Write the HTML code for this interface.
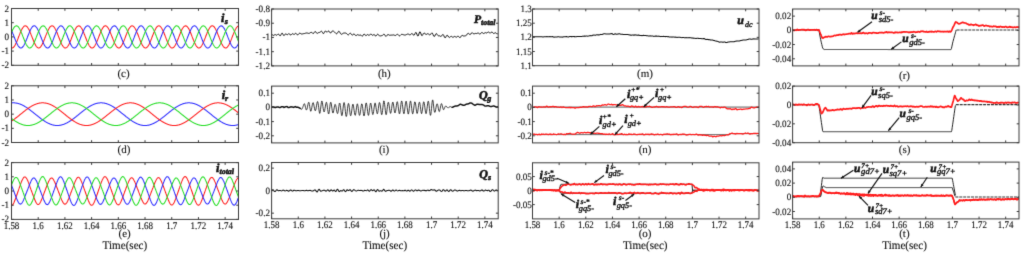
<!DOCTYPE html>
<html><head><meta charset="utf-8">
<style>
html,body{margin:0;padding:0;background:#fff;}
body{width:1024px;height:255px;overflow:hidden;}
svg{display:block;font-family:"Liberation Serif",serif;text-rendering:geometricPrecision;}
</style></head>
<body>
<svg width="1024" height="255" viewBox="0 0 1024 255">
<defs><filter id="bl" x="0" y="0" width="1024" height="255" filterUnits="userSpaceOnUse" color-interpolation-filters="sRGB"><feConvolveMatrix order="3" kernelMatrix="0.01134 0.08382 0.01134 0.08382 0.61935 0.08382 0.01134 0.08382 0.01134" edgeMode="duplicate"/></filter><clipPath id="clip00"><rect x="11.50" y="8.50" width="227.00" height="56.80"/></clipPath><clipPath id="clip01"><rect x="11.50" y="85.80" width="227.00" height="56.70"/></clipPath><clipPath id="clip02"><rect x="11.50" y="162.60" width="227.00" height="56.80"/></clipPath><clipPath id="clip10"><rect x="271.60" y="9.00" width="226.60" height="56.90"/></clipPath><clipPath id="clip11"><rect x="271.60" y="86.10" width="226.60" height="56.80"/></clipPath><clipPath id="clip12"><rect x="271.60" y="162.50" width="226.60" height="56.30"/></clipPath><clipPath id="clip20"><rect x="532.50" y="9.00" width="226.50" height="56.70"/></clipPath><clipPath id="clip21"><rect x="532.50" y="86.10" width="226.50" height="56.80"/></clipPath><clipPath id="clip22"><rect x="532.50" y="162.80" width="226.50" height="56.10"/></clipPath><clipPath id="clip30"><rect x="792.60" y="9.00" width="226.40" height="56.90"/></clipPath><clipPath id="clip31"><rect x="792.60" y="86.10" width="226.40" height="56.60"/></clipPath><clipPath id="clip32"><rect x="792.60" y="162.10" width="226.40" height="56.80"/></clipPath></defs>
<g filter="url(#bl)">
<rect width="1024" height="255" fill="#fff"/>
<g clip-path="url(#clip00)">
<polyline points="11.5,47.9 11.8,48.0 12.0,48.0 12.3,47.9 12.5,47.9 12.8,47.8 13.0,47.6 13.3,47.5 13.5,47.2 13.8,47.0 14.0,46.7 14.3,46.4 14.5,46.0 14.8,45.6 15.0,45.2 15.3,44.7 15.5,44.3 15.8,43.8 16.0,43.2 16.3,42.7 16.6,42.1 16.8,41.5 17.1,40.9 17.3,40.3 17.6,39.7 17.8,39.0 18.1,38.4 18.3,37.7 18.6,37.1 18.8,36.4 19.1,35.7 19.3,35.1 19.6,34.4 19.8,33.8 20.1,33.2 20.3,32.6 20.6,32.0 20.8,31.4 21.1,30.8 21.3,30.3 21.6,29.8 21.9,29.3 22.1,28.8 22.4,28.4 22.6,28.0 22.9,27.6 23.1,27.3 23.4,27.0 23.6,26.7 23.9,26.4 24.1,26.2 24.4,26.1 24.6,26.0 24.9,25.9 25.1,25.8 25.4,25.8 25.6,25.9 25.9,25.9 26.1,26.0 26.4,26.2 26.7,26.4 26.9,26.6 27.2,26.9 27.4,27.1 27.7,27.5 27.9,27.8 28.2,28.2 28.4,28.7 28.7,29.1 28.9,29.6 29.2,30.1 29.4,30.6 29.7,31.2 29.9,31.8 30.2,32.4 30.4,33.0 30.7,33.6 30.9,34.2 31.2,34.9 31.4,35.5 31.7,36.2 32.0,36.8 32.2,37.5 32.5,38.1 32.7,38.8 33.0,39.4 33.2,40.1 33.5,40.7 33.7,41.3 34.0,41.9 34.2,42.5 34.5,43.0 34.7,43.6 35.0,44.1 35.2,44.6 35.5,45.0 35.7,45.5 36.0,45.9 36.2,46.2 36.5,46.6 36.8,46.9 37.0,47.1 37.3,47.4 37.5,47.6 37.8,47.7 38.0,47.8 38.3,47.9 38.5,48.0 38.8,48.0 39.0,47.9 39.3,47.9 39.5,47.7 39.8,47.6 40.0,47.4 40.3,47.2 40.5,46.9 40.8,46.6 41.0,46.3 41.3,45.9 41.5,45.5 41.8,45.1 42.1,44.6 42.3,44.1 42.6,43.6 42.8,43.1 43.1,42.5 43.3,42.0 43.6,41.4 43.8,40.8 44.1,40.1 44.3,39.5 44.6,38.9 44.8,38.2 45.1,37.6 45.3,36.9 45.6,36.2 45.8,35.6 46.1,34.9 46.3,34.3 46.6,33.7 46.9,33.0 47.1,32.4 47.4,31.8 47.6,31.3 47.9,30.7 48.1,30.2 48.4,29.7 48.6,29.2 48.9,28.7 49.1,28.3 49.4,27.9 49.6,27.5 49.9,27.2 50.1,26.9 50.4,26.6 50.6,26.4 50.9,26.2 51.1,26.1 51.4,25.9 51.6,25.9 51.9,25.8 52.2,25.8 52.4,25.9 52.7,26.0 52.9,26.1 53.2,26.2 53.4,26.4 53.7,26.7 53.9,26.9 54.2,27.2 54.4,27.6 54.7,27.9 54.9,28.3 55.2,28.8 55.4,29.2 55.7,29.7 55.9,30.2 56.2,30.8 56.4,31.3 56.7,31.9 57.0,32.5 57.2,33.1 57.5,33.7 57.7,34.4 58.0,35.0 58.2,35.7 58.5,36.3 58.7,37.0 59.0,37.6 59.2,38.3 59.5,38.9 59.7,39.6 60.0,40.2 60.2,40.8 60.5,41.4 60.7,42.0 61.0,42.6 61.2,43.2 61.5,43.7 61.7,44.2 62.0,44.7 62.3,45.1 62.5,45.6 62.8,46.0 63.0,46.3 63.3,46.6 63.5,46.9 63.8,47.2 64.0,47.4 64.3,47.6 64.5,47.8 64.8,47.9 65.0,47.9 65.3,48.0 65.5,48.0 65.8,47.9 66.0,47.8 66.3,47.7 66.5,47.6 66.8,47.4 67.1,47.1 67.3,46.8 67.6,46.5 67.8,46.2 68.1,45.8 68.3,45.4 68.6,45.0 68.8,44.5 69.1,44.0 69.3,43.5 69.6,43.0 69.8,42.4 70.1,41.8 70.3,41.2 70.6,40.6 70.8,40.0 71.1,39.4 71.3,38.7 71.6,38.1 71.8,37.4 72.1,36.7 72.4,36.1 72.6,35.4 72.9,34.8 73.1,34.1 73.4,33.5 73.6,32.9 73.9,32.3 74.1,31.7 74.4,31.1 74.6,30.6 74.9,30.0 75.1,29.5 75.4,29.1 75.6,28.6 75.9,28.2 76.1,27.8 76.4,27.4 76.6,27.1 76.9,26.8 77.2,26.6 77.4,26.4 77.7,26.2 77.9,26.0 78.2,25.9 78.4,25.9 78.7,25.8 78.9,25.8 79.2,25.9 79.4,26.0 79.7,26.1 79.9,26.3 80.2,26.5 80.4,26.7 80.7,27.0 80.9,27.3 81.2,27.6 81.4,28.0 81.7,28.4 81.9,28.9 82.2,29.3 82.5,29.8 82.7,30.4 83.0,30.9 83.2,31.5 83.5,32.0 83.7,32.6 84.0,33.3 84.2,33.9 84.5,34.5 84.7,35.2 85.0,35.8 85.2,36.5 85.5,37.1 85.7,37.8 86.0,38.4 86.2,39.1 86.5,39.7 86.7,40.4 87.0,41.0 87.3,41.6 87.5,42.2 87.8,42.7 88.0,43.3 88.3,43.8 88.5,44.3 88.8,44.8 89.0,45.2 89.3,45.7 89.5,46.0 89.8,46.4 90.0,46.7 90.3,47.0 90.5,47.3 90.8,47.5 91.0,47.7 91.3,47.8 91.5,47.9 91.8,48.0 92.0,48.0 92.3,48.0 92.6,47.9 92.8,47.8 93.1,47.7 93.3,47.5 93.6,47.3 93.8,47.1 94.1,46.8 94.3,46.5 94.6,46.1 94.8,45.7 95.1,45.3 95.3,44.9 95.6,44.4 95.8,43.9 96.1,43.4 96.3,42.8 96.6,42.3 96.8,41.7 97.1,41.1 97.4,40.5 97.6,39.8 97.9,39.2 98.1,38.6 98.4,37.9 98.6,37.3 98.9,36.6 99.1,35.9 99.4,35.3 99.6,34.6 99.9,34.0 100.1,33.4 100.4,32.7 100.6,32.1 100.9,31.6 101.1,31.0 101.4,30.4 101.6,29.9 101.9,29.4 102.1,29.0 102.4,28.5 102.7,28.1 102.9,27.7 103.2,27.4 103.4,27.0 103.7,26.8 103.9,26.5 104.2,26.3 104.4,26.1 104.7,26.0 104.9,25.9 105.2,25.8 105.4,25.8 105.7,25.8 105.9,25.9 106.2,26.0 106.4,26.1 106.7,26.3 106.9,26.5 107.2,26.8 107.5,27.1 107.7,27.4 108.0,27.7 108.2,28.1 108.5,28.5 108.7,29.0 109.0,29.5 109.2,30.0 109.5,30.5 109.7,31.0 110.0,31.6 110.2,32.2 110.5,32.8 110.7,33.4 111.0,34.0 111.2,34.7 111.5,35.3 111.7,36.0 112.0,36.6 112.2,37.3 112.5,37.9 112.8,38.6 113.0,39.2 113.3,39.9 113.5,40.5 113.8,41.1 114.0,41.7 114.3,42.3 114.5,42.9 114.8,43.4 115.0,43.9 115.3,44.4 115.5,44.9 115.8,45.3 116.0,45.8 116.3,46.1 116.5,46.5 116.8,46.8 117.0,47.1 117.3,47.3 117.6,47.5 117.8,47.7 118.1,47.8 118.3,47.9 118.6,48.0 118.8,48.0 119.1,48.0 119.3,47.9 119.6,47.8 119.8,47.6 120.1,47.5 120.3,47.2 120.6,47.0 120.8,46.7 121.1,46.4 121.3,46.0 121.6,45.6 121.8,45.2 122.1,44.8 122.3,44.3 122.6,43.8 122.9,43.3 123.1,42.7 123.4,42.1 123.6,41.6 123.9,40.9 124.1,40.3 124.4,39.7 124.6,39.1 124.9,38.4 125.1,37.8 125.4,37.1 125.6,36.4 125.9,35.8 126.1,35.1 126.4,34.5 126.6,33.8 126.9,33.2 127.1,32.6 127.4,32.0 127.7,31.4 127.9,30.9 128.2,30.3 128.4,29.8 128.7,29.3 128.9,28.8 129.2,28.4 129.4,28.0 129.7,27.6 129.9,27.3 130.2,27.0 130.4,26.7 130.7,26.5 130.9,26.3 131.2,26.1 131.4,26.0 131.7,25.9 131.9,25.8 132.2,25.8 132.4,25.9 132.7,25.9 133.0,26.0 133.2,26.2 133.5,26.4 133.7,26.6 134.0,26.8 134.2,27.1 134.5,27.5 134.7,27.8 135.0,28.2 135.2,28.6 135.5,29.1 135.7,29.6 136.0,30.1 136.2,30.6 136.5,31.2 136.7,31.7 137.0,32.3 137.2,32.9 137.5,33.5 137.8,34.2 138.0,34.8 138.3,35.5 138.5,36.1 138.8,36.8 139.0,37.4 139.3,38.1 139.5,38.7 139.8,39.4 140.0,40.0 140.3,40.7 140.5,41.3 140.8,41.9 141.0,42.4 141.3,43.0 141.5,43.5 141.8,44.1 142.0,44.5 142.3,45.0 142.5,45.4 142.8,45.8 143.1,46.2 143.3,46.6 143.6,46.9 143.8,47.1 144.1,47.4 144.3,47.6 144.6,47.7 144.8,47.8 145.1,47.9 145.3,48.0 145.6,48.0 145.8,47.9 146.1,47.9 146.3,47.8 146.6,47.6 146.8,47.4 147.1,47.2 147.3,46.9 147.6,46.6 147.9,46.3 148.1,45.9 148.4,45.5 148.6,45.1 148.9,44.7 149.1,44.2 149.4,43.7 149.6,43.1 149.9,42.6 150.1,42.0 150.4,41.4 150.6,40.8 150.9,40.2 151.1,39.5 151.4,38.9 151.6,38.3 151.9,37.6 152.1,36.9 152.4,36.3 152.6,35.6 152.9,35.0 153.2,34.3 153.4,33.7 153.7,33.1 153.9,32.5 154.2,31.9 154.4,31.3 154.7,30.7 154.9,30.2 155.2,29.7 155.4,29.2 155.7,28.7 155.9,28.3 156.2,27.9 156.4,27.5 156.7,27.2 156.9,26.9 157.2,26.6 157.4,26.4 157.7,26.2 158.0,26.1 158.2,25.9 158.5,25.9 158.7,25.8 159.0,25.8 159.2,25.9 159.5,25.9 159.7,26.1 160.0,26.2 160.2,26.4 160.5,26.6 160.7,26.9 161.0,27.2 161.2,27.5 161.5,27.9 161.7,28.3 162.0,28.7 162.2,29.2 162.5,29.7 162.7,30.2 163.0,30.7 163.3,31.3 163.5,31.9 163.8,32.5 164.0,33.1 164.3,33.7 164.5,34.3 164.8,35.0 165.0,35.6 165.3,36.3 165.5,36.9 165.8,37.6 166.0,38.2 166.3,38.9 166.5,39.5 166.8,40.2 167.0,40.8 167.3,41.4 167.5,42.0 167.8,42.6 168.1,43.1 168.3,43.7 168.6,44.2 168.8,44.7 169.1,45.1 169.3,45.5 169.6,45.9 169.8,46.3 170.1,46.6 170.3,46.9 170.6,47.2 170.8,47.4 171.1,47.6 171.3,47.8 171.6,47.9 171.8,47.9 172.1,48.0 172.3,48.0 172.6,47.9 172.8,47.8 173.1,47.7 173.4,47.6 173.6,47.4 173.9,47.1 174.1,46.9 174.4,46.6 174.6,46.2 174.9,45.8 175.1,45.4 175.4,45.0 175.6,44.5 175.9,44.1 176.1,43.5 176.4,43.0 176.6,42.4 176.9,41.9 177.1,41.3 177.4,40.7 177.6,40.0 177.9,39.4 178.2,38.8 178.4,38.1 178.7,37.4 178.9,36.8 179.2,36.1 179.4,35.5 179.7,34.8 179.9,34.2 180.2,33.5 180.4,32.9 180.7,32.3 180.9,31.7 181.2,31.2 181.4,30.6 181.7,30.1 181.9,29.6 182.2,29.1 182.4,28.6 182.7,28.2 182.9,27.8 183.2,27.5 183.5,27.1 183.7,26.8 184.0,26.6 184.2,26.4 184.5,26.2 184.7,26.0 185.0,25.9 185.2,25.9 185.5,25.8 185.7,25.8 186.0,25.9 186.2,26.0 186.5,26.1 186.7,26.3 187.0,26.5 187.2,26.7 187.5,27.0 187.7,27.3 188.0,27.6 188.3,28.0 188.5,28.4 188.8,28.8 189.0,29.3 189.3,29.8 189.5,30.3 189.8,30.9 190.0,31.4 190.3,32.0 190.5,32.6 190.8,33.2 191.0,33.8 191.3,34.5 191.5,35.1 191.8,35.8 192.0,36.4 192.3,37.1 192.5,37.7 192.8,38.4 193.0,39.1 193.3,39.7 193.6,40.3 193.8,40.9 194.1,41.5 194.3,42.1 194.6,42.7 194.8,43.3 195.1,43.8 195.3,44.3 195.6,44.8 195.8,45.2 196.1,45.6 196.3,46.0 196.6,46.4 196.8,46.7 197.1,47.0 197.3,47.2 197.6,47.5 197.8,47.6 198.1,47.8 198.4,47.9 198.6,48.0 198.9,48.0 199.1,48.0 199.4,47.9 199.6,47.8 199.9,47.7 200.1,47.5 200.4,47.3 200.6,47.1 200.9,46.8 201.1,46.5 201.4,46.1 201.6,45.8 201.9,45.3 202.1,44.9 202.4,44.4 202.6,43.9 202.9,43.4 203.1,42.9 203.4,42.3 203.7,41.7 203.9,41.1 204.2,40.5 204.4,39.9 204.7,39.2 204.9,38.6 205.2,37.9 205.4,37.3 205.7,36.6 205.9,36.0 206.2,35.3 206.4,34.7 206.7,34.0 206.9,33.4 207.2,32.8 207.4,32.2 207.7,31.6 207.9,31.0 208.2,30.5 208.5,30.0 208.7,29.5 209.0,29.0 209.2,28.5 209.5,28.1 209.7,27.7 210.0,27.4 210.2,27.1 210.5,26.8 210.7,26.5 211.0,26.3 211.2,26.1 211.5,26.0 211.7,25.9 212.0,25.8 212.2,25.8 212.5,25.8 212.7,25.9 213.0,26.0 213.2,26.1 213.5,26.3 213.8,26.5 214.0,26.8 214.3,27.0 214.5,27.4 214.8,27.7 215.0,28.1 215.3,28.5 215.5,29.0 215.8,29.4 216.0,29.9 216.3,30.4 216.5,31.0 216.8,31.6 217.0,32.1 217.3,32.7 217.5,33.4 217.8,34.0 218.0,34.6 218.3,35.3 218.6,35.9 218.8,36.6 219.1,37.2 219.3,37.9 219.6,38.6 219.8,39.2 220.1,39.8 220.3,40.5 220.6,41.1 220.8,41.7 221.1,42.3 221.3,42.8 221.6,43.4 221.8,43.9 222.1,44.4 222.3,44.9 222.6,45.3 222.8,45.7 223.1,46.1 223.3,46.5 223.6,46.8 223.9,47.1 224.1,47.3 224.4,47.5 224.6,47.7 224.9,47.8 225.1,47.9 225.4,48.0 225.6,48.0 225.9,48.0 226.1,47.9 226.4,47.8 226.6,47.7 226.9,47.5 227.1,47.3 227.4,47.0 227.6,46.7 227.9,46.4 228.1,46.0 228.4,45.7 228.7,45.2 228.9,44.8 229.2,44.3 229.4,43.8 229.7,43.3 229.9,42.7 230.2,42.2 230.4,41.6 230.7,41.0 230.9,40.4 231.2,39.7 231.4,39.1 231.7,38.4 231.9,37.8 232.2,37.1 232.4,36.5 232.7,35.8 232.9,35.2 233.2,34.5 233.4,33.9 233.7,33.3 234.0,32.6 234.2,32.0 234.5,31.5 234.7,30.9 235.0,30.4 235.2,29.8 235.5,29.3 235.7,28.9 236.0,28.4 236.2,28.0 236.5,27.6 236.7,27.3 237.0,27.0 237.2,26.7 237.5,26.5 237.7,26.3 238.0,26.1 238.2,26.0 238.5,25.9" fill="none" stroke="#ff1a1a" stroke-width="1.05" stroke-linejoin="round" />
<polyline points="11.5,30.4 11.8,30.9 12.0,31.5 12.3,32.1 12.5,32.7 12.8,33.3 13.0,33.9 13.3,34.5 13.5,35.2 13.8,35.8 14.0,36.5 14.3,37.2 14.5,37.8 14.8,38.5 15.0,39.1 15.3,39.8 15.5,40.4 15.8,41.0 16.0,41.6 16.3,42.2 16.6,42.8 16.8,43.3 17.1,43.8 17.3,44.3 17.6,44.8 17.8,45.3 18.1,45.7 18.3,46.1 18.6,46.4 18.8,46.7 19.1,47.0 19.3,47.3 19.6,47.5 19.8,47.7 20.1,47.8 20.3,47.9 20.6,48.0 20.8,48.0 21.1,48.0 21.3,47.9 21.6,47.8 21.9,47.7 22.1,47.5 22.4,47.3 22.6,47.0 22.9,46.8 23.1,46.4 23.4,46.1 23.6,45.7 23.9,45.3 24.1,44.9 24.4,44.4 24.6,43.9 24.9,43.4 25.1,42.8 25.4,42.3 25.6,41.7 25.9,41.1 26.1,40.5 26.4,39.8 26.7,39.2 26.9,38.5 27.2,37.9 27.4,37.2 27.7,36.6 27.9,35.9 28.2,35.3 28.4,34.6 28.7,34.0 28.9,33.3 29.2,32.7 29.4,32.1 29.7,31.5 29.9,31.0 30.2,30.4 30.4,29.9 30.7,29.4 30.9,28.9 31.2,28.5 31.4,28.1 31.7,27.7 32.0,27.3 32.2,27.0 32.5,26.8 32.7,26.5 33.0,26.3 33.2,26.1 33.5,26.0 33.7,25.9 34.0,25.8 34.2,25.8 34.5,25.8 34.7,25.9 35.0,26.0 35.2,26.1 35.5,26.3 35.7,26.5 36.0,26.8 36.2,27.1 36.5,27.4 36.8,27.7 37.0,28.1 37.3,28.5 37.5,29.0 37.8,29.5 38.0,30.0 38.3,30.5 38.5,31.0 38.8,31.6 39.0,32.2 39.3,32.8 39.5,33.4 39.8,34.1 40.0,34.7 40.3,35.3 40.5,36.0 40.8,36.7 41.0,37.3 41.3,38.0 41.5,38.6 41.8,39.3 42.1,39.9 42.3,40.5 42.6,41.1 42.8,41.7 43.1,42.3 43.3,42.9 43.6,43.4 43.8,44.0 44.1,44.4 44.3,44.9 44.6,45.4 44.8,45.8 45.1,46.1 45.3,46.5 45.6,46.8 45.8,47.1 46.1,47.3 46.3,47.5 46.6,47.7 46.9,47.8 47.1,47.9 47.4,48.0 47.6,48.0 47.9,47.9 48.1,47.9 48.4,47.8 48.6,47.6 48.9,47.5 49.1,47.2 49.4,47.0 49.6,46.7 49.9,46.4 50.1,46.0 50.4,45.6 50.6,45.2 50.9,44.7 51.1,44.3 51.4,43.8 51.6,43.2 51.9,42.7 52.2,42.1 52.4,41.5 52.7,40.9 52.9,40.3 53.2,39.7 53.4,39.0 53.7,38.4 53.9,37.7 54.2,37.1 54.4,36.4 54.7,35.8 54.9,35.1 55.2,34.5 55.4,33.8 55.7,33.2 55.9,32.6 56.2,32.0 56.4,31.4 56.7,30.8 57.0,30.3 57.2,29.8 57.5,29.3 57.7,28.8 58.0,28.4 58.2,28.0 58.5,27.6 58.7,27.3 59.0,27.0 59.2,26.7 59.5,26.5 59.7,26.3 60.0,26.1 60.2,26.0 60.5,25.9 60.7,25.8 61.0,25.8 61.2,25.9 61.5,25.9 61.7,26.0 62.0,26.2 62.3,26.4 62.5,26.6 62.8,26.8 63.0,27.1 63.3,27.5 63.5,27.8 63.8,28.2 64.0,28.7 64.3,29.1 64.5,29.6 64.8,30.1 65.0,30.6 65.3,31.2 65.5,31.7 65.8,32.3 66.0,32.9 66.3,33.6 66.5,34.2 66.8,34.8 67.1,35.5 67.3,36.1 67.6,36.8 67.8,37.5 68.1,38.1 68.3,38.8 68.6,39.4 68.8,40.1 69.1,40.7 69.3,41.3 69.6,41.9 69.8,42.5 70.1,43.0 70.3,43.6 70.6,44.1 70.8,44.6 71.1,45.0 71.3,45.5 71.6,45.9 71.8,46.2 72.1,46.6 72.4,46.9 72.6,47.1 72.9,47.4 73.1,47.6 73.4,47.7 73.6,47.8 73.9,47.9 74.1,48.0 74.4,48.0 74.6,47.9 74.9,47.9 75.1,47.7 75.4,47.6 75.6,47.4 75.9,47.2 76.1,46.9 76.4,46.6 76.6,46.3 76.9,45.9 77.2,45.5 77.4,45.1 77.7,44.6 77.9,44.2 78.2,43.6 78.4,43.1 78.7,42.6 78.9,42.0 79.2,41.4 79.4,40.8 79.7,40.2 79.9,39.5 80.2,38.9 80.4,38.2 80.7,37.6 80.9,36.9 81.2,36.3 81.4,35.6 81.7,35.0 81.9,34.3 82.2,33.7 82.5,33.0 82.7,32.4 83.0,31.8 83.2,31.3 83.5,30.7 83.7,30.2 84.0,29.7 84.2,29.2 84.5,28.7 84.7,28.3 85.0,27.9 85.2,27.5 85.5,27.2 85.7,26.9 86.0,26.6 86.2,26.4 86.5,26.2 86.7,26.1 87.0,25.9 87.3,25.9 87.5,25.8 87.8,25.8 88.0,25.9 88.3,25.9 88.5,26.1 88.8,26.2 89.0,26.4 89.3,26.6 89.5,26.9 89.8,27.2 90.0,27.6 90.3,27.9 90.5,28.3 90.8,28.8 91.0,29.2 91.3,29.7 91.5,30.2 91.8,30.8 92.0,31.3 92.3,31.9 92.6,32.5 92.8,33.1 93.1,33.7 93.3,34.4 93.6,35.0 93.8,35.6 94.1,36.3 94.3,37.0 94.6,37.6 94.8,38.3 95.1,38.9 95.3,39.6 95.6,40.2 95.8,40.8 96.1,41.4 96.3,42.0 96.6,42.6 96.8,43.2 97.1,43.7 97.4,44.2 97.6,44.7 97.9,45.1 98.1,45.6 98.4,45.9 98.6,46.3 98.9,46.6 99.1,46.9 99.4,47.2 99.6,47.4 99.9,47.6 100.1,47.8 100.4,47.9 100.6,47.9 100.9,48.0 101.1,48.0 101.4,47.9 101.6,47.8 101.9,47.7 102.1,47.6 102.4,47.4 102.7,47.1 102.9,46.9 103.2,46.5 103.4,46.2 103.7,45.8 103.9,45.4 104.2,45.0 104.4,44.5 104.7,44.0 104.9,43.5 105.2,43.0 105.4,42.4 105.7,41.8 105.9,41.2 106.2,40.6 106.4,40.0 106.7,39.4 106.9,38.7 107.2,38.1 107.5,37.4 107.7,36.8 108.0,36.1 108.2,35.4 108.5,34.8 108.7,34.2 109.0,33.5 109.2,32.9 109.5,32.3 109.7,31.7 110.0,31.1 110.2,30.6 110.5,30.1 110.7,29.6 111.0,29.1 111.2,28.6 111.5,28.2 111.7,27.8 112.0,27.4 112.2,27.1 112.5,26.8 112.8,26.6 113.0,26.4 113.3,26.2 113.5,26.0 113.8,25.9 114.0,25.9 114.3,25.8 114.5,25.8 114.8,25.9 115.0,26.0 115.3,26.1 115.5,26.3 115.8,26.5 116.0,26.7 116.3,27.0 116.5,27.3 116.8,27.6 117.0,28.0 117.3,28.4 117.6,28.9 117.8,29.3 118.1,29.8 118.3,30.3 118.6,30.9 118.8,31.4 119.1,32.0 119.3,32.6 119.6,33.2 119.8,33.9 120.1,34.5 120.3,35.2 120.6,35.8 120.8,36.5 121.1,37.1 121.3,37.8 121.6,38.4 121.8,39.1 122.1,39.7 122.3,40.3 122.6,41.0 122.9,41.6 123.1,42.2 123.4,42.7 123.6,43.3 123.9,43.8 124.1,44.3 124.4,44.8 124.6,45.2 124.9,45.6 125.1,46.0 125.4,46.4 125.6,46.7 125.9,47.0 126.1,47.3 126.4,47.5 126.6,47.6 126.9,47.8 127.1,47.9 127.4,48.0 127.7,48.0 127.9,48.0 128.2,47.9 128.4,47.8 128.7,47.7 128.9,47.5 129.2,47.3 129.4,47.1 129.7,46.8 129.9,46.5 130.2,46.1 130.4,45.7 130.7,45.3 130.9,44.9 131.2,44.4 131.4,43.9 131.7,43.4 131.9,42.9 132.2,42.3 132.4,41.7 132.7,41.1 133.0,40.5 133.2,39.9 133.5,39.2 133.7,38.6 134.0,37.9 134.2,37.3 134.5,36.6 134.7,35.9 135.0,35.3 135.2,34.6 135.5,34.0 135.7,33.4 136.0,32.8 136.2,32.2 136.5,31.6 136.7,31.0 137.0,30.5 137.2,29.9 137.5,29.4 137.8,29.0 138.0,28.5 138.3,28.1 138.5,27.7 138.8,27.4 139.0,27.0 139.3,26.8 139.5,26.5 139.8,26.3 140.0,26.1 140.3,26.0 140.5,25.9 140.8,25.8 141.0,25.8 141.3,25.8 141.5,25.9 141.8,26.0 142.0,26.1 142.3,26.3 142.5,26.5 142.8,26.8 143.1,27.1 143.3,27.4 143.6,27.7 143.8,28.1 144.1,28.5 144.3,29.0 144.6,29.4 144.8,29.9 145.1,30.5 145.3,31.0 145.6,31.6 145.8,32.2 146.1,32.8 146.3,33.4 146.6,34.0 146.8,34.7 147.1,35.3 147.3,36.0 147.6,36.6 147.9,37.3 148.1,37.9 148.4,38.6 148.6,39.2 148.9,39.9 149.1,40.5 149.4,41.1 149.6,41.7 149.9,42.3 150.1,42.9 150.4,43.4 150.6,43.9 150.9,44.4 151.1,44.9 151.4,45.3 151.6,45.7 151.9,46.1 152.1,46.5 152.4,46.8 152.6,47.1 152.9,47.3 153.2,47.5 153.4,47.7 153.7,47.8 153.9,47.9 154.2,48.0 154.4,48.0 154.7,48.0 154.9,47.9 155.2,47.8 155.4,47.6 155.7,47.5 155.9,47.3 156.2,47.0 156.4,46.7 156.7,46.4 156.9,46.0 157.2,45.6 157.4,45.2 157.7,44.8 158.0,44.3 158.2,43.8 158.5,43.3 158.7,42.7 159.0,42.2 159.2,41.6 159.5,41.0 159.7,40.3 160.0,39.7 160.2,39.1 160.5,38.4 160.7,37.8 161.0,37.1 161.2,36.5 161.5,35.8 161.7,35.1 162.0,34.5 162.2,33.9 162.5,33.2 162.7,32.6 163.0,32.0 163.3,31.4 163.5,30.9 163.8,30.3 164.0,29.8 164.3,29.3 164.5,28.9 164.8,28.4 165.0,28.0 165.3,27.6 165.5,27.3 165.8,27.0 166.0,26.7 166.3,26.5 166.5,26.3 166.8,26.1 167.0,26.0 167.3,25.9 167.5,25.8 167.8,25.8 168.1,25.9 168.3,25.9 168.6,26.0 168.8,26.2 169.1,26.4 169.3,26.6 169.6,26.8 169.8,27.1 170.1,27.5 170.3,27.8 170.6,28.2 170.8,28.6 171.1,29.1 171.3,29.6 171.6,30.1 171.8,30.6 172.1,31.1 172.3,31.7 172.6,32.3 172.8,32.9 173.1,33.5 173.4,34.2 173.6,34.8 173.9,35.5 174.1,36.1 174.4,36.8 174.6,37.4 174.9,38.1 175.1,38.7 175.4,39.4 175.6,40.0 175.9,40.6 176.1,41.3 176.4,41.9 176.6,42.4 176.9,43.0 177.1,43.5 177.4,44.0 177.6,44.5 177.9,45.0 178.2,45.4 178.4,45.8 178.7,46.2 178.9,46.5 179.2,46.9 179.4,47.1 179.7,47.4 179.9,47.6 180.2,47.7 180.4,47.8 180.7,47.9 180.9,48.0 181.2,48.0 181.4,47.9 181.7,47.9 181.9,47.8 182.2,47.6 182.4,47.4 182.7,47.2 182.9,46.9 183.2,46.6 183.5,46.3 183.7,45.9 184.0,45.5 184.2,45.1 184.5,44.7 184.7,44.2 185.0,43.7 185.2,43.1 185.5,42.6 185.7,42.0 186.0,41.4 186.2,40.8 186.5,40.2 186.7,39.6 187.0,38.9 187.2,38.3 187.5,37.6 187.7,37.0 188.0,36.3 188.3,35.6 188.5,35.0 188.8,34.3 189.0,33.7 189.3,33.1 189.5,32.5 189.8,31.9 190.0,31.3 190.3,30.7 190.5,30.2 190.8,29.7 191.0,29.2 191.3,28.8 191.5,28.3 191.8,27.9 192.0,27.5 192.3,27.2 192.5,26.9 192.8,26.6 193.0,26.4 193.3,26.2 193.6,26.1 193.8,25.9 194.1,25.9 194.3,25.8 194.6,25.8 194.8,25.9 195.1,25.9 195.3,26.1 195.6,26.2 195.8,26.4 196.1,26.6 196.3,26.9 196.6,27.2 196.8,27.5 197.1,27.9 197.3,28.3 197.6,28.7 197.8,29.2 198.1,29.7 198.4,30.2 198.6,30.7 198.9,31.3 199.1,31.9 199.4,32.4 199.6,33.1 199.9,33.7 200.1,34.3 200.4,35.0 200.6,35.6 200.9,36.3 201.1,36.9 201.4,37.6 201.6,38.2 201.9,38.9 202.1,39.5 202.4,40.2 202.6,40.8 202.9,41.4 203.1,42.0 203.4,42.6 203.7,43.1 203.9,43.7 204.2,44.2 204.4,44.6 204.7,45.1 204.9,45.5 205.2,45.9 205.4,46.3 205.7,46.6 205.9,46.9 206.2,47.2 206.4,47.4 206.7,47.6 206.9,47.8 207.2,47.9 207.4,47.9 207.7,48.0 207.9,48.0 208.2,47.9 208.5,47.8 208.7,47.7 209.0,47.6 209.2,47.4 209.5,47.1 209.7,46.9 210.0,46.6 210.2,46.2 210.5,45.9 210.7,45.5 211.0,45.0 211.2,44.6 211.5,44.1 211.7,43.6 212.0,43.0 212.2,42.5 212.5,41.9 212.7,41.3 213.0,40.7 213.2,40.0 213.5,39.4 213.8,38.8 214.0,38.1 214.3,37.5 214.5,36.8 214.8,36.1 215.0,35.5 215.3,34.8 215.5,34.2 215.8,33.6 216.0,32.9 216.3,32.3 216.5,31.7 216.8,31.2 217.0,30.6 217.3,30.1 217.5,29.6 217.8,29.1 218.0,28.6 218.3,28.2 218.6,27.8 218.8,27.5 219.1,27.1 219.3,26.8 219.6,26.6 219.8,26.4 220.1,26.2 220.3,26.0 220.6,25.9 220.8,25.9 221.1,25.8 221.3,25.8 221.6,25.9 221.8,26.0 222.1,26.1 222.3,26.3 222.6,26.5 222.8,26.7 223.1,27.0 223.3,27.3 223.6,27.6 223.9,28.0 224.1,28.4 224.4,28.8 224.6,29.3 224.9,29.8 225.1,30.3 225.4,30.8 225.6,31.4 225.9,32.0 226.1,32.6 226.4,33.2 226.6,33.8 226.9,34.5 227.1,35.1 227.4,35.8 227.6,36.4 227.9,37.1 228.1,37.7 228.4,38.4 228.7,39.0 228.9,39.7 229.2,40.3 229.4,40.9 229.7,41.5 229.9,42.1 230.2,42.7 230.4,43.2 230.7,43.8 230.9,44.3 231.2,44.8 231.4,45.2 231.7,45.6 231.9,46.0 232.2,46.4 232.4,46.7 232.7,47.0 232.9,47.2 233.2,47.5 233.4,47.6 233.7,47.8 234.0,47.9 234.2,47.9 234.5,48.0 234.7,48.0 235.0,47.9 235.2,47.8 235.5,47.7 235.7,47.5 236.0,47.3 236.2,47.1 236.5,46.8 236.7,46.5 237.0,46.1 237.2,45.8 237.5,45.4 237.7,44.9 238.0,44.4 238.2,43.9 238.5,43.4" fill="none" stroke="#2a2aff" stroke-width="1.05" stroke-linejoin="round" />
<polyline points="11.5,32.4 11.8,31.8 12.0,31.2 12.3,30.7 12.5,30.2 12.8,29.6 13.0,29.2 13.3,28.7 13.5,28.3 13.8,27.9 14.0,27.5 14.3,27.2 14.5,26.9 14.8,26.6 15.0,26.4 15.3,26.2 15.5,26.1 15.8,25.9 16.0,25.9 16.3,25.8 16.6,25.8 16.8,25.9 17.1,26.0 17.3,26.1 17.6,26.2 17.8,26.4 18.1,26.7 18.3,26.9 18.6,27.2 18.8,27.6 19.1,27.9 19.3,28.3 19.6,28.8 19.8,29.2 20.1,29.7 20.3,30.2 20.6,30.8 20.8,31.3 21.1,31.9 21.3,32.5 21.6,33.1 21.9,33.7 22.1,34.4 22.4,35.0 22.6,35.7 22.9,36.3 23.1,37.0 23.4,37.6 23.6,38.3 23.9,38.9 24.1,39.6 24.4,40.2 24.6,40.8 24.9,41.5 25.1,42.0 25.4,42.6 25.6,43.2 25.9,43.7 26.1,44.2 26.4,44.7 26.7,45.1 26.9,45.6 27.2,46.0 27.4,46.3 27.7,46.7 27.9,46.9 28.2,47.2 28.4,47.4 28.7,47.6 28.9,47.8 29.2,47.9 29.4,47.9 29.7,48.0 29.9,48.0 30.2,47.9 30.4,47.8 30.7,47.7 30.9,47.5 31.2,47.3 31.4,47.1 31.7,46.8 32.0,46.5 32.2,46.2 32.5,45.8 32.7,45.4 33.0,45.0 33.2,44.5 33.5,44.0 33.7,43.5 34.0,43.0 34.2,42.4 34.5,41.8 34.7,41.2 35.0,40.6 35.2,40.0 35.5,39.3 35.7,38.7 36.0,38.0 36.2,37.4 36.5,36.7 36.8,36.1 37.0,35.4 37.3,34.8 37.5,34.1 37.8,33.5 38.0,32.9 38.3,32.3 38.5,31.7 38.8,31.1 39.0,30.6 39.3,30.0 39.5,29.5 39.8,29.1 40.0,28.6 40.3,28.2 40.5,27.8 40.8,27.4 41.0,27.1 41.3,26.8 41.5,26.6 41.8,26.3 42.1,26.2 42.3,26.0 42.6,25.9 42.8,25.9 43.1,25.8 43.3,25.8 43.6,25.9 43.8,26.0 44.1,26.1 44.3,26.3 44.6,26.5 44.8,26.7 45.1,27.0 45.3,27.3 45.6,27.7 45.8,28.0 46.1,28.4 46.3,28.9 46.6,29.3 46.9,29.8 47.1,30.4 47.4,30.9 47.6,31.5 47.9,32.0 48.1,32.6 48.4,33.3 48.6,33.9 48.9,34.5 49.1,35.2 49.4,35.8 49.6,36.5 49.9,37.1 50.1,37.8 50.4,38.5 50.6,39.1 50.9,39.7 51.1,40.4 51.4,41.0 51.6,41.6 51.9,42.2 52.2,42.8 52.4,43.3 52.7,43.8 52.9,44.3 53.2,44.8 53.4,45.2 53.7,45.7 53.9,46.1 54.2,46.4 54.4,46.7 54.7,47.0 54.9,47.3 55.2,47.5 55.4,47.7 55.7,47.8 55.9,47.9 56.2,48.0 56.4,48.0 56.7,48.0 57.0,47.9 57.2,47.8 57.5,47.7 57.7,47.5 58.0,47.3 58.2,47.1 58.5,46.8 58.7,46.5 59.0,46.1 59.2,45.7 59.5,45.3 59.7,44.9 60.0,44.4 60.2,43.9 60.5,43.4 60.7,42.8 61.0,42.3 61.2,41.7 61.5,41.1 61.7,40.5 62.0,39.8 62.3,39.2 62.5,38.5 62.8,37.9 63.0,37.2 63.3,36.6 63.5,35.9 63.8,35.3 64.0,34.6 64.3,34.0 64.5,33.4 64.8,32.7 65.0,32.1 65.3,31.5 65.5,31.0 65.8,30.4 66.0,29.9 66.3,29.4 66.5,28.9 66.8,28.5 67.1,28.1 67.3,27.7 67.6,27.4 67.8,27.0 68.1,26.8 68.3,26.5 68.6,26.3 68.8,26.1 69.1,26.0 69.3,25.9 69.6,25.8 69.8,25.8 70.1,25.8 70.3,25.9 70.6,26.0 70.8,26.1 71.1,26.3 71.3,26.5 71.6,26.8 71.8,27.1 72.1,27.4 72.4,27.7 72.6,28.1 72.9,28.5 73.1,29.0 73.4,29.5 73.6,30.0 73.9,30.5 74.1,31.0 74.4,31.6 74.6,32.2 74.9,32.8 75.1,33.4 75.4,34.0 75.6,34.7 75.9,35.3 76.1,36.0 76.4,36.6 76.6,37.3 76.9,38.0 77.2,38.6 77.4,39.3 77.7,39.9 77.9,40.5 78.2,41.1 78.4,41.7 78.7,42.3 78.9,42.9 79.2,43.4 79.4,43.9 79.7,44.4 79.9,44.9 80.2,45.3 80.4,45.8 80.7,46.1 80.9,46.5 81.2,46.8 81.4,47.1 81.7,47.3 81.9,47.5 82.2,47.7 82.5,47.8 82.7,47.9 83.0,48.0 83.2,48.0 83.5,47.9 83.7,47.9 84.0,47.8 84.2,47.6 84.5,47.5 84.7,47.2 85.0,47.0 85.2,46.7 85.5,46.4 85.7,46.0 86.0,45.6 86.2,45.2 86.5,44.8 86.7,44.3 87.0,43.8 87.3,43.3 87.5,42.7 87.8,42.1 88.0,41.5 88.3,40.9 88.5,40.3 88.8,39.7 89.0,39.0 89.3,38.4 89.5,37.7 89.8,37.1 90.0,36.4 90.3,35.8 90.5,35.1 90.8,34.5 91.0,33.8 91.3,33.2 91.5,32.6 91.8,32.0 92.0,31.4 92.3,30.9 92.6,30.3 92.8,29.8 93.1,29.3 93.3,28.8 93.6,28.4 93.8,28.0 94.1,27.6 94.3,27.3 94.6,27.0 94.8,26.7 95.1,26.5 95.3,26.3 95.6,26.1 95.8,26.0 96.1,25.9 96.3,25.8 96.6,25.8 96.8,25.9 97.1,25.9 97.4,26.0 97.6,26.2 97.9,26.4 98.1,26.6 98.4,26.8 98.6,27.1 98.9,27.5 99.1,27.8 99.4,28.2 99.6,28.6 99.9,29.1 100.1,29.6 100.4,30.1 100.6,30.6 100.9,31.2 101.1,31.7 101.4,32.3 101.6,32.9 101.9,33.6 102.1,34.2 102.4,34.8 102.7,35.5 102.9,36.1 103.2,36.8 103.4,37.5 103.7,38.1 103.9,38.8 104.2,39.4 104.4,40.0 104.7,40.7 104.9,41.3 105.2,41.9 105.4,42.5 105.7,43.0 105.9,43.5 106.2,44.1 106.4,44.6 106.7,45.0 106.9,45.4 107.2,45.9 107.5,46.2 107.7,46.6 108.0,46.9 108.2,47.1 108.5,47.4 108.7,47.6 109.0,47.7 109.2,47.8 109.5,47.9 109.7,48.0 110.0,48.0 110.2,47.9 110.5,47.9 110.7,47.8 111.0,47.6 111.2,47.4 111.5,47.2 111.7,46.9 112.0,46.6 112.2,46.3 112.5,45.9 112.8,45.5 113.0,45.1 113.3,44.6 113.5,44.2 113.8,43.7 114.0,43.1 114.3,42.6 114.5,42.0 114.8,41.4 115.0,40.8 115.3,40.2 115.5,39.5 115.8,38.9 116.0,38.2 116.3,37.6 116.5,36.9 116.8,36.3 117.0,35.6 117.3,35.0 117.6,34.3 117.8,33.7 118.1,33.1 118.3,32.5 118.6,31.9 118.8,31.3 119.1,30.7 119.3,30.2 119.6,29.7 119.8,29.2 120.1,28.7 120.3,28.3 120.6,27.9 120.8,27.5 121.1,27.2 121.3,26.9 121.6,26.6 121.8,26.4 122.1,26.2 122.3,26.1 122.6,25.9 122.9,25.9 123.1,25.8 123.4,25.8 123.6,25.9 123.9,25.9 124.1,26.1 124.4,26.2 124.6,26.4 124.9,26.6 125.1,26.9 125.4,27.2 125.6,27.5 125.9,27.9 126.1,28.3 126.4,28.7 126.6,29.2 126.9,29.7 127.1,30.2 127.4,30.7 127.7,31.3 127.9,31.9 128.2,32.5 128.4,33.1 128.7,33.7 128.9,34.3 129.2,35.0 129.4,35.6 129.7,36.3 129.9,36.9 130.2,37.6 130.4,38.3 130.7,38.9 130.9,39.6 131.2,40.2 131.4,40.8 131.7,41.4 131.9,42.0 132.2,42.6 132.4,43.1 132.7,43.7 133.0,44.2 133.2,44.7 133.5,45.1 133.7,45.5 134.0,45.9 134.2,46.3 134.5,46.6 134.7,46.9 135.0,47.2 135.2,47.4 135.5,47.6 135.7,47.8 136.0,47.9 136.2,47.9 136.5,48.0 136.7,48.0 137.0,47.9 137.2,47.8 137.5,47.7 137.8,47.6 138.0,47.4 138.3,47.1 138.5,46.9 138.8,46.6 139.0,46.2 139.3,45.8 139.5,45.4 139.8,45.0 140.0,44.5 140.3,44.0 140.5,43.5 140.8,43.0 141.0,42.4 141.3,41.9 141.5,41.3 141.8,40.6 142.0,40.0 142.3,39.4 142.5,38.7 142.8,38.1 143.1,37.4 143.3,36.8 143.6,36.1 143.8,35.5 144.1,34.8 144.3,34.2 144.6,33.5 144.8,32.9 145.1,32.3 145.3,31.7 145.6,31.1 145.8,30.6 146.1,30.1 146.3,29.6 146.6,29.1 146.8,28.6 147.1,28.2 147.3,27.8 147.6,27.5 147.9,27.1 148.1,26.8 148.4,26.6 148.6,26.4 148.9,26.2 149.1,26.0 149.4,25.9 149.6,25.9 149.9,25.8 150.1,25.8 150.4,25.9 150.6,26.0 150.9,26.1 151.1,26.3 151.4,26.5 151.6,26.7 151.9,27.0 152.1,27.3 152.4,27.6 152.6,28.0 152.9,28.4 153.2,28.9 153.4,29.3 153.7,29.8 153.9,30.3 154.2,30.9 154.4,31.4 154.7,32.0 154.9,32.6 155.2,33.2 155.4,33.9 155.7,34.5 155.9,35.1 156.2,35.8 156.4,36.4 156.7,37.1 156.9,37.8 157.2,38.4 157.4,39.1 157.7,39.7 158.0,40.3 158.2,41.0 158.5,41.6 158.7,42.1 159.0,42.7 159.2,43.3 159.5,43.8 159.7,44.3 160.0,44.8 160.2,45.2 160.5,45.6 160.7,46.0 161.0,46.4 161.2,46.7 161.5,47.0 161.7,47.2 162.0,47.5 162.2,47.6 162.5,47.8 162.7,47.9 163.0,48.0 163.3,48.0 163.5,48.0 163.8,47.9 164.0,47.8 164.3,47.7 164.5,47.5 164.8,47.3 165.0,47.1 165.3,46.8 165.5,46.5 165.8,46.1 166.0,45.7 166.3,45.3 166.5,44.9 166.8,44.4 167.0,43.9 167.3,43.4 167.5,42.9 167.8,42.3 168.1,41.7 168.3,41.1 168.6,40.5 168.8,39.9 169.1,39.2 169.3,38.6 169.6,37.9 169.8,37.3 170.1,36.6 170.3,36.0 170.6,35.3 170.8,34.7 171.1,34.0 171.3,33.4 171.6,32.8 171.8,32.2 172.1,31.6 172.3,31.0 172.6,30.5 172.8,29.9 173.1,29.4 173.4,29.0 173.6,28.5 173.9,28.1 174.1,27.7 174.4,27.4 174.6,27.1 174.9,26.8 175.1,26.5 175.4,26.3 175.6,26.1 175.9,26.0 176.1,25.9 176.4,25.8 176.6,25.8 176.9,25.8 177.1,25.9 177.4,26.0 177.6,26.1 177.9,26.3 178.2,26.5 178.4,26.8 178.7,27.0 178.9,27.4 179.2,27.7 179.4,28.1 179.7,28.5 179.9,29.0 180.2,29.4 180.4,29.9 180.7,30.5 180.9,31.0 181.2,31.6 181.4,32.2 181.7,32.8 181.9,33.4 182.2,34.0 182.4,34.6 182.7,35.3 182.9,35.9 183.2,36.6 183.5,37.3 183.7,37.9 184.0,38.6 184.2,39.2 184.5,39.9 184.7,40.5 185.0,41.1 185.2,41.7 185.5,42.3 185.7,42.8 186.0,43.4 186.2,43.9 186.5,44.4 186.7,44.9 187.0,45.3 187.2,45.7 187.5,46.1 187.7,46.5 188.0,46.8 188.3,47.1 188.5,47.3 188.8,47.5 189.0,47.7 189.3,47.8 189.5,47.9 189.8,48.0 190.0,48.0 190.3,48.0 190.5,47.9 190.8,47.8 191.0,47.6 191.3,47.5 191.5,47.3 191.8,47.0 192.0,46.7 192.3,46.4 192.5,46.0 192.8,45.7 193.0,45.2 193.3,44.8 193.6,44.3 193.8,43.8 194.1,43.3 194.3,42.7 194.6,42.2 194.8,41.6 195.1,41.0 195.3,40.4 195.6,39.7 195.8,39.1 196.1,38.4 196.3,37.8 196.6,37.1 196.8,36.5 197.1,35.8 197.3,35.2 197.6,34.5 197.8,33.9 198.1,33.2 198.4,32.6 198.6,32.0 198.9,31.4 199.1,30.9 199.4,30.3 199.6,29.8 199.9,29.3 200.1,28.9 200.4,28.4 200.6,28.0 200.9,27.6 201.1,27.3 201.4,27.0 201.6,26.7 201.9,26.5 202.1,26.3 202.4,26.1 202.6,26.0 202.9,25.9 203.1,25.8 203.4,25.8 203.7,25.9 203.9,25.9 204.2,26.0 204.4,26.2 204.7,26.4 204.9,26.6 205.2,26.8 205.4,27.1 205.7,27.4 205.9,27.8 206.2,28.2 206.4,28.6 206.7,29.1 206.9,29.5 207.2,30.1 207.4,30.6 207.7,31.1 207.9,31.7 208.2,32.3 208.5,32.9 208.7,33.5 209.0,34.2 209.2,34.8 209.5,35.4 209.7,36.1 210.0,36.8 210.2,37.4 210.5,38.1 210.7,38.7 211.0,39.4 211.2,40.0 211.5,40.6 211.7,41.2 212.0,41.8 212.2,42.4 212.5,43.0 212.7,43.5 213.0,44.0 213.2,44.5 213.5,45.0 213.8,45.4 214.0,45.8 214.3,46.2 214.5,46.5 214.8,46.8 215.0,47.1 215.3,47.4 215.5,47.6 215.8,47.7 216.0,47.8 216.3,47.9 216.5,48.0 216.8,48.0 217.0,47.9 217.3,47.9 217.5,47.8 217.8,47.6 218.0,47.4 218.3,47.2 218.6,46.9 218.8,46.6 219.1,46.3 219.3,46.0 219.6,45.6 219.8,45.1 220.1,44.7 220.3,44.2 220.6,43.7 220.8,43.2 221.1,42.6 221.3,42.0 221.6,41.4 221.8,40.8 222.1,40.2 222.3,39.6 222.6,38.9 222.8,38.3 223.1,37.6 223.3,37.0 223.6,36.3 223.9,35.7 224.1,35.0 224.4,34.4 224.6,33.7 224.9,33.1 225.1,32.5 225.4,31.9 225.6,31.3 225.9,30.8 226.1,30.2 226.4,29.7 226.6,29.2 226.9,28.8 227.1,28.3 227.4,27.9 227.6,27.6 227.9,27.2 228.1,26.9 228.4,26.7 228.7,26.4 228.9,26.2 229.2,26.1 229.4,26.0 229.7,25.9 229.9,25.8 230.2,25.8 230.4,25.9 230.7,25.9 230.9,26.1 231.2,26.2 231.4,26.4 231.7,26.6 231.9,26.9 232.2,27.2 232.4,27.5 232.7,27.9 232.9,28.3 233.2,28.7 233.4,29.2 233.7,29.7 234.0,30.2 234.2,30.7 234.5,31.3 234.7,31.8 235.0,32.4 235.2,33.0 235.5,33.7 235.7,34.3 236.0,34.9 236.2,35.6 236.5,36.3 236.7,36.9 237.0,37.6 237.2,38.2 237.5,38.9 237.7,39.5 238.0,40.2 238.2,40.8 238.5,41.4" fill="none" stroke="#22dd22" stroke-width="1.05" stroke-linejoin="round" />
</g>
<line x1="11.50" y1="65.30" x2="11.50" y2="63.00" stroke="#3a3a3a" stroke-width="1.00"/>
<line x1="11.50" y1="8.50" x2="11.50" y2="10.80" stroke="#3a3a3a" stroke-width="1.00"/>
<line x1="38.21" y1="65.30" x2="38.21" y2="63.00" stroke="#3a3a3a" stroke-width="1.00"/>
<line x1="38.21" y1="8.50" x2="38.21" y2="10.80" stroke="#3a3a3a" stroke-width="1.00"/>
<line x1="64.91" y1="65.30" x2="64.91" y2="63.00" stroke="#3a3a3a" stroke-width="1.00"/>
<line x1="64.91" y1="8.50" x2="64.91" y2="10.80" stroke="#3a3a3a" stroke-width="1.00"/>
<line x1="91.62" y1="65.30" x2="91.62" y2="63.00" stroke="#3a3a3a" stroke-width="1.00"/>
<line x1="91.62" y1="8.50" x2="91.62" y2="10.80" stroke="#3a3a3a" stroke-width="1.00"/>
<line x1="118.32" y1="65.30" x2="118.32" y2="63.00" stroke="#3a3a3a" stroke-width="1.00"/>
<line x1="118.32" y1="8.50" x2="118.32" y2="10.80" stroke="#3a3a3a" stroke-width="1.00"/>
<line x1="145.03" y1="65.30" x2="145.03" y2="63.00" stroke="#3a3a3a" stroke-width="1.00"/>
<line x1="145.03" y1="8.50" x2="145.03" y2="10.80" stroke="#3a3a3a" stroke-width="1.00"/>
<line x1="171.74" y1="65.30" x2="171.74" y2="63.00" stroke="#3a3a3a" stroke-width="1.00"/>
<line x1="171.74" y1="8.50" x2="171.74" y2="10.80" stroke="#3a3a3a" stroke-width="1.00"/>
<line x1="198.44" y1="65.30" x2="198.44" y2="63.00" stroke="#3a3a3a" stroke-width="1.00"/>
<line x1="198.44" y1="8.50" x2="198.44" y2="10.80" stroke="#3a3a3a" stroke-width="1.00"/>
<line x1="225.15" y1="65.30" x2="225.15" y2="63.00" stroke="#3a3a3a" stroke-width="1.00"/>
<line x1="225.15" y1="8.50" x2="225.15" y2="10.80" stroke="#3a3a3a" stroke-width="1.00"/>
<line x1="11.50" y1="8.50" x2="13.80" y2="8.50" stroke="#3a3a3a" stroke-width="1.00"/>
<line x1="238.50" y1="8.50" x2="236.20" y2="8.50" stroke="#3a3a3a" stroke-width="1.00"/>
<g transform="translate(9.10,11.50) scale(0.930,1)">
<text x="0.00" y="0.00" font-size="9.80" text-anchor="end" fill="#111" stroke="#111" stroke-width="0.12">2</text>
</g>
<line x1="11.50" y1="22.70" x2="13.80" y2="22.70" stroke="#3a3a3a" stroke-width="1.00"/>
<line x1="238.50" y1="22.70" x2="236.20" y2="22.70" stroke="#3a3a3a" stroke-width="1.00"/>
<g transform="translate(9.10,25.70) scale(0.930,1)">
<text x="0.00" y="0.00" font-size="9.80" text-anchor="end" fill="#111" stroke="#111" stroke-width="0.12">1</text>
</g>
<line x1="11.50" y1="36.90" x2="13.80" y2="36.90" stroke="#3a3a3a" stroke-width="1.00"/>
<line x1="238.50" y1="36.90" x2="236.20" y2="36.90" stroke="#3a3a3a" stroke-width="1.00"/>
<g transform="translate(9.10,39.90) scale(0.930,1)">
<text x="0.00" y="0.00" font-size="9.80" text-anchor="end" fill="#111" stroke="#111" stroke-width="0.12">0</text>
</g>
<line x1="11.50" y1="51.10" x2="13.80" y2="51.10" stroke="#3a3a3a" stroke-width="1.00"/>
<line x1="238.50" y1="51.10" x2="236.20" y2="51.10" stroke="#3a3a3a" stroke-width="1.00"/>
<g transform="translate(9.10,54.10) scale(0.930,1)">
<text x="0.00" y="0.00" font-size="9.80" text-anchor="end" fill="#111" stroke="#111" stroke-width="0.12">-1</text>
</g>
<line x1="11.50" y1="65.30" x2="13.80" y2="65.30" stroke="#3a3a3a" stroke-width="1.00"/>
<line x1="238.50" y1="65.30" x2="236.20" y2="65.30" stroke="#3a3a3a" stroke-width="1.00"/>
<g transform="translate(9.10,68.30) scale(0.930,1)">
<text x="0.00" y="0.00" font-size="9.80" text-anchor="end" fill="#111" stroke="#111" stroke-width="0.12">-2</text>
</g>
<rect x="11.50" y="8.50" width="227.00" height="56.80" fill="none" stroke="#3a3a3a" stroke-width="1"/>
<g clip-path="url(#clip01)">
<polyline points="11.5,102.9 11.8,102.9 12.0,102.9 12.3,102.8 12.5,102.8 12.8,102.8 13.0,102.8 13.3,102.8 13.5,102.8 13.8,102.8 14.0,102.8 14.3,102.8 14.5,102.8 14.8,102.9 15.0,102.9 15.3,102.9 15.5,102.9 15.8,103.0 16.0,103.0 16.3,103.1 16.6,103.1 16.8,103.2 17.1,103.2 17.3,103.3 17.6,103.3 17.8,103.4 18.1,103.4 18.3,103.5 18.6,103.6 18.8,103.7 19.1,103.7 19.3,103.8 19.6,103.9 19.8,104.0 20.1,104.1 20.3,104.2 20.6,104.3 20.8,104.4 21.1,104.5 21.3,104.6 21.6,104.7 21.9,104.8 22.1,105.0 22.4,105.1 22.6,105.2 22.9,105.3 23.1,105.5 23.4,105.6 23.6,105.7 23.9,105.9 24.1,106.0 24.4,106.2 24.6,106.3 24.9,106.5 25.1,106.6 25.4,106.8 25.6,106.9 25.9,107.1 26.1,107.2 26.4,107.4 26.7,107.6 26.9,107.7 27.2,107.9 27.4,108.1 27.7,108.2 27.9,108.4 28.2,108.6 28.4,108.8 28.7,109.0 28.9,109.1 29.2,109.3 29.4,109.5 29.7,109.7 29.9,109.9 30.2,110.1 30.4,110.3 30.7,110.5 30.9,110.7 31.2,110.9 31.4,111.1 31.7,111.3 32.0,111.5 32.2,111.7 32.5,111.9 32.7,112.1 33.0,112.3 33.2,112.5 33.5,112.7 33.7,112.9 34.0,113.1 34.2,113.3 34.5,113.5 34.7,113.7 35.0,113.9 35.2,114.1 35.5,114.3 35.7,114.5 36.0,114.7 36.2,114.9 36.5,115.1 36.8,115.3 37.0,115.5 37.3,115.7 37.5,115.9 37.8,116.1 38.0,116.3 38.3,116.5 38.5,116.7 38.8,116.9 39.0,117.1 39.3,117.3 39.5,117.5 39.8,117.7 40.0,117.9 40.3,118.1 40.5,118.3 40.8,118.5 41.0,118.7 41.3,118.9 41.5,119.1 41.8,119.2 42.1,119.4 42.3,119.6 42.6,119.8 42.8,120.0 43.1,120.1 43.3,120.3 43.6,120.5 43.8,120.6 44.1,120.8 44.3,121.0 44.6,121.1 44.8,121.3 45.1,121.5 45.3,121.6 45.6,121.8 45.8,121.9 46.1,122.1 46.3,122.2 46.6,122.4 46.9,122.5 47.1,122.6 47.4,122.8 47.6,122.9 47.9,123.0 48.1,123.2 48.4,123.3 48.6,123.4 48.9,123.5 49.1,123.6 49.4,123.7 49.6,123.8 49.9,124.0 50.1,124.1 50.4,124.2 50.6,124.2 50.9,124.3 51.1,124.4 51.4,124.5 51.6,124.6 51.9,124.7 52.2,124.7 52.4,124.8 52.7,124.9 52.9,125.0 53.2,125.0 53.4,125.1 53.7,125.1 53.9,125.2 54.2,125.2 54.4,125.3 54.7,125.3 54.9,125.3 55.2,125.4 55.4,125.4 55.7,125.4 55.9,125.4 56.2,125.5 56.4,125.5 56.7,125.5 57.0,125.5 57.2,125.5 57.5,125.5 57.7,125.5 58.0,125.5 58.2,125.5 58.5,125.4 58.7,125.4 59.0,125.4 59.2,125.4 59.5,125.3 59.7,125.3 60.0,125.3 60.2,125.2 60.5,125.2 60.7,125.1 61.0,125.1 61.2,125.0 61.5,125.0 61.7,124.9 62.0,124.8 62.3,124.8 62.5,124.7 62.8,124.6 63.0,124.5 63.3,124.4 63.5,124.4 63.8,124.3 64.0,124.2 64.3,124.1 64.5,124.0 64.8,123.9 65.0,123.8 65.3,123.7 65.5,123.5 65.8,123.4 66.0,123.3 66.3,123.2 66.5,123.1 66.8,122.9 67.1,122.8 67.3,122.7 67.6,122.5 67.8,122.4 68.1,122.2 68.3,122.1 68.6,122.0 68.8,121.8 69.1,121.7 69.3,121.5 69.6,121.3 69.8,121.2 70.1,121.0 70.3,120.9 70.6,120.7 70.8,120.5 71.1,120.3 71.3,120.2 71.6,120.0 71.8,119.8 72.1,119.6 72.4,119.5 72.6,119.3 72.9,119.1 73.1,118.9 73.4,118.7 73.6,118.5 73.9,118.4 74.1,118.2 74.4,118.0 74.6,117.8 74.9,117.6 75.1,117.4 75.4,117.2 75.6,117.0 75.9,116.8 76.1,116.6 76.4,116.4 76.6,116.2 76.9,116.0 77.2,115.8 77.4,115.6 77.7,115.4 77.9,115.2 78.2,115.0 78.4,114.8 78.7,114.6 78.9,114.4 79.2,114.1 79.4,113.9 79.7,113.7 79.9,113.5 80.2,113.3 80.4,113.1 80.7,112.9 80.9,112.7 81.2,112.5 81.4,112.3 81.7,112.1 81.9,111.9 82.2,111.7 82.5,111.5 82.7,111.3 83.0,111.1 83.2,110.9 83.5,110.7 83.7,110.5 84.0,110.3 84.2,110.1 84.5,109.9 84.7,109.8 85.0,109.6 85.2,109.4 85.5,109.2 85.7,109.0 86.0,108.8 86.2,108.6 86.5,108.5 86.7,108.3 87.0,108.1 87.3,107.9 87.5,107.8 87.8,107.6 88.0,107.4 88.3,107.3 88.5,107.1 88.8,107.0 89.0,106.8 89.3,106.6 89.5,106.5 89.8,106.3 90.0,106.2 90.3,106.0 90.5,105.9 90.8,105.8 91.0,105.6 91.3,105.5 91.5,105.4 91.8,105.2 92.0,105.1 92.3,105.0 92.6,104.9 92.8,104.8 93.1,104.6 93.3,104.5 93.6,104.4 93.8,104.3 94.1,104.2 94.3,104.1 94.6,104.0 94.8,103.9 95.1,103.8 95.3,103.8 95.6,103.7 95.8,103.6 96.1,103.5 96.3,103.5 96.6,103.4 96.8,103.3 97.1,103.3 97.4,103.2 97.6,103.2 97.9,103.1 98.1,103.1 98.4,103.0 98.6,103.0 98.9,103.0 99.1,102.9 99.4,102.9 99.6,102.9 99.9,102.9 100.1,102.8 100.4,102.8 100.6,102.8 100.9,102.8 101.1,102.8 101.4,102.8 101.6,102.8 101.9,102.8 102.1,102.8 102.4,102.9 102.7,102.9 102.9,102.9 103.2,102.9 103.4,103.0 103.7,103.0 103.9,103.0 104.2,103.1 104.4,103.1 104.7,103.2 104.9,103.2 105.2,103.3 105.4,103.4 105.7,103.4 105.9,103.5 106.2,103.6 106.4,103.6 106.7,103.7 106.9,103.8 107.2,103.9 107.5,104.0 107.7,104.1 108.0,104.2 108.2,104.2 108.5,104.4 108.7,104.5 109.0,104.6 109.2,104.7 109.5,104.8 109.7,104.9 110.0,105.0 110.2,105.1 110.5,105.3 110.7,105.4 111.0,105.5 111.2,105.7 111.5,105.8 111.7,105.9 112.0,106.1 112.2,106.2 112.5,106.4 112.8,106.5 113.0,106.7 113.3,106.8 113.5,107.0 113.8,107.2 114.0,107.3 114.3,107.5 114.5,107.7 114.8,107.8 115.0,108.0 115.3,108.2 115.5,108.3 115.8,108.5 116.0,108.7 116.3,108.9 116.5,109.1 116.8,109.3 117.0,109.4 117.3,109.6 117.6,109.8 117.8,110.0 118.1,110.2 118.3,110.4 118.6,110.6 118.8,110.8 119.1,111.0 119.3,111.2 119.6,111.4 119.8,111.6 120.1,111.8 120.3,112.0 120.6,112.2 120.8,112.4 121.1,112.6 121.3,112.8 121.6,113.0 121.8,113.2 122.1,113.4 122.3,113.6 122.6,113.8 122.9,114.0 123.1,114.2 123.4,114.4 123.6,114.6 123.9,114.8 124.1,115.0 124.4,115.2 124.6,115.4 124.9,115.6 125.1,115.8 125.4,116.0 125.6,116.3 125.9,116.5 126.1,116.7 126.4,116.9 126.6,117.1 126.9,117.2 127.1,117.4 127.4,117.6 127.7,117.8 127.9,118.0 128.2,118.2 128.4,118.4 128.7,118.6 128.9,118.8 129.2,119.0 129.4,119.2 129.7,119.3 129.9,119.5 130.2,119.7 130.4,119.9 130.7,120.1 130.9,120.2 131.2,120.4 131.4,120.6 131.7,120.7 131.9,120.9 132.2,121.1 132.4,121.2 132.7,121.4 133.0,121.5 133.2,121.7 133.5,121.9 133.7,122.0 134.0,122.1 134.2,122.3 134.5,122.4 134.7,122.6 135.0,122.7 135.2,122.8 135.5,123.0 135.7,123.1 136.0,123.2 136.2,123.3 136.5,123.5 136.7,123.6 137.0,123.7 137.2,123.8 137.5,123.9 137.8,124.0 138.0,124.1 138.3,124.2 138.5,124.3 138.8,124.4 139.0,124.5 139.3,124.6 139.5,124.6 139.8,124.7 140.0,124.8 140.3,124.9 140.5,124.9 140.8,125.0 141.0,125.0 141.3,125.1 141.5,125.2 141.8,125.2 142.0,125.2 142.3,125.3 142.5,125.3 142.8,125.4 143.1,125.4 143.3,125.4 143.6,125.4 143.8,125.5 144.1,125.5 144.3,125.5 144.6,125.5 144.8,125.5 145.1,125.5 145.3,125.5 145.6,125.5 145.8,125.5 146.1,125.5 146.3,125.4 146.6,125.4 146.8,125.4 147.1,125.4 147.3,125.3 147.6,125.3 147.9,125.2 148.1,125.2 148.4,125.2 148.6,125.1 148.9,125.1 149.1,125.0 149.4,124.9 149.6,124.9 149.9,124.8 150.1,124.7 150.4,124.6 150.6,124.6 150.9,124.5 151.1,124.4 151.4,124.3 151.6,124.2 151.9,124.1 152.1,124.0 152.4,123.9 152.6,123.8 152.9,123.7 153.2,123.6 153.4,123.5 153.7,123.4 153.9,123.2 154.2,123.1 154.4,123.0 154.7,122.9 154.9,122.7 155.2,122.6 155.4,122.5 155.7,122.3 155.9,122.2 156.2,122.0 156.4,121.9 156.7,121.7 156.9,121.6 157.2,121.4 157.4,121.3 157.7,121.1 158.0,120.9 158.2,120.8 158.5,120.6 158.7,120.4 159.0,120.3 159.2,120.1 159.5,119.9 159.7,119.7 160.0,119.5 160.2,119.4 160.5,119.2 160.7,119.0 161.0,118.8 161.2,118.6 161.5,118.4 161.7,118.2 162.0,118.1 162.2,117.9 162.5,117.7 162.7,117.5 163.0,117.3 163.3,117.1 163.5,116.9 163.8,116.7 164.0,116.5 164.3,116.3 164.5,116.1 164.8,115.9 165.0,115.7 165.3,115.5 165.5,115.3 165.8,115.1 166.0,114.9 166.3,114.6 166.5,114.4 166.8,114.2 167.0,114.0 167.3,113.8 167.5,113.6 167.8,113.4 168.1,113.2 168.3,113.0 168.6,112.8 168.8,112.6 169.1,112.4 169.3,112.2 169.6,112.0 169.8,111.8 170.1,111.6 170.3,111.4 170.6,111.2 170.8,111.0 171.1,110.8 171.3,110.6 171.6,110.4 171.8,110.2 172.1,110.0 172.3,109.8 172.6,109.6 172.8,109.5 173.1,109.3 173.4,109.1 173.6,108.9 173.9,108.7 174.1,108.5 174.4,108.4 174.6,108.2 174.9,108.0 175.1,107.8 175.4,107.7 175.6,107.5 175.9,107.3 176.1,107.2 176.4,107.0 176.6,106.9 176.9,106.7 177.1,106.6 177.4,106.4 177.6,106.3 177.9,106.1 178.2,106.0 178.4,105.8 178.7,105.7 178.9,105.6 179.2,105.4 179.4,105.3 179.7,105.2 179.9,105.0 180.2,104.9 180.4,104.8 180.7,104.7 180.9,104.6 181.2,104.5 181.4,104.4 181.7,104.3 181.9,104.2 182.2,104.1 182.4,104.0 182.7,103.9 182.9,103.8 183.2,103.7 183.5,103.6 183.7,103.6 184.0,103.5 184.2,103.4 184.5,103.4 184.7,103.3 185.0,103.2 185.2,103.2 185.5,103.1 185.7,103.1 186.0,103.0 186.2,103.0 186.5,103.0 186.7,102.9 187.0,102.9 187.2,102.9 187.5,102.9 187.7,102.8 188.0,102.8 188.3,102.8 188.5,102.8 188.8,102.8 189.0,102.8 189.3,102.8 189.5,102.8 189.8,102.8 190.0,102.9 190.3,102.9 190.5,102.9 190.8,102.9 191.0,103.0 191.3,103.0 191.5,103.0 191.8,103.1 192.0,103.1 192.3,103.2 192.5,103.2 192.8,103.3 193.0,103.3 193.3,103.4 193.6,103.5 193.8,103.5 194.1,103.6 194.3,103.7 194.6,103.8 194.8,103.8 195.1,103.9 195.3,104.0 195.6,104.1 195.8,104.2 196.1,104.3 196.3,104.4 196.6,104.5 196.8,104.6 197.1,104.7 197.3,104.9 197.6,105.0 197.8,105.1 198.1,105.2 198.4,105.3 198.6,105.5 198.9,105.6 199.1,105.7 199.4,105.9 199.6,106.0 199.9,106.2 200.1,106.3 200.4,106.5 200.6,106.6 200.9,106.8 201.1,106.9 201.4,107.1 201.6,107.3 201.9,107.4 202.1,107.6 202.4,107.8 202.6,107.9 202.9,108.1 203.1,108.3 203.4,108.4 203.7,108.6 203.9,108.8 204.2,109.0 204.4,109.2 204.7,109.4 204.9,109.5 205.2,109.7 205.4,109.9 205.7,110.1 205.9,110.3 206.2,110.5 206.4,110.7 206.7,110.9 206.9,111.1 207.2,111.3 207.4,111.5 207.7,111.7 207.9,111.9 208.2,112.1 208.5,112.3 208.7,112.5 209.0,112.7 209.2,112.9 209.5,113.1 209.7,113.3 210.0,113.5 210.2,113.7 210.5,113.9 210.7,114.1 211.0,114.3 211.2,114.5 211.5,114.7 211.7,114.9 212.0,115.1 212.2,115.4 212.5,115.6 212.7,115.8 213.0,116.0 213.2,116.2 213.5,116.4 213.8,116.6 214.0,116.8 214.3,117.0 214.5,117.2 214.8,117.4 215.0,117.6 215.3,117.7 215.5,117.9 215.8,118.1 216.0,118.3 216.3,118.5 216.5,118.7 216.8,118.9 217.0,119.1 217.3,119.3 217.5,119.4 217.8,119.6 218.0,119.8 218.3,120.0 218.6,120.2 218.8,120.3 219.1,120.5 219.3,120.7 219.6,120.8 219.8,121.0 220.1,121.2 220.3,121.3 220.6,121.5 220.8,121.6 221.1,121.8 221.3,121.9 221.6,122.1 221.8,122.2 222.1,122.4 222.3,122.5 222.6,122.7 222.8,122.8 223.1,122.9 223.3,123.0 223.6,123.2 223.9,123.3 224.1,123.4 224.4,123.5 224.6,123.6 224.9,123.8 225.1,123.9 225.4,124.0 225.6,124.1 225.9,124.2 226.1,124.3 226.4,124.4 226.6,124.4 226.9,124.5 227.1,124.6 227.4,124.7 227.6,124.8 227.9,124.8 228.1,124.9 228.4,125.0 228.7,125.0 228.9,125.1 229.2,125.1 229.4,125.2 229.7,125.2 229.9,125.3 230.2,125.3 230.4,125.3 230.7,125.4 230.9,125.4 231.2,125.4 231.4,125.4 231.7,125.5 231.9,125.5 232.2,125.5 232.4,125.5 232.7,125.5 232.9,125.5 233.2,125.5 233.4,125.5 233.7,125.5 234.0,125.4 234.2,125.4 234.5,125.4 234.7,125.4 235.0,125.3 235.2,125.3 235.5,125.3 235.7,125.2 236.0,125.2 236.2,125.1 236.5,125.1 236.7,125.0 237.0,125.0 237.2,124.9 237.5,124.8 237.7,124.8 238.0,124.7 238.2,124.6 238.5,124.5" fill="none" stroke="#2a2aff" stroke-width="1.05" stroke-linejoin="round" />
<polyline points="11.5,121.1 11.8,120.9 12.0,120.8 12.3,120.6 12.5,120.4 12.8,120.2 13.0,120.1 13.3,119.9 13.5,119.7 13.8,119.5 14.0,119.4 14.3,119.2 14.5,119.0 14.8,118.8 15.0,118.6 15.3,118.4 15.5,118.2 15.8,118.0 16.0,117.8 16.3,117.7 16.6,117.5 16.8,117.3 17.1,117.1 17.3,116.9 17.6,116.7 17.8,116.5 18.1,116.3 18.3,116.1 18.6,115.9 18.8,115.7 19.1,115.5 19.3,115.2 19.6,115.0 19.8,114.8 20.1,114.6 20.3,114.4 20.6,114.2 20.8,114.0 21.1,113.8 21.3,113.6 21.6,113.4 21.9,113.2 22.1,113.0 22.4,112.8 22.6,112.6 22.9,112.4 23.1,112.2 23.4,112.0 23.6,111.8 23.9,111.6 24.1,111.4 24.4,111.2 24.6,111.0 24.9,110.8 25.1,110.6 25.4,110.4 25.6,110.2 25.9,110.0 26.1,109.8 26.4,109.6 26.7,109.4 26.9,109.3 27.2,109.1 27.4,108.9 27.7,108.7 27.9,108.5 28.2,108.4 28.4,108.2 28.7,108.0 28.9,107.8 29.2,107.7 29.4,107.5 29.7,107.3 29.9,107.2 30.2,107.0 30.4,106.9 30.7,106.7 30.9,106.5 31.2,106.4 31.4,106.2 31.7,106.1 32.0,106.0 32.2,105.8 32.5,105.7 32.7,105.5 33.0,105.4 33.2,105.3 33.5,105.2 33.7,105.0 34.0,104.9 34.2,104.8 34.5,104.7 34.7,104.6 35.0,104.5 35.2,104.4 35.5,104.3 35.7,104.2 36.0,104.1 36.2,104.0 36.5,103.9 36.8,103.8 37.0,103.7 37.3,103.6 37.5,103.6 37.8,103.5 38.0,103.4 38.3,103.4 38.5,103.3 38.8,103.2 39.0,103.2 39.3,103.1 39.5,103.1 39.8,103.0 40.0,103.0 40.3,103.0 40.5,102.9 40.8,102.9 41.0,102.9 41.3,102.9 41.5,102.8 41.8,102.8 42.1,102.8 42.3,102.8 42.6,102.8 42.8,102.8 43.1,102.8 43.3,102.8 43.6,102.8 43.8,102.9 44.1,102.9 44.3,102.9 44.6,102.9 44.8,103.0 45.1,103.0 45.3,103.0 45.6,103.1 45.8,103.1 46.1,103.2 46.3,103.2 46.6,103.3 46.9,103.3 47.1,103.4 47.4,103.5 47.6,103.5 47.9,103.6 48.1,103.7 48.4,103.8 48.6,103.8 48.9,103.9 49.1,104.0 49.4,104.1 49.6,104.2 49.9,104.3 50.1,104.4 50.4,104.5 50.6,104.6 50.9,104.7 51.1,104.9 51.4,105.0 51.6,105.1 51.9,105.2 52.2,105.4 52.4,105.5 52.7,105.6 52.9,105.8 53.2,105.9 53.4,106.0 53.7,106.2 53.9,106.3 54.2,106.5 54.4,106.6 54.7,106.8 54.9,106.9 55.2,107.1 55.4,107.3 55.7,107.4 55.9,107.6 56.2,107.8 56.4,107.9 56.7,108.1 57.0,108.3 57.2,108.5 57.5,108.6 57.7,108.8 58.0,109.0 58.2,109.2 58.5,109.4 58.7,109.6 59.0,109.7 59.2,109.9 59.5,110.1 59.7,110.3 60.0,110.5 60.2,110.7 60.5,110.9 60.7,111.1 61.0,111.3 61.2,111.5 61.5,111.7 61.7,111.9 62.0,112.1 62.3,112.3 62.5,112.5 62.8,112.7 63.0,112.9 63.3,113.1 63.5,113.3 63.8,113.5 64.0,113.7 64.3,113.9 64.5,114.1 64.8,114.3 65.0,114.5 65.3,114.7 65.5,115.0 65.8,115.2 66.0,115.4 66.3,115.6 66.5,115.8 66.8,116.0 67.1,116.2 67.3,116.4 67.6,116.6 67.8,116.8 68.1,117.0 68.3,117.2 68.6,117.4 68.8,117.6 69.1,117.8 69.3,118.0 69.6,118.1 69.8,118.3 70.1,118.5 70.3,118.7 70.6,118.9 70.8,119.1 71.1,119.3 71.3,119.5 71.6,119.6 71.8,119.8 72.1,120.0 72.4,120.2 72.6,120.3 72.9,120.5 73.1,120.7 73.4,120.8 73.6,121.0 73.9,121.2 74.1,121.3 74.4,121.5 74.6,121.6 74.9,121.8 75.1,121.9 75.4,122.1 75.6,122.2 75.9,122.4 76.1,122.5 76.4,122.7 76.6,122.8 76.9,122.9 77.2,123.1 77.4,123.2 77.7,123.3 77.9,123.4 78.2,123.5 78.4,123.7 78.7,123.8 78.9,123.9 79.2,124.0 79.4,124.1 79.7,124.2 79.9,124.3 80.2,124.4 80.4,124.4 80.7,124.5 80.9,124.6 81.2,124.7 81.4,124.8 81.7,124.8 81.9,124.9 82.2,125.0 82.5,125.0 82.7,125.1 83.0,125.1 83.2,125.2 83.5,125.2 83.7,125.3 84.0,125.3 84.2,125.3 84.5,125.4 84.7,125.4 85.0,125.4 85.2,125.4 85.5,125.5 85.7,125.5 86.0,125.5 86.2,125.5 86.5,125.5 86.7,125.5 87.0,125.5 87.3,125.5 87.5,125.5 87.8,125.4 88.0,125.4 88.3,125.4 88.5,125.4 88.8,125.3 89.0,125.3 89.3,125.3 89.5,125.2 89.8,125.2 90.0,125.1 90.3,125.1 90.5,125.0 90.8,125.0 91.0,124.9 91.3,124.8 91.5,124.8 91.8,124.7 92.0,124.6 92.3,124.5 92.6,124.4 92.8,124.3 93.1,124.3 93.3,124.2 93.6,124.1 93.8,124.0 94.1,123.9 94.3,123.7 94.6,123.6 94.8,123.5 95.1,123.4 95.3,123.3 95.6,123.2 95.8,123.0 96.1,122.9 96.3,122.8 96.6,122.6 96.8,122.5 97.1,122.4 97.4,122.2 97.6,122.1 97.9,121.9 98.1,121.8 98.4,121.6 98.6,121.5 98.9,121.3 99.1,121.2 99.4,121.0 99.6,120.8 99.9,120.7 100.1,120.5 100.4,120.3 100.6,120.1 100.9,120.0 101.1,119.8 101.4,119.6 101.6,119.4 101.9,119.2 102.1,119.1 102.4,118.9 102.7,118.7 102.9,118.5 103.2,118.3 103.4,118.1 103.7,117.9 103.9,117.7 104.2,117.5 104.4,117.3 104.7,117.1 104.9,116.9 105.2,116.8 105.4,116.6 105.7,116.3 105.9,116.1 106.2,115.9 106.4,115.7 106.7,115.5 106.9,115.3 107.2,115.1 107.5,114.9 107.7,114.7 108.0,114.5 108.2,114.3 108.5,114.1 108.7,113.9 109.0,113.7 109.2,113.5 109.5,113.3 109.7,113.1 110.0,112.9 110.2,112.7 110.5,112.5 110.7,112.3 111.0,112.1 111.2,111.9 111.5,111.7 111.7,111.5 112.0,111.3 112.2,111.1 112.5,110.9 112.8,110.7 113.0,110.5 113.3,110.3 113.5,110.1 113.8,109.9 114.0,109.7 114.3,109.5 114.5,109.3 114.8,109.2 115.0,109.0 115.3,108.8 115.5,108.6 115.8,108.4 116.0,108.3 116.3,108.1 116.5,107.9 116.8,107.7 117.0,107.6 117.3,107.4 117.6,107.2 117.8,107.1 118.1,106.9 118.3,106.8 118.6,106.6 118.8,106.5 119.1,106.3 119.3,106.2 119.6,106.0 119.8,105.9 120.1,105.7 120.3,105.6 120.6,105.5 120.8,105.3 121.1,105.2 121.3,105.1 121.6,105.0 121.8,104.8 122.1,104.7 122.3,104.6 122.6,104.5 122.9,104.4 123.1,104.3 123.4,104.2 123.6,104.1 123.9,104.0 124.1,103.9 124.4,103.8 124.6,103.7 124.9,103.7 125.1,103.6 125.4,103.5 125.6,103.4 125.9,103.4 126.1,103.3 126.4,103.3 126.6,103.2 126.9,103.2 127.1,103.1 127.4,103.1 127.7,103.0 127.9,103.0 128.2,102.9 128.4,102.9 128.7,102.9 128.9,102.9 129.2,102.9 129.4,102.8 129.7,102.8 129.9,102.8 130.2,102.8 130.4,102.8 130.7,102.8 130.9,102.8 131.2,102.8 131.4,102.8 131.7,102.9 131.9,102.9 132.2,102.9 132.4,102.9 132.7,103.0 133.0,103.0 133.2,103.0 133.5,103.1 133.7,103.1 134.0,103.2 134.2,103.2 134.5,103.3 134.7,103.4 135.0,103.4 135.2,103.5 135.5,103.6 135.7,103.6 136.0,103.7 136.2,103.8 136.5,103.9 136.7,104.0 137.0,104.1 137.2,104.2 137.5,104.3 137.8,104.4 138.0,104.5 138.3,104.6 138.5,104.7 138.8,104.8 139.0,104.9 139.3,105.0 139.5,105.2 139.8,105.3 140.0,105.4 140.3,105.6 140.5,105.7 140.8,105.8 141.0,106.0 141.3,106.1 141.5,106.3 141.8,106.4 142.0,106.6 142.3,106.7 142.5,106.9 142.8,107.0 143.1,107.2 143.3,107.4 143.6,107.5 143.8,107.7 144.1,107.9 144.3,108.0 144.6,108.2 144.8,108.4 145.1,108.6 145.3,108.7 145.6,108.9 145.8,109.1 146.1,109.3 146.3,109.5 146.6,109.7 146.8,109.8 147.1,110.0 147.3,110.2 147.6,110.4 147.9,110.6 148.1,110.8 148.4,111.0 148.6,111.2 148.9,111.4 149.1,111.6 149.4,111.8 149.6,112.0 149.9,112.2 150.1,112.4 150.4,112.6 150.6,112.8 150.9,113.0 151.1,113.2 151.4,113.4 151.6,113.6 151.9,113.8 152.1,114.0 152.4,114.3 152.6,114.5 152.9,114.7 153.2,114.9 153.4,115.1 153.7,115.3 153.9,115.5 154.2,115.7 154.4,115.9 154.7,116.1 154.9,116.3 155.2,116.5 155.4,116.7 155.7,116.9 155.9,117.1 156.2,117.3 156.4,117.5 156.7,117.7 156.9,117.9 157.2,118.1 157.4,118.3 157.7,118.4 158.0,118.6 158.2,118.8 158.5,119.0 158.7,119.2 159.0,119.4 159.2,119.6 159.5,119.7 159.7,119.9 160.0,120.1 160.2,120.3 160.5,120.4 160.7,120.6 161.0,120.8 161.2,120.9 161.5,121.1 161.7,121.3 162.0,121.4 162.2,121.6 162.5,121.7 162.7,121.9 163.0,122.0 163.3,122.2 163.5,122.3 163.8,122.5 164.0,122.6 164.3,122.7 164.5,122.9 164.8,123.0 165.0,123.1 165.3,123.2 165.5,123.4 165.8,123.5 166.0,123.6 166.3,123.7 166.5,123.8 166.8,123.9 167.0,124.0 167.3,124.1 167.5,124.2 167.8,124.3 168.1,124.4 168.3,124.5 168.6,124.6 168.8,124.7 169.1,124.7 169.3,124.8 169.6,124.9 169.8,124.9 170.1,125.0 170.3,125.1 170.6,125.1 170.8,125.2 171.1,125.2 171.3,125.3 171.6,125.3 171.8,125.3 172.1,125.4 172.3,125.4 172.6,125.4 172.8,125.4 173.1,125.5 173.4,125.5 173.6,125.5 173.9,125.5 174.1,125.5 174.4,125.5 174.6,125.5 174.9,125.5 175.1,125.5 175.4,125.5 175.6,125.4 175.9,125.4 176.1,125.4 176.4,125.4 176.6,125.3 176.9,125.3 177.1,125.2 177.4,125.2 177.6,125.1 177.9,125.1 178.2,125.0 178.4,125.0 178.7,124.9 178.9,124.9 179.2,124.8 179.4,124.7 179.7,124.6 179.9,124.6 180.2,124.5 180.4,124.4 180.7,124.3 180.9,124.2 181.2,124.1 181.4,124.0 181.7,123.9 181.9,123.8 182.2,123.7 182.4,123.6 182.7,123.5 182.9,123.3 183.2,123.2 183.5,123.1 183.7,123.0 184.0,122.8 184.2,122.7 184.5,122.6 184.7,122.4 185.0,122.3 185.2,122.1 185.5,122.0 185.7,121.8 186.0,121.7 186.2,121.5 186.5,121.4 186.7,121.2 187.0,121.1 187.2,120.9 187.5,120.7 187.7,120.6 188.0,120.4 188.3,120.2 188.5,120.0 188.8,119.9 189.0,119.7 189.3,119.5 189.5,119.3 189.8,119.1 190.0,119.0 190.3,118.8 190.5,118.6 190.8,118.4 191.0,118.2 191.3,118.0 191.5,117.8 191.8,117.6 192.0,117.4 192.3,117.2 192.5,117.0 192.8,116.8 193.0,116.6 193.3,116.4 193.6,116.2 193.8,116.0 194.1,115.8 194.3,115.6 194.6,115.4 194.8,115.2 195.1,115.0 195.3,114.8 195.6,114.6 195.8,114.4 196.1,114.2 196.3,114.0 196.6,113.8 196.8,113.6 197.1,113.4 197.3,113.2 197.6,113.0 197.8,112.8 198.1,112.6 198.4,112.4 198.6,112.2 198.9,112.0 199.1,111.8 199.4,111.6 199.6,111.4 199.9,111.2 200.1,111.0 200.4,110.8 200.6,110.6 200.9,110.4 201.1,110.2 201.4,110.0 201.6,109.8 201.9,109.6 202.1,109.4 202.4,109.2 202.6,109.1 202.9,108.9 203.1,108.7 203.4,108.5 203.7,108.3 203.9,108.2 204.2,108.0 204.4,107.8 204.7,107.6 204.9,107.5 205.2,107.3 205.4,107.2 205.7,107.0 205.9,106.8 206.2,106.7 206.4,106.5 206.7,106.4 206.9,106.2 207.2,106.1 207.4,105.9 207.7,105.8 207.9,105.7 208.2,105.5 208.5,105.4 208.7,105.3 209.0,105.1 209.2,105.0 209.5,104.9 209.7,104.8 210.0,104.7 210.2,104.6 210.5,104.4 210.7,104.3 211.0,104.2 211.2,104.1 211.5,104.0 211.7,104.0 212.0,103.9 212.2,103.8 212.5,103.7 212.7,103.6 213.0,103.6 213.2,103.5 213.5,103.4 213.8,103.3 214.0,103.3 214.3,103.2 214.5,103.2 214.8,103.1 215.0,103.1 215.3,103.0 215.5,103.0 215.8,103.0 216.0,102.9 216.3,102.9 216.5,102.9 216.8,102.9 217.0,102.8 217.3,102.8 217.5,102.8 217.8,102.8 218.0,102.8 218.3,102.8 218.6,102.8 218.8,102.8 219.1,102.8 219.3,102.9 219.6,102.9 219.8,102.9 220.1,102.9 220.3,103.0 220.6,103.0 220.8,103.0 221.1,103.1 221.3,103.1 221.6,103.2 221.8,103.2 222.1,103.3 222.3,103.3 222.6,103.4 222.8,103.5 223.1,103.5 223.3,103.6 223.6,103.7 223.9,103.8 224.1,103.9 224.4,103.9 224.6,104.0 224.9,104.1 225.1,104.2 225.4,104.3 225.6,104.4 225.9,104.5 226.1,104.6 226.4,104.8 226.6,104.9 226.9,105.0 227.1,105.1 227.4,105.2 227.6,105.4 227.9,105.5 228.1,105.6 228.4,105.8 228.7,105.9 228.9,106.1 229.2,106.2 229.4,106.3 229.7,106.5 229.9,106.7 230.2,106.8 230.4,107.0 230.7,107.1 230.9,107.3 231.2,107.5 231.4,107.6 231.7,107.8 231.9,108.0 232.2,108.1 232.4,108.3 232.7,108.5 232.9,108.7 233.2,108.8 233.4,109.0 233.7,109.2 234.0,109.4 234.2,109.6 234.5,109.8 234.7,110.0 235.0,110.1 235.2,110.3 235.5,110.5 235.7,110.7 236.0,110.9 236.2,111.1 236.5,111.3 236.7,111.5 237.0,111.7 237.2,111.9 237.5,112.1 237.7,112.3 238.0,112.5 238.2,112.7 238.5,112.9" fill="none" stroke="#ff1a1a" stroke-width="1.05" stroke-linejoin="round" />
<polyline points="11.5,118.5 11.8,118.6 12.0,118.8 12.3,119.0 12.5,119.2 12.8,119.4 13.0,119.6 13.3,119.7 13.5,119.9 13.8,120.1 14.0,120.3 14.3,120.4 14.5,120.6 14.8,120.8 15.0,120.9 15.3,121.1 15.5,121.3 15.8,121.4 16.0,121.6 16.3,121.7 16.6,121.9 16.8,122.0 17.1,122.2 17.3,122.3 17.6,122.5 17.8,122.6 18.1,122.7 18.3,122.9 18.6,123.0 18.8,123.1 19.1,123.3 19.3,123.4 19.6,123.5 19.8,123.6 20.1,123.7 20.3,123.8 20.6,123.9 20.8,124.0 21.1,124.1 21.3,124.2 21.6,124.3 21.9,124.4 22.1,124.5 22.4,124.6 22.6,124.7 22.9,124.7 23.1,124.8 23.4,124.9 23.6,124.9 23.9,125.0 24.1,125.1 24.4,125.1 24.6,125.2 24.9,125.2 25.1,125.3 25.4,125.3 25.6,125.3 25.9,125.4 26.1,125.4 26.4,125.4 26.7,125.4 26.9,125.5 27.2,125.5 27.4,125.5 27.7,125.5 27.9,125.5 28.2,125.5 28.4,125.5 28.7,125.5 28.9,125.5 29.2,125.4 29.4,125.4 29.7,125.4 29.9,125.4 30.2,125.4 30.4,125.3 30.7,125.3 30.9,125.2 31.2,125.2 31.4,125.1 31.7,125.1 32.0,125.0 32.2,125.0 32.5,124.9 32.7,124.8 33.0,124.8 33.2,124.7 33.5,124.6 33.7,124.5 34.0,124.5 34.2,124.4 34.5,124.3 34.7,124.2 35.0,124.1 35.2,124.0 35.5,123.9 35.7,123.8 36.0,123.7 36.2,123.6 36.5,123.4 36.8,123.3 37.0,123.2 37.3,123.1 37.5,123.0 37.8,122.8 38.0,122.7 38.3,122.6 38.5,122.4 38.8,122.3 39.0,122.1 39.3,122.0 39.5,121.8 39.8,121.7 40.0,121.5 40.3,121.4 40.5,121.2 40.8,121.0 41.0,120.9 41.3,120.7 41.5,120.6 41.8,120.4 42.1,120.2 42.3,120.0 42.6,119.9 42.8,119.7 43.1,119.5 43.3,119.3 43.6,119.1 43.8,119.0 44.1,118.8 44.3,118.6 44.6,118.4 44.8,118.2 45.1,118.0 45.3,117.8 45.6,117.6 45.8,117.4 46.1,117.2 46.3,117.0 46.6,116.8 46.9,116.6 47.1,116.4 47.4,116.2 47.6,116.0 47.9,115.8 48.1,115.6 48.4,115.4 48.6,115.2 48.9,115.0 49.1,114.8 49.4,114.6 49.6,114.4 49.9,114.2 50.1,114.0 50.4,113.8 50.6,113.6 50.9,113.4 51.1,113.2 51.4,113.0 51.6,112.8 51.9,112.5 52.2,112.3 52.4,112.1 52.7,111.9 52.9,111.7 53.2,111.5 53.4,111.3 53.7,111.1 53.9,110.9 54.2,110.8 54.4,110.6 54.7,110.4 54.9,110.2 55.2,110.0 55.4,109.8 55.7,109.6 55.9,109.4 56.2,109.2 56.4,109.0 56.7,108.9 57.0,108.7 57.2,108.5 57.5,108.3 57.7,108.1 58.0,108.0 58.2,107.8 58.5,107.6 58.7,107.5 59.0,107.3 59.2,107.1 59.5,107.0 59.7,106.8 60.0,106.7 60.2,106.5 60.5,106.4 60.7,106.2 61.0,106.1 61.2,105.9 61.5,105.8 61.7,105.7 62.0,105.5 62.3,105.4 62.5,105.3 62.8,105.1 63.0,105.0 63.3,104.9 63.5,104.8 63.8,104.7 64.0,104.5 64.3,104.4 64.5,104.3 64.8,104.2 65.0,104.1 65.3,104.0 65.5,104.0 65.8,103.9 66.0,103.8 66.3,103.7 66.5,103.6 66.8,103.5 67.1,103.5 67.3,103.4 67.6,103.3 67.8,103.3 68.1,103.2 68.3,103.2 68.6,103.1 68.8,103.1 69.1,103.0 69.3,103.0 69.6,103.0 69.8,102.9 70.1,102.9 70.3,102.9 70.6,102.9 70.8,102.8 71.1,102.8 71.3,102.8 71.6,102.8 71.8,102.8 72.1,102.8 72.4,102.8 72.6,102.8 72.9,102.8 73.1,102.9 73.4,102.9 73.6,102.9 73.9,102.9 74.1,103.0 74.4,103.0 74.6,103.0 74.9,103.1 75.1,103.1 75.4,103.2 75.6,103.2 75.9,103.3 76.1,103.3 76.4,103.4 76.6,103.5 76.9,103.5 77.2,103.6 77.4,103.7 77.7,103.8 77.9,103.9 78.2,103.9 78.4,104.0 78.7,104.1 78.9,104.2 79.2,104.3 79.4,104.4 79.7,104.5 79.9,104.7 80.2,104.8 80.4,104.9 80.7,105.0 80.9,105.1 81.2,105.3 81.4,105.4 81.7,105.5 81.9,105.6 82.2,105.8 82.5,105.9 82.7,106.1 83.0,106.2 83.2,106.4 83.5,106.5 83.7,106.7 84.0,106.8 84.2,107.0 84.5,107.1 84.7,107.3 85.0,107.5 85.2,107.6 85.5,107.8 85.7,108.0 86.0,108.1 86.2,108.3 86.5,108.5 86.7,108.7 87.0,108.9 87.3,109.0 87.5,109.2 87.8,109.4 88.0,109.6 88.3,109.8 88.5,110.0 88.8,110.2 89.0,110.4 89.3,110.5 89.5,110.7 89.8,110.9 90.0,111.1 90.3,111.3 90.5,111.5 90.8,111.7 91.0,111.9 91.3,112.1 91.5,112.3 91.8,112.5 92.0,112.7 92.3,112.9 92.6,113.1 92.8,113.4 93.1,113.6 93.3,113.8 93.6,114.0 93.8,114.2 94.1,114.4 94.3,114.6 94.6,114.8 94.8,115.0 95.1,115.2 95.3,115.4 95.6,115.6 95.8,115.8 96.1,116.0 96.3,116.2 96.6,116.4 96.8,116.6 97.1,116.8 97.4,117.0 97.6,117.2 97.9,117.4 98.1,117.6 98.4,117.8 98.6,118.0 98.9,118.2 99.1,118.4 99.4,118.6 99.6,118.8 99.9,118.9 100.1,119.1 100.4,119.3 100.6,119.5 100.9,119.7 101.1,119.8 101.4,120.0 101.6,120.2 101.9,120.4 102.1,120.5 102.4,120.7 102.7,120.9 102.9,121.0 103.2,121.2 103.4,121.4 103.7,121.5 103.9,121.7 104.2,121.8 104.4,122.0 104.7,122.1 104.9,122.3 105.2,122.4 105.4,122.5 105.7,122.7 105.9,122.8 106.2,122.9 106.4,123.1 106.7,123.2 106.9,123.3 107.2,123.4 107.5,123.6 107.7,123.7 108.0,123.8 108.2,123.9 108.5,124.0 108.7,124.1 109.0,124.2 109.2,124.3 109.5,124.4 109.7,124.5 110.0,124.5 110.2,124.6 110.5,124.7 110.7,124.8 111.0,124.8 111.2,124.9 111.5,125.0 111.7,125.0 112.0,125.1 112.2,125.1 112.5,125.2 112.8,125.2 113.0,125.3 113.3,125.3 113.5,125.3 113.8,125.4 114.0,125.4 114.3,125.4 114.5,125.4 114.8,125.5 115.0,125.5 115.3,125.5 115.5,125.5 115.8,125.5 116.0,125.5 116.3,125.5 116.5,125.5 116.8,125.5 117.0,125.4 117.3,125.4 117.6,125.4 117.8,125.4 118.1,125.3 118.3,125.3 118.6,125.3 118.8,125.2 119.1,125.2 119.3,125.1 119.6,125.1 119.8,125.0 120.1,124.9 120.3,124.9 120.6,124.8 120.8,124.7 121.1,124.7 121.3,124.6 121.6,124.5 121.8,124.4 122.1,124.3 122.3,124.2 122.6,124.1 122.9,124.0 123.1,123.9 123.4,123.8 123.6,123.7 123.9,123.6 124.1,123.5 124.4,123.4 124.6,123.3 124.9,123.1 125.1,123.0 125.4,122.9 125.6,122.8 125.9,122.6 126.1,122.5 126.4,122.3 126.6,122.2 126.9,122.0 127.1,121.9 127.4,121.7 127.7,121.6 127.9,121.4 128.2,121.3 128.4,121.1 128.7,121.0 128.9,120.8 129.2,120.6 129.4,120.5 129.7,120.3 129.9,120.1 130.2,119.9 130.4,119.8 130.7,119.6 130.9,119.4 131.2,119.2 131.4,119.0 131.7,118.8 131.9,118.7 132.2,118.5 132.4,118.3 132.7,118.1 133.0,117.9 133.2,117.7 133.5,117.5 133.7,117.3 134.0,117.1 134.2,116.9 134.5,116.7 134.7,116.5 135.0,116.3 135.2,116.1 135.5,115.9 135.7,115.7 136.0,115.5 136.2,115.3 136.5,115.1 136.7,114.9 137.0,114.7 137.2,114.5 137.5,114.3 137.8,114.1 138.0,113.9 138.3,113.7 138.5,113.5 138.8,113.2 139.0,113.0 139.3,112.8 139.5,112.6 139.8,112.4 140.0,112.2 140.3,112.0 140.5,111.8 140.8,111.6 141.0,111.4 141.3,111.2 141.5,111.0 141.8,110.8 142.0,110.6 142.3,110.4 142.5,110.3 142.8,110.1 143.1,109.9 143.3,109.7 143.6,109.5 143.8,109.3 144.1,109.1 144.3,108.9 144.6,108.8 144.8,108.6 145.1,108.4 145.3,108.2 145.6,108.1 145.8,107.9 146.1,107.7 146.3,107.5 146.6,107.4 146.8,107.2 147.1,107.1 147.3,106.9 147.6,106.7 147.9,106.6 148.1,106.4 148.4,106.3 148.6,106.1 148.9,106.0 149.1,105.9 149.4,105.7 149.6,105.6 149.9,105.4 150.1,105.3 150.4,105.2 150.6,105.1 150.9,104.9 151.1,104.8 151.4,104.7 151.6,104.6 151.9,104.5 152.1,104.4 152.4,104.3 152.6,104.2 152.9,104.1 153.2,104.0 153.4,103.9 153.7,103.8 153.9,103.7 154.2,103.7 154.4,103.6 154.7,103.5 154.9,103.4 155.2,103.4 155.4,103.3 155.7,103.3 155.9,103.2 156.2,103.1 156.4,103.1 156.7,103.1 156.9,103.0 157.2,103.0 157.4,102.9 157.7,102.9 158.0,102.9 158.2,102.9 158.5,102.8 158.7,102.8 159.0,102.8 159.2,102.8 159.5,102.8 159.7,102.8 160.0,102.8 160.2,102.8 160.5,102.8 160.7,102.8 161.0,102.9 161.2,102.9 161.5,102.9 161.7,102.9 162.0,103.0 162.2,103.0 162.5,103.1 162.7,103.1 163.0,103.1 163.3,103.2 163.5,103.3 163.8,103.3 164.0,103.4 164.3,103.4 164.5,103.5 164.8,103.6 165.0,103.7 165.3,103.7 165.5,103.8 165.8,103.9 166.0,104.0 166.3,104.1 166.5,104.2 166.8,104.3 167.0,104.4 167.3,104.5 167.5,104.6 167.8,104.7 168.1,104.8 168.3,105.0 168.6,105.1 168.8,105.2 169.1,105.3 169.3,105.5 169.6,105.6 169.8,105.7 170.1,105.9 170.3,106.0 170.6,106.1 170.8,106.3 171.1,106.4 171.3,106.6 171.6,106.7 171.8,106.9 172.1,107.1 172.3,107.2 172.6,107.4 172.8,107.6 173.1,107.7 173.4,107.9 173.6,108.1 173.9,108.2 174.1,108.4 174.4,108.6 174.6,108.8 174.9,109.0 175.1,109.1 175.4,109.3 175.6,109.5 175.9,109.7 176.1,109.9 176.4,110.1 176.6,110.3 176.9,110.5 177.1,110.7 177.4,110.9 177.6,111.0 177.9,111.2 178.2,111.4 178.4,111.6 178.7,111.8 178.9,112.0 179.2,112.2 179.4,112.4 179.7,112.7 179.9,112.9 180.2,113.1 180.4,113.3 180.7,113.5 180.9,113.7 181.2,113.9 181.4,114.1 181.7,114.3 181.9,114.5 182.2,114.7 182.4,114.9 182.7,115.1 182.9,115.3 183.2,115.5 183.5,115.7 183.7,115.9 184.0,116.1 184.2,116.3 184.5,116.5 184.7,116.7 185.0,116.9 185.2,117.1 185.5,117.3 185.7,117.5 186.0,117.7 186.2,117.9 186.5,118.1 186.7,118.3 187.0,118.5 187.2,118.7 187.5,118.9 187.7,119.0 188.0,119.2 188.3,119.4 188.5,119.6 188.8,119.8 189.0,119.9 189.3,120.1 189.5,120.3 189.8,120.5 190.0,120.6 190.3,120.8 190.5,121.0 190.8,121.1 191.0,121.3 191.3,121.5 191.5,121.6 191.8,121.8 192.0,121.9 192.3,122.1 192.5,122.2 192.8,122.3 193.0,122.5 193.3,122.6 193.6,122.8 193.8,122.9 194.1,123.0 194.3,123.1 194.6,123.3 194.8,123.4 195.1,123.5 195.3,123.6 195.6,123.7 195.8,123.8 196.1,123.9 196.3,124.0 196.6,124.1 196.8,124.2 197.1,124.3 197.3,124.4 197.6,124.5 197.8,124.6 198.1,124.7 198.4,124.7 198.6,124.8 198.9,124.9 199.1,124.9 199.4,125.0 199.6,125.1 199.9,125.1 200.1,125.2 200.4,125.2 200.6,125.3 200.9,125.3 201.1,125.3 201.4,125.4 201.6,125.4 201.9,125.4 202.1,125.4 202.4,125.5 202.6,125.5 202.9,125.5 203.1,125.5 203.4,125.5 203.7,125.5 203.9,125.5 204.2,125.5 204.4,125.5 204.7,125.4 204.9,125.4 205.2,125.4 205.4,125.4 205.7,125.3 205.9,125.3 206.2,125.3 206.4,125.2 206.7,125.2 206.9,125.1 207.2,125.1 207.4,125.0 207.7,125.0 207.9,124.9 208.2,124.8 208.5,124.8 208.7,124.7 209.0,124.6 209.2,124.5 209.5,124.5 209.7,124.4 210.0,124.3 210.2,124.2 210.5,124.1 210.7,124.0 211.0,123.9 211.2,123.8 211.5,123.7 211.7,123.6 212.0,123.4 212.2,123.3 212.5,123.2 212.7,123.1 213.0,122.9 213.2,122.8 213.5,122.7 213.8,122.5 214.0,122.4 214.3,122.3 214.5,122.1 214.8,122.0 215.0,121.8 215.3,121.7 215.5,121.5 215.8,121.4 216.0,121.2 216.3,121.0 216.5,120.9 216.8,120.7 217.0,120.5 217.3,120.4 217.5,120.2 217.8,120.0 218.0,119.8 218.3,119.7 218.6,119.5 218.8,119.3 219.1,119.1 219.3,118.9 219.6,118.7 219.8,118.6 220.1,118.4 220.3,118.2 220.6,118.0 220.8,117.8 221.1,117.6 221.3,117.4 221.6,117.2 221.8,117.0 222.1,116.8 222.3,116.6 222.6,116.4 222.8,116.2 223.1,116.0 223.3,115.8 223.6,115.6 223.9,115.4 224.1,115.2 224.4,115.0 224.6,114.8 224.9,114.6 225.1,114.4 225.4,114.2 225.6,114.0 225.9,113.7 226.1,113.5 226.4,113.3 226.6,113.1 226.9,112.9 227.1,112.7 227.4,112.5 227.6,112.3 227.9,112.1 228.1,111.9 228.4,111.7 228.7,111.5 228.9,111.3 229.2,111.1 229.4,110.9 229.7,110.7 229.9,110.5 230.2,110.3 230.4,110.1 230.7,110.0 230.9,109.8 231.2,109.6 231.4,109.4 231.7,109.2 231.9,109.0 232.2,108.8 232.4,108.7 232.7,108.5 232.9,108.3 233.2,108.1 233.4,108.0 233.7,107.8 234.0,107.6 234.2,107.4 234.5,107.3 234.7,107.1 235.0,107.0 235.2,106.8 235.5,106.7 235.7,106.5 236.0,106.3 236.2,106.2 236.5,106.1 236.7,105.9 237.0,105.8 237.2,105.6 237.5,105.5 237.7,105.4 238.0,105.2 238.2,105.1 238.5,105.0" fill="none" stroke="#22dd22" stroke-width="1.05" stroke-linejoin="round" />
</g>
<line x1="11.50" y1="142.50" x2="11.50" y2="140.20" stroke="#3a3a3a" stroke-width="1.00"/>
<line x1="11.50" y1="85.80" x2="11.50" y2="88.10" stroke="#3a3a3a" stroke-width="1.00"/>
<line x1="38.21" y1="142.50" x2="38.21" y2="140.20" stroke="#3a3a3a" stroke-width="1.00"/>
<line x1="38.21" y1="85.80" x2="38.21" y2="88.10" stroke="#3a3a3a" stroke-width="1.00"/>
<line x1="64.91" y1="142.50" x2="64.91" y2="140.20" stroke="#3a3a3a" stroke-width="1.00"/>
<line x1="64.91" y1="85.80" x2="64.91" y2="88.10" stroke="#3a3a3a" stroke-width="1.00"/>
<line x1="91.62" y1="142.50" x2="91.62" y2="140.20" stroke="#3a3a3a" stroke-width="1.00"/>
<line x1="91.62" y1="85.80" x2="91.62" y2="88.10" stroke="#3a3a3a" stroke-width="1.00"/>
<line x1="118.32" y1="142.50" x2="118.32" y2="140.20" stroke="#3a3a3a" stroke-width="1.00"/>
<line x1="118.32" y1="85.80" x2="118.32" y2="88.10" stroke="#3a3a3a" stroke-width="1.00"/>
<line x1="145.03" y1="142.50" x2="145.03" y2="140.20" stroke="#3a3a3a" stroke-width="1.00"/>
<line x1="145.03" y1="85.80" x2="145.03" y2="88.10" stroke="#3a3a3a" stroke-width="1.00"/>
<line x1="171.74" y1="142.50" x2="171.74" y2="140.20" stroke="#3a3a3a" stroke-width="1.00"/>
<line x1="171.74" y1="85.80" x2="171.74" y2="88.10" stroke="#3a3a3a" stroke-width="1.00"/>
<line x1="198.44" y1="142.50" x2="198.44" y2="140.20" stroke="#3a3a3a" stroke-width="1.00"/>
<line x1="198.44" y1="85.80" x2="198.44" y2="88.10" stroke="#3a3a3a" stroke-width="1.00"/>
<line x1="225.15" y1="142.50" x2="225.15" y2="140.20" stroke="#3a3a3a" stroke-width="1.00"/>
<line x1="225.15" y1="85.80" x2="225.15" y2="88.10" stroke="#3a3a3a" stroke-width="1.00"/>
<line x1="11.50" y1="85.80" x2="13.80" y2="85.80" stroke="#3a3a3a" stroke-width="1.00"/>
<line x1="238.50" y1="85.80" x2="236.20" y2="85.80" stroke="#3a3a3a" stroke-width="1.00"/>
<g transform="translate(9.10,88.80) scale(0.930,1)">
<text x="0.00" y="0.00" font-size="9.80" text-anchor="end" fill="#111" stroke="#111" stroke-width="0.12">2</text>
</g>
<line x1="11.50" y1="99.98" x2="13.80" y2="99.98" stroke="#3a3a3a" stroke-width="1.00"/>
<line x1="238.50" y1="99.98" x2="236.20" y2="99.98" stroke="#3a3a3a" stroke-width="1.00"/>
<g transform="translate(9.10,102.98) scale(0.930,1)">
<text x="0.00" y="0.00" font-size="9.80" text-anchor="end" fill="#111" stroke="#111" stroke-width="0.12">1</text>
</g>
<line x1="11.50" y1="114.15" x2="13.80" y2="114.15" stroke="#3a3a3a" stroke-width="1.00"/>
<line x1="238.50" y1="114.15" x2="236.20" y2="114.15" stroke="#3a3a3a" stroke-width="1.00"/>
<g transform="translate(9.10,117.15) scale(0.930,1)">
<text x="0.00" y="0.00" font-size="9.80" text-anchor="end" fill="#111" stroke="#111" stroke-width="0.12">0</text>
</g>
<line x1="11.50" y1="128.33" x2="13.80" y2="128.33" stroke="#3a3a3a" stroke-width="1.00"/>
<line x1="238.50" y1="128.33" x2="236.20" y2="128.33" stroke="#3a3a3a" stroke-width="1.00"/>
<g transform="translate(9.10,131.33) scale(0.930,1)">
<text x="0.00" y="0.00" font-size="9.80" text-anchor="end" fill="#111" stroke="#111" stroke-width="0.12">-1</text>
</g>
<line x1="11.50" y1="142.50" x2="13.80" y2="142.50" stroke="#3a3a3a" stroke-width="1.00"/>
<line x1="238.50" y1="142.50" x2="236.20" y2="142.50" stroke="#3a3a3a" stroke-width="1.00"/>
<g transform="translate(9.10,145.50) scale(0.930,1)">
<text x="0.00" y="0.00" font-size="9.80" text-anchor="end" fill="#111" stroke="#111" stroke-width="0.12">-2</text>
</g>
<rect x="11.50" y="85.80" width="227.00" height="56.70" fill="none" stroke="#3a3a3a" stroke-width="1"/>
<g clip-path="url(#clip02)">
<polyline points="11.5,205.4 11.8,205.4 12.0,205.3 12.3,205.1 12.5,204.9 12.8,204.6 13.0,204.3 13.3,203.9 13.5,203.4 13.8,202.9 14.0,202.4 14.3,201.8 14.5,201.2 14.8,200.6 15.0,200.0 15.3,199.3 15.5,198.6 15.8,197.9 16.0,197.2 16.3,196.5 16.6,195.7 16.8,195.0 17.1,194.3 17.3,193.5 17.6,192.8 17.8,192.1 18.1,191.3 18.3,190.6 18.6,189.9 18.8,189.1 19.1,188.4 19.3,187.7 19.6,186.9 19.8,186.2 20.1,185.5 20.3,184.8 20.6,184.1 20.8,183.4 21.1,182.7 21.3,182.1 21.6,181.4 21.9,180.8 22.1,180.2 22.4,179.7 22.6,179.2 22.9,178.7 23.1,178.3 23.4,177.9 23.6,177.6 23.9,177.3 24.1,177.1 24.4,177.0 24.6,176.9 24.9,176.9 25.1,176.9 25.4,177.1 25.6,177.2 25.9,177.5 26.1,177.8 26.4,178.1 26.7,178.5 26.9,179.0 27.2,179.4 27.4,180.0 27.7,180.5 27.9,181.1 28.2,181.8 28.4,182.4 28.7,183.1 28.9,183.7 29.2,184.4 29.4,185.1 29.7,185.8 29.9,186.5 30.2,187.2 30.4,188.0 30.7,188.7 30.9,189.4 31.2,190.1 31.4,190.8 31.7,191.5 32.0,192.2 32.2,192.9 32.5,193.6 32.7,194.3 33.0,195.0 33.2,195.6 33.5,196.3 33.7,197.0 34.0,197.7 34.2,198.3 34.5,199.0 34.7,199.6 35.0,200.2 35.2,200.8 35.5,201.3 35.7,201.9 36.0,202.3 36.2,202.8 36.5,203.2 36.8,203.5 37.0,203.8 37.3,204.1 37.5,204.3 37.8,204.4 38.0,204.5 38.3,204.5 38.5,204.4 38.8,204.3 39.0,204.1 39.3,203.9 39.5,203.6 39.8,203.2 40.0,202.9 40.3,202.4 40.5,201.9 40.8,201.4 41.0,200.9 41.3,200.3 41.5,199.7 41.8,199.1 42.1,198.5 42.3,197.8 42.6,197.1 42.8,196.5 43.1,195.8 43.3,195.1 43.6,194.5 43.8,193.8 44.1,193.1 44.3,192.5 44.6,191.8 44.8,191.1 45.1,190.5 45.3,189.8 45.6,189.1 45.8,188.5 46.1,187.8 46.3,187.2 46.6,186.5 46.9,185.8 47.1,185.2 47.4,184.6 47.6,183.9 47.9,183.3 48.1,182.7 48.4,182.1 48.6,181.6 48.9,181.0 49.1,180.5 49.4,180.0 49.6,179.6 49.9,179.2 50.1,178.9 50.4,178.6 50.6,178.4 50.9,178.2 51.1,178.1 51.4,178.0 51.6,178.0 51.9,178.0 52.2,178.2 52.4,178.3 52.7,178.6 52.9,178.8 53.2,179.2 53.4,179.5 53.7,180.0 53.9,180.4 54.2,180.9 54.4,181.5 54.7,182.0 54.9,182.6 55.2,183.2 55.4,183.8 55.7,184.4 55.9,185.1 56.2,185.7 56.4,186.4 56.7,187.0 57.0,187.7 57.2,188.3 57.5,189.0 57.7,189.6 58.0,190.3 58.2,190.9 58.5,191.6 58.7,192.3 59.0,192.9 59.2,193.6 59.5,194.2 59.7,194.9 60.0,195.5 60.2,196.2 60.5,196.8 60.7,197.5 61.0,198.1 61.2,198.7 61.5,199.3 61.7,199.9 62.0,200.5 62.3,201.0 62.5,201.6 62.8,202.0 63.0,202.5 63.3,202.9 63.5,203.2 63.8,203.5 64.0,203.8 64.3,203.9 64.5,204.1 64.8,204.1 65.0,204.1 65.3,204.1 65.5,204.0 65.8,203.8 66.0,203.6 66.3,203.3 66.5,203.0 66.8,202.6 67.1,202.2 67.3,201.7 67.6,201.2 67.8,200.7 68.1,200.1 68.3,199.5 68.6,198.9 68.8,198.3 69.1,197.7 69.3,197.0 69.6,196.4 69.8,195.7 70.1,195.0 70.3,194.4 70.6,193.7 70.8,193.0 71.1,192.3 71.3,191.7 71.6,191.0 71.8,190.3 72.1,189.6 72.4,188.9 72.6,188.3 72.9,187.6 73.1,186.9 73.4,186.2 73.6,185.5 73.9,184.8 74.1,184.2 74.4,183.5 74.6,182.9 74.9,182.2 75.1,181.6 75.4,181.0 75.6,180.5 75.9,179.9 76.1,179.4 76.4,179.0 76.6,178.6 76.9,178.2 77.2,177.9 77.4,177.7 77.7,177.5 77.9,177.3 78.2,177.3 78.4,177.3 78.7,177.3 78.9,177.4 79.2,177.6 79.4,177.8 79.7,178.1 79.9,178.5 80.2,178.9 80.4,179.3 80.7,179.8 80.9,180.3 81.2,180.9 81.4,181.5 81.7,182.1 81.9,182.7 82.2,183.4 82.5,184.1 82.7,184.7 83.0,185.4 83.2,186.1 83.5,186.8 83.7,187.5 84.0,188.2 84.2,189.0 84.5,189.7 84.7,190.4 85.0,191.1 85.2,191.8 85.5,192.5 85.7,193.3 86.0,194.0 86.2,194.7 86.5,195.4 86.7,196.1 87.0,196.9 87.3,197.6 87.5,198.3 87.8,199.0 88.0,199.6 88.3,200.3 88.5,200.9 88.8,201.5 89.0,202.1 89.3,202.7 89.5,203.2 89.8,203.6 90.0,204.0 90.3,204.4 90.5,204.7 90.8,204.9 91.0,205.1 91.3,205.2 91.5,205.3 91.8,205.3 92.0,205.2 92.3,205.1 92.6,204.9 92.8,204.6 93.1,204.3 93.3,203.9 93.6,203.5 93.8,203.1 94.1,202.5 94.3,202.0 94.6,201.4 94.8,200.8 95.1,200.1 95.3,199.5 95.6,198.8 95.8,198.1 96.1,197.4 96.3,196.7 96.6,196.0 96.8,195.2 97.1,194.5 97.4,193.8 97.6,193.0 97.9,192.3 98.1,191.5 98.4,190.8 98.6,190.1 98.9,189.3 99.1,188.6 99.4,187.9 99.6,187.1 99.9,186.4 100.1,185.7 100.4,184.9 100.6,184.2 100.9,183.5 101.1,182.8 101.4,182.1 101.6,181.5 101.9,180.9 102.1,180.3 102.4,179.7 102.7,179.2 102.9,178.7 103.2,178.2 103.4,177.8 103.7,177.5 103.9,177.2 104.2,177.0 104.4,176.8 104.7,176.7 104.9,176.6 105.2,176.7 105.4,176.8 105.7,176.9 105.9,177.1 106.2,177.4 106.4,177.7 106.7,178.1 106.9,178.6 107.2,179.0 107.5,179.6 107.7,180.1 108.0,180.7 108.2,181.4 108.5,182.0 108.7,182.7 109.0,183.4 109.2,184.1 109.5,184.8 109.7,185.5 110.0,186.2 110.2,186.9 110.5,187.7 110.7,188.4 111.0,189.1 111.2,189.8 111.5,190.6 111.7,191.3 112.0,192.0 112.2,192.7 112.5,193.4 112.8,194.2 113.0,194.9 113.3,195.6 113.5,196.3 113.8,197.0 114.0,197.7 114.3,198.4 114.5,199.0 114.8,199.7 115.0,200.3 115.3,200.9 115.5,201.5 115.8,202.0 116.0,202.5 116.3,203.0 116.5,203.4 116.8,203.8 117.0,204.1 117.3,204.4 117.6,204.6 117.8,204.7 118.1,204.8 118.3,204.9 118.6,204.8 118.8,204.7 119.1,204.5 119.3,204.3 119.6,204.0 119.8,203.7 120.1,203.3 120.3,202.9 120.6,202.4 120.8,201.9 121.1,201.3 121.3,200.8 121.6,200.1 121.8,199.5 122.1,198.9 122.3,198.2 122.6,197.5 122.9,196.9 123.1,196.2 123.4,195.5 123.6,194.8 123.9,194.1 124.1,193.4 124.4,192.7 124.6,192.0 124.9,191.3 125.1,190.7 125.4,190.0 125.6,189.3 125.9,188.6 126.1,187.9 126.4,187.3 126.6,186.6 126.9,185.9 127.1,185.2 127.4,184.6 127.7,183.9 127.9,183.3 128.2,182.7 128.4,182.1 128.7,181.5 128.9,181.0 129.2,180.4 129.4,180.0 129.7,179.5 129.9,179.1 130.2,178.8 130.4,178.5 130.7,178.2 130.9,178.0 131.2,177.9 131.4,177.8 131.7,177.8 131.9,177.8 132.2,177.9 132.4,178.1 132.7,178.3 133.0,178.6 133.2,178.9 133.5,179.3 133.7,179.7 134.0,180.2 134.2,180.7 134.5,181.2 134.7,181.8 135.0,182.3 135.2,182.9 135.5,183.6 135.7,184.2 136.0,184.8 136.2,185.5 136.5,186.1 136.7,186.8 137.0,187.5 137.2,188.1 137.5,188.8 137.8,189.4 138.0,190.1 138.3,190.7 138.5,191.4 138.8,192.1 139.0,192.7 139.3,193.4 139.5,194.0 139.8,194.7 140.0,195.3 140.3,196.0 140.5,196.6 140.8,197.3 141.0,197.9 141.3,198.5 141.5,199.1 141.8,199.7 142.0,200.3 142.3,200.8 142.5,201.3 142.8,201.8 143.1,202.3 143.3,202.7 143.6,203.0 143.8,203.3 144.1,203.6 144.3,203.8 144.6,203.9 144.8,204.0 145.1,204.0 145.3,204.0 145.6,203.9 145.8,203.7 146.1,203.5 146.3,203.2 146.6,202.9 146.8,202.5 147.1,202.1 147.3,201.7 147.6,201.2 147.9,200.7 148.1,200.1 148.4,199.5 148.6,198.9 148.9,198.3 149.1,197.7 149.4,197.1 149.6,196.4 149.9,195.8 150.1,195.1 150.4,194.5 150.6,193.8 150.9,193.2 151.1,192.5 151.4,191.8 151.6,191.2 151.9,190.5 152.1,189.9 152.4,189.2 152.6,188.5 152.9,187.9 153.2,187.2 153.4,186.5 153.7,185.9 153.9,185.2 154.2,184.5 154.4,183.9 154.7,183.3 154.9,182.6 155.2,182.0 155.4,181.5 155.7,180.9 155.9,180.4 156.2,179.9 156.4,179.4 156.7,179.0 156.9,178.7 157.2,178.3 157.4,178.1 157.7,177.9 158.0,177.7 158.2,177.7 158.5,177.6 158.7,177.7 159.0,177.8 159.2,177.9 159.5,178.1 159.7,178.4 160.0,178.7 160.2,179.1 160.5,179.5 160.7,180.0 161.0,180.5 161.2,181.0 161.5,181.6 161.7,182.2 162.0,182.8 162.2,183.4 162.5,184.1 162.7,184.7 163.0,185.4 163.3,186.1 163.5,186.8 163.8,187.4 164.0,188.1 164.3,188.8 164.5,189.5 164.8,190.2 165.0,190.9 165.3,191.6 165.5,192.3 165.8,193.0 166.0,193.7 166.3,194.4 166.5,195.1 166.8,195.8 167.0,196.5 167.3,197.2 167.5,197.9 167.8,198.6 168.1,199.2 168.3,199.9 168.6,200.5 168.8,201.1 169.1,201.7 169.3,202.2 169.6,202.7 169.8,203.2 170.1,203.6 170.3,204.0 170.6,204.3 170.8,204.6 171.1,204.8 171.3,204.9 171.6,205.0 171.8,205.0 172.1,205.0 172.3,204.9 172.6,204.7 172.8,204.5 173.1,204.2 173.4,203.8 173.6,203.4 173.9,203.0 174.1,202.5 174.4,202.0 174.6,201.4 174.9,200.8 175.1,200.2 175.4,199.5 175.6,198.9 175.9,198.2 176.1,197.5 176.4,196.8 176.6,196.1 176.9,195.4 177.1,194.7 177.4,193.9 177.6,193.2 177.9,192.5 178.2,191.8 178.4,191.0 178.7,190.3 178.9,189.6 179.2,188.8 179.4,188.1 179.7,187.4 179.9,186.6 180.2,185.9 180.4,185.2 180.7,184.5 180.9,183.8 181.2,183.1 181.4,182.4 181.7,181.7 181.9,181.1 182.2,180.5 182.4,179.9 182.7,179.3 182.9,178.8 183.2,178.3 183.5,177.9 183.7,177.6 184.0,177.2 184.2,177.0 184.5,176.8 184.7,176.7 185.0,176.6 185.2,176.6 185.5,176.7 185.7,176.8 186.0,177.0 186.2,177.2 186.5,177.6 186.7,177.9 187.0,178.3 187.2,178.8 187.5,179.3 187.7,179.9 188.0,180.5 188.3,181.1 188.5,181.7 188.8,182.4 189.0,183.1 189.3,183.8 189.5,184.5 189.8,185.2 190.0,185.9 190.3,186.7 190.5,187.4 190.8,188.1 191.0,188.9 191.3,189.6 191.5,190.3 191.8,191.1 192.0,191.8 192.3,192.5 192.5,193.3 192.8,194.0 193.0,194.7 193.3,195.5 193.6,196.2 193.8,196.9 194.1,197.6 194.3,198.3 194.6,199.0 194.8,199.7 195.1,200.3 195.3,201.0 195.6,201.6 195.8,202.1 196.1,202.7 196.3,203.1 196.6,203.6 196.8,204.0 197.1,204.3 197.3,204.6 197.6,204.9 197.8,205.0 198.1,205.1 198.4,205.2 198.6,205.2 198.9,205.1 199.1,204.9 199.4,204.7 199.6,204.5 199.9,204.1 200.1,203.8 200.4,203.3 200.6,202.9 200.9,202.4 201.1,201.8 201.4,201.2 201.6,200.6 201.9,200.0 202.1,199.3 202.4,198.6 202.6,197.9 202.9,197.2 203.1,196.5 203.4,195.8 203.7,195.1 203.9,194.4 204.2,193.7 204.4,193.0 204.7,192.3 204.9,191.6 205.2,190.9 205.4,190.1 205.7,189.4 205.9,188.7 206.2,188.0 206.4,187.3 206.7,186.6 206.9,185.9 207.2,185.3 207.4,184.6 207.7,183.9 207.9,183.3 208.2,182.6 208.5,182.0 208.7,181.4 209.0,180.8 209.2,180.3 209.5,179.8 209.7,179.3 210.0,178.9 210.2,178.5 210.5,178.2 210.7,177.9 211.0,177.7 211.2,177.6 211.5,177.5 211.7,177.4 212.0,177.5 212.2,177.5 212.5,177.7 212.7,177.9 213.0,178.2 213.2,178.5 213.5,178.9 213.8,179.3 214.0,179.7 214.3,180.3 214.5,180.8 214.8,181.4 215.0,181.9 215.3,182.6 215.5,183.2 215.8,183.8 216.0,184.5 216.3,185.2 216.5,185.8 216.8,186.5 217.0,187.2 217.3,187.9 217.5,188.5 217.8,189.2 218.0,189.9 218.3,190.5 218.6,191.2 218.8,191.9 219.1,192.6 219.3,193.2 219.6,193.9 219.8,194.6 220.1,195.2 220.3,195.9 220.6,196.5 220.8,197.2 221.1,197.8 221.3,198.4 221.6,199.1 221.8,199.7 222.1,200.2 222.3,200.8 222.6,201.3 222.8,201.8 223.1,202.2 223.3,202.6 223.6,203.0 223.9,203.3 224.1,203.6 224.4,203.8 224.6,203.9 224.9,204.0 225.1,204.1 225.4,204.0 225.6,203.9 225.9,203.8 226.1,203.6 226.4,203.3 226.6,203.0 226.9,202.7 227.1,202.3 227.4,201.8 227.6,201.3 227.9,200.8 228.1,200.3 228.4,199.7 228.7,199.1 228.9,198.5 229.2,197.9 229.4,197.2 229.7,196.6 229.9,195.9 230.2,195.3 230.4,194.6 230.7,194.0 230.9,193.3 231.2,192.7 231.4,192.0 231.7,191.4 231.9,190.7 232.2,190.1 232.4,189.4 232.7,188.7 232.9,188.1 233.2,187.4 233.4,186.8 233.7,186.1 234.0,185.5 234.2,184.8 234.5,184.2 234.7,183.6 235.0,183.0 235.2,182.4 235.5,181.8 235.7,181.2 236.0,180.7 236.2,180.2 236.5,179.8 236.7,179.4 237.0,179.0 237.2,178.7 237.5,178.4 237.7,178.2 238.0,178.0 238.2,177.9 238.5,177.9" fill="none" stroke="#ff1a1a" stroke-width="1.05" stroke-linejoin="round" />
<polyline points="11.5,185.0 11.8,185.7 12.0,186.4 12.3,187.1 12.5,187.7 12.8,188.4 13.0,189.1 13.3,189.8 13.5,190.5 13.8,191.1 14.0,191.8 14.3,192.5 14.5,193.1 14.8,193.8 15.0,194.5 15.3,195.1 15.5,195.8 15.8,196.5 16.0,197.1 16.3,197.7 16.6,198.4 16.8,199.0 17.1,199.6 17.3,200.2 17.6,200.7 17.8,201.3 18.1,201.7 18.3,202.2 18.6,202.6 18.8,203.0 19.1,203.3 19.3,203.6 19.6,203.8 19.8,203.9 20.1,204.0 20.3,204.1 20.6,204.1 20.8,204.0 21.1,203.8 21.3,203.6 21.6,203.4 21.9,203.1 22.1,202.7 22.4,202.3 22.6,201.9 22.9,201.4 23.1,200.9 23.4,200.4 23.6,199.8 23.9,199.2 24.1,198.6 24.4,198.0 24.6,197.3 24.9,196.7 25.1,196.0 25.4,195.4 25.6,194.7 25.9,194.1 26.1,193.4 26.4,192.8 26.7,192.1 26.9,191.5 27.2,190.8 27.4,190.1 27.7,189.5 27.9,188.8 28.2,188.2 28.4,187.5 28.7,186.9 28.9,186.2 29.2,185.6 29.4,184.9 29.7,184.3 29.9,183.7 30.2,183.1 30.4,182.5 30.7,181.9 30.9,181.3 31.2,180.8 31.4,180.3 31.7,179.8 32.0,179.4 32.2,179.1 32.5,178.7 32.7,178.5 33.0,178.2 33.2,178.1 33.5,178.0 33.7,177.9 34.0,178.0 34.2,178.0 34.5,178.2 34.7,178.4 35.0,178.6 35.2,178.9 35.5,179.3 35.7,179.7 36.0,180.1 36.2,180.6 36.5,181.1 36.8,181.6 37.0,182.2 37.3,182.8 37.5,183.4 37.8,184.0 38.0,184.7 38.3,185.3 38.5,186.0 38.8,186.6 39.0,187.3 39.3,187.9 39.5,188.6 39.8,189.3 40.0,189.9 40.3,190.6 40.5,191.3 40.8,192.0 41.0,192.6 41.3,193.3 41.5,194.0 41.8,194.7 42.1,195.3 42.3,196.0 42.6,196.7 42.8,197.3 43.1,198.0 43.3,198.7 43.6,199.3 43.8,199.9 44.1,200.5 44.3,201.1 44.6,201.6 44.8,202.1 45.1,202.6 45.3,203.0 45.6,203.4 45.8,203.8 46.1,204.0 46.3,204.3 46.6,204.4 46.9,204.5 47.1,204.6 47.4,204.6 47.6,204.5 47.9,204.4 48.1,204.2 48.4,203.9 48.6,203.6 48.9,203.2 49.1,202.8 49.4,202.4 49.6,201.9 49.9,201.3 50.1,200.8 50.4,200.2 50.6,199.6 50.9,198.9 51.1,198.3 51.4,197.6 51.6,196.9 51.9,196.2 52.2,195.5 52.4,194.8 52.7,194.1 52.9,193.4 53.2,192.7 53.4,192.0 53.7,191.3 53.9,190.6 54.2,189.9 54.4,189.2 54.7,188.5 54.9,187.8 55.2,187.1 55.4,186.3 55.7,185.6 55.9,184.9 56.2,184.2 56.4,183.5 56.7,182.9 57.0,182.2 57.2,181.5 57.5,180.9 57.7,180.3 58.0,179.8 58.2,179.2 58.5,178.8 58.7,178.3 59.0,177.9 59.2,177.6 59.5,177.3 59.7,177.1 60.0,176.9 60.2,176.8 60.5,176.8 60.7,176.8 61.0,176.9 61.2,177.1 61.5,177.3 61.7,177.6 62.0,177.9 62.3,178.3 62.5,178.7 62.8,179.2 63.0,179.7 63.3,180.3 63.5,180.9 63.8,181.5 64.0,182.2 64.3,182.8 64.5,183.5 64.8,184.2 65.0,184.9 65.3,185.6 65.5,186.4 65.8,187.1 66.0,187.8 66.3,188.5 66.5,189.3 66.8,190.0 67.1,190.7 67.3,191.5 67.6,192.2 67.8,193.0 68.1,193.7 68.3,194.4 68.6,195.2 68.8,195.9 69.1,196.6 69.3,197.3 69.6,198.1 69.8,198.8 70.1,199.4 70.3,200.1 70.6,200.8 70.8,201.4 71.1,202.0 71.3,202.5 71.6,203.1 71.8,203.5 72.1,204.0 72.4,204.4 72.6,204.7 72.9,205.0 73.1,205.2 73.4,205.3 73.6,205.4 73.9,205.4 74.1,205.4 74.4,205.2 74.6,205.1 74.9,204.8 75.1,204.5 75.4,204.2 75.6,203.8 75.9,203.3 76.1,202.8 76.4,202.3 76.6,201.7 76.9,201.1 77.2,200.4 77.4,199.8 77.7,199.1 77.9,198.4 78.2,197.7 78.4,197.0 78.7,196.3 78.9,195.5 79.2,194.8 79.4,194.1 79.7,193.4 79.9,192.6 80.2,191.9 80.4,191.2 80.7,190.4 80.9,189.7 81.2,189.0 81.4,188.3 81.7,187.5 81.9,186.8 82.2,186.1 82.5,185.4 82.7,184.7 83.0,184.0 83.2,183.3 83.5,182.6 83.7,182.0 84.0,181.4 84.2,180.8 84.5,180.2 84.7,179.6 85.0,179.1 85.2,178.7 85.5,178.3 85.7,177.9 86.0,177.6 86.2,177.4 86.5,177.2 86.7,177.1 87.0,177.0 87.3,177.0 87.5,177.1 87.8,177.2 88.0,177.4 88.3,177.6 88.5,177.9 88.8,178.3 89.0,178.7 89.3,179.2 89.5,179.7 89.8,180.2 90.0,180.8 90.3,181.4 90.5,182.0 90.8,182.6 91.0,183.3 91.3,184.0 91.5,184.6 91.8,185.3 92.0,186.0 92.3,186.7 92.6,187.4 92.8,188.1 93.1,188.8 93.3,189.5 93.6,190.2 93.8,190.9 94.1,191.6 94.3,192.3 94.6,193.0 94.8,193.7 95.1,194.4 95.3,195.1 95.6,195.7 95.8,196.4 96.1,197.1 96.3,197.8 96.6,198.4 96.8,199.0 97.1,199.7 97.4,200.2 97.6,200.8 97.9,201.4 98.1,201.9 98.4,202.3 98.6,202.8 98.9,203.2 99.1,203.5 99.4,203.8 99.6,204.0 99.9,204.2 100.1,204.3 100.4,204.4 100.6,204.3 100.9,204.3 101.1,204.1 101.4,204.0 101.6,203.7 101.9,203.4 102.1,203.1 102.4,202.7 102.7,202.2 102.9,201.7 103.2,201.2 103.4,200.7 103.7,200.1 103.9,199.5 104.2,198.9 104.4,198.3 104.7,197.6 104.9,197.0 105.2,196.3 105.4,195.6 105.7,195.0 105.9,194.3 106.2,193.6 106.4,193.0 106.7,192.3 106.9,191.7 107.2,191.0 107.5,190.3 107.7,189.7 108.0,189.0 108.2,188.4 108.5,187.7 108.7,187.0 109.0,186.4 109.2,185.7 109.5,185.1 109.7,184.5 110.0,183.8 110.2,183.2 110.5,182.6 110.7,182.0 111.0,181.5 111.2,180.9 111.5,180.4 111.7,180.0 112.0,179.6 112.2,179.2 112.5,178.9 112.8,178.6 113.0,178.3 113.3,178.2 113.5,178.1 113.8,178.0 114.0,178.0 114.3,178.1 114.5,178.2 114.8,178.4 115.0,178.6 115.3,178.9 115.5,179.2 115.8,179.6 116.0,180.1 116.3,180.5 116.5,181.0 116.8,181.6 117.0,182.1 117.3,182.7 117.6,183.3 117.8,183.9 118.1,184.6 118.3,185.2 118.6,185.8 118.8,186.5 119.1,187.1 119.3,187.8 119.6,188.5 119.8,189.1 120.1,189.8 120.3,190.4 120.6,191.1 120.8,191.7 121.1,192.4 121.3,193.1 121.6,193.7 121.8,194.4 122.1,195.0 122.3,195.7 122.6,196.4 122.9,197.0 123.1,197.7 123.4,198.3 123.6,198.9 123.9,199.5 124.1,200.1 124.4,200.7 124.6,201.2 124.9,201.7 125.1,202.2 125.4,202.6 125.6,203.0 125.9,203.4 126.1,203.6 126.4,203.9 126.6,204.1 126.9,204.2 127.1,204.2 127.4,204.2 127.7,204.2 127.9,204.0 128.2,203.9 128.4,203.6 128.7,203.3 128.9,203.0 129.2,202.6 129.4,202.2 129.7,201.7 129.9,201.2 130.2,200.6 130.4,200.1 130.7,199.5 130.9,198.9 131.2,198.2 131.4,197.6 131.7,196.9 131.9,196.3 132.2,195.6 132.4,194.9 132.7,194.2 133.0,193.6 133.2,192.9 133.5,192.2 133.7,191.5 134.0,190.8 134.2,190.1 134.5,189.5 134.7,188.8 135.0,188.1 135.2,187.4 135.5,186.7 135.7,186.0 136.0,185.3 136.2,184.6 136.5,184.0 136.7,183.3 137.0,182.6 137.2,182.0 137.5,181.4 137.8,180.8 138.0,180.2 138.3,179.7 138.5,179.2 138.8,178.8 139.0,178.4 139.3,178.0 139.5,177.7 139.8,177.5 140.0,177.3 140.3,177.2 140.5,177.1 140.8,177.1 141.0,177.2 141.3,177.3 141.5,177.5 141.8,177.8 142.0,178.1 142.3,178.5 142.5,178.9 142.8,179.3 143.1,179.8 143.3,180.4 143.6,180.9 143.8,181.5 144.1,182.2 144.3,182.8 144.6,183.5 144.8,184.1 145.1,184.8 145.3,185.5 145.6,186.2 145.8,186.9 146.1,187.7 146.3,188.4 146.6,189.1 146.8,189.8 147.1,190.5 147.3,191.3 147.6,192.0 147.9,192.7 148.1,193.4 148.4,194.2 148.6,194.9 148.9,195.6 149.1,196.3 149.4,197.1 149.6,197.8 149.9,198.5 150.1,199.2 150.4,199.8 150.6,200.5 150.9,201.1 151.1,201.7 151.4,202.3 151.6,202.8 151.9,203.3 152.1,203.8 152.4,204.2 152.6,204.5 152.9,204.8 153.2,205.0 153.4,205.2 153.7,205.3 153.9,205.4 154.2,205.3 154.4,205.3 154.7,205.1 154.9,204.9 155.2,204.6 155.4,204.3 155.7,203.9 155.9,203.5 156.2,203.0 156.4,202.5 156.7,201.9 156.9,201.3 157.2,200.7 157.4,200.0 157.7,199.4 158.0,198.7 158.2,198.0 158.5,197.2 158.7,196.5 159.0,195.8 159.2,195.1 159.5,194.3 159.7,193.6 160.0,192.9 160.2,192.1 160.5,191.4 160.7,190.6 161.0,189.9 161.2,189.2 161.5,188.4 161.7,187.7 162.0,187.0 162.2,186.2 162.5,185.5 162.7,184.8 163.0,184.1 163.3,183.4 163.5,182.7 163.8,182.0 164.0,181.4 164.3,180.8 164.5,180.2 164.8,179.6 165.0,179.1 165.3,178.6 165.5,178.2 165.8,177.8 166.0,177.4 166.3,177.2 166.5,177.0 166.8,176.8 167.0,176.7 167.3,176.7 167.5,176.7 167.8,176.8 168.1,177.0 168.3,177.2 168.6,177.5 168.8,177.9 169.1,178.3 169.3,178.7 169.6,179.2 169.8,179.8 170.1,180.3 170.3,180.9 170.6,181.6 170.8,182.2 171.1,182.9 171.3,183.6 171.6,184.3 171.8,185.0 172.1,185.7 172.3,186.4 172.6,187.1 172.8,187.8 173.1,188.6 173.4,189.3 173.6,190.0 173.9,190.7 174.1,191.4 174.4,192.1 174.6,192.9 174.9,193.6 175.1,194.3 175.4,195.0 175.6,195.7 175.9,196.4 176.1,197.1 176.4,197.8 176.6,198.4 176.9,199.1 177.1,199.7 177.4,200.4 177.6,201.0 177.9,201.5 178.2,202.0 178.4,202.5 178.7,203.0 178.9,203.4 179.2,203.8 179.4,204.1 179.7,204.3 179.9,204.5 180.2,204.6 180.4,204.7 180.7,204.7 180.9,204.7 181.2,204.6 181.4,204.4 181.7,204.1 181.9,203.9 182.2,203.5 182.4,203.1 182.7,202.7 182.9,202.2 183.2,201.7 183.5,201.1 183.7,200.5 184.0,199.9 184.2,199.3 184.5,198.7 184.7,198.0 185.0,197.3 185.2,196.7 185.5,196.0 185.7,195.3 186.0,194.6 186.2,193.9 186.5,193.2 186.7,192.6 187.0,191.9 187.2,191.2 187.5,190.5 187.7,189.8 188.0,189.2 188.3,188.5 188.5,187.8 188.8,187.1 189.0,186.5 189.3,185.8 189.5,185.2 189.8,184.5 190.0,183.9 190.3,183.2 190.5,182.6 190.8,182.0 191.0,181.5 191.3,180.9 191.5,180.4 191.8,179.9 192.0,179.5 192.3,179.1 192.5,178.8 192.8,178.5 193.0,178.2 193.3,178.1 193.6,177.9 193.8,177.9 194.1,177.9 194.3,177.9 194.6,178.0 194.8,178.2 195.1,178.4 195.3,178.7 195.6,179.0 195.8,179.4 196.1,179.9 196.3,180.3 196.6,180.8 196.8,181.4 197.1,181.9 197.3,182.5 197.6,183.1 197.8,183.7 198.1,184.4 198.4,185.0 198.6,185.6 198.9,186.3 199.1,187.0 199.4,187.6 199.6,188.3 199.9,188.9 200.1,189.6 200.4,190.2 200.6,190.9 200.9,191.5 201.1,192.2 201.4,192.9 201.6,193.5 201.9,194.2 202.1,194.8 202.4,195.5 202.6,196.1 202.9,196.8 203.1,197.4 203.4,198.0 203.7,198.7 203.9,199.3 204.2,199.8 204.4,200.4 204.7,200.9 204.9,201.4 205.2,201.9 205.4,202.4 205.7,202.7 205.9,203.1 206.2,203.4 206.4,203.6 206.7,203.8 206.9,203.9 207.2,204.0 207.4,204.0 207.7,204.0 207.9,203.9 208.2,203.7 208.5,203.5 208.7,203.2 209.0,202.9 209.2,202.5 209.5,202.1 209.7,201.6 210.0,201.1 210.2,200.6 210.5,200.0 210.7,199.5 211.0,198.9 211.2,198.2 211.5,197.6 211.7,197.0 212.0,196.3 212.2,195.7 212.5,195.0 212.7,194.4 213.0,193.7 213.2,193.0 213.5,192.4 213.8,191.7 214.0,191.0 214.3,190.4 214.5,189.7 214.8,189.0 215.0,188.4 215.3,187.7 215.5,187.0 215.8,186.3 216.0,185.7 216.3,185.0 216.5,184.4 216.8,183.7 217.0,183.1 217.3,182.4 217.5,181.8 217.8,181.3 218.0,180.7 218.3,180.2 218.6,179.7 218.8,179.2 219.1,178.8 219.3,178.5 219.6,178.2 219.8,177.9 220.1,177.7 220.3,177.6 220.6,177.5 220.8,177.5 221.1,177.6 221.3,177.7 221.6,177.9 221.8,178.1 222.1,178.4 222.3,178.7 222.6,179.1 222.8,179.5 223.1,180.0 223.3,180.5 223.6,181.1 223.9,181.6 224.1,182.2 224.4,182.9 224.6,183.5 224.9,184.1 225.1,184.8 225.4,185.5 225.6,186.2 225.9,186.9 226.1,187.6 226.4,188.2 226.6,188.9 226.9,189.6 227.1,190.3 227.4,191.0 227.6,191.8 227.9,192.5 228.1,193.2 228.4,193.9 228.7,194.6 228.9,195.3 229.2,196.0 229.4,196.7 229.7,197.4 229.9,198.1 230.2,198.8 230.4,199.4 230.7,200.1 230.9,200.7 231.2,201.3 231.4,201.9 231.7,202.4 231.9,202.9 232.2,203.4 232.4,203.8 232.7,204.2 232.9,204.5 233.2,204.7 233.4,204.9 233.7,205.1 234.0,205.1 234.2,205.1 234.5,205.1 234.7,204.9 235.0,204.7 235.2,204.5 235.5,204.2 235.7,203.8 236.0,203.4 236.2,203.0 236.5,202.5 236.7,201.9 237.0,201.4 237.2,200.7 237.5,200.1 237.7,199.5 238.0,198.8 238.2,198.1 238.5,197.4" fill="none" stroke="#2a2aff" stroke-width="1.05" stroke-linejoin="round" />
<polyline points="11.5,185.0 11.8,184.4 12.0,183.7 12.3,183.1 12.5,182.4 12.8,181.8 13.0,181.2 13.3,180.7 13.5,180.1 13.8,179.6 14.0,179.2 14.3,178.8 14.5,178.4 14.8,178.1 15.0,177.8 15.3,177.6 15.5,177.5 15.8,177.4 16.0,177.4 16.3,177.4 16.6,177.5 16.8,177.7 17.1,177.9 17.3,178.2 17.6,178.5 17.8,178.9 18.1,179.3 18.3,179.8 18.6,180.3 18.8,180.9 19.1,181.4 19.3,182.0 19.6,182.7 19.8,183.3 20.1,184.0 20.3,184.6 20.6,185.3 20.8,186.0 21.1,186.7 21.3,187.4 21.6,188.1 21.9,188.8 22.1,189.5 22.4,190.2 22.6,191.0 22.9,191.7 23.1,192.4 23.4,193.1 23.6,193.8 23.9,194.5 24.1,195.2 24.4,196.0 24.6,196.7 24.9,197.4 25.1,198.1 25.4,198.8 25.6,199.4 25.9,200.1 26.1,200.7 26.4,201.3 26.7,201.9 26.9,202.5 27.2,203.0 27.4,203.4 27.7,203.9 27.9,204.2 28.2,204.6 28.4,204.8 28.7,205.0 28.9,205.1 29.2,205.2 29.4,205.2 29.7,205.2 29.9,205.1 30.2,204.9 30.4,204.6 30.7,204.3 30.9,204.0 31.2,203.6 31.4,203.1 31.7,202.6 32.0,202.1 32.2,201.5 32.5,200.9 32.7,200.3 33.0,199.6 33.2,198.9 33.5,198.2 33.7,197.5 34.0,196.8 34.2,196.1 34.5,195.4 34.7,194.6 35.0,193.9 35.2,193.2 35.5,192.4 35.7,191.7 36.0,191.0 36.2,190.2 36.5,189.5 36.8,188.8 37.0,188.0 37.3,187.3 37.5,186.5 37.8,185.8 38.0,185.1 38.3,184.4 38.5,183.7 38.8,183.0 39.0,182.3 39.3,181.6 39.5,181.0 39.8,180.4 40.0,179.8 40.3,179.2 40.5,178.7 40.8,178.3 41.0,177.9 41.3,177.5 41.5,177.2 41.8,177.0 42.1,176.8 42.3,176.7 42.6,176.6 42.8,176.6 43.1,176.7 43.3,176.8 43.6,177.0 43.8,177.3 44.1,177.6 44.3,178.0 44.6,178.4 44.8,178.9 45.1,179.4 45.3,180.0 45.6,180.6 45.8,181.2 46.1,181.8 46.3,182.5 46.6,183.2 46.9,183.9 47.1,184.6 47.4,185.3 47.6,186.0 47.9,186.7 48.1,187.5 48.4,188.2 48.6,188.9 48.9,189.7 49.1,190.4 49.4,191.1 49.6,191.8 49.9,192.6 50.1,193.3 50.4,194.0 50.6,194.7 50.9,195.5 51.1,196.2 51.4,196.9 51.6,197.6 51.9,198.3 52.2,198.9 52.4,199.6 52.7,200.2 52.9,200.9 53.2,201.5 53.4,202.0 53.7,202.5 53.9,203.0 54.2,203.4 54.4,203.8 54.7,204.2 54.9,204.4 55.2,204.7 55.4,204.8 55.7,204.9 55.9,205.0 56.2,204.9 56.4,204.9 56.7,204.7 57.0,204.5 57.2,204.2 57.5,203.9 57.7,203.5 58.0,203.1 58.2,202.6 58.5,202.1 58.7,201.6 59.0,201.0 59.2,200.4 59.5,199.7 59.7,199.1 60.0,198.4 60.2,197.7 60.5,197.1 60.7,196.4 61.0,195.7 61.2,195.0 61.5,194.3 61.7,193.6 62.0,192.9 62.3,192.2 62.5,191.5 62.8,190.8 63.0,190.1 63.3,189.4 63.5,188.7 63.8,188.0 64.0,187.4 64.3,186.7 64.5,186.0 64.8,185.3 65.0,184.7 65.3,184.0 65.5,183.4 65.8,182.7 66.0,182.1 66.3,181.6 66.5,181.0 66.8,180.5 67.1,180.0 67.3,179.5 67.6,179.1 67.8,178.7 68.1,178.4 68.3,178.2 68.6,177.9 68.8,177.8 69.1,177.7 69.3,177.7 69.6,177.7 69.8,177.8 70.1,178.0 70.3,178.2 70.6,178.4 70.8,178.7 71.1,179.1 71.3,179.5 71.6,180.0 71.8,180.5 72.1,181.0 72.4,181.6 72.6,182.1 72.9,182.8 73.1,183.4 73.4,184.0 73.6,184.7 73.9,185.3 74.1,186.0 74.4,186.6 74.6,187.3 74.9,188.0 75.1,188.6 75.4,189.3 75.6,189.9 75.9,190.6 76.1,191.3 76.4,191.9 76.6,192.6 76.9,193.2 77.2,193.9 77.4,194.6 77.7,195.2 77.9,195.9 78.2,196.5 78.4,197.2 78.7,197.8 78.9,198.4 79.2,199.0 79.4,199.6 79.7,200.2 79.9,200.7 80.2,201.2 80.4,201.7 80.7,202.2 80.9,202.6 81.2,202.9 81.4,203.3 81.7,203.5 81.9,203.7 82.2,203.9 82.5,204.0 82.7,204.0 83.0,204.0 83.2,203.9 83.5,203.7 83.7,203.5 84.0,203.3 84.2,203.0 84.5,202.6 84.7,202.2 85.0,201.8 85.2,201.3 85.5,200.8 85.7,200.2 86.0,199.6 86.2,199.1 86.5,198.4 86.7,197.8 87.0,197.2 87.3,196.5 87.5,195.9 87.8,195.3 88.0,194.6 88.3,193.9 88.5,193.3 88.8,192.6 89.0,192.0 89.3,191.3 89.5,190.7 89.8,190.0 90.0,189.3 90.3,188.7 90.5,188.0 90.8,187.4 91.0,186.7 91.3,186.0 91.5,185.4 91.8,184.7 92.0,184.1 92.3,183.5 92.6,182.8 92.8,182.2 93.1,181.6 93.3,181.1 93.6,180.6 93.8,180.1 94.1,179.6 94.3,179.2 94.6,178.8 94.8,178.5 95.1,178.2 95.3,178.0 95.6,177.9 95.8,177.8 96.1,177.7 96.3,177.8 96.6,177.8 96.8,178.0 97.1,178.2 97.4,178.5 97.6,178.8 97.9,179.1 98.1,179.5 98.4,180.0 98.6,180.5 98.9,181.0 99.1,181.6 99.4,182.1 99.6,182.7 99.9,183.4 100.1,184.0 100.4,184.7 100.6,185.3 100.9,186.0 101.1,186.7 101.4,187.3 101.6,188.0 101.9,188.7 102.1,189.4 102.4,190.1 102.7,190.8 102.9,191.4 103.2,192.1 103.4,192.8 103.7,193.5 103.9,194.2 104.2,194.9 104.4,195.6 104.7,196.3 104.9,197.0 105.2,197.7 105.4,198.3 105.7,199.0 105.9,199.6 106.2,200.3 106.4,200.9 106.7,201.5 106.9,202.0 107.2,202.5 107.5,203.0 107.7,203.4 108.0,203.8 108.2,204.1 108.5,204.4 108.7,204.6 109.0,204.8 109.2,204.9 109.5,204.9 109.7,204.9 110.0,204.8 110.2,204.6 110.5,204.4 110.7,204.1 111.0,203.8 111.2,203.4 111.5,203.0 111.7,202.5 112.0,202.0 112.2,201.5 112.5,200.9 112.8,200.3 113.0,199.6 113.3,199.0 113.5,198.3 113.8,197.6 114.0,196.9 114.3,196.2 114.5,195.5 114.8,194.8 115.0,194.1 115.3,193.3 115.5,192.6 115.8,191.9 116.0,191.2 116.3,190.5 116.5,189.7 116.8,189.0 117.0,188.3 117.3,187.5 117.6,186.8 117.8,186.1 118.1,185.4 118.3,184.7 118.6,183.9 118.8,183.2 119.1,182.6 119.3,181.9 119.6,181.2 119.8,180.6 120.1,180.0 120.3,179.5 120.6,179.0 120.8,178.5 121.1,178.0 121.3,177.7 121.6,177.3 121.8,177.1 122.1,176.9 122.3,176.7 122.6,176.6 122.9,176.6 123.1,176.7 123.4,176.8 123.6,177.0 123.9,177.2 124.1,177.5 124.4,177.9 124.6,178.3 124.9,178.7 125.1,179.2 125.4,179.8 125.6,180.3 125.9,180.9 126.1,181.6 126.4,182.2 126.6,182.9 126.9,183.6 127.1,184.3 127.4,185.0 127.7,185.8 127.9,186.5 128.2,187.2 128.4,188.0 128.7,188.7 128.9,189.4 129.2,190.2 129.4,190.9 129.7,191.6 129.9,192.4 130.2,193.1 130.4,193.9 130.7,194.6 130.9,195.3 131.2,196.0 131.4,196.8 131.7,197.5 131.9,198.2 132.2,198.9 132.4,199.6 132.7,200.2 133.0,200.9 133.2,201.5 133.5,202.1 133.7,202.6 134.0,203.1 134.2,203.6 134.5,204.0 134.7,204.3 135.0,204.6 135.2,204.9 135.5,205.1 135.7,205.2 136.0,205.3 136.2,205.3 136.5,205.2 136.7,205.1 137.0,204.9 137.2,204.6 137.5,204.3 137.8,203.9 138.0,203.5 138.3,203.1 138.5,202.6 138.8,202.0 139.0,201.4 139.3,200.8 139.5,200.2 139.8,199.5 140.0,198.8 140.3,198.2 140.5,197.5 140.8,196.7 141.0,196.0 141.3,195.3 141.5,194.6 141.8,193.9 142.0,193.2 142.3,192.4 142.5,191.7 142.8,191.0 143.1,190.3 143.3,189.6 143.6,188.9 143.8,188.2 144.1,187.5 144.3,186.7 144.6,186.0 144.8,185.4 145.1,184.7 145.3,184.0 145.6,183.3 145.8,182.7 146.1,182.0 146.3,181.4 146.6,180.9 146.8,180.3 147.1,179.8 147.3,179.3 147.6,178.9 147.9,178.5 148.1,178.1 148.4,177.9 148.6,177.6 148.9,177.5 149.1,177.4 149.4,177.3 149.6,177.3 149.9,177.4 150.1,177.5 150.4,177.7 150.6,178.0 150.9,178.3 151.1,178.7 151.4,179.1 151.6,179.5 151.9,180.0 152.1,180.6 152.4,181.1 152.6,181.7 152.9,182.3 153.2,183.0 153.4,183.6 153.7,184.3 153.9,185.0 154.2,185.6 154.4,186.3 154.7,187.0 154.9,187.7 155.2,188.4 155.4,189.0 155.7,189.7 155.9,190.4 156.2,191.1 156.4,191.7 156.7,192.4 156.9,193.1 157.2,193.8 157.4,194.4 157.7,195.1 158.0,195.8 158.2,196.4 158.5,197.1 158.7,197.7 159.0,198.4 159.2,199.0 159.5,199.6 159.7,200.2 160.0,200.7 160.2,201.3 160.5,201.7 160.7,202.2 161.0,202.6 161.2,203.0 161.5,203.3 161.7,203.6 162.0,203.8 162.2,204.0 162.5,204.1 162.7,204.1 163.0,204.1 163.3,204.0 163.5,203.9 163.8,203.7 164.0,203.4 164.3,203.1 164.5,202.8 164.8,202.4 165.0,201.9 165.3,201.5 165.5,201.0 165.8,200.4 166.0,199.8 166.3,199.3 166.5,198.6 166.8,198.0 167.0,197.4 167.3,196.7 167.5,196.1 167.8,195.4 168.1,194.8 168.3,194.1 168.6,193.5 168.8,192.8 169.1,192.2 169.3,191.5 169.6,190.9 169.8,190.2 170.1,189.5 170.3,188.9 170.6,188.2 170.8,187.6 171.1,186.9 171.3,186.3 171.6,185.6 171.8,185.0 172.1,184.3 172.3,183.7 172.6,183.1 172.8,182.5 173.1,181.9 173.4,181.4 173.6,180.8 173.9,180.4 174.1,179.9 174.4,179.5 174.6,179.1 174.9,178.8 175.1,178.5 175.4,178.3 175.6,178.1 175.9,178.0 176.1,178.0 176.4,178.0 176.6,178.1 176.9,178.2 177.1,178.4 177.4,178.6 177.6,178.9 177.9,179.3 178.2,179.6 178.4,180.1 178.7,180.6 178.9,181.1 179.2,181.6 179.4,182.2 179.7,182.8 179.9,183.4 180.2,184.0 180.4,184.6 180.7,185.3 180.9,185.9 181.2,186.6 181.4,187.2 181.7,187.9 181.9,188.6 182.2,189.2 182.4,189.9 182.7,190.6 182.9,191.2 183.2,191.9 183.5,192.6 183.7,193.2 184.0,193.9 184.2,194.6 184.5,195.3 184.7,195.9 185.0,196.6 185.2,197.3 185.5,197.9 185.7,198.6 186.0,199.2 186.2,199.8 186.5,200.4 186.7,201.0 187.0,201.5 187.2,202.0 187.5,202.5 187.7,203.0 188.0,203.3 188.3,203.7 188.5,204.0 188.8,204.2 189.0,204.4 189.3,204.5 189.5,204.5 189.8,204.5 190.0,204.4 190.3,204.3 190.5,204.1 190.8,203.9 191.0,203.5 191.3,203.2 191.5,202.8 191.8,202.3 192.0,201.8 192.3,201.3 192.5,200.8 192.8,200.2 193.0,199.6 193.3,198.9 193.6,198.3 193.8,197.6 194.1,196.9 194.3,196.3 194.6,195.6 194.8,194.9 195.1,194.2 195.3,193.5 195.6,192.8 195.8,192.1 196.1,191.4 196.3,190.7 196.6,190.0 196.8,189.3 197.1,188.6 197.3,187.8 197.6,187.1 197.8,186.4 198.1,185.7 198.4,185.0 198.6,184.3 198.9,183.6 199.1,182.9 199.4,182.3 199.6,181.6 199.9,181.0 200.1,180.4 200.4,179.9 200.6,179.3 200.9,178.8 201.1,178.4 201.4,178.0 201.6,177.7 201.9,177.4 202.1,177.2 202.4,177.0 202.6,176.9 202.9,176.8 203.1,176.9 203.4,177.0 203.7,177.1 203.9,177.3 204.2,177.6 204.4,177.9 204.7,178.3 204.9,178.7 205.2,179.2 205.4,179.7 205.7,180.3 205.9,180.9 206.2,181.5 206.4,182.1 206.7,182.8 206.9,183.5 207.2,184.2 207.4,184.9 207.7,185.6 207.9,186.3 208.2,187.0 208.5,187.8 208.7,188.5 209.0,189.2 209.2,190.0 209.5,190.7 209.7,191.4 210.0,192.2 210.2,192.9 210.5,193.6 210.7,194.4 211.0,195.1 211.2,195.8 211.5,196.6 211.7,197.3 212.0,198.0 212.2,198.7 212.5,199.4 212.7,200.1 213.0,200.7 213.2,201.3 213.5,201.9 213.8,202.5 214.0,203.0 214.3,203.5 214.5,203.9 214.8,204.3 215.0,204.7 215.3,204.9 215.5,205.1 215.8,205.3 216.0,205.4 216.3,205.4 216.5,205.4 216.8,205.3 217.0,205.1 217.3,204.9 217.5,204.6 217.8,204.2 218.0,203.8 218.3,203.4 218.6,202.9 218.8,202.3 219.1,201.8 219.3,201.2 219.6,200.5 219.8,199.9 220.1,199.2 220.3,198.5 220.6,197.8 220.8,197.1 221.1,196.3 221.3,195.6 221.6,194.9 221.8,194.2 222.1,193.4 222.3,192.7 222.6,192.0 222.8,191.2 223.1,190.5 223.3,189.8 223.6,189.0 223.9,188.3 224.1,187.6 224.4,186.9 224.6,186.1 224.9,185.4 225.1,184.7 225.4,184.0 225.6,183.3 225.9,182.7 226.1,182.0 226.4,181.4 226.6,180.8 226.9,180.2 227.1,179.6 227.4,179.1 227.6,178.7 227.9,178.3 228.1,177.9 228.4,177.6 228.7,177.3 228.9,177.1 229.2,177.0 229.4,176.9 229.7,176.9 229.9,177.0 230.2,177.1 230.4,177.3 230.7,177.5 230.9,177.8 231.2,178.2 231.4,178.6 231.7,179.1 231.9,179.6 232.2,180.1 232.4,180.7 232.7,181.3 232.9,181.9 233.2,182.5 233.4,183.2 233.7,183.9 234.0,184.6 234.2,185.3 234.5,186.0 234.7,186.7 235.0,187.4 235.2,188.1 235.5,188.8 235.7,189.5 236.0,190.2 236.2,190.9 236.5,191.6 236.7,192.3 237.0,193.0 237.2,193.7 237.5,194.3 237.7,195.0 238.0,195.7 238.2,196.4 238.5,197.1" fill="none" stroke="#22dd22" stroke-width="1.05" stroke-linejoin="round" />
</g>
<line x1="11.50" y1="219.40" x2="11.50" y2="217.10" stroke="#3a3a3a" stroke-width="1.00"/>
<line x1="11.50" y1="162.60" x2="11.50" y2="164.90" stroke="#3a3a3a" stroke-width="1.00"/>
<g transform="translate(11.50,228.85) scale(0.880,1)">
<text x="0.00" y="0.00" font-size="10.20" text-anchor="middle" fill="#111" stroke="#111" stroke-width="0.12">1.58</text>
</g>
<line x1="38.21" y1="219.40" x2="38.21" y2="217.10" stroke="#3a3a3a" stroke-width="1.00"/>
<line x1="38.21" y1="162.60" x2="38.21" y2="164.90" stroke="#3a3a3a" stroke-width="1.00"/>
<g transform="translate(38.21,228.85) scale(0.880,1)">
<text x="0.00" y="0.00" font-size="10.20" text-anchor="middle" fill="#111" stroke="#111" stroke-width="0.12">1.6</text>
</g>
<line x1="64.91" y1="219.40" x2="64.91" y2="217.10" stroke="#3a3a3a" stroke-width="1.00"/>
<line x1="64.91" y1="162.60" x2="64.91" y2="164.90" stroke="#3a3a3a" stroke-width="1.00"/>
<g transform="translate(64.91,228.85) scale(0.880,1)">
<text x="0.00" y="0.00" font-size="10.20" text-anchor="middle" fill="#111" stroke="#111" stroke-width="0.12">1.62</text>
</g>
<line x1="91.62" y1="219.40" x2="91.62" y2="217.10" stroke="#3a3a3a" stroke-width="1.00"/>
<line x1="91.62" y1="162.60" x2="91.62" y2="164.90" stroke="#3a3a3a" stroke-width="1.00"/>
<g transform="translate(91.62,228.85) scale(0.880,1)">
<text x="0.00" y="0.00" font-size="10.20" text-anchor="middle" fill="#111" stroke="#111" stroke-width="0.12">1.64</text>
</g>
<line x1="118.32" y1="219.40" x2="118.32" y2="217.10" stroke="#3a3a3a" stroke-width="1.00"/>
<line x1="118.32" y1="162.60" x2="118.32" y2="164.90" stroke="#3a3a3a" stroke-width="1.00"/>
<g transform="translate(118.32,228.85) scale(0.880,1)">
<text x="0.00" y="0.00" font-size="10.20" text-anchor="middle" fill="#111" stroke="#111" stroke-width="0.12">1.66</text>
</g>
<line x1="145.03" y1="219.40" x2="145.03" y2="217.10" stroke="#3a3a3a" stroke-width="1.00"/>
<line x1="145.03" y1="162.60" x2="145.03" y2="164.90" stroke="#3a3a3a" stroke-width="1.00"/>
<g transform="translate(145.03,228.85) scale(0.880,1)">
<text x="0.00" y="0.00" font-size="10.20" text-anchor="middle" fill="#111" stroke="#111" stroke-width="0.12">1.68</text>
</g>
<line x1="171.74" y1="219.40" x2="171.74" y2="217.10" stroke="#3a3a3a" stroke-width="1.00"/>
<line x1="171.74" y1="162.60" x2="171.74" y2="164.90" stroke="#3a3a3a" stroke-width="1.00"/>
<g transform="translate(171.74,228.85) scale(0.880,1)">
<text x="0.00" y="0.00" font-size="10.20" text-anchor="middle" fill="#111" stroke="#111" stroke-width="0.12">1.7</text>
</g>
<line x1="198.44" y1="219.40" x2="198.44" y2="217.10" stroke="#3a3a3a" stroke-width="1.00"/>
<line x1="198.44" y1="162.60" x2="198.44" y2="164.90" stroke="#3a3a3a" stroke-width="1.00"/>
<g transform="translate(198.44,228.85) scale(0.880,1)">
<text x="0.00" y="0.00" font-size="10.20" text-anchor="middle" fill="#111" stroke="#111" stroke-width="0.12">1.72</text>
</g>
<line x1="225.15" y1="219.40" x2="225.15" y2="217.10" stroke="#3a3a3a" stroke-width="1.00"/>
<line x1="225.15" y1="162.60" x2="225.15" y2="164.90" stroke="#3a3a3a" stroke-width="1.00"/>
<g transform="translate(225.15,228.85) scale(0.880,1)">
<text x="0.00" y="0.00" font-size="10.20" text-anchor="middle" fill="#111" stroke="#111" stroke-width="0.12">1.74</text>
</g>
<line x1="11.50" y1="162.60" x2="13.80" y2="162.60" stroke="#3a3a3a" stroke-width="1.00"/>
<line x1="238.50" y1="162.60" x2="236.20" y2="162.60" stroke="#3a3a3a" stroke-width="1.00"/>
<g transform="translate(9.10,165.60) scale(0.930,1)">
<text x="0.00" y="0.00" font-size="9.80" text-anchor="end" fill="#111" stroke="#111" stroke-width="0.12">2</text>
</g>
<line x1="11.50" y1="176.80" x2="13.80" y2="176.80" stroke="#3a3a3a" stroke-width="1.00"/>
<line x1="238.50" y1="176.80" x2="236.20" y2="176.80" stroke="#3a3a3a" stroke-width="1.00"/>
<g transform="translate(9.10,179.80) scale(0.930,1)">
<text x="0.00" y="0.00" font-size="9.80" text-anchor="end" fill="#111" stroke="#111" stroke-width="0.12">1</text>
</g>
<line x1="11.50" y1="191.00" x2="13.80" y2="191.00" stroke="#3a3a3a" stroke-width="1.00"/>
<line x1="238.50" y1="191.00" x2="236.20" y2="191.00" stroke="#3a3a3a" stroke-width="1.00"/>
<g transform="translate(9.10,194.00) scale(0.930,1)">
<text x="0.00" y="0.00" font-size="9.80" text-anchor="end" fill="#111" stroke="#111" stroke-width="0.12">0</text>
</g>
<line x1="11.50" y1="205.20" x2="13.80" y2="205.20" stroke="#3a3a3a" stroke-width="1.00"/>
<line x1="238.50" y1="205.20" x2="236.20" y2="205.20" stroke="#3a3a3a" stroke-width="1.00"/>
<g transform="translate(9.10,208.20) scale(0.930,1)">
<text x="0.00" y="0.00" font-size="9.80" text-anchor="end" fill="#111" stroke="#111" stroke-width="0.12">-1</text>
</g>
<line x1="11.50" y1="219.40" x2="13.80" y2="219.40" stroke="#3a3a3a" stroke-width="1.00"/>
<line x1="238.50" y1="219.40" x2="236.20" y2="219.40" stroke="#3a3a3a" stroke-width="1.00"/>
<g transform="translate(9.10,222.40) scale(0.930,1)">
<text x="0.00" y="0.00" font-size="9.80" text-anchor="end" fill="#111" stroke="#111" stroke-width="0.12">-2</text>
</g>
<rect x="11.50" y="162.60" width="227.00" height="56.80" fill="none" stroke="#3a3a3a" stroke-width="1"/>
<polyline points="271.6,34.7 272.2,34.7 272.8,35.1 273.4,35.4 274.0,35.3 274.6,34.8 275.2,34.6 275.8,34.8 276.4,35.2 277.0,35.1 277.6,34.5 278.2,34.1 278.8,34.3 279.4,35.2 280.0,35.9 280.6,35.5 281.2,34.3 281.8,33.3 282.4,33.3 283.0,34.4 283.6,35.4 284.2,35.5 284.8,34.7 285.4,33.9 286.0,33.9 286.6,34.4 287.2,34.8 287.8,34.4 288.4,33.8 289.0,33.5 289.6,34.0 290.2,34.8 290.8,35.0 291.4,34.6 292.0,33.9 292.6,33.7 293.2,34.0 293.8,34.4 294.4,34.3 295.0,33.8 295.6,33.3 296.2,33.5 296.8,34.3 297.4,34.9 298.0,34.8 298.6,34.1 299.2,33.4 299.8,33.1 300.4,33.4 301.0,33.8 301.6,34.0 302.2,34.0 302.8,33.8 303.4,33.7 304.0,33.6 304.6,33.5 305.2,33.3 305.8,33.1 306.4,33.0 307.0,33.0 307.6,33.1 308.2,33.3 308.8,33.4 309.4,33.3 310.0,32.9 310.6,32.5 311.2,32.3 311.8,32.5 312.4,33.1 313.0,33.6 313.6,33.4 314.2,32.5 314.8,31.7 315.4,31.6 316.0,32.2 316.6,33.1 317.2,33.4 317.8,33.1 318.4,32.7 319.0,32.5 319.6,32.4 320.2,32.1 320.8,31.5 321.4,31.2 322.0,31.6 322.6,32.7 323.2,33.6 323.8,33.4 324.4,32.3 325.0,31.2 325.6,31.0 326.2,31.6 326.8,32.1 327.4,32.0 328.0,31.4 328.6,31.0 329.2,31.4 329.8,32.3 330.4,33.0 331.0,32.8 331.6,31.9 332.2,31.1 332.8,30.9 333.4,31.1 334.0,31.6 334.6,32.1 335.2,32.7 335.8,33.4 336.4,33.8 337.0,33.6 337.6,32.8 338.2,31.7 338.8,31.2 339.4,31.6 340.0,32.7 340.6,33.7 341.2,34.3 341.8,34.2 342.4,33.8 343.0,33.3 343.6,33.1 344.2,33.0 344.8,33.0 345.4,33.0 346.0,33.2 346.6,33.5 347.2,34.2 347.8,34.8 348.4,34.9 349.0,34.3 349.6,33.5 350.2,33.1 350.8,33.5 351.4,34.4 352.0,35.1 352.6,35.1 353.2,34.4 353.8,33.9 354.4,34.1 355.0,34.9 355.6,35.5 356.2,35.6 356.8,35.1 357.4,34.7 358.0,34.7 358.6,35.1 359.2,35.3 359.8,35.1 360.4,35.0 361.0,35.3 361.6,35.9 362.2,36.3 362.8,35.8 363.4,34.7 364.0,34.0 364.6,34.3 365.2,35.1 365.8,35.6 366.4,35.4 367.0,34.8 367.6,34.5 368.2,34.8 368.8,35.4 369.4,35.3 370.0,34.6 370.6,34.0 371.2,34.1 371.8,34.8 372.4,35.3 373.0,35.2 373.6,34.7 374.2,34.5 374.8,35.1 375.4,35.9 376.0,36.1 376.6,35.4 377.2,34.5 377.8,34.1 378.4,34.6 379.0,35.4 379.6,36.0 380.2,36.0 380.8,35.8 381.4,35.7 382.0,35.7 382.6,35.3 383.2,34.7 383.8,34.2 384.4,34.4 385.0,35.3 385.6,36.2 386.2,36.3 386.8,35.7 387.4,34.8 388.0,34.5 388.6,34.7 389.2,35.1 389.8,35.3 390.4,35.2 391.0,35.1 391.6,35.1 392.2,35.1 392.8,35.0 393.4,34.9 394.0,35.0 394.6,35.3 395.2,35.5 395.8,35.4 396.4,34.8 397.0,34.3 397.6,34.2 398.2,34.8 398.8,35.5 399.4,35.9 400.0,35.7 400.6,35.1 401.2,34.5 401.8,34.3 402.4,34.4 403.0,34.6 403.6,34.8 404.2,35.0 404.8,35.0 405.4,35.0 406.0,34.8 406.6,34.5 407.2,34.2 407.8,34.0 408.4,34.1 409.0,34.5 409.6,34.8 410.2,34.8 410.8,34.4 411.4,33.7 412.0,33.5 412.6,33.9 413.2,34.8 413.8,35.3 414.4,34.9 415.0,33.6 415.6,32.5 416.2,32.6 416.8,34.0 417.4,35.6 418.0,36.1 418.6,34.9 419.2,33.0 419.8,31.8 420.4,32.2 421.0,33.9 421.6,35.4 422.2,35.6 422.8,34.7 423.4,33.5 424.0,32.9 424.6,33.2 425.2,33.9 425.8,34.4 426.4,34.4 427.0,34.0 427.6,33.7 428.2,33.8 428.8,34.3 429.4,34.8 430.0,34.9 430.6,34.4 431.2,33.5 431.8,32.9 432.4,33.2 433.0,34.5 433.6,35.9 434.2,36.6 434.8,36.0 435.4,34.7 436.0,33.7 436.6,33.7 437.2,34.6 437.8,35.4 438.4,35.8 439.0,35.8 439.6,35.8 440.2,36.2 440.8,36.4 441.4,36.2 442.0,35.3 442.6,34.6 443.2,34.6 443.8,35.6 444.4,37.0 445.0,37.8 445.6,37.5 446.2,36.4 446.8,35.4 447.4,35.3 448.0,36.0 448.6,37.0 449.2,37.5 449.8,37.3 450.4,36.7 451.0,36.3 451.6,36.4 452.2,36.9 452.8,37.3 453.4,37.1 454.0,36.7 454.6,36.4 455.2,36.6 455.8,37.0 456.4,37.2 457.0,36.8 457.6,36.3 458.2,36.2 458.8,36.7 459.4,37.4 460.0,37.7 460.6,37.2 461.2,36.2 461.8,35.5 462.4,35.4 463.0,35.8 463.6,36.0 464.2,36.0 464.8,35.9 465.4,35.8 466.0,35.6 466.6,35.1 467.2,34.2 467.8,33.4 468.4,33.2 469.0,33.8 469.6,34.5 470.2,34.6 470.8,34.0 471.4,33.1 472.0,32.6 472.6,32.9 473.2,33.5 473.8,33.9 474.4,33.8 475.0,33.5 475.6,33.4 476.2,33.5 476.8,33.5 477.4,33.2 478.0,33.0 478.6,33.2 479.2,33.7 479.8,34.1 480.4,33.9 481.0,33.1 481.6,32.5 482.2,32.5 482.8,33.1 483.4,33.5 484.0,33.5 484.6,33.0 485.2,32.7 485.8,32.7 486.4,33.0 487.0,32.9 487.6,32.4 488.2,32.0 488.8,32.2 489.4,32.7 490.0,33.1 490.6,33.0 491.2,32.4 491.8,32.0 492.4,32.3 493.0,33.0 493.6,33.5 494.2,33.4 494.8,32.9 495.4,32.7 496.0,33.1 496.6,33.7 497.2,33.9 497.8,33.6" fill="none" stroke="#111" stroke-width="1.00" stroke-linejoin="round" />
<line x1="271.60" y1="65.90" x2="271.60" y2="63.60" stroke="#3a3a3a" stroke-width="1.00"/>
<line x1="271.60" y1="9.00" x2="271.60" y2="11.30" stroke="#3a3a3a" stroke-width="1.00"/>
<line x1="298.26" y1="65.90" x2="298.26" y2="63.60" stroke="#3a3a3a" stroke-width="1.00"/>
<line x1="298.26" y1="9.00" x2="298.26" y2="11.30" stroke="#3a3a3a" stroke-width="1.00"/>
<line x1="324.92" y1="65.90" x2="324.92" y2="63.60" stroke="#3a3a3a" stroke-width="1.00"/>
<line x1="324.92" y1="9.00" x2="324.92" y2="11.30" stroke="#3a3a3a" stroke-width="1.00"/>
<line x1="351.58" y1="65.90" x2="351.58" y2="63.60" stroke="#3a3a3a" stroke-width="1.00"/>
<line x1="351.58" y1="9.00" x2="351.58" y2="11.30" stroke="#3a3a3a" stroke-width="1.00"/>
<line x1="378.24" y1="65.90" x2="378.24" y2="63.60" stroke="#3a3a3a" stroke-width="1.00"/>
<line x1="378.24" y1="9.00" x2="378.24" y2="11.30" stroke="#3a3a3a" stroke-width="1.00"/>
<line x1="404.89" y1="65.90" x2="404.89" y2="63.60" stroke="#3a3a3a" stroke-width="1.00"/>
<line x1="404.89" y1="9.00" x2="404.89" y2="11.30" stroke="#3a3a3a" stroke-width="1.00"/>
<line x1="431.55" y1="65.90" x2="431.55" y2="63.60" stroke="#3a3a3a" stroke-width="1.00"/>
<line x1="431.55" y1="9.00" x2="431.55" y2="11.30" stroke="#3a3a3a" stroke-width="1.00"/>
<line x1="458.21" y1="65.90" x2="458.21" y2="63.60" stroke="#3a3a3a" stroke-width="1.00"/>
<line x1="458.21" y1="9.00" x2="458.21" y2="11.30" stroke="#3a3a3a" stroke-width="1.00"/>
<line x1="484.87" y1="65.90" x2="484.87" y2="63.60" stroke="#3a3a3a" stroke-width="1.00"/>
<line x1="484.87" y1="9.00" x2="484.87" y2="11.30" stroke="#3a3a3a" stroke-width="1.00"/>
<line x1="271.60" y1="9.00" x2="273.90" y2="9.00" stroke="#3a3a3a" stroke-width="1.00"/>
<line x1="498.20" y1="9.00" x2="495.90" y2="9.00" stroke="#3a3a3a" stroke-width="1.00"/>
<g transform="translate(270.00,12.00) scale(0.930,1)">
<text x="0.00" y="0.00" font-size="9.80" text-anchor="end" fill="#111" stroke="#111" stroke-width="0.12">-0.8</text>
</g>
<line x1="271.60" y1="23.23" x2="273.90" y2="23.23" stroke="#3a3a3a" stroke-width="1.00"/>
<line x1="498.20" y1="23.23" x2="495.90" y2="23.23" stroke="#3a3a3a" stroke-width="1.00"/>
<g transform="translate(270.00,26.23) scale(0.930,1)">
<text x="0.00" y="0.00" font-size="9.80" text-anchor="end" fill="#111" stroke="#111" stroke-width="0.12">-0.9</text>
</g>
<line x1="271.60" y1="37.45" x2="273.90" y2="37.45" stroke="#3a3a3a" stroke-width="1.00"/>
<line x1="498.20" y1="37.45" x2="495.90" y2="37.45" stroke="#3a3a3a" stroke-width="1.00"/>
<g transform="translate(270.00,40.45) scale(0.930,1)">
<text x="0.00" y="0.00" font-size="9.80" text-anchor="end" fill="#111" stroke="#111" stroke-width="0.12">-1</text>
</g>
<line x1="271.60" y1="51.68" x2="273.90" y2="51.68" stroke="#3a3a3a" stroke-width="1.00"/>
<line x1="498.20" y1="51.68" x2="495.90" y2="51.68" stroke="#3a3a3a" stroke-width="1.00"/>
<g transform="translate(270.00,54.68) scale(0.930,1)">
<text x="0.00" y="0.00" font-size="9.80" text-anchor="end" fill="#111" stroke="#111" stroke-width="0.12">-1.1</text>
</g>
<line x1="271.60" y1="65.90" x2="273.90" y2="65.90" stroke="#3a3a3a" stroke-width="1.00"/>
<line x1="498.20" y1="65.90" x2="495.90" y2="65.90" stroke="#3a3a3a" stroke-width="1.00"/>
<g transform="translate(270.00,68.90) scale(0.930,1)">
<text x="0.00" y="0.00" font-size="9.80" text-anchor="end" fill="#111" stroke="#111" stroke-width="0.12">-1.2</text>
</g>
<rect x="271.60" y="9.00" width="226.60" height="56.90" fill="none" stroke="#3a3a3a" stroke-width="1"/>
<polyline points="271.6,107.2 271.9,107.2 272.2,107.1 272.5,107.0 272.8,106.9 273.1,106.8 273.4,107.0 273.7,107.1 274.0,107.4 274.3,107.3 274.6,107.4 274.9,107.3 275.2,107.5 275.5,107.6 275.8,107.4 276.1,107.3 276.4,107.1 276.7,107.1 277.0,106.9 277.3,107.0 277.6,106.9 277.9,106.9 278.2,106.9 278.5,107.1 278.8,107.2 279.1,107.4 279.4,107.5 279.7,107.6 280.0,107.6 280.3,107.5 280.6,107.3 280.9,107.1 281.2,106.9 281.5,106.8 281.8,106.7 282.1,106.6 282.4,106.6 282.7,106.7 283.0,106.8 283.3,106.9 283.6,107.1 283.9,107.4 284.2,107.4 284.5,107.3 284.8,107.1 285.1,107.0 285.4,106.9 285.7,106.8 286.0,106.7 286.3,106.6 286.6,106.6 286.9,106.5 287.2,106.8 287.5,106.9 287.8,107.3 288.1,107.6 288.4,107.5 288.7,107.5 289.0,107.4 289.3,107.5 289.6,107.3 289.9,107.1 290.2,107.0 290.5,106.9 290.8,106.9 291.1,106.8 291.4,106.9 291.7,107.0 292.0,107.0 292.3,107.0 292.6,107.0 292.9,107.2 293.2,107.2 293.5,107.4 293.8,107.2 294.1,107.1 294.4,107.0 294.7,107.0 295.0,106.8 295.3,106.7 295.6,106.6 295.9,106.9 296.2,106.9 296.5,107.2 296.8,107.3 297.1,107.2 297.4,107.1 297.7,107.2 298.0,107.3 298.3,107.5 298.6,107.5 298.9,107.6 299.2,107.8 299.5,108.0 299.8,108.1 300.1,108.4 300.4,108.5 300.7,108.9" fill="none" stroke="#111" stroke-width="1.45" stroke-linejoin="round" />
<polyline points="300.7,108.9 301.0,109.0 301.3,109.3 301.6,109.2 301.9,109.2 302.2,108.7 302.5,108.2 302.8,107.3 303.1,106.4 303.4,105.5 303.7,104.6 304.0,103.9 304.3,103.7 304.6,103.9 304.9,104.8 305.2,106.0 305.5,107.4 305.8,108.7 306.1,109.6 306.4,110.0 306.7,109.8 307.0,109.0 307.3,107.8 307.6,106.2 307.9,104.7 308.2,103.3 308.5,102.5 308.8,102.2 309.1,102.9 309.4,104.5 309.7,106.4 310.0,108.3 310.3,110.0 310.6,111.1 310.9,111.3 311.2,110.7 311.5,109.4 311.8,107.7 312.1,105.9 312.4,104.3 312.7,103.1 313.0,102.6 313.3,102.8 313.6,103.8 313.9,105.1 314.2,106.8 314.5,108.4 314.8,110.0 315.1,110.5 315.4,110.8 315.7,110.1 316.0,109.0 316.3,107.1 316.6,105.2 316.9,103.4 317.2,102.1 317.5,101.5 317.8,101.8 318.1,103.2 318.4,105.2 318.7,107.6 319.0,110.0 319.3,112.1 319.6,113.3 319.9,113.3 320.2,111.8 320.5,109.6 320.8,107.0 321.1,104.6 321.4,102.5 321.7,101.2 322.0,101.1 322.3,102.2 322.6,104.0 322.9,106.4 323.2,108.5 323.5,110.3 323.8,111.5 324.1,112.0 324.4,111.6 324.7,110.5 325.0,108.6 325.3,106.9 325.6,105.0 325.9,103.5 326.2,102.4 326.5,102.3 326.8,103.3 327.1,105.0 327.4,107.3 327.7,109.6 328.0,111.7 328.3,113.3 328.6,114.0 328.9,113.5 329.2,111.9 329.5,109.4 329.8,106.8 330.1,104.3 330.4,102.8 330.7,102.2 331.0,102.6 331.3,103.9 331.6,106.0 331.9,108.2 332.2,110.3 332.5,112.0 332.8,112.9 333.1,113.0 333.4,112.2 333.7,110.8 334.0,109.0 334.3,107.1 334.6,105.5 334.9,104.5 335.2,104.4 335.5,104.8 335.8,105.8 336.1,107.2 336.4,109.3 336.7,111.1 337.0,112.7 337.3,113.4 337.6,113.6 337.9,112.9 338.2,111.2 338.5,108.9 338.8,106.7 339.1,104.7 339.4,103.3 339.7,103.0 340.0,103.7 340.3,105.5 340.6,107.8 340.9,110.4 341.2,112.9 341.5,114.8 341.8,115.7 342.1,115.3 342.4,114.0 342.7,111.5 343.0,108.8 343.3,106.0 343.6,104.1 343.9,102.7 344.2,102.6 344.5,103.5 344.8,105.7 345.1,108.6 345.4,111.6 345.7,114.2 346.0,116.1 346.3,116.5 346.6,116.0 346.9,114.3 347.2,111.9 347.5,108.7 347.8,106.1 348.1,104.3 348.4,103.4 348.7,103.7 349.0,105.0 349.3,107.3 349.6,109.9 349.9,112.5 350.2,114.5 350.5,115.6 350.8,115.7 351.1,114.8 351.4,113.1 351.7,110.9 352.0,108.5 352.3,106.2 352.6,104.8 352.9,104.1 353.2,104.7 353.5,106.1 353.8,108.2 354.1,110.4 354.4,112.3 354.7,114.1 355.0,115.1 355.3,115.3 355.6,114.3 355.9,112.5 356.2,110.2 356.5,107.8 356.8,105.6 357.1,104.2 357.4,103.8 357.7,104.7 358.0,106.3 358.3,108.4 358.6,110.8 358.9,113.1 359.2,114.7 359.5,115.4 359.8,115.0 360.1,113.9 360.4,111.9 360.7,109.6 361.0,107.2 361.3,105.3 361.6,104.0 361.9,103.8 362.2,104.4 362.5,106.3 362.8,108.7 363.1,111.2 363.4,113.6 363.7,115.2 364.0,116.0 364.3,115.3 364.6,113.9 364.9,111.6 365.2,108.8 365.5,106.0 365.8,103.8 366.1,102.9 366.4,103.1 366.7,104.3 367.0,106.4 367.3,108.8 367.6,111.5 367.9,113.5 368.2,115.1 368.5,115.4 368.8,114.5 369.1,112.6 369.4,110.1 369.7,107.6 370.0,105.3 370.3,103.7 370.6,103.0 370.9,103.5 371.2,104.8 371.5,107.0 371.8,109.3 372.1,111.6 372.4,113.4 372.7,114.4 373.0,114.5 373.3,113.4 373.6,111.6 373.9,109.3 374.2,107.1 374.5,105.0 374.8,103.6 375.1,102.9 375.4,103.6 375.7,105.0 376.0,107.3 376.3,109.3 376.6,111.4 376.9,112.8 377.2,113.8 377.5,113.6 377.8,112.4 378.1,110.6 378.4,108.5 378.7,106.0 379.0,104.0 379.3,102.6 379.6,102.6 379.9,103.3 380.2,104.8 380.5,107.0 380.8,109.6 381.1,112.2 381.4,114.0 381.7,114.7 382.0,114.2 382.3,112.7 382.6,110.4 382.9,107.5 383.2,104.6 383.5,102.3 383.8,100.9 384.1,101.1 384.4,102.5 384.7,104.8 385.0,107.6 385.3,110.3 385.6,112.9 385.9,114.3 386.2,114.7 386.5,113.8 386.8,111.8 387.1,109.3 387.4,106.6 387.7,104.4 388.0,102.8 388.3,102.2 388.6,102.5 388.9,103.9 389.2,105.9 389.5,108.2 389.8,110.2 390.1,112.0 390.4,113.2 390.7,113.4 391.0,112.4 391.3,110.6 391.6,108.6 391.9,106.1 392.2,104.1 392.5,102.5 392.8,102.0 393.1,102.5 393.4,103.8 393.7,106.0 394.0,108.5 394.3,110.8 394.6,112.4 394.9,113.0 395.2,112.7 395.5,111.6 395.8,110.0 396.1,107.8 396.4,105.5 396.7,103.3 397.0,102.0 397.3,101.7 397.6,102.4 397.9,104.2 398.2,106.4 398.5,108.9 398.8,111.1 399.1,113.0 399.4,113.9 399.7,113.5 400.0,112.0 400.3,109.7 400.6,107.2 400.9,104.6 401.2,102.4 401.5,101.1 401.8,101.1 402.1,102.1 402.4,104.4 402.7,106.9 403.0,109.6 403.3,111.8 403.6,113.2 403.9,113.8 404.2,113.2 404.5,111.5 404.8,109.0 405.1,106.2 405.4,103.8 405.7,102.1 406.0,101.2 406.3,101.4 406.6,102.8 406.9,104.9 407.2,107.6 407.5,110.1 407.8,112.3 408.1,113.8 408.4,114.1 408.7,113.1 409.0,111.0 409.3,108.4 409.6,105.9 409.9,103.4 410.2,101.7 410.5,100.9 410.8,101.7 411.1,103.3 411.4,105.9 411.7,108.4 412.0,111.0 412.3,112.9 412.6,113.8 412.9,113.7 413.2,112.5 413.5,110.6 413.8,108.0 414.1,105.4 414.4,103.2 414.7,102.0 415.0,101.8 415.3,102.4 415.6,104.0 415.9,106.2 416.2,108.9 416.5,111.2 416.8,113.0 417.1,113.5 417.4,113.1 417.7,111.8 418.0,109.9 418.3,107.7 418.6,105.3 418.9,103.4 419.2,102.3 419.5,102.2 419.8,102.9 420.1,104.6 420.4,106.8 420.7,109.3 421.0,111.7 421.3,113.1 421.6,113.7 421.9,112.9 422.2,111.3 422.5,109.0 422.8,106.6 423.1,104.2 423.4,102.6 423.7,101.8 424.0,102.0 424.3,103.3 424.6,105.2 424.9,107.8 425.2,110.1 425.5,112.2 425.8,113.4 426.1,113.7 426.4,112.9 426.7,111.2 427.0,108.8 427.3,106.3 427.6,103.8 427.9,102.0 428.2,101.2 428.5,101.4 428.8,102.8 429.1,105.2 429.4,108.3 429.7,111.3 430.0,113.6 430.3,115.2 430.6,115.3 430.9,114.1 431.2,111.6 431.5,108.4 431.8,105.2 432.1,102.3 432.4,100.5 432.7,99.9 433.0,100.9 433.3,103.2 433.6,106.1 433.9,108.8 434.2,110.8 434.5,112.1 434.8,112.4 435.1,112.0 435.4,111.0 435.7,109.4 436.0,107.6 436.3,105.9 436.6,104.6 436.9,104.0 437.2,103.8 437.5,104.3 437.8,105.4 438.1,107.0 438.4,108.8 438.7,110.2 439.0,111.4 439.3,111.6 439.6,111.3 439.9,109.9 440.2,108.7 440.5,107.0 440.8,105.5 441.1,104.1 441.4,103.6 441.7,103.8 442.0,104.6 442.3,105.7 442.6,106.9 442.9,108.2 443.2,109.2 443.5,109.7 443.8,109.6 444.1,109.0 444.4,108.3 444.7,107.5 445.0,106.9 445.3,106.4 445.6,106.1 445.9,105.9 446.2,106.1 446.5,106.5 446.8,107.0 447.1,107.1 447.4,107.5 447.7,107.8 448.0,108.1 448.3,108.0 448.6,107.7 448.9,107.3 449.2,107.1 449.5,106.8 449.8,106.7 450.1,106.6 450.4,106.6 450.7,106.7 451.0,106.9 451.3,107.1 451.6,107.2 451.9,107.3" fill="none" stroke="#1a1a1a" stroke-width="0.85" stroke-linejoin="round" />
<polyline points="451.6,107.2 451.9,107.3 452.2,107.3 452.5,107.3 452.8,107.2 453.1,107.0 453.4,106.9 453.7,106.7 454.0,106.6 454.3,106.4 454.6,106.3 454.9,106.2 455.2,106.1 455.5,106.0 455.8,105.9 456.1,105.9 456.4,105.9 456.7,105.9 457.0,105.9 457.3,105.9 457.6,105.8 457.9,105.7 458.2,105.6 458.5,105.4 458.8,105.2 459.1,105.0 459.4,104.8 459.7,104.5 460.0,104.3 460.3,104.3 460.6,104.3 460.9,104.4 461.2,104.4 461.5,104.6 461.8,104.7 462.1,104.8 462.4,105.0 462.7,105.1 463.0,105.2 463.3,105.3 463.6,105.3 463.9,105.3 464.2,105.2 464.5,105.1 464.8,105.1 465.1,104.9 465.4,104.7 465.7,104.5 466.0,104.3 466.3,104.2 466.6,104.1 466.9,104.0 467.2,104.0 467.5,103.9 467.8,103.9 468.1,103.9 468.4,103.8 468.7,103.7 469.0,103.6 469.3,103.4 469.6,103.2 469.9,103.0 470.2,102.9 470.5,102.9 470.8,102.9 471.1,103.0 471.4,103.1 471.7,103.2 472.0,103.4 472.3,103.6 472.6,103.8 472.9,104.0 473.2,104.3 473.5,104.5 473.8,104.7 474.1,104.9 474.4,105.1 474.7,105.2 475.0,105.3 475.3,105.1 475.6,105.0 475.9,104.8 476.2,104.6 476.5,104.5 476.8,104.3 477.1,104.3 477.4,104.2 477.7,104.2 478.0,104.3 478.3,104.3 478.6,104.4 478.9,104.5 479.2,104.5 479.5,104.5 479.8,104.5 480.1,104.5 480.4,104.5 480.7,104.5 481.0,104.5 481.3,104.5 481.6,104.5 481.9,104.5 482.2,104.5 482.5,104.6 482.8,104.7 483.1,104.8 483.4,105.0 483.7,105.2 484.0,105.4 484.3,105.6 484.6,105.8 484.9,106.0 485.2,106.1 485.5,106.1 485.8,106.1 486.1,106.0 486.4,106.0 486.7,105.9 487.0,105.8 487.3,105.7 487.6,105.7 487.9,105.7 488.2,105.7 488.5,105.7 488.8,105.8 489.1,106.0 489.4,106.1 489.7,106.2 490.0,106.4 490.3,106.5 490.6,106.6 490.9,106.6 491.2,106.6 491.5,106.5 491.8,106.4 492.1,106.3 492.4,106.2 492.7,106.1 493.0,106.1 493.3,106.0 493.6,106.0 493.9,106.0 494.2,106.1 494.5,106.2 494.8,106.3 495.1,106.5 495.4,106.6 495.7,106.8 496.0,106.9 496.3,106.9 496.6,107.0 496.9,107.0 497.2,106.9 497.5,106.9 497.8,106.8 498.1,106.7" fill="none" stroke="#111" stroke-width="1.45" stroke-linejoin="round" />
<line x1="271.60" y1="142.90" x2="271.60" y2="140.60" stroke="#3a3a3a" stroke-width="1.00"/>
<line x1="271.60" y1="86.10" x2="271.60" y2="88.40" stroke="#3a3a3a" stroke-width="1.00"/>
<line x1="298.26" y1="142.90" x2="298.26" y2="140.60" stroke="#3a3a3a" stroke-width="1.00"/>
<line x1="298.26" y1="86.10" x2="298.26" y2="88.40" stroke="#3a3a3a" stroke-width="1.00"/>
<line x1="324.92" y1="142.90" x2="324.92" y2="140.60" stroke="#3a3a3a" stroke-width="1.00"/>
<line x1="324.92" y1="86.10" x2="324.92" y2="88.40" stroke="#3a3a3a" stroke-width="1.00"/>
<line x1="351.58" y1="142.90" x2="351.58" y2="140.60" stroke="#3a3a3a" stroke-width="1.00"/>
<line x1="351.58" y1="86.10" x2="351.58" y2="88.40" stroke="#3a3a3a" stroke-width="1.00"/>
<line x1="378.24" y1="142.90" x2="378.24" y2="140.60" stroke="#3a3a3a" stroke-width="1.00"/>
<line x1="378.24" y1="86.10" x2="378.24" y2="88.40" stroke="#3a3a3a" stroke-width="1.00"/>
<line x1="404.89" y1="142.90" x2="404.89" y2="140.60" stroke="#3a3a3a" stroke-width="1.00"/>
<line x1="404.89" y1="86.10" x2="404.89" y2="88.40" stroke="#3a3a3a" stroke-width="1.00"/>
<line x1="431.55" y1="142.90" x2="431.55" y2="140.60" stroke="#3a3a3a" stroke-width="1.00"/>
<line x1="431.55" y1="86.10" x2="431.55" y2="88.40" stroke="#3a3a3a" stroke-width="1.00"/>
<line x1="458.21" y1="142.90" x2="458.21" y2="140.60" stroke="#3a3a3a" stroke-width="1.00"/>
<line x1="458.21" y1="86.10" x2="458.21" y2="88.40" stroke="#3a3a3a" stroke-width="1.00"/>
<line x1="484.87" y1="142.90" x2="484.87" y2="140.60" stroke="#3a3a3a" stroke-width="1.00"/>
<line x1="484.87" y1="86.10" x2="484.87" y2="88.40" stroke="#3a3a3a" stroke-width="1.00"/>
<line x1="271.60" y1="93.20" x2="273.90" y2="93.20" stroke="#3a3a3a" stroke-width="1.00"/>
<line x1="498.20" y1="93.20" x2="495.90" y2="93.20" stroke="#3a3a3a" stroke-width="1.00"/>
<g transform="translate(270.00,96.20) scale(0.930,1)">
<text x="0.00" y="0.00" font-size="9.80" text-anchor="end" fill="#111" stroke="#111" stroke-width="0.12">0.1</text>
</g>
<line x1="271.60" y1="107.40" x2="273.90" y2="107.40" stroke="#3a3a3a" stroke-width="1.00"/>
<line x1="498.20" y1="107.40" x2="495.90" y2="107.40" stroke="#3a3a3a" stroke-width="1.00"/>
<g transform="translate(270.00,110.40) scale(0.930,1)">
<text x="0.00" y="0.00" font-size="9.80" text-anchor="end" fill="#111" stroke="#111" stroke-width="0.12">0</text>
</g>
<line x1="271.60" y1="121.60" x2="273.90" y2="121.60" stroke="#3a3a3a" stroke-width="1.00"/>
<line x1="498.20" y1="121.60" x2="495.90" y2="121.60" stroke="#3a3a3a" stroke-width="1.00"/>
<g transform="translate(270.00,124.60) scale(0.930,1)">
<text x="0.00" y="0.00" font-size="9.80" text-anchor="end" fill="#111" stroke="#111" stroke-width="0.12">-0.1</text>
</g>
<line x1="271.60" y1="135.80" x2="273.90" y2="135.80" stroke="#3a3a3a" stroke-width="1.00"/>
<line x1="498.20" y1="135.80" x2="495.90" y2="135.80" stroke="#3a3a3a" stroke-width="1.00"/>
<g transform="translate(270.00,138.80) scale(0.930,1)">
<text x="0.00" y="0.00" font-size="9.80" text-anchor="end" fill="#111" stroke="#111" stroke-width="0.12">-0.2</text>
</g>
<rect x="271.60" y="86.10" width="226.60" height="56.80" fill="none" stroke="#3a3a3a" stroke-width="1"/>
<polyline points="271.6,190.7 272.2,190.2 272.8,189.7 273.4,190.0 274.0,190.8 274.6,191.5 275.2,191.5 275.8,190.8 276.4,190.0 277.0,189.8 277.6,190.2 278.2,190.7 278.8,190.8 279.4,190.6 280.0,190.4 280.6,190.6 281.2,190.9 281.8,190.8 282.4,190.5 283.0,190.1 283.6,190.2 284.2,190.5 284.8,190.9 285.4,190.9 286.0,190.6 286.6,190.3 287.2,190.4 287.8,190.8 288.4,191.2 289.0,191.1 289.6,190.6 290.2,190.1 290.8,190.0 291.4,190.4 292.0,191.0 292.6,191.1 293.2,190.7 293.8,190.3 294.4,190.2 295.0,190.4 295.6,190.7 296.2,190.8 296.8,190.8 297.4,190.5 298.0,190.5 298.6,190.6 299.2,190.8 299.8,190.8 300.4,190.8 301.0,190.7 301.6,190.6 302.2,190.4 302.8,190.4 303.4,190.5 304.0,190.7 304.6,190.8 305.2,190.7 305.8,190.4 306.4,190.2 307.0,190.4 307.6,190.7 308.2,190.8 308.8,190.6 309.4,190.4 310.0,190.3 310.6,190.5 311.2,190.8 311.8,191.0 312.4,191.1 313.0,191.0 313.6,190.6 314.2,190.2 314.8,189.9 315.4,190.1 316.0,190.9 316.6,191.7 317.2,191.9 317.8,191.0 318.4,189.8 319.0,189.3 319.6,189.7 320.2,190.7 320.8,191.3 321.4,191.1 322.0,190.9 322.6,190.6 323.2,190.4 323.8,190.1 324.4,190.2 325.0,190.5 325.6,191.0 326.2,191.2 326.8,190.7 327.4,190.0 328.0,189.8 328.6,190.4 329.2,191.1 329.8,191.1 330.4,190.4 331.0,189.8 331.6,190.2 332.2,190.7 332.8,191.0 333.4,190.5 334.0,190.1 334.6,190.3 335.2,191.2 335.8,191.5 336.4,190.8 337.0,189.6 337.6,189.2 338.2,190.1 338.8,191.2 339.4,191.6 340.0,191.1 340.6,190.6 341.2,190.7 341.8,191.0 342.4,191.0 343.0,190.2 343.6,189.7 344.2,189.9 344.8,191.1 345.4,191.6 346.0,191.2 346.6,190.2 347.2,189.8 347.8,190.2 348.4,190.6 349.0,190.4 349.6,189.8 350.2,189.7 350.8,190.4 351.4,191.2 352.0,191.4 352.6,190.9 353.2,189.9 353.8,189.6 354.4,189.9 355.0,190.4 355.6,190.8 356.2,191.0 356.8,190.9 357.4,190.6 358.0,190.3 358.6,190.3 359.2,190.5 359.8,190.6 360.4,190.5 361.0,190.3 361.6,190.4 362.2,190.6 362.8,191.0 363.4,190.9 364.0,190.7 364.6,190.3 365.2,190.4 365.8,190.6 366.4,190.7 367.0,190.4 367.6,189.9 368.2,190.2 368.8,190.8 369.4,191.3 370.0,190.7 370.6,189.9 371.2,189.6 371.8,190.1 372.4,190.7 373.0,190.6 373.6,190.0 374.2,189.8 374.8,190.5 375.4,191.5 376.0,191.7 376.6,190.7 377.2,189.7 377.8,189.6 378.4,190.5 379.0,191.2 379.6,191.2 380.2,190.7 380.8,190.7 381.4,191.1 382.0,191.3 382.6,190.5 383.2,189.7 383.8,189.3 384.4,190.1 385.0,190.9 385.6,191.4 386.2,191.0 386.8,190.7 387.4,190.4 388.0,190.4 388.6,190.2 389.2,190.2 389.8,190.4 390.4,191.0 391.0,191.3 391.6,191.0 392.2,190.3 392.8,190.0 393.4,190.3 394.0,190.9 394.6,191.0 395.2,190.6 395.8,190.0 396.4,190.1 397.0,190.6 397.6,190.9 398.2,190.8 398.8,190.4 399.4,190.2 400.0,190.4 400.6,190.8 401.2,190.7 401.8,190.7 402.4,190.5 403.0,190.7 403.6,190.8 404.2,190.7 404.8,190.3 405.4,190.3 406.0,190.7 406.6,191.0 407.2,190.9 407.8,190.3 408.4,190.2 409.0,190.6 409.6,191.2 410.2,191.1 410.8,190.5 411.4,189.9 412.0,190.0 412.6,190.6 413.2,191.1 413.8,191.1 414.4,190.6 415.0,190.0 415.6,189.9 416.2,190.3 416.8,190.8 417.4,190.7 418.0,190.3 418.6,190.0 419.2,190.2 419.8,190.5 420.4,190.9 421.0,190.9 421.6,190.7 422.2,190.4 422.8,190.3 423.4,190.2 424.0,190.4 424.6,190.3 425.2,190.7 425.8,190.6 426.4,190.8 427.0,190.3 427.6,190.2 428.2,190.1 428.8,190.6 429.4,190.6 430.0,190.5 430.6,189.8 431.2,189.6 431.8,189.8 432.4,190.1 433.0,190.2 433.6,189.9 434.2,189.8 434.8,190.0 435.4,190.5 436.0,191.2 436.6,191.2 437.2,190.8 437.8,190.4 438.4,190.0 439.0,190.0 439.6,190.0 440.2,190.4 440.8,191.1 441.4,191.4 442.0,191.2 442.6,190.4 443.2,189.7 443.8,189.8 444.4,190.5 445.0,191.2 445.6,191.1 446.2,190.4 446.8,189.9 447.4,190.1 448.0,190.9 448.6,191.5 449.2,191.2 449.8,190.4 450.4,189.8 451.0,189.8 451.6,190.4 452.2,191.1 452.8,191.3 453.4,190.9 454.0,190.4 454.6,190.0 455.2,190.0 455.8,190.2 456.4,190.6 457.0,191.0 457.6,191.1 458.2,190.7 458.8,190.4 459.4,190.3 460.0,190.5 460.6,190.7 461.2,190.8 461.8,190.6 462.4,190.5 463.0,190.6 463.6,190.8 464.2,190.8 464.8,190.7 465.4,190.5 466.0,190.5 466.6,190.5 467.2,190.7 467.8,190.8 468.4,190.8 469.0,190.8 469.6,190.6 470.2,190.3 470.8,190.1 471.4,190.3 472.0,190.8 472.6,191.1 473.2,191.1 473.8,190.8 474.4,190.4 475.0,190.1 475.6,190.2 476.2,190.5 476.8,190.8 477.4,190.6 478.0,190.5 478.6,190.6 479.2,190.8 479.8,191.0 480.4,190.8 481.0,190.4 481.6,190.0 482.2,190.0 482.8,190.5 483.4,191.0 484.0,191.0 484.6,190.6 485.2,190.1 485.8,190.1 486.4,190.4 487.0,190.6 487.6,190.6 488.2,190.2 488.8,190.2 489.4,190.6 490.0,191.4 490.6,191.5 491.2,190.9 491.8,190.1 492.4,189.6 493.0,189.9 493.6,190.5 494.2,191.1 494.8,191.0 495.4,190.4 496.0,190.0 496.6,190.0 497.2,190.5 497.8,191.0" fill="none" stroke="#111" stroke-width="1.05" stroke-linejoin="round" />
<line x1="271.60" y1="218.80" x2="271.60" y2="216.50" stroke="#3a3a3a" stroke-width="1.00"/>
<line x1="271.60" y1="162.50" x2="271.60" y2="164.80" stroke="#3a3a3a" stroke-width="1.00"/>
<g transform="translate(271.60,228.25) scale(0.880,1)">
<text x="0.00" y="0.00" font-size="10.20" text-anchor="middle" fill="#111" stroke="#111" stroke-width="0.12">1.58</text>
</g>
<line x1="298.26" y1="218.80" x2="298.26" y2="216.50" stroke="#3a3a3a" stroke-width="1.00"/>
<line x1="298.26" y1="162.50" x2="298.26" y2="164.80" stroke="#3a3a3a" stroke-width="1.00"/>
<g transform="translate(298.26,228.25) scale(0.880,1)">
<text x="0.00" y="0.00" font-size="10.20" text-anchor="middle" fill="#111" stroke="#111" stroke-width="0.12">1.6</text>
</g>
<line x1="324.92" y1="218.80" x2="324.92" y2="216.50" stroke="#3a3a3a" stroke-width="1.00"/>
<line x1="324.92" y1="162.50" x2="324.92" y2="164.80" stroke="#3a3a3a" stroke-width="1.00"/>
<g transform="translate(324.92,228.25) scale(0.880,1)">
<text x="0.00" y="0.00" font-size="10.20" text-anchor="middle" fill="#111" stroke="#111" stroke-width="0.12">1.62</text>
</g>
<line x1="351.58" y1="218.80" x2="351.58" y2="216.50" stroke="#3a3a3a" stroke-width="1.00"/>
<line x1="351.58" y1="162.50" x2="351.58" y2="164.80" stroke="#3a3a3a" stroke-width="1.00"/>
<g transform="translate(351.58,228.25) scale(0.880,1)">
<text x="0.00" y="0.00" font-size="10.20" text-anchor="middle" fill="#111" stroke="#111" stroke-width="0.12">1.64</text>
</g>
<line x1="378.24" y1="218.80" x2="378.24" y2="216.50" stroke="#3a3a3a" stroke-width="1.00"/>
<line x1="378.24" y1="162.50" x2="378.24" y2="164.80" stroke="#3a3a3a" stroke-width="1.00"/>
<g transform="translate(378.24,228.25) scale(0.880,1)">
<text x="0.00" y="0.00" font-size="10.20" text-anchor="middle" fill="#111" stroke="#111" stroke-width="0.12">1.66</text>
</g>
<line x1="404.89" y1="218.80" x2="404.89" y2="216.50" stroke="#3a3a3a" stroke-width="1.00"/>
<line x1="404.89" y1="162.50" x2="404.89" y2="164.80" stroke="#3a3a3a" stroke-width="1.00"/>
<g transform="translate(404.89,228.25) scale(0.880,1)">
<text x="0.00" y="0.00" font-size="10.20" text-anchor="middle" fill="#111" stroke="#111" stroke-width="0.12">1.68</text>
</g>
<line x1="431.55" y1="218.80" x2="431.55" y2="216.50" stroke="#3a3a3a" stroke-width="1.00"/>
<line x1="431.55" y1="162.50" x2="431.55" y2="164.80" stroke="#3a3a3a" stroke-width="1.00"/>
<g transform="translate(431.55,228.25) scale(0.880,1)">
<text x="0.00" y="0.00" font-size="10.20" text-anchor="middle" fill="#111" stroke="#111" stroke-width="0.12">1.7</text>
</g>
<line x1="458.21" y1="218.80" x2="458.21" y2="216.50" stroke="#3a3a3a" stroke-width="1.00"/>
<line x1="458.21" y1="162.50" x2="458.21" y2="164.80" stroke="#3a3a3a" stroke-width="1.00"/>
<g transform="translate(458.21,228.25) scale(0.880,1)">
<text x="0.00" y="0.00" font-size="10.20" text-anchor="middle" fill="#111" stroke="#111" stroke-width="0.12">1.72</text>
</g>
<line x1="484.87" y1="218.80" x2="484.87" y2="216.50" stroke="#3a3a3a" stroke-width="1.00"/>
<line x1="484.87" y1="162.50" x2="484.87" y2="164.80" stroke="#3a3a3a" stroke-width="1.00"/>
<g transform="translate(484.87,228.25) scale(0.880,1)">
<text x="0.00" y="0.00" font-size="10.20" text-anchor="middle" fill="#111" stroke="#111" stroke-width="0.12">1.74</text>
</g>
<line x1="271.60" y1="168.13" x2="273.90" y2="168.13" stroke="#3a3a3a" stroke-width="1.00"/>
<line x1="498.20" y1="168.13" x2="495.90" y2="168.13" stroke="#3a3a3a" stroke-width="1.00"/>
<g transform="translate(270.00,171.13) scale(0.930,1)">
<text x="0.00" y="0.00" font-size="9.80" text-anchor="end" fill="#111" stroke="#111" stroke-width="0.12">0.2</text>
</g>
<line x1="271.60" y1="190.65" x2="273.90" y2="190.65" stroke="#3a3a3a" stroke-width="1.00"/>
<line x1="498.20" y1="190.65" x2="495.90" y2="190.65" stroke="#3a3a3a" stroke-width="1.00"/>
<g transform="translate(270.00,193.65) scale(0.930,1)">
<text x="0.00" y="0.00" font-size="9.80" text-anchor="end" fill="#111" stroke="#111" stroke-width="0.12">0</text>
</g>
<line x1="271.60" y1="213.17" x2="273.90" y2="213.17" stroke="#3a3a3a" stroke-width="1.00"/>
<line x1="498.20" y1="213.17" x2="495.90" y2="213.17" stroke="#3a3a3a" stroke-width="1.00"/>
<g transform="translate(270.00,216.17) scale(0.930,1)">
<text x="0.00" y="0.00" font-size="9.80" text-anchor="end" fill="#111" stroke="#111" stroke-width="0.12">-0.2</text>
</g>
<rect x="271.60" y="162.50" width="226.60" height="56.30" fill="none" stroke="#3a3a3a" stroke-width="1"/>
<polyline points="532.5,37.0 533.1,36.9 533.7,36.6 534.3,36.7 534.9,36.7 535.5,36.8 536.1,36.7 536.7,36.7 537.3,36.7 537.9,36.7 538.5,36.7 539.1,36.7 539.7,36.8 540.3,36.8 540.9,36.8 541.5,36.8 542.1,36.8 542.7,36.9 543.3,36.9 543.9,36.8 544.5,36.7 545.1,36.8 545.7,36.7 546.3,36.8 546.9,36.6 547.5,36.8 548.1,36.8 548.7,36.8 549.3,36.7 549.9,36.5 550.5,36.8 551.1,36.8 551.7,36.8 552.3,36.6 552.9,36.8 553.5,37.0 554.1,37.2 554.7,37.0 555.3,36.9 555.9,36.9 556.5,36.9 557.1,36.9 557.7,36.7 558.3,36.7 558.9,36.8 559.5,36.9 560.1,37.1 560.7,37.0 561.3,37.0 561.9,37.1 562.5,37.1 563.1,36.9 563.7,36.7 564.3,36.8 564.9,36.8 565.5,36.7 566.1,36.6 566.7,36.6 567.3,36.8 567.9,36.9 568.5,36.9 569.1,36.7 569.7,36.6 570.3,36.5 570.9,36.6 571.5,36.6 572.1,36.7 572.7,36.6 573.3,36.5 573.9,36.6 574.5,36.6 575.1,36.7 575.7,36.7 576.3,36.7 576.9,36.6 577.5,36.5 578.1,36.5 578.7,36.5 579.3,36.5 579.9,36.5 580.5,36.5 581.1,36.4 581.7,36.4 582.3,36.3 582.9,36.3 583.5,36.2 584.1,36.1 584.7,36.1 585.3,36.2 585.9,36.0 586.5,36.0 587.1,36.1 587.7,36.2 588.3,36.1 588.9,35.9 589.5,35.8 590.1,35.6 590.7,35.8 591.3,35.7 591.9,35.7 592.5,35.3 593.1,35.2 593.7,35.0 594.3,35.1 594.9,35.2 595.5,35.2 596.1,34.9 596.7,34.8 597.3,34.7 597.9,34.9 598.5,34.8 599.1,34.9 599.7,34.8 600.3,34.4 600.9,34.5 601.5,34.4 602.1,34.5 602.7,34.2 603.3,34.1 603.9,33.8 604.5,33.8 605.1,33.8 605.7,33.9 606.3,34.0 606.9,34.0 607.5,34.0 608.1,33.9 608.7,34.0 609.3,33.9 609.9,34.0 610.5,33.7 611.1,33.7 611.7,33.6 612.3,33.8 612.9,34.2 613.5,34.4 614.1,34.3 614.7,34.0 615.3,33.8 615.9,34.1 616.5,34.3 617.1,34.3 617.7,34.1 618.3,34.0 618.9,33.7 619.5,33.7 620.1,33.9 620.7,34.2 621.3,34.2 621.9,34.2 622.5,34.3 623.1,34.5 623.7,34.5 624.3,34.4 624.9,34.5 625.5,34.6 626.1,34.5 626.7,34.4 627.3,34.5 627.9,34.5 628.5,34.7 629.1,34.8 629.7,35.0 630.3,35.1 630.9,35.1 631.5,35.2 632.1,35.1 632.7,35.0 633.3,35.1 633.9,35.1 634.5,35.1 635.1,34.8 635.7,34.9 636.3,35.1 636.9,35.3 637.5,35.3 638.1,35.1 638.7,35.1 639.3,35.2 639.9,35.4 640.5,35.4 641.1,35.4 641.7,35.6 642.3,35.6 642.9,35.5 643.5,35.3 644.1,35.4 644.7,35.4 645.3,35.5 645.9,35.5 646.5,35.7 647.1,35.7 647.7,35.8 648.3,35.9 648.9,35.9 649.5,35.9 650.1,35.8 650.7,36.0 651.3,36.1 651.9,36.0 652.5,36.0 653.1,36.1 653.7,36.4 654.3,36.3 654.9,36.3 655.5,36.1 656.1,36.1 656.7,36.1 657.3,36.2 657.9,36.3 658.5,36.3 659.1,36.1 659.7,36.4 660.3,36.4 660.9,36.6 661.5,36.4 662.1,36.5 662.7,36.4 663.3,36.3 663.9,36.4 664.5,36.5 665.1,36.6 665.7,36.6 666.3,36.5 666.9,36.6 667.5,36.7 668.1,36.6 668.7,36.7 669.3,36.9 669.9,36.9 670.5,36.9 671.1,37.0 671.7,37.1 672.3,37.1 672.9,37.0 673.5,37.0 674.1,37.1 674.7,37.2 675.3,37.1 675.9,37.2 676.5,37.2 677.1,37.4 677.7,37.3 678.3,37.2 678.9,37.2 679.5,37.2 680.1,37.3 680.7,37.4 681.3,37.6 681.9,37.7 682.5,37.6 683.1,37.5 683.7,37.6 684.3,37.7 684.9,37.8 685.5,37.8 686.1,37.6 686.7,37.7 687.3,37.8 687.9,37.7 688.5,37.7 689.1,37.6 689.7,37.7 690.3,37.7 690.9,37.7 691.5,38.0 692.1,37.9 692.7,38.1 693.3,38.1 693.9,38.2 694.5,38.2 695.1,38.3 695.7,38.4 696.3,38.4 696.9,38.2 697.5,38.3 698.1,38.2 698.7,38.5 699.3,38.5 699.9,38.5 700.5,38.5 701.1,38.6 701.7,38.7 702.3,38.8 702.9,38.7 703.5,38.6 704.1,38.6 704.7,38.8 705.3,39.3 705.9,39.5 706.5,39.5 707.1,39.3 707.7,39.5 708.3,39.6 708.9,39.6 709.5,39.8 710.1,39.8 710.7,40.1 711.3,39.9 711.9,39.9 712.5,40.0 713.1,40.2 713.7,40.4 714.3,40.5 714.9,40.8 715.5,41.0 716.1,41.1 716.7,41.3 717.3,41.3 717.9,41.4 718.5,41.8 719.1,42.0 719.7,42.2 720.3,42.0 720.9,42.0 721.5,42.0 722.1,42.0 722.7,42.2 723.3,42.2 723.9,42.0 724.5,41.9 725.1,42.1 725.7,42.5 726.3,42.6 726.9,42.4 727.5,42.2 728.1,42.0 728.7,42.0 729.3,41.9 729.9,41.8 730.5,41.8 731.1,41.8 731.7,41.8 732.3,41.8 732.9,41.8 733.5,41.8 734.1,41.7 734.7,41.5 735.3,41.3 735.9,41.3 736.5,41.0 737.1,41.0 737.7,40.9 738.3,41.0 738.9,40.9 739.5,40.9 740.1,40.7 740.7,40.5 741.3,40.4 741.9,40.3 742.5,40.2 743.1,39.9 743.7,39.9 744.3,39.9 744.9,39.9 745.5,40.0 746.1,39.9 746.7,39.8 747.3,39.5 747.9,39.5 748.5,39.3 749.1,39.1 749.7,39.0 750.3,39.1 750.9,39.3 751.5,39.3 752.1,39.2 752.7,38.9 753.3,38.9 753.9,38.7 754.5,38.9 755.1,38.9 755.7,39.0 756.3,38.9 756.9,38.9 757.5,38.9 758.1,38.9 758.7,38.8" fill="none" stroke="#111" stroke-width="1.05" stroke-linejoin="round" />
<line x1="532.50" y1="65.70" x2="532.50" y2="63.40" stroke="#3a3a3a" stroke-width="1.00"/>
<line x1="532.50" y1="9.00" x2="532.50" y2="11.30" stroke="#3a3a3a" stroke-width="1.00"/>
<line x1="559.15" y1="65.70" x2="559.15" y2="63.40" stroke="#3a3a3a" stroke-width="1.00"/>
<line x1="559.15" y1="9.00" x2="559.15" y2="11.30" stroke="#3a3a3a" stroke-width="1.00"/>
<line x1="585.79" y1="65.70" x2="585.79" y2="63.40" stroke="#3a3a3a" stroke-width="1.00"/>
<line x1="585.79" y1="9.00" x2="585.79" y2="11.30" stroke="#3a3a3a" stroke-width="1.00"/>
<line x1="612.44" y1="65.70" x2="612.44" y2="63.40" stroke="#3a3a3a" stroke-width="1.00"/>
<line x1="612.44" y1="9.00" x2="612.44" y2="11.30" stroke="#3a3a3a" stroke-width="1.00"/>
<line x1="639.09" y1="65.70" x2="639.09" y2="63.40" stroke="#3a3a3a" stroke-width="1.00"/>
<line x1="639.09" y1="9.00" x2="639.09" y2="11.30" stroke="#3a3a3a" stroke-width="1.00"/>
<line x1="665.74" y1="65.70" x2="665.74" y2="63.40" stroke="#3a3a3a" stroke-width="1.00"/>
<line x1="665.74" y1="9.00" x2="665.74" y2="11.30" stroke="#3a3a3a" stroke-width="1.00"/>
<line x1="692.38" y1="65.70" x2="692.38" y2="63.40" stroke="#3a3a3a" stroke-width="1.00"/>
<line x1="692.38" y1="9.00" x2="692.38" y2="11.30" stroke="#3a3a3a" stroke-width="1.00"/>
<line x1="719.03" y1="65.70" x2="719.03" y2="63.40" stroke="#3a3a3a" stroke-width="1.00"/>
<line x1="719.03" y1="9.00" x2="719.03" y2="11.30" stroke="#3a3a3a" stroke-width="1.00"/>
<line x1="745.68" y1="65.70" x2="745.68" y2="63.40" stroke="#3a3a3a" stroke-width="1.00"/>
<line x1="745.68" y1="9.00" x2="745.68" y2="11.30" stroke="#3a3a3a" stroke-width="1.00"/>
<line x1="532.50" y1="9.00" x2="534.80" y2="9.00" stroke="#3a3a3a" stroke-width="1.00"/>
<line x1="759.00" y1="9.00" x2="756.70" y2="9.00" stroke="#3a3a3a" stroke-width="1.00"/>
<g transform="translate(531.90,12.00) scale(0.930,1)">
<text x="0.00" y="0.00" font-size="9.80" text-anchor="end" fill="#111" stroke="#111" stroke-width="0.12">1.3</text>
</g>
<line x1="532.50" y1="23.18" x2="534.80" y2="23.18" stroke="#3a3a3a" stroke-width="1.00"/>
<line x1="759.00" y1="23.18" x2="756.70" y2="23.18" stroke="#3a3a3a" stroke-width="1.00"/>
<g transform="translate(531.90,26.18) scale(0.930,1)">
<text x="0.00" y="0.00" font-size="9.80" text-anchor="end" fill="#111" stroke="#111" stroke-width="0.12">1.25</text>
</g>
<line x1="532.50" y1="37.35" x2="534.80" y2="37.35" stroke="#3a3a3a" stroke-width="1.00"/>
<line x1="759.00" y1="37.35" x2="756.70" y2="37.35" stroke="#3a3a3a" stroke-width="1.00"/>
<g transform="translate(531.90,40.35) scale(0.930,1)">
<text x="0.00" y="0.00" font-size="9.80" text-anchor="end" fill="#111" stroke="#111" stroke-width="0.12">1.2</text>
</g>
<line x1="532.50" y1="51.53" x2="534.80" y2="51.53" stroke="#3a3a3a" stroke-width="1.00"/>
<line x1="759.00" y1="51.53" x2="756.70" y2="51.53" stroke="#3a3a3a" stroke-width="1.00"/>
<g transform="translate(531.90,54.53) scale(0.930,1)">
<text x="0.00" y="0.00" font-size="9.80" text-anchor="end" fill="#111" stroke="#111" stroke-width="0.12">1.15</text>
</g>
<line x1="532.50" y1="65.70" x2="534.80" y2="65.70" stroke="#3a3a3a" stroke-width="1.00"/>
<line x1="759.00" y1="65.70" x2="756.70" y2="65.70" stroke="#3a3a3a" stroke-width="1.00"/>
<g transform="translate(531.90,68.70) scale(0.930,1)">
<text x="0.00" y="0.00" font-size="9.80" text-anchor="end" fill="#111" stroke="#111" stroke-width="0.12">1.1</text>
</g>
<rect x="532.50" y="9.00" width="226.50" height="56.70" fill="none" stroke="#3a3a3a" stroke-width="1"/>
<polyline points="532.5,107.1 533.0,107.1 533.5,107.1 534.0,107.1 534.5,107.1 535.0,107.1 535.5,107.1 536.0,107.1 536.5,107.1 537.0,107.1 537.5,107.1 538.0,107.1 538.5,107.1 539.0,107.1 539.5,107.1 540.0,107.1 540.5,107.1 541.0,107.1 541.5,107.1 542.0,107.1 542.5,107.1 543.0,107.1 543.5,107.1 544.0,107.1 544.5,107.1 545.0,107.1 545.5,107.1 546.0,107.1 546.5,107.1 547.0,107.1 547.5,107.1 548.0,107.1 548.5,107.1 549.0,107.1 549.5,107.1 550.0,107.1 550.5,107.1 551.0,107.1 551.5,107.1 552.0,107.1 552.5,107.1 553.0,107.1 553.5,107.1 554.0,107.1 554.5,107.1 555.0,107.1 555.5,107.1 556.0,107.1 556.5,107.1 557.0,107.1 557.5,107.1 558.0,107.1 558.5,107.1 559.0,107.1 559.5,107.1 560.0,107.1 560.5,107.1 561.0,107.1 561.5,107.1 562.0,107.1 562.5,107.1 563.0,107.1 563.5,107.1 564.0,107.1 564.5,107.1 565.0,107.1 565.5,107.1 566.0,107.1 566.5,107.1 567.0,107.1 567.5,107.1 568.0,107.1 568.5,107.1 569.0,107.1 569.5,107.1 570.0,107.1 570.5,107.1 571.0,107.1 571.5,107.1 572.0,107.1 572.5,107.1 573.0,107.1 573.5,107.1 574.0,107.1 574.5,107.1 575.0,107.1 575.5,107.1 576.0,107.1 576.5,107.1 577.0,107.1 577.5,107.1 578.0,107.1 578.5,107.1 579.0,107.1 579.5,107.1 580.0,107.1 580.5,107.1 581.0,107.1 581.5,107.1 582.0,107.1 582.5,107.1 583.0,107.1 583.5,107.1 584.0,107.1 584.5,107.1 585.0,107.1 585.5,107.1 586.0,107.1 586.5,107.1 587.0,107.1 587.5,107.1 588.0,107.1 588.5,107.1 589.0,107.1 589.5,107.1 590.0,107.1 590.5,107.1 591.0,107.1 591.5,107.1 592.0,107.1 592.5,107.1 593.0,107.1 593.5,107.1 594.0,107.1 594.5,107.1 595.0,107.1 595.5,107.1 596.0,107.1 596.5,107.1 597.0,107.1 597.5,107.1 598.0,107.1 598.5,107.1 599.0,107.1 599.5,107.1 600.0,107.1 600.5,107.1 601.0,107.1 601.5,107.1 602.0,107.1 602.5,107.1 603.0,107.1 603.5,107.1 604.0,107.1 604.5,107.1 605.0,107.1 605.5,107.1 606.0,107.1 606.5,107.1 607.0,107.1 607.5,107.1 608.0,107.1 608.5,107.1 609.0,107.1 609.5,107.1 610.0,107.1 610.5,107.1 611.0,107.1 611.5,107.1 612.0,107.1 612.5,107.1 613.0,107.1 613.5,107.1 614.0,107.1 614.5,107.1 615.0,107.1 615.5,107.1 616.0,107.1 616.5,107.1 617.0,107.1 617.5,107.1 618.0,107.1 618.5,107.1 619.0,107.1 619.5,107.1 620.0,107.1 620.5,107.1 621.0,107.1 621.5,107.1 622.0,107.1 622.5,107.1 623.0,107.1 623.5,107.1 624.0,107.1 624.5,107.1 625.0,107.1 625.5,107.1 626.0,107.1 626.5,107.1 627.0,107.1 627.5,107.1 628.0,107.1 628.5,107.1 629.0,107.1 629.5,107.1 630.0,107.1 630.5,107.1 631.0,107.1 631.5,107.1 632.0,107.1 632.5,107.1 633.0,107.1 633.5,107.1 634.0,107.1 634.5,107.1 635.0,107.1 635.5,107.1 636.0,107.1 636.5,107.1 637.0,107.1 637.5,107.1 638.0,107.1 638.5,107.1 639.0,107.1 639.5,107.1 640.0,107.1 640.5,107.1 641.0,107.1 641.5,107.1 642.0,107.1 642.5,107.1 643.0,107.1 643.5,107.1 644.0,107.1 644.5,107.1 645.0,107.1 645.5,107.1 646.0,107.1 646.5,107.1 647.0,107.1 647.5,107.1 648.0,107.1 648.5,107.1 649.0,107.1 649.5,107.1 650.0,107.1 650.5,107.1 651.0,107.1 651.5,107.1 652.0,107.1 652.5,107.1 653.0,107.1 653.5,107.1 654.0,107.1 654.5,107.1 655.0,107.1 655.5,107.1 656.0,107.1 656.5,107.1 657.0,107.1 657.5,107.1 658.0,107.1 658.5,107.1 659.0,107.1 659.5,107.1 660.0,107.1 660.5,107.1 661.0,107.1 661.5,107.1 662.0,107.1 662.5,107.1 663.0,107.1 663.5,107.1 664.0,107.1 664.5,107.1 665.0,107.1 665.5,107.1 666.0,107.1 666.5,107.1 667.0,107.1 667.5,107.1 668.0,107.1 668.5,107.1 669.0,107.1 669.5,107.1 670.0,107.1 670.5,107.1 671.0,107.1 671.5,107.1 672.0,107.1 672.5,107.1 673.0,107.1 673.5,107.1 674.0,107.1 674.5,107.1 675.0,107.1 675.5,107.1 676.0,107.1 676.5,107.1 677.0,107.1 677.5,107.1 678.0,107.1 678.5,107.1 679.0,107.1 679.5,107.1 680.0,107.1 680.5,107.1 681.0,107.1 681.5,107.1 682.0,107.1 682.5,107.1 683.0,107.1 683.5,107.1 684.0,107.1 684.5,107.1 685.0,107.1 685.5,107.1 686.0,107.1 686.5,107.1 687.0,107.1 687.5,107.1 688.0,107.1 688.5,107.1 689.0,107.1 689.5,107.1 690.0,107.1 690.5,107.1 691.0,107.1 691.5,107.1 692.0,107.1 692.5,107.1 693.0,107.1 693.5,107.1 694.0,107.1 694.5,107.1 695.0,107.1 695.5,107.1 696.0,107.1 696.5,107.1 697.0,107.1 697.5,107.1 698.0,107.1 698.5,107.1 699.0,107.1 699.5,107.1 700.0,107.1 700.5,107.1 701.0,107.1 701.5,107.1 702.0,107.1 702.5,107.1 703.0,107.1 703.5,107.1 704.0,107.1 704.5,107.1 705.0,107.1 705.5,107.1 706.0,107.1 706.5,107.1 707.0,107.1 707.5,107.1 708.0,107.1 708.5,107.1 709.0,107.1 709.5,107.1 710.0,107.1 710.5,107.1 711.0,107.1 711.5,107.1 712.0,107.1 712.5,107.1 713.0,107.1 713.5,107.1 714.0,107.1 714.5,107.1 715.0,107.1 715.5,107.1 716.0,107.1 716.5,107.1 717.0,107.1 717.5,107.1 718.0,107.1 718.5,107.1 719.0,107.1 719.5,107.1 720.0,107.1 720.5,107.1 721.0,107.1 721.5,107.1 722.0,107.1 722.5,107.1 723.0,107.1 723.5,107.1 724.0,107.1 724.5,107.1 725.0,107.1 725.5,107.1 726.0,107.1 726.5,107.1 727.0,107.1 727.5,107.1 728.0,107.1 728.5,107.1 729.0,107.1 729.5,107.1 730.0,107.1 730.5,107.1 731.0,107.1 731.5,107.1 732.0,107.1 732.5,107.1 733.0,107.1 733.5,107.1 734.0,107.1 734.5,107.1 735.0,107.1 735.5,107.1 736.0,107.1 736.5,107.1 737.0,107.1 737.5,107.1 738.0,107.1 738.5,107.1 739.0,107.1 739.5,107.1 740.0,107.1 740.5,107.1 741.0,107.1 741.5,107.1 742.0,107.1 742.5,107.1 743.0,107.1 743.5,107.1 744.0,107.1 744.5,107.1 745.0,107.1 745.5,107.1 746.0,107.1 746.5,107.1 747.0,107.1 747.5,107.1 748.0,107.1 748.5,107.1 749.0,107.1 749.5,107.1 750.0,107.1 750.5,107.1 751.0,107.1 751.5,107.1 752.0,107.1 752.5,107.1 753.0,107.1 753.5,107.1 754.0,107.1 754.5,107.1 755.0,107.1 755.5,107.1 756.0,107.1 756.5,107.1 757.0,107.1 757.5,107.1 758.0,107.1 758.5,107.1 759.0,107.1" fill="none" stroke="#444" stroke-width="1.00" stroke-linejoin="round" />
<polyline points="532.5,134.6 533.0,134.6 533.5,134.6 534.0,134.6 534.5,134.6 535.0,134.6 535.5,134.6 536.0,134.6 536.5,134.6 537.0,134.6 537.5,134.6 538.0,134.6 538.5,134.6 539.0,134.6 539.5,134.6 540.0,134.6 540.5,134.6 541.0,134.6 541.5,134.6 542.0,134.6 542.5,134.6 543.0,134.6 543.5,134.6 544.0,134.6 544.5,134.6 545.0,134.6 545.5,134.6 546.0,134.6 546.5,134.6 547.0,134.6 547.5,134.6 548.0,134.6 548.5,134.6 549.0,134.6 549.5,134.6 550.0,134.6 550.5,134.6 551.0,134.6 551.5,134.6 552.0,134.6 552.5,134.6 553.0,134.6 553.5,134.6 554.0,134.6 554.5,134.6 555.0,134.6 555.5,134.6 556.0,134.6 556.5,134.6 557.0,134.6 557.5,134.6 558.0,134.6 558.5,134.6 559.0,134.6 559.5,134.6 560.0,134.6 560.5,134.6 561.0,134.6 561.5,134.6 562.0,134.6 562.5,134.6 563.0,134.6 563.5,134.6 564.0,134.6 564.5,134.6 565.0,134.6 565.5,134.6 566.0,134.6 566.5,134.6 567.0,134.6 567.5,134.6 568.0,134.6 568.5,134.6 569.0,134.6 569.5,134.6 570.0,134.6 570.5,134.6 571.0,134.6 571.5,134.6 572.0,134.6 572.5,134.6 573.0,134.6 573.5,134.6 574.0,134.6 574.5,134.6 575.0,134.6 575.5,134.6 576.0,134.6 576.5,134.6 577.0,134.6 577.5,134.6 578.0,134.6 578.5,134.6 579.0,134.6 579.5,134.6 580.0,134.6 580.5,134.6 581.0,134.6 581.5,134.6 582.0,134.6 582.5,134.6 583.0,134.6 583.5,134.6 584.0,134.6 584.5,134.6 585.0,134.6 585.5,134.6 586.0,134.6 586.5,134.6 587.0,134.6 587.5,134.6 588.0,134.6 588.5,134.6 589.0,134.6 589.5,134.6 590.0,134.6 590.5,134.6 591.0,134.6 591.5,134.6 592.0,134.6 592.5,134.6 593.0,134.6 593.5,134.6 594.0,134.6 594.5,134.6 595.0,134.6 595.5,134.6 596.0,134.6 596.5,134.6 597.0,134.6 597.5,134.6 598.0,134.6 598.5,134.6 599.0,134.6 599.5,134.6 600.0,134.6 600.5,134.6 601.0,134.6 601.5,134.6 602.0,134.6 602.5,134.6 603.0,134.6 603.5,134.6 604.0,134.6 604.5,134.6 605.0,134.6 605.5,134.6 606.0,134.6 606.5,134.6 607.0,134.6 607.5,134.6 608.0,134.6 608.5,134.6 609.0,134.6 609.5,134.6 610.0,134.6 610.5,134.6 611.0,134.6 611.5,134.6 612.0,134.6 612.5,134.6 613.0,134.6 613.5,134.6 614.0,134.6 614.5,134.6 615.0,134.6 615.5,134.6 616.0,134.6 616.5,134.6 617.0,134.6 617.5,134.6 618.0,134.6 618.5,134.6 619.0,134.6 619.5,134.6 620.0,134.6 620.5,134.6 621.0,134.6 621.5,134.6 622.0,134.6 622.5,134.6 623.0,134.6 623.5,134.6 624.0,134.6 624.5,134.6 625.0,134.6 625.5,134.6 626.0,134.6 626.5,134.6 627.0,134.6 627.5,134.6 628.0,134.6 628.5,134.6 629.0,134.6 629.5,134.6 630.0,134.6 630.5,134.6 631.0,134.6 631.5,134.6 632.0,134.6 632.5,134.6 633.0,134.6 633.5,134.6 634.0,134.6 634.5,134.6 635.0,134.6 635.5,134.6 636.0,134.6 636.5,134.6 637.0,134.6 637.5,134.6 638.0,134.6 638.5,134.6 639.0,134.6 639.5,134.6 640.0,134.6 640.5,134.6 641.0,134.6 641.5,134.6 642.0,134.6 642.5,134.6 643.0,134.6 643.5,134.6 644.0,134.6 644.5,134.6 645.0,134.6 645.5,134.6 646.0,134.6 646.5,134.6 647.0,134.6 647.5,134.6 648.0,134.6 648.5,134.6 649.0,134.6 649.5,134.6 650.0,134.6 650.5,134.6 651.0,134.6 651.5,134.6 652.0,134.6 652.5,134.6 653.0,134.6 653.5,134.6 654.0,134.6 654.5,134.6 655.0,134.6 655.5,134.6 656.0,134.6 656.5,134.6 657.0,134.6 657.5,134.6 658.0,134.6 658.5,134.6 659.0,134.6 659.5,134.6 660.0,134.6 660.5,134.6 661.0,134.6 661.5,134.6 662.0,134.6 662.5,134.6 663.0,134.6 663.5,134.6 664.0,134.6 664.5,134.6 665.0,134.6 665.5,134.6 666.0,134.6 666.5,134.6 667.0,134.6 667.5,134.6 668.0,134.6 668.5,134.6 669.0,134.6 669.5,134.6 670.0,134.6 670.5,134.6 671.0,134.6 671.5,134.6 672.0,134.6 672.5,134.6 673.0,134.6 673.5,134.6 674.0,134.6 674.5,134.6 675.0,134.6 675.5,134.6 676.0,134.6 676.5,134.6 677.0,134.6 677.5,134.6 678.0,134.6 678.5,134.6 679.0,134.6 679.5,134.6 680.0,134.6 680.5,134.6 681.0,134.6 681.5,134.6 682.0,134.6 682.5,134.6 683.0,134.6 683.5,134.6 684.0,134.6 684.5,134.6 685.0,134.6 685.5,134.6 686.0,134.6 686.5,134.6 687.0,134.6 687.5,134.6 688.0,134.6 688.5,134.6 689.0,134.6 689.5,134.6 690.0,134.6 690.5,134.6 691.0,134.6 691.5,134.6 692.0,134.6 692.5,134.6 693.0,134.6 693.5,134.6 694.0,134.6 694.5,134.6 695.0,134.6 695.5,134.6 696.0,134.6 696.5,134.6 697.0,134.6 697.5,134.6 698.0,134.6 698.5,134.6 699.0,134.6 699.5,134.6 700.0,134.6 700.5,134.6 701.0,134.6 701.5,134.6 702.0,134.6 702.5,134.6 703.0,134.6 703.5,134.6 704.0,134.6 704.5,134.6 705.0,134.6 705.5,134.6 706.0,134.6 706.5,134.6 707.0,134.6 707.5,134.6 708.0,134.6 708.5,134.6 709.0,134.6 709.5,134.6 710.0,134.6 710.5,134.6 711.0,134.6 711.5,134.6 712.0,134.6 712.5,134.6 713.0,134.6 713.5,134.6 714.0,134.6 714.5,134.6 715.0,134.6 715.5,134.6 716.0,134.6 716.5,134.6 717.0,134.6 717.5,134.6 718.0,134.6 718.5,134.6 719.0,134.6 719.5,134.6 720.0,134.6 720.5,134.6 721.0,134.6 721.5,134.6 722.0,134.6 722.5,134.6 723.0,134.6 723.5,134.6 724.0,134.6 724.5,134.6 725.0,134.6 725.5,134.6 726.0,134.6 726.5,134.6 727.0,134.6 727.5,134.6 728.0,134.6 728.5,134.6 729.0,134.6 729.5,134.6 730.0,134.6 730.5,133.6 731.0,133.6 731.5,133.6 732.0,133.6 732.5,133.6 733.0,133.6 733.5,133.6 734.0,133.6 734.5,133.6 735.0,133.6 735.5,133.6 736.0,133.6 736.5,133.6 737.0,133.6 737.5,133.6 738.0,133.6 738.5,133.6 739.0,133.6 739.5,133.6 740.0,133.6 740.5,133.6 741.0,133.6 741.5,133.6 742.0,133.6 742.5,133.6 743.0,133.6 743.5,133.6 744.0,133.6 744.5,133.6 745.0,133.6 745.5,133.6 746.0,133.6 746.5,133.6 747.0,133.6 747.5,133.6 748.0,133.6 748.5,133.6 749.0,133.6 749.5,133.6 750.0,133.6 750.5,133.6 751.0,133.6 751.5,133.6 752.0,133.6 752.5,133.6 753.0,133.6 753.5,133.6 754.0,133.6 754.5,133.6 755.0,133.6 755.5,133.6 756.0,133.6 756.5,133.6 757.0,133.6 757.5,133.6 758.0,133.6 758.5,133.6 759.0,133.6" fill="none" stroke="#444" stroke-width="1.00" stroke-linejoin="round" />
<polyline points="532.5,107.0 533.0,107.4 533.5,107.3 534.0,107.1 534.5,106.9 535.0,107.0 535.5,106.8 536.0,106.9 536.5,107.2 537.0,107.4 537.5,107.6 538.0,107.1 538.5,106.9 539.0,106.7 539.5,106.9 540.0,107.0 540.5,107.1 541.0,106.9 541.5,107.2 542.0,107.2 542.5,107.1 543.0,107.0 543.5,106.8 544.0,107.1 544.5,106.9 545.0,107.0 545.5,107.0 546.0,106.6 546.5,106.2 547.0,106.2 547.5,106.6 548.0,107.1 548.5,107.1 549.0,106.9 549.5,106.8 550.0,106.6 550.5,106.8 551.0,106.7 551.5,106.8 552.0,106.7 552.5,106.6 553.0,106.1 553.5,106.7 554.0,106.8 554.5,107.0 555.0,106.5 555.5,106.5 556.0,106.6 556.5,106.9 557.0,107.1 557.5,107.2 558.0,107.0 558.5,107.0 559.0,107.2 559.5,107.3 560.0,107.4 560.5,106.9 561.0,107.0 561.5,107.0 562.0,107.6 562.5,107.1 563.0,107.1 563.5,106.9 564.0,107.4 564.5,107.4 565.0,107.5 565.5,107.6 566.0,107.7 566.5,107.7 567.0,107.6 567.5,107.6 568.0,107.6 568.5,107.6 569.0,107.4 569.5,107.6 570.0,107.4 570.5,107.8 571.0,107.3 571.5,107.6 572.0,107.5 572.5,107.7 573.0,107.6 573.5,107.5 574.0,107.5 574.5,107.9 575.0,108.1 575.5,108.1 576.0,107.6 576.5,107.5 577.0,107.5 577.5,107.6 578.0,107.7 578.5,107.5 579.0,107.7 579.5,107.4 580.0,107.3 580.5,107.2 581.0,107.3 581.5,107.4 582.0,107.1 582.5,106.9 583.0,106.8 583.5,106.6 584.0,106.9 584.5,106.9 585.0,107.2 585.5,106.8 586.0,106.9 586.5,106.8 587.0,107.2 587.5,107.1 588.0,106.8 588.5,106.6 589.0,106.4 589.5,106.5 590.0,106.4 590.5,106.4 591.0,106.5 591.5,106.6 592.0,106.7 592.5,106.4 593.0,106.1 593.5,105.8 594.0,105.9 594.5,106.3 595.0,106.6 595.5,106.3 596.0,106.1 596.5,105.7 597.0,105.8 597.5,105.8 598.0,105.7 598.5,105.7 599.0,105.5 599.5,105.5 600.0,105.7 600.5,106.0 601.0,105.8 601.5,105.4 602.0,105.0 602.5,104.9 603.0,105.2 603.5,105.0 604.0,105.1 604.5,104.7 605.0,104.7 605.5,104.7 606.0,105.1 606.5,105.0 607.0,105.0 607.5,104.3 608.0,104.2 608.5,104.0 609.0,104.2 609.5,104.5 610.0,104.7 610.5,104.5 611.0,104.5 611.5,104.2 612.0,104.8 612.5,104.7 613.0,105.0 613.5,104.6 614.0,104.6 614.5,104.6 615.0,104.5 615.5,104.7 616.0,104.8 616.5,105.0 617.0,104.9 617.5,105.1 618.0,104.8 618.5,105.5 619.0,105.3 619.5,105.4 620.0,105.0 620.5,105.4 621.0,105.4 621.5,105.0 622.0,104.7 622.5,104.7 623.0,104.9 623.5,105.2 624.0,105.6 624.5,105.9 625.0,105.9 625.5,105.9 626.0,105.9 626.5,106.3 627.0,106.3 627.5,106.1 628.0,106.0 628.5,106.3 629.0,106.4 629.5,106.7 630.0,106.7 630.5,106.8 631.0,106.3 631.5,105.9 632.0,106.0 632.5,106.4 633.0,106.2 633.5,106.7 634.0,107.0 634.5,107.2 635.0,106.5 635.5,106.1 636.0,106.4 636.5,106.9 637.0,107.1 637.5,107.0 638.0,106.5 638.5,106.4 639.0,106.6 639.5,106.9 640.0,106.9 640.5,106.8 641.0,106.8 641.5,106.6 642.0,106.6 642.5,106.4 643.0,106.9 643.5,106.7 644.0,107.0 644.5,106.6 645.0,106.9 645.5,106.7 646.0,107.0 646.5,106.8 647.0,106.5 647.5,106.4 648.0,106.5 648.5,106.5 649.0,106.4 649.5,106.2 650.0,106.5 650.5,106.5 651.0,106.8 651.5,107.2 652.0,107.3 652.5,107.4 653.0,107.1 653.5,107.0 654.0,106.8 654.5,106.9 655.0,107.1 655.5,106.7 656.0,106.5 656.5,106.3 657.0,106.7 657.5,106.9 658.0,106.9 658.5,107.1 659.0,106.8 659.5,106.8 660.0,106.8 660.5,106.8 661.0,106.8 661.5,106.5 662.0,106.5 662.5,106.6 663.0,106.9 663.5,106.9 664.0,106.6 664.5,106.9 665.0,107.0 665.5,107.0 666.0,106.7 666.5,106.7 667.0,106.8 667.5,106.8 668.0,107.1 668.5,107.1 669.0,107.2 669.5,107.0 670.0,107.0 670.5,106.8 671.0,106.8 671.5,106.9 672.0,106.9 672.5,106.9 673.0,106.8 673.5,106.7 674.0,106.7 674.5,106.7 675.0,106.9 675.5,107.1 676.0,107.3 676.5,107.4 677.0,107.3 677.5,107.0 678.0,106.6 678.5,106.7 679.0,106.9 679.5,107.3 680.0,107.1 680.5,107.1 681.0,107.0 681.5,107.6 682.0,107.5 682.5,107.3 683.0,106.6 683.5,106.5 684.0,106.3 684.5,106.4 685.0,106.4 685.5,106.3 686.0,106.4 686.5,106.7 687.0,107.0 687.5,107.0 688.0,107.2 688.5,107.2 689.0,107.0 689.5,106.7 690.0,106.4 690.5,106.4 691.0,106.5 691.5,106.7 692.0,107.1 692.5,107.4 693.0,107.5 693.5,107.2 694.0,106.9 694.5,106.8 695.0,106.9 695.5,106.8 696.0,106.9 696.5,106.8 697.0,107.1 697.5,107.2 698.0,107.6 698.5,107.4 699.0,106.9 699.5,106.3 700.0,106.3 700.5,106.3 701.0,106.3 701.5,106.3 702.0,106.4 702.5,106.8 703.0,107.1 703.5,107.3 704.0,107.2 704.5,106.6 705.0,106.7 705.5,106.5 706.0,106.6 706.5,106.3 707.0,106.7 707.5,106.6 708.0,106.7 708.5,106.4 709.0,106.7 709.5,107.0 710.0,107.0 710.5,106.8 711.0,106.9 711.5,106.9 712.0,106.8 712.5,107.0 713.0,106.9 713.5,107.3 714.0,106.8 714.5,106.7 715.0,106.5 715.5,106.6 716.0,107.0 716.5,106.8 717.0,107.0 717.5,106.7 718.0,107.1 718.5,107.1 719.0,107.2 719.5,107.5 720.0,107.5 720.5,107.9 721.0,107.3 721.5,107.3 722.0,107.2 722.5,107.5 723.0,107.6 723.5,107.5 724.0,107.0 724.5,107.0 725.0,107.1 725.5,107.6 726.0,107.9 726.5,108.5 727.0,108.8 727.5,108.9 728.0,108.7 728.5,108.8 729.0,108.8 729.5,108.8 730.0,108.7 730.5,108.7 731.0,109.1 731.5,109.4 732.0,109.7 732.5,109.2 733.0,109.2 733.5,109.1 734.0,109.5 734.5,109.2 735.0,108.9 735.5,108.5 736.0,108.7 736.5,109.4 737.0,109.8 737.5,109.7 738.0,109.4 738.5,109.3 739.0,109.5 739.5,109.4 740.0,109.2 740.5,109.0 741.0,109.2 741.5,109.4 742.0,109.6 742.5,109.3 743.0,109.3 743.5,109.1 744.0,109.2 744.5,109.2 745.0,109.1 745.5,109.0 746.0,108.8 746.5,108.9 747.0,108.9 747.5,108.9 748.0,108.8 748.5,108.5 749.0,108.6 749.5,108.4 750.0,108.5 750.5,107.9 751.0,107.4 751.5,107.2 752.0,107.2 752.5,107.6 753.0,107.7 753.5,107.8 754.0,107.8 754.5,107.9 755.0,107.7 755.5,107.5 756.0,107.3 756.5,107.1 757.0,107.3 757.5,107.1 758.0,107.2 758.5,107.0 759.0,106.8" fill="none" stroke="#ff1a1a" stroke-width="1.25" stroke-linejoin="round" />
<polyline points="532.5,134.4 533.0,134.2 533.5,134.0 534.0,134.0 534.5,134.1 535.0,134.5 535.5,134.6 536.0,134.3 536.5,134.3 537.0,134.4 537.5,134.8 538.0,134.7 538.5,134.4 539.0,134.4 539.5,134.2 540.0,134.8 540.5,134.7 541.0,134.6 541.5,134.0 542.0,134.3 542.5,134.4 543.0,134.1 543.5,134.1 544.0,134.2 544.5,134.5 545.0,134.4 545.5,134.2 546.0,134.1 546.5,134.1 547.0,134.2 547.5,134.5 548.0,134.3 548.5,134.6 549.0,134.5 549.5,134.1 550.0,134.1 550.5,134.0 551.0,134.5 551.5,134.4 552.0,134.7 552.5,134.5 553.0,134.2 553.5,133.9 554.0,134.0 554.5,134.3 555.0,134.3 555.5,134.4 556.0,134.5 556.5,134.7 557.0,134.5 557.5,134.3 558.0,133.9 558.5,133.9 559.0,134.2 559.5,134.2 560.0,134.0 560.5,133.8 561.0,133.8 561.5,133.9 562.0,134.0 562.5,134.3 563.0,134.5 563.5,134.5 564.0,134.2 564.5,134.4 565.0,134.6 565.5,134.6 566.0,134.1 566.5,133.7 567.0,133.6 567.5,133.8 568.0,133.8 568.5,133.6 569.0,133.5 569.5,133.4 570.0,133.3 570.5,133.3 571.0,133.7 571.5,134.0 572.0,134.1 572.5,134.2 573.0,134.3 573.5,134.0 574.0,134.0 574.5,134.1 575.0,134.2 575.5,133.7 576.0,133.4 576.5,132.8 577.0,132.8 577.5,132.3 578.0,132.5 578.5,132.7 579.0,133.0 579.5,133.3 580.0,133.0 580.5,133.0 581.0,132.6 581.5,132.6 582.0,132.6 582.5,132.8 583.0,132.9 583.5,132.9 584.0,132.5 584.5,132.3 585.0,132.5 585.5,132.8 586.0,132.7 586.5,132.6 587.0,132.8 587.5,132.3 588.0,132.4 588.5,132.4 589.0,132.9 589.5,132.6 590.0,132.6 590.5,132.6 591.0,132.5 591.5,132.7 592.0,132.7 592.5,133.2 593.0,133.3 593.5,133.3 594.0,133.1 594.5,133.2 595.0,133.3 595.5,133.5 596.0,133.3 596.5,133.2 597.0,133.0 597.5,133.0 598.0,133.1 598.5,133.3 599.0,133.4 599.5,133.3 600.0,133.5 600.5,133.7 601.0,133.9 601.5,133.7 602.0,133.6 602.5,133.6 603.0,134.1 603.5,134.4 604.0,134.2 604.5,134.0 605.0,134.1 605.5,134.5 606.0,134.3 606.5,134.1 607.0,134.4 607.5,134.4 608.0,134.5 608.5,134.0 609.0,134.0 609.5,133.9 610.0,134.2 610.5,134.6 611.0,134.5 611.5,134.3 612.0,133.9 612.5,133.7 613.0,133.9 613.5,134.3 614.0,134.9 614.5,134.8 615.0,134.7 615.5,134.7 616.0,134.7 616.5,134.5 617.0,134.2 617.5,134.3 618.0,134.6 618.5,134.5 619.0,134.3 619.5,134.1 620.0,134.3 620.5,134.2 621.0,133.9 621.5,133.7 622.0,133.9 622.5,134.1 623.0,134.5 623.5,134.5 624.0,134.5 624.5,134.2 625.0,134.4 625.5,134.6 626.0,134.7 626.5,134.4 627.0,134.5 627.5,134.7 628.0,134.7 628.5,134.1 629.0,133.9 629.5,134.2 630.0,134.4 630.5,134.4 631.0,134.1 631.5,134.3 632.0,134.6 632.5,134.5 633.0,134.3 633.5,134.0 634.0,134.2 634.5,134.0 635.0,134.2 635.5,134.3 636.0,134.6 636.5,134.7 637.0,134.7 637.5,134.6 638.0,134.3 638.5,134.4 639.0,134.3 639.5,134.4 640.0,134.1 640.5,134.3 641.0,134.4 641.5,134.4 642.0,133.8 642.5,133.8 643.0,134.1 643.5,134.6 644.0,134.8 644.5,134.6 645.0,134.6 645.5,134.1 646.0,134.2 646.5,134.3 647.0,134.4 647.5,134.4 648.0,134.2 648.5,134.4 649.0,134.6 649.5,134.4 650.0,134.6 650.5,134.2 651.0,134.2 651.5,133.9 652.0,134.1 652.5,134.1 653.0,134.3 653.5,134.3 654.0,134.8 654.5,134.8 655.0,134.7 655.5,134.4 656.0,134.5 656.5,134.5 657.0,134.2 657.5,134.0 658.0,134.1 658.5,134.4 659.0,134.6 659.5,134.5 660.0,134.5 660.5,134.3 661.0,134.4 661.5,134.5 662.0,134.8 662.5,135.0 663.0,134.7 663.5,134.5 664.0,134.1 664.5,134.4 665.0,134.3 665.5,134.2 666.0,134.0 666.5,134.1 667.0,133.9 667.5,133.8 668.0,133.9 668.5,134.3 669.0,134.5 669.5,134.1 670.0,134.3 670.5,134.5 671.0,134.9 671.5,134.4 672.0,134.4 672.5,134.4 673.0,134.6 673.5,134.4 674.0,134.2 674.5,134.3 675.0,134.3 675.5,134.3 676.0,134.0 676.5,133.8 677.0,134.0 677.5,134.5 678.0,134.9 678.5,135.0 679.0,134.6 679.5,134.5 680.0,134.3 680.5,134.4 681.0,134.7 681.5,134.4 682.0,134.3 682.5,134.0 683.0,134.1 683.5,134.3 684.0,134.0 684.5,134.3 685.0,134.4 685.5,134.7 686.0,134.8 686.5,135.0 687.0,135.0 687.5,134.9 688.0,134.6 688.5,134.6 689.0,134.4 689.5,134.3 690.0,134.3 690.5,134.3 691.0,134.6 691.5,134.6 692.0,134.6 692.5,134.5 693.0,134.4 693.5,134.5 694.0,134.7 694.5,134.7 695.0,134.7 695.5,134.3 696.0,134.4 696.5,134.1 697.0,134.4 697.5,134.6 698.0,135.2 698.5,135.2 699.0,134.8 699.5,134.6 700.0,134.7 700.5,135.0 701.0,134.7 701.5,135.0 702.0,135.3 702.5,135.4 703.0,135.1 703.5,134.8 704.0,135.2 704.5,135.1 705.0,135.3 705.5,135.2 706.0,135.5 706.5,135.7 707.0,135.4 707.5,135.4 708.0,135.2 708.5,135.7 709.0,136.0 709.5,136.0 710.0,136.0 710.5,136.1 711.0,136.1 711.5,136.0 712.0,136.2 712.5,136.8 713.0,136.7 713.5,136.7 714.0,136.2 714.5,136.3 715.0,136.5 715.5,136.7 716.0,136.8 716.5,136.4 717.0,136.1 717.5,136.0 718.0,136.0 718.5,136.0 719.0,136.0 719.5,135.8 720.0,135.7 720.5,135.7 721.0,135.8 721.5,135.9 722.0,135.6 722.5,135.6 723.0,135.3 723.5,135.5 724.0,135.5 724.5,135.5 725.0,135.5 725.5,135.3 726.0,135.0 726.5,134.9 727.0,134.8 727.5,135.0 728.0,134.7 728.5,134.8 729.0,134.3 729.5,134.0 730.0,133.5 730.5,133.7 731.0,133.5 731.5,133.4 732.0,133.0 732.5,133.3 733.0,133.6 733.5,133.6 734.0,133.7 734.5,133.6 735.0,134.0 735.5,134.0 736.0,133.8 736.5,133.6 737.0,133.4 737.5,133.6 738.0,133.6 738.5,133.6 739.0,133.7 739.5,133.6 740.0,133.7 740.5,133.6 741.0,133.6 741.5,133.6 742.0,133.8 742.5,134.0 743.0,134.0 743.5,133.8 744.0,133.6 744.5,133.5 745.0,133.2 745.5,133.0 746.0,133.3 746.5,133.5 747.0,133.3 747.5,133.0 748.0,133.0 748.5,133.3 749.0,133.7 749.5,133.8 750.0,134.2 750.5,133.8 751.0,133.7 751.5,133.7 752.0,133.8 752.5,133.6 753.0,133.5 753.5,133.4 754.0,133.6 754.5,133.4 755.0,133.4 755.5,133.3 756.0,133.6 756.5,133.6 757.0,133.3 757.5,133.4 758.0,133.5 758.5,133.5 759.0,133.4" fill="none" stroke="#ff1a1a" stroke-width="1.25" stroke-linejoin="round" />
<line x1="532.50" y1="142.90" x2="532.50" y2="140.60" stroke="#3a3a3a" stroke-width="1.00"/>
<line x1="532.50" y1="86.10" x2="532.50" y2="88.40" stroke="#3a3a3a" stroke-width="1.00"/>
<line x1="559.15" y1="142.90" x2="559.15" y2="140.60" stroke="#3a3a3a" stroke-width="1.00"/>
<line x1="559.15" y1="86.10" x2="559.15" y2="88.40" stroke="#3a3a3a" stroke-width="1.00"/>
<line x1="585.79" y1="142.90" x2="585.79" y2="140.60" stroke="#3a3a3a" stroke-width="1.00"/>
<line x1="585.79" y1="86.10" x2="585.79" y2="88.40" stroke="#3a3a3a" stroke-width="1.00"/>
<line x1="612.44" y1="142.90" x2="612.44" y2="140.60" stroke="#3a3a3a" stroke-width="1.00"/>
<line x1="612.44" y1="86.10" x2="612.44" y2="88.40" stroke="#3a3a3a" stroke-width="1.00"/>
<line x1="639.09" y1="142.90" x2="639.09" y2="140.60" stroke="#3a3a3a" stroke-width="1.00"/>
<line x1="639.09" y1="86.10" x2="639.09" y2="88.40" stroke="#3a3a3a" stroke-width="1.00"/>
<line x1="665.74" y1="142.90" x2="665.74" y2="140.60" stroke="#3a3a3a" stroke-width="1.00"/>
<line x1="665.74" y1="86.10" x2="665.74" y2="88.40" stroke="#3a3a3a" stroke-width="1.00"/>
<line x1="692.38" y1="142.90" x2="692.38" y2="140.60" stroke="#3a3a3a" stroke-width="1.00"/>
<line x1="692.38" y1="86.10" x2="692.38" y2="88.40" stroke="#3a3a3a" stroke-width="1.00"/>
<line x1="719.03" y1="142.90" x2="719.03" y2="140.60" stroke="#3a3a3a" stroke-width="1.00"/>
<line x1="719.03" y1="86.10" x2="719.03" y2="88.40" stroke="#3a3a3a" stroke-width="1.00"/>
<line x1="745.68" y1="142.90" x2="745.68" y2="140.60" stroke="#3a3a3a" stroke-width="1.00"/>
<line x1="745.68" y1="86.10" x2="745.68" y2="88.40" stroke="#3a3a3a" stroke-width="1.00"/>
<line x1="532.50" y1="93.20" x2="534.80" y2="93.20" stroke="#3a3a3a" stroke-width="1.00"/>
<line x1="759.00" y1="93.20" x2="756.70" y2="93.20" stroke="#3a3a3a" stroke-width="1.00"/>
<g transform="translate(531.90,96.20) scale(0.930,1)">
<text x="0.00" y="0.00" font-size="9.80" text-anchor="end" fill="#111" stroke="#111" stroke-width="0.12">0.1</text>
</g>
<line x1="532.50" y1="107.40" x2="534.80" y2="107.40" stroke="#3a3a3a" stroke-width="1.00"/>
<line x1="759.00" y1="107.40" x2="756.70" y2="107.40" stroke="#3a3a3a" stroke-width="1.00"/>
<g transform="translate(531.90,110.40) scale(0.930,1)">
<text x="0.00" y="0.00" font-size="9.80" text-anchor="end" fill="#111" stroke="#111" stroke-width="0.12">0</text>
</g>
<line x1="532.50" y1="121.60" x2="534.80" y2="121.60" stroke="#3a3a3a" stroke-width="1.00"/>
<line x1="759.00" y1="121.60" x2="756.70" y2="121.60" stroke="#3a3a3a" stroke-width="1.00"/>
<g transform="translate(531.90,124.60) scale(0.930,1)">
<text x="0.00" y="0.00" font-size="9.80" text-anchor="end" fill="#111" stroke="#111" stroke-width="0.12">-0.1</text>
</g>
<line x1="532.50" y1="135.80" x2="534.80" y2="135.80" stroke="#3a3a3a" stroke-width="1.00"/>
<line x1="759.00" y1="135.80" x2="756.70" y2="135.80" stroke="#3a3a3a" stroke-width="1.00"/>
<g transform="translate(531.90,138.80) scale(0.930,1)">
<text x="0.00" y="0.00" font-size="9.80" text-anchor="end" fill="#111" stroke="#111" stroke-width="0.12">-0.2</text>
</g>
<rect x="532.50" y="86.10" width="226.50" height="56.80" fill="none" stroke="#3a3a3a" stroke-width="1"/>
<polyline points="532.5,190.3 533.0,190.3 533.5,190.3 534.0,190.3 534.5,190.3 535.0,190.3 535.5,190.3 536.0,190.3 536.5,190.3 537.0,190.3 537.5,190.3 538.0,190.3 538.5,190.3 539.0,190.3 539.5,190.3 540.0,190.3 540.5,190.3 541.0,190.3 541.5,190.3 542.0,190.3 542.5,190.3 543.0,190.3 543.5,190.3 544.0,190.3 544.5,190.3 545.0,190.3 545.5,190.3 546.0,190.3 546.5,190.3 547.0,190.3 547.5,190.3 548.0,190.3 548.5,190.3 549.0,190.3 549.5,190.3 550.0,190.3 550.5,190.3 551.0,190.3 551.5,190.3 552.0,190.3 552.5,190.3 553.0,190.3 553.5,190.3 554.0,190.3 554.5,190.3 555.0,190.3 555.5,190.3 556.0,190.3 556.5,190.3 557.0,190.3 557.5,190.3 558.0,190.3 558.5,190.3 559.0,190.3 559.5,188.9 560.0,186.9 560.5,184.9 561.0,184.3 561.5,184.3 562.0,184.3 562.5,184.3 563.0,184.3 563.5,184.3 564.0,184.3 564.5,184.3 565.0,184.3 565.5,184.3 566.0,184.3 566.5,184.3 567.0,184.3 567.5,184.3 568.0,184.3 568.5,184.3 569.0,184.3 569.5,184.3 570.0,184.3 570.5,184.3 571.0,184.3 571.5,184.3 572.0,184.3 572.5,184.3 573.0,184.3 573.5,184.3 574.0,184.3 574.5,184.3 575.0,184.3 575.5,184.3 576.0,184.3 576.5,184.3 577.0,184.3 577.5,184.3 578.0,184.3 578.5,184.3 579.0,184.3 579.5,184.3 580.0,184.3 580.5,184.3 581.0,184.3 581.5,184.3 582.0,184.3 582.5,184.3 583.0,184.3 583.5,184.3 584.0,184.3 584.5,184.3 585.0,184.3 585.5,184.3 586.0,184.3 586.5,184.3 587.0,184.3 587.5,184.3 588.0,184.3 588.5,184.3 589.0,184.3 589.5,184.3 590.0,184.3 590.5,184.3 591.0,184.3 591.5,184.3 592.0,184.3 592.5,184.3 593.0,184.3 593.5,184.3 594.0,184.3 594.5,184.3 595.0,184.3 595.5,184.3 596.0,184.3 596.5,184.3 597.0,184.3 597.5,184.3 598.0,184.3 598.5,184.3 599.0,184.3 599.5,184.3 600.0,184.3 600.5,184.3 601.0,184.3 601.5,184.3 602.0,184.3 602.5,184.3 603.0,184.3 603.5,184.3 604.0,184.3 604.5,184.3 605.0,184.3 605.5,184.3 606.0,184.3 606.5,184.3 607.0,184.3 607.5,184.3 608.0,184.3 608.5,184.3 609.0,184.3 609.5,184.3 610.0,184.3 610.5,184.3 611.0,184.3 611.5,184.3 612.0,184.3 612.5,184.3 613.0,184.3 613.5,184.3 614.0,184.3 614.5,184.3 615.0,184.3 615.5,184.3 616.0,184.3 616.5,184.3 617.0,184.3 617.5,184.3 618.0,184.3 618.5,184.3 619.0,184.3 619.5,184.3 620.0,184.3 620.5,184.3 621.0,184.3 621.5,184.3 622.0,184.3 622.5,184.3 623.0,184.3 623.5,184.3 624.0,184.3 624.5,184.3 625.0,184.3 625.5,184.3 626.0,184.3 626.5,184.3 627.0,184.3 627.5,184.3 628.0,184.3 628.5,184.3 629.0,184.3 629.5,184.3 630.0,184.3 630.5,184.3 631.0,184.3 631.5,184.3 632.0,184.3 632.5,184.3 633.0,184.3 633.5,184.3 634.0,184.3 634.5,184.3 635.0,184.3 635.5,184.3 636.0,184.3 636.5,184.3 637.0,184.3 637.5,184.3 638.0,184.3 638.5,184.3 639.0,184.3 639.5,184.3 640.0,184.3 640.5,184.3 641.0,184.3 641.5,184.3 642.0,184.3 642.5,184.3 643.0,184.3 643.5,184.3 644.0,184.3 644.5,184.3 645.0,184.3 645.5,184.3 646.0,184.3 646.5,184.3 647.0,184.3 647.5,184.3 648.0,184.3 648.5,184.3 649.0,184.3 649.5,184.3 650.0,184.3 650.5,184.3 651.0,184.3 651.5,184.3 652.0,184.3 652.5,184.3 653.0,184.3 653.5,184.3 654.0,184.3 654.5,184.3 655.0,184.3 655.5,184.3 656.0,184.3 656.5,184.3 657.0,184.3 657.5,184.3 658.0,184.3 658.5,184.3 659.0,184.3 659.5,184.3 660.0,184.3 660.5,184.3 661.0,184.3 661.5,184.3 662.0,184.3 662.5,184.3 663.0,184.3 663.5,184.3 664.0,184.3 664.5,184.3 665.0,184.3 665.5,184.3 666.0,184.3 666.5,184.3 667.0,184.3 667.5,184.3 668.0,184.3 668.5,184.3 669.0,184.3 669.5,184.3 670.0,184.3 670.5,184.3 671.0,184.3 671.5,184.3 672.0,184.3 672.5,184.3 673.0,184.3 673.5,184.3 674.0,184.3 674.5,184.3 675.0,184.3 675.5,184.3 676.0,184.3 676.5,184.3 677.0,184.3 677.5,184.3 678.0,184.3 678.5,184.3 679.0,184.3 679.5,184.3 680.0,184.3 680.5,184.3 681.0,184.3 681.5,184.3 682.0,184.3 682.5,184.3 683.0,184.3 683.5,184.3 684.0,184.3 684.5,184.3 685.0,184.3 685.5,184.3 686.0,184.3 686.5,184.3 687.0,184.3 687.5,184.3 688.0,184.3 688.5,184.3 689.0,184.3 689.5,184.3 690.0,184.3 690.5,184.3 691.0,184.3 691.5,184.3 692.0,184.3 692.5,190.3 693.0,190.3 693.5,190.3 694.0,190.3 694.5,190.3 695.0,190.3 695.5,190.3 696.0,190.3 696.5,190.3 697.0,190.3 697.5,190.3 698.0,190.3 698.5,190.3 699.0,190.3 699.5,190.3 700.0,190.3 700.5,190.3 701.0,190.3 701.5,190.3 702.0,190.3 702.5,190.3 703.0,190.3 703.5,190.3 704.0,190.3 704.5,190.3 705.0,190.3 705.5,190.3 706.0,190.3 706.5,190.3 707.0,190.3 707.5,190.3 708.0,190.3 708.5,190.3 709.0,190.3 709.5,190.3 710.0,190.3 710.5,190.3 711.0,190.3 711.5,190.3 712.0,190.3 712.5,190.3 713.0,190.3 713.5,190.3 714.0,190.3 714.5,190.3 715.0,190.3 715.5,190.3 716.0,190.3 716.5,190.3 717.0,190.3 717.5,190.3 718.0,190.3 718.5,190.3 719.0,190.3 719.5,190.3 720.0,190.3 720.5,190.3 721.0,190.3 721.5,190.3 722.0,190.3 722.5,190.3 723.0,190.3 723.5,190.3 724.0,190.3 724.5,190.3 725.0,190.3 725.5,190.3 726.0,190.3 726.5,190.3 727.0,190.3 727.5,190.3 728.0,190.3 728.5,190.3 729.0,190.3 729.5,190.3 730.0,190.3 730.5,190.3 731.0,190.3 731.5,190.3 732.0,190.3 732.5,190.3 733.0,190.3 733.5,190.3 734.0,190.3 734.5,190.3 735.0,190.3 735.5,190.3 736.0,190.3 736.5,190.3 737.0,190.3 737.5,190.3 738.0,190.3 738.5,190.3 739.0,190.3 739.5,190.3 740.0,190.3 740.5,190.3 741.0,190.3 741.5,190.3 742.0,190.3 742.5,190.3 743.0,190.3 743.5,190.3 744.0,190.3 744.5,190.3 745.0,190.3 745.5,190.3 746.0,190.3 746.5,190.3 747.0,190.3 747.5,190.3 748.0,190.3 748.5,190.3 749.0,190.3 749.5,190.3 750.0,190.3 750.5,190.3 751.0,190.3 751.5,190.3 752.0,190.3 752.5,190.3 753.0,190.3 753.5,190.3 754.0,190.3 754.5,190.3 755.0,190.3 755.5,190.3 756.0,190.3 756.5,190.3 757.0,190.3 757.5,190.3 758.0,190.3 758.5,190.3 759.0,190.3" fill="none" stroke="#222" stroke-width="1.00" stroke-linejoin="round" />
<polyline points="532.5,190.3 533.0,190.3 533.5,190.3 534.0,190.3 534.5,190.3 535.0,190.3 535.5,190.3 536.0,190.3 536.5,190.3 537.0,190.3 537.5,190.3 538.0,190.3 538.5,190.3 539.0,190.3 539.5,190.3 540.0,190.3 540.5,190.3 541.0,190.3 541.5,190.3 542.0,190.3 542.5,190.3 543.0,190.3 543.5,190.3 544.0,190.3 544.5,190.3 545.0,190.3 545.5,190.3 546.0,190.3 546.5,190.3 547.0,190.3 547.5,190.3 548.0,190.3 548.5,190.3 549.0,190.3 549.5,190.3 550.0,190.3 550.5,190.3 551.0,190.3 551.5,190.3 552.0,190.3 552.5,190.3 553.0,190.3 553.5,190.3 554.0,190.3 554.5,190.3 555.0,190.3 555.5,190.3 556.0,190.3 556.5,190.3 557.0,190.3 557.5,190.3 558.0,190.3 558.5,190.3 559.0,190.3 559.5,191.0 560.0,192.0 560.5,193.0 561.0,193.3 561.5,193.3 562.0,193.3 562.5,193.3 563.0,193.3 563.5,193.3 564.0,193.3 564.5,193.3 565.0,193.3 565.5,193.3 566.0,193.3 566.5,193.3 567.0,193.3 567.5,193.3 568.0,193.3 568.5,193.3 569.0,193.3 569.5,193.3 570.0,193.3 570.5,193.3 571.0,193.3 571.5,193.3 572.0,193.3 572.5,193.3 573.0,193.3 573.5,193.3 574.0,193.3 574.5,193.3 575.0,193.3 575.5,193.3 576.0,193.3 576.5,193.3 577.0,193.3 577.5,193.3 578.0,193.3 578.5,193.3 579.0,193.3 579.5,193.3 580.0,193.3 580.5,193.3 581.0,193.3 581.5,193.3 582.0,193.3 582.5,193.3 583.0,193.3 583.5,193.3 584.0,193.3 584.5,193.3 585.0,193.3 585.5,193.3 586.0,193.3 586.5,193.3 587.0,193.3 587.5,193.3 588.0,193.3 588.5,193.3 589.0,193.3 589.5,193.3 590.0,193.3 590.5,193.3 591.0,193.3 591.5,193.3 592.0,193.3 592.5,193.3 593.0,193.3 593.5,193.3 594.0,193.3 594.5,193.3 595.0,193.3 595.5,193.3 596.0,193.3 596.5,193.3 597.0,193.3 597.5,193.3 598.0,193.3 598.5,193.3 599.0,193.3 599.5,193.3 600.0,193.3 600.5,193.3 601.0,193.3 601.5,193.3 602.0,193.3 602.5,193.3 603.0,193.3 603.5,193.3 604.0,193.3 604.5,193.3 605.0,193.3 605.5,193.3 606.0,193.3 606.5,193.3 607.0,193.3 607.5,193.3 608.0,193.3 608.5,193.3 609.0,193.3 609.5,193.3 610.0,193.3 610.5,193.3 611.0,193.3 611.5,193.3 612.0,193.3 612.5,193.3 613.0,193.3 613.5,193.3 614.0,193.3 614.5,193.3 615.0,193.3 615.5,193.3 616.0,193.3 616.5,193.3 617.0,193.3 617.5,193.3 618.0,193.3 618.5,193.3 619.0,193.3 619.5,193.3 620.0,193.3 620.5,193.3 621.0,193.3 621.5,193.3 622.0,193.3 622.5,193.3 623.0,193.3 623.5,193.3 624.0,193.3 624.5,193.3 625.0,193.3 625.5,193.3 626.0,193.3 626.5,193.3 627.0,193.3 627.5,193.3 628.0,193.3 628.5,193.3 629.0,193.3 629.5,193.3 630.0,193.3 630.5,193.3 631.0,193.3 631.5,193.3 632.0,193.3 632.5,193.3 633.0,193.3 633.5,193.3 634.0,193.3 634.5,193.3 635.0,193.3 635.5,193.3 636.0,193.3 636.5,193.3 637.0,193.3 637.5,193.3 638.0,193.3 638.5,193.3 639.0,193.3 639.5,193.3 640.0,193.3 640.5,193.3 641.0,193.3 641.5,193.3 642.0,193.3 642.5,193.3 643.0,193.3 643.5,193.3 644.0,193.3 644.5,193.3 645.0,193.3 645.5,193.3 646.0,193.3 646.5,193.3 647.0,193.3 647.5,193.3 648.0,193.3 648.5,193.3 649.0,193.3 649.5,193.3 650.0,193.3 650.5,193.3 651.0,193.3 651.5,193.3 652.0,193.3 652.5,193.3 653.0,193.3 653.5,193.3 654.0,193.3 654.5,193.3 655.0,193.3 655.5,193.3 656.0,193.3 656.5,193.3 657.0,193.3 657.5,193.3 658.0,193.3 658.5,193.3 659.0,193.3 659.5,193.3 660.0,193.3 660.5,193.3 661.0,193.3 661.5,193.3 662.0,193.3 662.5,193.3 663.0,193.3 663.5,193.3 664.0,193.3 664.5,193.3 665.0,193.3 665.5,193.3 666.0,193.3 666.5,193.3 667.0,193.3 667.5,193.3 668.0,193.3 668.5,193.3 669.0,193.3 669.5,193.3 670.0,193.3 670.5,193.3 671.0,193.3 671.5,193.3 672.0,193.3 672.5,193.3 673.0,193.3 673.5,193.3 674.0,193.3 674.5,193.3 675.0,193.3 675.5,193.3 676.0,193.3 676.5,193.3 677.0,193.3 677.5,193.3 678.0,193.3 678.5,193.3 679.0,193.3 679.5,193.3 680.0,193.3 680.5,193.3 681.0,193.3 681.5,193.3 682.0,193.3 682.5,193.3 683.0,193.3 683.5,193.3 684.0,193.3 684.5,193.3 685.0,193.3 685.5,193.3 686.0,193.3 686.5,193.3 687.0,193.3 687.5,193.3 688.0,193.3 688.5,193.3 689.0,193.3 689.5,193.3 690.0,193.3 690.5,193.3 691.0,193.3 691.5,193.3 692.0,193.3 692.5,190.3 693.0,190.3 693.5,190.3 694.0,190.3 694.5,190.3 695.0,190.3 695.5,190.3 696.0,190.3 696.5,190.3 697.0,190.3 697.5,190.3 698.0,190.3 698.5,190.3 699.0,190.3 699.5,190.3 700.0,190.3 700.5,190.3 701.0,190.3 701.5,190.3 702.0,190.3 702.5,190.3 703.0,190.3 703.5,190.3 704.0,190.3 704.5,190.3 705.0,190.3 705.5,190.3 706.0,190.3 706.5,190.3 707.0,190.3 707.5,190.3 708.0,190.3 708.5,190.3 709.0,190.3 709.5,190.3 710.0,190.3 710.5,190.3 711.0,190.3 711.5,190.3 712.0,190.3 712.5,190.3 713.0,190.3 713.5,190.3 714.0,190.3 714.5,190.3 715.0,190.3 715.5,190.3 716.0,190.3 716.5,190.3 717.0,190.3 717.5,190.3 718.0,190.3 718.5,190.3 719.0,190.3 719.5,190.3 720.0,190.3 720.5,190.3 721.0,190.3 721.5,190.3 722.0,190.3 722.5,190.3 723.0,190.3 723.5,190.3 724.0,190.3 724.5,190.3 725.0,190.3 725.5,190.3 726.0,190.3 726.5,190.3 727.0,190.3 727.5,190.3 728.0,190.3 728.5,190.3 729.0,190.3 729.5,190.3 730.0,190.3 730.5,190.3 731.0,190.3 731.5,190.3 732.0,190.3 732.5,190.3 733.0,190.3 733.5,190.3 734.0,190.3 734.5,190.3 735.0,190.3 735.5,190.3 736.0,190.3 736.5,190.3 737.0,190.3 737.5,190.3 738.0,190.3 738.5,190.3 739.0,190.3 739.5,190.3 740.0,190.3 740.5,190.3 741.0,190.3 741.5,190.3 742.0,190.3 742.5,190.3 743.0,190.3 743.5,190.3 744.0,190.3 744.5,190.3 745.0,190.3 745.5,190.3 746.0,190.3 746.5,190.3 747.0,190.3 747.5,190.3 748.0,190.3 748.5,190.3 749.0,190.3 749.5,190.3 750.0,190.3 750.5,190.3 751.0,190.3 751.5,190.3 752.0,190.3 752.5,190.3 753.0,190.3 753.5,190.3 754.0,190.3 754.5,190.3 755.0,190.3 755.5,190.3 756.0,190.3 756.5,190.3 757.0,190.3 757.5,190.3 758.0,190.3 758.5,190.3 759.0,190.3" fill="none" stroke="#222" stroke-width="1.00" stroke-linejoin="round" />
<polyline points="532.5,190.2 533.0,190.5 533.5,190.9 534.0,190.8 534.5,190.4 535.0,190.1 535.5,189.6 536.0,190.2 536.5,190.2 537.0,190.7 537.5,190.4 538.0,190.2 538.5,190.1 539.0,189.9 539.5,190.0 540.0,190.1 540.5,190.0 541.0,190.4 541.5,190.1 542.0,190.5 542.5,190.1 543.0,190.1 543.5,190.0 544.0,190.1 544.5,190.3 545.0,190.2 545.5,190.1 546.0,190.2 546.5,190.1 547.0,190.2 547.5,190.3 548.0,190.2 548.5,190.1 549.0,189.8 549.5,189.8 550.0,189.7 550.5,189.8 551.0,189.9 551.5,190.2 552.0,189.9 552.5,190.0 553.0,190.2 553.5,190.5 554.0,190.2 554.5,189.9 555.0,190.2 555.5,190.7 556.0,191.0 556.5,190.4 557.0,190.4 557.5,190.3 558.0,190.8 558.5,190.4 559.0,190.5 559.5,189.4 560.0,188.7 560.5,187.8 561.0,187.4 561.5,186.6 562.0,186.2 562.5,185.8 563.0,185.6 563.5,185.2 564.0,184.9 564.5,184.7 565.0,185.0 565.5,185.3 566.0,185.1 566.5,185.0 567.0,184.2 567.5,184.0 568.0,183.9 568.5,184.1 569.0,184.3 569.5,184.5 570.0,184.7 570.5,184.9 571.0,184.7 571.5,184.7 572.0,184.4 572.5,184.5 573.0,184.4 573.5,184.5 574.0,183.8 574.5,183.6 575.0,184.2 575.5,184.7 576.0,184.7 576.5,184.3 577.0,184.5 577.5,184.7 578.0,184.6 578.5,184.2 579.0,184.1 579.5,183.9 580.0,184.2 580.5,184.5 581.0,184.9 581.5,184.8 582.0,184.3 582.5,183.9 583.0,184.0 583.5,184.3 584.0,184.7 584.5,184.7 585.0,184.4 585.5,183.9 586.0,184.0 586.5,184.1 587.0,184.8 587.5,184.2 588.0,184.2 588.5,183.6 589.0,184.1 589.5,184.4 590.0,184.5 590.5,184.5 591.0,184.2 591.5,184.2 592.0,183.8 592.5,184.0 593.0,183.9 593.5,184.2 594.0,185.0 594.5,184.8 595.0,184.7 595.5,184.2 596.0,184.5 596.5,184.8 597.0,184.5 597.5,184.6 598.0,184.2 598.5,184.5 599.0,184.4 599.5,184.6 600.0,184.4 600.5,184.0 601.0,183.7 601.5,184.0 602.0,184.3 602.5,184.6 603.0,184.2 603.5,184.4 604.0,184.4 604.5,184.3 605.0,184.2 605.5,184.4 606.0,184.7 606.5,184.8 607.0,184.4 607.5,184.7 608.0,184.5 608.5,184.3 609.0,184.1 609.5,184.1 610.0,184.1 610.5,184.1 611.0,184.3 611.5,184.3 612.0,184.3 612.5,183.9 613.0,184.1 613.5,183.9 614.0,184.2 614.5,184.2 615.0,184.8 615.5,184.7 616.0,184.4 616.5,184.2 617.0,184.3 617.5,184.7 618.0,184.7 618.5,184.6 619.0,184.1 619.5,184.0 620.0,184.1 620.5,184.6 621.0,184.6 621.5,184.9 622.0,184.9 622.5,184.7 623.0,184.3 623.5,183.9 624.0,184.0 624.5,184.1 625.0,184.3 625.5,184.5 626.0,184.9 626.5,184.8 627.0,184.6 627.5,184.4 628.0,184.2 628.5,184.3 629.0,184.1 629.5,184.5 630.0,184.0 630.5,184.3 631.0,184.2 631.5,184.7 632.0,184.6 632.5,184.5 633.0,184.7 633.5,185.0 634.0,184.9 634.5,185.0 635.0,184.6 635.5,184.7 636.0,184.4 636.5,184.3 637.0,184.3 637.5,184.1 638.0,184.5 638.5,184.3 639.0,184.1 639.5,183.7 640.0,183.8 640.5,184.2 641.0,184.5 641.5,184.4 642.0,184.5 642.5,184.3 643.0,184.4 643.5,184.4 644.0,184.5 644.5,184.2 645.0,184.2 645.5,184.2 646.0,184.5 646.5,184.6 647.0,184.4 647.5,184.6 648.0,184.4 648.5,185.0 649.0,184.6 649.5,184.6 650.0,184.2 650.5,184.7 651.0,184.6 651.5,184.4 652.0,184.5 652.5,184.5 653.0,184.6 653.5,184.4 654.0,184.5 654.5,184.2 655.0,184.1 655.5,184.0 656.0,184.3 656.5,184.6 657.0,184.7 657.5,184.8 658.0,184.6 658.5,184.7 659.0,184.5 659.5,184.5 660.0,184.0 660.5,183.9 661.0,184.1 661.5,184.4 662.0,184.2 662.5,184.0 663.0,184.0 663.5,184.1 664.0,184.2 664.5,184.2 665.0,184.4 665.5,184.5 666.0,184.5 666.5,184.7 667.0,184.4 667.5,184.5 668.0,184.5 668.5,184.7 669.0,184.6 669.5,184.4 670.0,184.3 670.5,184.1 671.0,184.3 671.5,184.3 672.0,184.3 672.5,184.0 673.0,184.1 673.5,184.1 674.0,184.7 674.5,184.4 675.0,184.6 675.5,183.8 676.0,184.0 676.5,183.8 677.0,184.4 677.5,184.4 678.0,184.5 678.5,184.8 679.0,184.9 679.5,184.8 680.0,184.5 680.5,183.8 681.0,183.8 681.5,184.0 682.0,184.4 682.5,184.5 683.0,184.1 683.5,184.3 684.0,184.3 684.5,184.5 685.0,184.6 685.5,184.9 686.0,185.0 686.5,184.5 687.0,184.3 687.5,184.2 688.0,184.3 688.5,183.9 689.0,183.8 689.5,183.9 690.0,184.2 690.5,184.2 691.0,184.3 691.5,184.3 692.0,184.4 692.5,184.6 693.0,185.1 693.5,185.5 694.0,185.9 694.5,186.6 695.0,187.8 695.5,187.8 696.0,187.8 696.5,187.5 697.0,188.1 697.5,188.3 698.0,188.7 698.5,189.0 699.0,189.1 699.5,189.2 700.0,189.4 700.5,189.9 701.0,189.7 701.5,189.8 702.0,189.6 702.5,190.0 703.0,189.6 703.5,189.7 704.0,189.6 704.5,189.8 705.0,189.8 705.5,189.7 706.0,189.5 706.5,189.7 707.0,189.6 707.5,189.8 708.0,189.7 708.5,190.2 709.0,190.3 709.5,190.5 710.0,190.5 710.5,190.2 711.0,190.0 711.5,189.6 712.0,189.6 712.5,189.7 713.0,189.6 713.5,189.7 714.0,190.0 714.5,190.6 715.0,190.7 715.5,190.4 716.0,190.1 716.5,189.9 717.0,189.9 717.5,189.9 718.0,190.1 718.5,190.2 719.0,190.3 719.5,190.1 720.0,190.1 720.5,190.3 721.0,190.6 721.5,190.5 722.0,190.1 722.5,190.1 723.0,190.6 723.5,190.8 724.0,190.3 724.5,189.7 725.0,189.8 725.5,190.0 726.0,190.1 726.5,190.3 727.0,190.1 727.5,190.1 728.0,189.7 728.5,190.1 729.0,190.4 729.5,190.9 730.0,190.5 730.5,190.5 731.0,190.3 731.5,190.6 732.0,190.5 732.5,190.4 733.0,190.2 733.5,189.8 734.0,189.8 734.5,189.8 735.0,189.8 735.5,190.0 736.0,190.2 736.5,190.3 737.0,190.2 737.5,189.8 738.0,189.9 738.5,190.4 739.0,190.6 739.5,190.5 740.0,190.0 740.5,190.0 741.0,190.1 741.5,190.3 742.0,190.2 742.5,190.0 743.0,190.2 743.5,190.4 744.0,190.6 744.5,190.6 745.0,190.4 745.5,190.2 746.0,189.9 746.5,189.9 747.0,190.0 747.5,190.1 748.0,190.4 748.5,190.5 749.0,190.8 749.5,190.7 750.0,190.6 750.5,190.3 751.0,189.9 751.5,190.2 752.0,190.1 752.5,190.3 753.0,190.3 753.5,190.3 754.0,190.2 754.5,189.9 755.0,190.0 755.5,190.1 756.0,190.1 756.5,190.4 757.0,190.3 757.5,190.4 758.0,190.2 758.5,190.4 759.0,190.5" fill="none" stroke="#ff1a1a" stroke-width="1.60" stroke-linejoin="round" />
<polyline points="532.5,189.9 533.0,189.8 533.5,189.3 534.0,189.3 534.5,189.6 535.0,190.3 535.5,190.2 536.0,190.3 536.5,190.1 537.0,190.1 537.5,190.0 538.0,190.0 538.5,190.1 539.0,190.2 539.5,190.4 540.0,190.2 540.5,190.2 541.0,190.0 541.5,190.1 542.0,190.0 542.5,190.3 543.0,189.8 543.5,190.0 544.0,190.0 544.5,190.2 545.0,189.9 545.5,189.8 546.0,189.9 546.5,190.1 547.0,190.0 547.5,190.1 548.0,190.2 548.5,190.3 549.0,190.3 549.5,190.3 550.0,190.2 550.5,190.2 551.0,190.2 551.5,190.5 552.0,190.2 552.5,190.3 553.0,190.4 553.5,190.6 554.0,190.6 554.5,190.4 555.0,190.5 555.5,190.4 556.0,190.4 556.5,190.2 557.0,190.6 557.5,190.3 558.0,190.5 558.5,190.0 559.0,190.3 559.5,190.7 560.0,191.2 560.5,191.8 561.0,191.7 561.5,192.0 562.0,192.0 562.5,192.1 563.0,192.6 563.5,192.7 564.0,192.5 564.5,192.2 565.0,192.0 565.5,192.6 566.0,192.8 566.5,192.8 567.0,192.9 567.5,192.9 568.0,193.1 568.5,192.7 569.0,193.1 569.5,193.3 570.0,193.4 570.5,192.8 571.0,192.2 571.5,192.6 572.0,192.9 572.5,193.4 573.0,193.0 573.5,193.0 574.0,192.7 574.5,193.2 575.0,193.3 575.5,193.1 576.0,193.0 576.5,193.1 577.0,193.3 577.5,193.3 578.0,193.1 578.5,193.0 579.0,192.6 579.5,192.8 580.0,193.0 580.5,193.6 581.0,193.3 581.5,192.8 582.0,193.0 582.5,193.1 583.0,193.3 583.5,193.1 584.0,193.1 584.5,193.1 585.0,193.4 585.5,193.4 586.0,193.7 586.5,193.5 587.0,193.7 587.5,193.5 588.0,193.6 588.5,193.7 589.0,193.6 589.5,193.4 590.0,193.5 590.5,193.3 591.0,193.3 591.5,193.2 592.0,193.3 592.5,193.5 593.0,193.3 593.5,193.3 594.0,193.7 594.5,193.6 595.0,193.3 595.5,192.8 596.0,192.9 596.5,193.1 597.0,193.1 597.5,193.2 598.0,193.3 598.5,193.4 599.0,193.3 599.5,193.1 600.0,193.0 600.5,192.9 601.0,192.8 601.5,192.9 602.0,193.0 602.5,193.1 603.0,193.1 603.5,193.1 604.0,193.1 604.5,193.0 605.0,192.8 605.5,193.2 606.0,193.0 606.5,193.1 607.0,193.0 607.5,193.1 608.0,193.0 608.5,192.6 609.0,192.5 609.5,192.9 610.0,193.0 610.5,193.1 611.0,192.8 611.5,192.9 612.0,193.0 612.5,192.9 613.0,193.0 613.5,192.9 614.0,193.0 614.5,192.9 615.0,192.9 615.5,193.0 616.0,192.9 616.5,193.5 617.0,193.4 617.5,193.6 618.0,193.0 618.5,192.9 619.0,192.7 619.5,192.8 620.0,193.0 620.5,193.0 621.0,193.2 621.5,193.6 622.0,194.0 622.5,193.8 623.0,193.8 623.5,193.8 624.0,193.6 624.5,193.2 625.0,192.9 625.5,193.3 626.0,193.4 626.5,193.4 627.0,193.3 627.5,193.3 628.0,193.3 628.5,193.1 629.0,193.2 629.5,192.8 630.0,192.4 630.5,192.5 631.0,192.7 631.5,193.2 632.0,193.0 632.5,193.3 633.0,193.2 633.5,192.8 634.0,192.7 634.5,192.4 635.0,192.8 635.5,193.2 636.0,193.4 636.5,193.3 637.0,192.7 637.5,192.7 638.0,192.6 638.5,192.9 639.0,193.1 639.5,193.4 640.0,193.4 640.5,193.4 641.0,192.9 641.5,193.0 642.0,192.9 642.5,192.9 643.0,192.8 643.5,192.7 644.0,193.2 644.5,193.2 645.0,193.4 645.5,193.5 646.0,193.4 646.5,193.3 647.0,193.0 647.5,193.1 648.0,193.0 648.5,193.1 649.0,193.1 649.5,193.2 650.0,192.8 650.5,192.9 651.0,193.3 651.5,193.7 652.0,193.7 652.5,193.8 653.0,193.7 653.5,193.8 654.0,193.5 654.5,193.2 655.0,192.9 655.5,192.9 656.0,193.2 656.5,193.5 657.0,193.6 657.5,193.7 658.0,193.8 658.5,194.1 659.0,193.9 659.5,193.4 660.0,193.4 660.5,193.2 661.0,193.0 661.5,192.3 662.0,192.7 662.5,192.7 663.0,193.1 663.5,192.8 664.0,193.3 664.5,193.1 665.0,193.2 665.5,193.0 666.0,193.5 666.5,193.4 667.0,193.4 667.5,193.1 668.0,193.4 668.5,193.5 669.0,193.5 669.5,193.4 670.0,192.9 670.5,193.0 671.0,192.7 671.5,192.9 672.0,193.1 672.5,193.7 673.0,193.8 673.5,193.6 674.0,193.1 674.5,193.2 675.0,193.2 675.5,193.5 676.0,193.6 676.5,193.8 677.0,193.5 677.5,193.4 678.0,193.1 678.5,192.9 679.0,192.9 679.5,193.4 680.0,194.0 680.5,193.7 681.0,192.7 681.5,192.4 682.0,192.5 682.5,193.1 683.0,193.5 683.5,193.2 684.0,193.4 684.5,193.2 685.0,193.4 685.5,193.0 686.0,192.9 686.5,192.9 687.0,193.1 687.5,192.9 688.0,192.8 688.5,192.7 689.0,193.0 689.5,193.2 690.0,193.5 690.5,193.5 691.0,193.3 691.5,193.2 692.0,192.8 692.5,192.7 693.0,192.4 693.5,192.3 694.0,192.1 694.5,191.4 695.0,191.3 695.5,190.9 696.0,191.1 696.5,191.0 697.0,191.3 697.5,190.6 698.0,190.2 698.5,189.6 699.0,190.1 699.5,190.2 700.0,190.2 700.5,189.8 701.0,189.7 701.5,189.6 702.0,190.1 702.5,190.2 703.0,190.9 703.5,190.8 704.0,190.9 704.5,190.5 705.0,190.5 705.5,190.3 706.0,189.9 706.5,189.9 707.0,190.0 707.5,190.4 708.0,190.3 708.5,190.2 709.0,190.1 709.5,190.1 710.0,190.6 710.5,190.5 711.0,190.5 711.5,190.3 712.0,190.3 712.5,190.5 713.0,190.6 713.5,190.9 714.0,190.7 714.5,190.7 715.0,190.3 715.5,190.1 716.0,190.1 716.5,190.2 717.0,190.2 717.5,190.1 718.0,189.8 718.5,189.9 719.0,190.0 719.5,190.2 720.0,190.0 720.5,190.2 721.0,190.4 721.5,190.4 722.0,189.9 722.5,189.6 723.0,189.4 723.5,189.2 724.0,189.3 724.5,189.7 725.0,190.2 725.5,190.4 726.0,190.5 726.5,190.4 727.0,190.2 727.5,189.9 728.0,189.8 728.5,190.2 729.0,190.5 729.5,190.2 730.0,189.7 730.5,189.9 731.0,190.1 731.5,190.7 732.0,190.3 732.5,190.1 733.0,190.2 733.5,190.3 734.0,190.8 734.5,190.6 735.0,190.4 735.5,190.1 736.0,190.2 736.5,190.2 737.0,190.3 737.5,190.3 738.0,190.2 738.5,190.1 739.0,189.9 739.5,190.3 740.0,190.4 740.5,190.2 741.0,190.1 741.5,190.0 742.0,190.2 742.5,190.2 743.0,190.3 743.5,190.4 744.0,190.5 744.5,190.3 745.0,190.3 745.5,190.0 746.0,190.2 746.5,190.1 747.0,190.4 747.5,190.4 748.0,190.3 748.5,189.9 749.0,189.9 749.5,189.9 750.0,190.0 750.5,190.0 751.0,190.0 751.5,190.5 752.0,190.5 752.5,190.8 753.0,190.7 753.5,190.9 754.0,190.6 754.5,190.5 755.0,190.2 755.5,190.1 756.0,190.1 756.5,190.2 757.0,190.5 757.5,190.9 758.0,191.0 758.5,190.9 759.0,190.4" fill="none" stroke="#ff1a1a" stroke-width="1.60" stroke-linejoin="round" />
<line x1="532.50" y1="218.90" x2="532.50" y2="216.60" stroke="#3a3a3a" stroke-width="1.00"/>
<line x1="532.50" y1="162.80" x2="532.50" y2="165.10" stroke="#3a3a3a" stroke-width="1.00"/>
<g transform="translate(532.50,228.35) scale(0.880,1)">
<text x="0.00" y="0.00" font-size="10.20" text-anchor="middle" fill="#111" stroke="#111" stroke-width="0.12">1.58</text>
</g>
<line x1="559.15" y1="218.90" x2="559.15" y2="216.60" stroke="#3a3a3a" stroke-width="1.00"/>
<line x1="559.15" y1="162.80" x2="559.15" y2="165.10" stroke="#3a3a3a" stroke-width="1.00"/>
<g transform="translate(559.15,228.35) scale(0.880,1)">
<text x="0.00" y="0.00" font-size="10.20" text-anchor="middle" fill="#111" stroke="#111" stroke-width="0.12">1.6</text>
</g>
<line x1="585.79" y1="218.90" x2="585.79" y2="216.60" stroke="#3a3a3a" stroke-width="1.00"/>
<line x1="585.79" y1="162.80" x2="585.79" y2="165.10" stroke="#3a3a3a" stroke-width="1.00"/>
<g transform="translate(585.79,228.35) scale(0.880,1)">
<text x="0.00" y="0.00" font-size="10.20" text-anchor="middle" fill="#111" stroke="#111" stroke-width="0.12">1.62</text>
</g>
<line x1="612.44" y1="218.90" x2="612.44" y2="216.60" stroke="#3a3a3a" stroke-width="1.00"/>
<line x1="612.44" y1="162.80" x2="612.44" y2="165.10" stroke="#3a3a3a" stroke-width="1.00"/>
<g transform="translate(612.44,228.35) scale(0.880,1)">
<text x="0.00" y="0.00" font-size="10.20" text-anchor="middle" fill="#111" stroke="#111" stroke-width="0.12">1.64</text>
</g>
<line x1="639.09" y1="218.90" x2="639.09" y2="216.60" stroke="#3a3a3a" stroke-width="1.00"/>
<line x1="639.09" y1="162.80" x2="639.09" y2="165.10" stroke="#3a3a3a" stroke-width="1.00"/>
<g transform="translate(639.09,228.35) scale(0.880,1)">
<text x="0.00" y="0.00" font-size="10.20" text-anchor="middle" fill="#111" stroke="#111" stroke-width="0.12">1.66</text>
</g>
<line x1="665.74" y1="218.90" x2="665.74" y2="216.60" stroke="#3a3a3a" stroke-width="1.00"/>
<line x1="665.74" y1="162.80" x2="665.74" y2="165.10" stroke="#3a3a3a" stroke-width="1.00"/>
<g transform="translate(665.74,228.35) scale(0.880,1)">
<text x="0.00" y="0.00" font-size="10.20" text-anchor="middle" fill="#111" stroke="#111" stroke-width="0.12">1.68</text>
</g>
<line x1="692.38" y1="218.90" x2="692.38" y2="216.60" stroke="#3a3a3a" stroke-width="1.00"/>
<line x1="692.38" y1="162.80" x2="692.38" y2="165.10" stroke="#3a3a3a" stroke-width="1.00"/>
<g transform="translate(692.38,228.35) scale(0.880,1)">
<text x="0.00" y="0.00" font-size="10.20" text-anchor="middle" fill="#111" stroke="#111" stroke-width="0.12">1.7</text>
</g>
<line x1="719.03" y1="218.90" x2="719.03" y2="216.60" stroke="#3a3a3a" stroke-width="1.00"/>
<line x1="719.03" y1="162.80" x2="719.03" y2="165.10" stroke="#3a3a3a" stroke-width="1.00"/>
<g transform="translate(719.03,228.35) scale(0.880,1)">
<text x="0.00" y="0.00" font-size="10.20" text-anchor="middle" fill="#111" stroke="#111" stroke-width="0.12">1.72</text>
</g>
<line x1="745.68" y1="218.90" x2="745.68" y2="216.60" stroke="#3a3a3a" stroke-width="1.00"/>
<line x1="745.68" y1="162.80" x2="745.68" y2="165.10" stroke="#3a3a3a" stroke-width="1.00"/>
<g transform="translate(745.68,228.35) scale(0.880,1)">
<text x="0.00" y="0.00" font-size="10.20" text-anchor="middle" fill="#111" stroke="#111" stroke-width="0.12">1.74</text>
</g>
<line x1="532.50" y1="176.57" x2="534.80" y2="176.57" stroke="#3a3a3a" stroke-width="1.00"/>
<line x1="759.00" y1="176.57" x2="756.70" y2="176.57" stroke="#3a3a3a" stroke-width="1.00"/>
<g transform="translate(531.90,179.57) scale(0.930,1)">
<text x="0.00" y="0.00" font-size="9.80" text-anchor="end" fill="#111" stroke="#111" stroke-width="0.12">0.05</text>
</g>
<line x1="532.50" y1="190.60" x2="534.80" y2="190.60" stroke="#3a3a3a" stroke-width="1.00"/>
<line x1="759.00" y1="190.60" x2="756.70" y2="190.60" stroke="#3a3a3a" stroke-width="1.00"/>
<g transform="translate(531.90,193.60) scale(0.930,1)">
<text x="0.00" y="0.00" font-size="9.80" text-anchor="end" fill="#111" stroke="#111" stroke-width="0.12">0</text>
</g>
<line x1="532.50" y1="204.62" x2="534.80" y2="204.62" stroke="#3a3a3a" stroke-width="1.00"/>
<line x1="759.00" y1="204.62" x2="756.70" y2="204.62" stroke="#3a3a3a" stroke-width="1.00"/>
<g transform="translate(531.90,207.62) scale(0.930,1)">
<text x="0.00" y="0.00" font-size="9.80" text-anchor="end" fill="#111" stroke="#111" stroke-width="0.12">-0.05</text>
</g>
<rect x="532.50" y="162.80" width="226.50" height="56.10" fill="none" stroke="#3a3a3a" stroke-width="1"/>
<polyline points="792.6,29.9 793.0,29.9 793.4,29.9 793.8,29.9 794.2,29.9 794.6,29.9 795.0,29.9 795.4,29.9 795.8,29.9 796.2,29.9 796.6,29.9 797.0,29.9 797.4,29.9 797.8,29.9 798.2,29.9 798.6,29.9 799.0,29.9 799.4,29.9 799.8,29.9 800.2,29.9 800.6,29.9 801.0,29.9 801.4,29.9 801.8,29.9 802.2,29.9 802.6,29.9 803.0,29.9 803.4,29.9 803.8,29.9 804.2,29.9 804.6,29.9 805.0,29.9 805.4,29.9 805.8,29.9 806.2,29.9 806.6,29.9 807.0,29.9 807.4,29.9 807.8,29.9 808.2,29.9 808.6,29.9 809.0,29.9 809.4,29.9 809.8,29.9 810.2,29.9 810.6,29.9 811.0,29.9 811.4,29.9 811.8,29.9 812.2,29.9 812.6,29.9 813.0,29.9 813.4,29.9 813.8,29.9 814.2,29.9 814.6,29.9 815.0,29.9 815.4,29.9 815.8,29.9 816.2,29.9 816.6,29.9 817.0,29.9 817.4,29.9 817.8,29.9 818.2,29.9 818.6,29.9 819.0,30.8 819.4,32.9 819.8,35.0 820.2,37.2 820.6,39.3 821.0,41.1 821.4,42.8 821.8,44.5 822.2,46.2 822.6,47.9 823.0,48.7 823.4,48.9 823.8,49.2 824.2,49.5 824.6,49.5 825.0,49.5 825.4,49.5 825.8,49.5 826.2,49.5 826.6,49.5 827.0,49.5 827.4,49.5 827.8,49.5 828.2,49.5 828.6,49.5 829.0,49.5 829.4,49.5 829.8,49.5 830.2,49.5 830.6,49.5 831.0,49.5 831.4,49.5 831.8,49.5 832.2,49.5 832.6,49.5 833.0,49.5 833.4,49.5 833.8,49.5 834.2,49.5 834.6,49.5 835.0,49.5 835.4,49.5 835.8,49.5 836.2,49.5 836.6,49.5 837.0,49.5 837.4,49.5 837.8,49.5 838.2,49.5 838.6,49.5 839.0,49.5 839.4,49.5 839.8,49.5 840.2,49.5 840.6,49.5 841.0,49.5 841.4,49.5 841.8,49.5 842.2,49.5 842.6,49.5 843.0,49.5 843.4,49.5 843.8,49.5 844.2,49.5 844.6,49.5 845.0,49.5 845.4,49.5 845.8,49.5 846.2,49.5 846.6,49.5 847.0,49.5 847.4,49.5 847.8,49.5 848.2,49.5 848.6,49.5 849.0,49.5 849.4,49.5 849.8,49.5 850.2,49.5 850.6,49.5 851.0,49.5 851.4,49.5 851.8,49.5 852.2,49.5 852.6,49.5 853.0,49.5 853.4,49.5 853.8,49.5 854.2,49.5 854.6,49.5 855.0,49.5 855.4,49.5 855.8,49.5 856.2,49.5 856.6,49.5 857.0,49.5 857.4,49.5 857.8,49.5 858.2,49.5 858.6,49.5 859.0,49.5 859.4,49.5 859.8,49.5 860.2,49.5 860.6,49.5 861.0,49.5 861.4,49.5 861.8,49.5 862.2,49.5 862.6,49.5 863.0,49.5 863.4,49.5 863.8,49.5 864.2,49.5 864.6,49.5 865.0,49.5 865.4,49.5 865.8,49.5 866.2,49.5 866.6,49.5 867.0,49.5 867.4,49.5 867.8,49.5 868.2,49.5 868.6,49.5 869.0,49.5 869.4,49.5 869.8,49.5 870.2,49.5 870.6,49.5 871.0,49.5 871.4,49.5 871.8,49.5 872.2,49.5 872.6,49.5 873.0,49.5 873.4,49.5 873.8,49.5 874.2,49.5 874.6,49.5 875.0,49.5 875.4,49.5 875.8,49.5 876.2,49.5 876.6,49.5 877.0,49.5 877.4,49.5 877.8,49.5 878.2,49.5 878.6,49.5 879.0,49.5 879.4,49.5 879.8,49.5 880.2,49.5 880.6,49.5 881.0,49.5 881.4,49.5 881.8,49.5 882.2,49.5 882.6,49.5 883.0,49.5 883.4,49.5 883.8,49.5 884.2,49.5 884.6,49.5 885.0,49.5 885.4,49.5 885.8,49.5 886.2,49.5 886.6,49.5 887.0,49.5 887.4,49.5 887.8,49.6 888.2,49.6 888.6,49.6 889.0,49.6 889.4,49.6 889.8,49.6 890.2,49.6 890.6,49.6 891.0,49.6 891.4,49.6 891.8,49.6 892.2,49.6 892.6,49.6 893.0,49.6 893.4,49.6 893.8,49.6 894.2,49.6 894.6,49.6 895.0,49.6 895.4,49.6 895.8,49.6 896.2,49.6 896.6,49.6 897.0,49.6 897.4,49.6 897.8,49.6 898.2,49.6 898.6,49.6 899.0,49.6 899.4,49.6 899.8,49.6 900.2,49.6 900.6,49.6 901.0,49.6 901.4,49.6 901.8,49.6 902.2,49.6 902.6,49.6 903.0,49.6 903.4,49.6 903.8,49.6 904.2,49.6 904.6,49.6 905.0,49.6 905.4,49.6 905.8,49.6 906.2,49.6 906.6,49.6 907.0,49.6 907.4,49.6 907.8,49.6 908.2,49.6 908.6,49.6 909.0,49.6 909.4,49.6 909.8,49.6 910.2,49.6 910.6,49.6 911.0,49.6 911.4,49.6 911.8,49.6 912.2,49.6 912.6,49.6 913.0,49.6 913.4,49.6 913.8,49.6 914.2,49.6 914.6,49.6 915.0,49.6 915.4,49.6 915.8,49.6 916.2,49.6 916.6,49.6 917.0,49.6 917.4,49.6 917.8,49.6 918.2,49.6 918.6,49.6 919.0,49.6 919.4,49.6 919.8,49.6 920.2,49.6 920.6,49.6 921.0,49.6 921.4,49.6 921.8,49.6 922.2,49.6 922.6,49.6 923.0,49.6 923.4,49.6 923.8,49.6 924.2,49.6 924.6,49.6 925.0,49.6 925.4,49.6 925.8,49.6 926.2,49.6 926.6,49.6 927.0,49.6 927.4,49.6 927.8,49.6 928.2,49.6 928.6,49.6 929.0,49.6 929.4,49.6 929.8,49.6 930.2,49.6 930.6,49.6 931.0,49.6 931.4,49.6 931.8,49.6 932.2,49.6 932.6,49.6 933.0,49.6 933.4,49.6 933.8,49.6 934.2,49.6 934.6,49.6 935.0,49.6 935.4,49.6 935.8,49.6 936.2,49.6 936.6,49.6 937.0,49.6 937.4,49.6 937.8,49.6 938.2,49.6 938.6,49.6 939.0,49.6 939.4,49.6 939.8,49.6 940.2,49.6 940.6,49.6 941.0,49.6 941.4,49.6 941.8,49.6 942.2,49.6 942.6,49.6 943.0,49.6 943.4,49.6 943.8,49.6 944.2,49.6 944.6,49.6 945.0,49.6 945.4,49.6 945.8,49.6 946.2,49.6 946.6,49.6 947.0,49.6 947.4,49.6 947.8,49.6 948.2,49.6 948.6,49.6 949.0,49.6 949.4,49.6 949.8,49.6 950.2,49.6 950.6,49.6 951.0,49.6 951.4,48.7 951.8,46.9 952.2,45.0 952.6,43.1 953.0,41.4 953.4,40.0 953.8,38.5 954.2,37.1 954.6,35.7 955.0,34.2 955.4,32.8 955.8,31.4 956.2,29.9" fill="none" stroke="#222" stroke-width="1.00" stroke-linejoin="round" />
<polyline points="956.6,29.9 957.0,29.9 957.4,29.9 957.8,29.9 958.2,29.9 958.6,29.9 959.0,29.9 959.4,29.9 959.8,29.9 960.2,29.9 960.6,29.9 961.0,29.9 961.4,29.9 961.8,29.9 962.2,29.9 962.6,29.9 963.0,29.9 963.4,29.9 963.8,29.9 964.2,29.9 964.6,29.9 965.0,29.9 965.4,29.9 965.8,29.9 966.2,29.9 966.6,29.9 967.0,29.9 967.4,29.9 967.8,29.9 968.2,29.9 968.6,29.9 969.0,29.9 969.4,29.9 969.8,29.9 970.2,29.9 970.6,29.9 971.0,29.9 971.4,29.9 971.8,29.9 972.2,29.9 972.6,29.9 973.0,29.9 973.4,29.9 973.8,29.9 974.2,29.9 974.6,29.9 975.0,29.9 975.4,29.9 975.8,29.9 976.2,29.9 976.6,29.9 977.0,29.9 977.4,29.9 977.8,29.9 978.2,29.9 978.6,29.9 979.0,29.9 979.4,29.9 979.8,29.9 980.2,29.9 980.6,29.9 981.0,29.9 981.4,29.9 981.8,29.9 982.2,29.9 982.6,29.9 983.0,29.9 983.4,29.9 983.8,29.9 984.2,29.9 984.6,29.9 985.0,29.9 985.4,29.9 985.8,29.9 986.2,29.9 986.6,29.9 987.0,29.9 987.4,29.9 987.8,29.9 988.2,29.9 988.6,29.9 989.0,29.9 989.4,29.9 989.8,29.9 990.2,29.9 990.6,29.9 991.0,29.9 991.4,29.9 991.8,29.9 992.2,29.9 992.6,29.9 993.0,29.9 993.4,29.9 993.8,29.9 994.2,29.9 994.6,29.9 995.0,29.9 995.4,29.9 995.8,29.9 996.2,29.9 996.6,29.9 997.0,29.9 997.4,29.9 997.8,29.9 998.2,29.9 998.6,29.9 999.0,29.9 999.4,29.9 999.8,29.9 1000.2,29.9 1000.6,29.9 1001.0,29.9 1001.4,29.9 1001.8,29.9 1002.2,29.9 1002.6,29.9 1003.0,29.9 1003.4,29.9 1003.8,29.9 1004.2,29.9 1004.6,29.9 1005.0,29.9 1005.4,29.9 1005.8,29.9 1006.2,29.9 1006.6,29.9 1007.0,29.9 1007.4,29.9 1007.8,29.9 1008.2,29.9 1008.6,29.9 1009.0,29.9 1009.4,29.9 1009.8,29.9 1010.2,29.9 1010.6,29.9 1011.0,29.9 1011.4,29.9 1011.8,29.9 1012.2,29.9 1012.6,29.9 1013.0,29.9 1013.4,29.9 1013.8,29.9 1014.2,29.9 1014.6,29.9 1015.0,29.9 1015.4,29.9 1015.8,29.9 1016.2,29.9 1016.6,29.9 1017.0,29.9 1017.4,29.9 1017.8,29.9 1018.2,29.9 1018.6,29.9 1019.0,29.9" fill="none" stroke="#333" stroke-width="1.05" stroke-linejoin="round" stroke-dasharray="3,0.9"/>
<polyline points="792.6,29.6 793.0,30.1 793.4,30.5 793.8,30.5 794.2,30.5 794.6,30.3 795.0,30.3 795.4,30.2 795.8,30.1 796.2,30.3 796.6,30.1 797.0,29.6 797.4,29.4 797.8,29.7 798.2,30.2 798.6,30.1 799.0,30.1 799.4,29.8 799.8,30.0 800.2,29.8 800.6,29.8 801.0,29.8 801.4,29.7 801.8,29.7 802.2,29.6 802.6,29.8 803.0,29.7 803.4,29.8 803.8,29.6 804.2,29.9 804.6,29.7 805.0,30.1 805.4,30.2 805.8,30.4 806.2,30.0 806.6,30.1 807.0,29.8 807.4,29.8 807.8,29.6 808.2,29.7 808.6,29.7 809.0,30.0 809.4,30.2 809.8,30.1 810.2,30.1 810.6,29.8 811.0,29.9 811.4,29.9 811.8,30.0 812.2,30.0 812.6,29.9 813.0,29.8 813.4,29.8 813.8,29.9 814.2,29.7 814.6,29.9 815.0,29.9 815.4,30.2 815.8,29.9 816.2,29.7 816.6,29.6 817.0,29.9 817.4,30.0 817.8,30.3 818.2,30.2 818.6,29.8 819.0,29.9 819.4,30.8 819.8,32.1 820.2,33.0 820.6,34.0 821.0,34.9 821.4,36.0 821.8,36.9 822.2,37.8 822.6,37.8 823.0,38.1 823.4,37.7 823.8,37.6 824.2,37.3 824.6,37.1 825.0,37.2 825.4,36.7 825.8,36.7 826.2,36.6 826.6,37.0 827.0,36.9 827.4,36.9 827.8,36.5 828.2,36.4 828.6,36.4 829.0,36.4 829.4,36.6 829.8,36.5 830.2,36.7 830.6,36.6 831.0,36.6 831.4,36.5 831.8,36.3 832.2,36.3 832.6,36.3 833.0,36.2 833.4,36.0 833.8,35.8 834.2,35.6 834.6,35.4 835.0,35.5 835.4,35.6 835.8,35.5 836.2,35.4 836.6,35.0 837.0,35.0 837.4,35.2 837.8,35.2 838.2,35.2 838.6,34.7 839.0,34.6 839.4,34.6 839.8,34.8 840.2,34.5 840.6,34.5 841.0,34.5 841.4,35.0 841.8,34.8 842.2,34.7 842.6,34.4 843.0,34.4 843.4,34.1 843.8,34.4 844.2,34.4 844.6,34.6 845.0,34.3 845.4,34.2 845.8,34.3 846.2,34.2 846.6,34.1 847.0,34.1 847.4,34.0 847.8,34.0 848.2,33.8 848.6,33.8 849.0,33.6 849.4,33.5 849.8,33.5 850.2,33.8 850.6,33.9 851.0,33.3 851.4,32.9 851.8,32.9 852.2,33.7 852.6,34.0 853.0,33.9 853.4,33.6 853.8,33.3 854.2,33.5 854.6,33.6 855.0,33.5 855.4,33.3 855.8,33.4 856.2,33.2 856.6,33.0 857.0,33.0 857.4,33.4 857.8,33.3 858.2,33.2 858.6,33.2 859.0,33.4 859.4,33.2 859.8,33.1 860.2,33.1 860.6,33.3 861.0,33.2 861.4,33.5 861.8,33.4 862.2,33.3 862.6,32.9 863.0,32.5 863.4,32.6 863.8,32.6 864.2,33.4 864.6,33.5 865.0,33.5 865.4,33.3 865.8,33.3 866.2,33.1 866.6,33.2 867.0,33.3 867.4,33.6 867.8,33.5 868.2,33.3 868.6,33.0 869.0,32.8 869.4,32.8 869.8,33.0 870.2,33.0 870.6,32.9 871.0,33.1 871.4,33.3 871.8,33.4 872.2,33.0 872.6,32.7 873.0,32.6 873.4,32.6 873.8,32.5 874.2,32.7 874.6,32.8 875.0,33.0 875.4,32.8 875.8,32.8 876.2,33.0 876.6,33.2 877.0,33.1 877.4,33.2 877.8,33.2 878.2,33.1 878.6,32.8 879.0,32.7 879.4,32.7 879.8,32.7 880.2,32.7 880.6,32.6 881.0,32.5 881.4,32.7 881.8,32.7 882.2,32.5 882.6,32.6 883.0,32.8 883.4,33.0 883.8,32.8 884.2,32.7 884.6,32.4 885.0,32.4 885.4,32.5 885.8,32.2 886.2,32.0 886.6,31.9 887.0,32.4 887.4,32.6 887.8,32.6 888.2,32.3 888.6,32.2 889.0,32.2 889.4,32.4 889.8,32.5 890.2,32.3 890.6,32.3 891.0,32.3 891.4,32.5 891.8,32.4 892.2,32.4 892.6,32.5 893.0,32.5 893.4,32.9 893.8,33.0 894.2,32.9 894.6,32.5 895.0,32.3 895.4,32.2 895.8,32.6 896.2,32.3 896.6,32.3 897.0,32.3 897.4,32.5 897.8,32.7 898.2,32.6 898.6,32.5 899.0,32.5 899.4,32.3 899.8,32.3 900.2,32.4 900.6,32.5 901.0,32.6 901.4,32.2 901.8,32.4 902.2,32.2 902.6,32.2 903.0,31.9 903.4,31.9 903.8,31.8 904.2,31.8 904.6,31.9 905.0,32.1 905.4,32.0 905.8,31.9 906.2,31.9 906.6,32.0 907.0,32.0 907.4,32.0 907.8,32.0 908.2,32.3 908.6,32.3 909.0,32.4 909.4,32.4 909.8,32.2 910.2,32.4 910.6,32.2 911.0,32.2 911.4,32.1 911.8,31.9 912.2,32.2 912.6,32.2 913.0,32.1 913.4,31.7 913.8,31.6 914.2,31.7 914.6,31.9 915.0,32.1 915.4,32.3 915.8,32.3 916.2,32.1 916.6,32.1 917.0,32.2 917.4,32.0 917.8,31.8 918.2,31.5 918.6,31.7 919.0,31.9 919.4,32.0 919.8,32.1 920.2,31.8 920.6,31.4 921.0,31.3 921.4,31.3 921.8,31.5 922.2,31.3 922.6,31.2 923.0,31.2 923.4,31.6 923.8,31.7 924.2,31.8 924.6,31.7 925.0,31.7 925.4,31.9 925.8,31.8 926.2,31.9 926.6,31.5 927.0,31.8 927.4,31.8 927.8,32.2 928.2,32.0 928.6,31.9 929.0,31.5 929.4,31.5 929.8,31.8 930.2,31.5 930.6,31.7 931.0,31.4 931.4,31.9 931.8,31.5 932.2,31.6 932.6,31.6 933.0,31.7 933.4,32.0 933.8,31.9 934.2,32.0 934.6,31.6 935.0,31.5 935.4,31.4 935.8,31.5 936.2,31.8 936.6,31.9 937.0,31.6 937.4,31.3 937.8,31.1 938.2,31.3 938.6,31.4 939.0,31.4 939.4,31.3 939.8,31.4 940.2,31.7 940.6,31.6 941.0,31.6 941.4,31.6 941.8,31.6 942.2,31.5 942.6,31.7 943.0,31.6 943.4,31.8 943.8,31.5 944.2,31.7 944.6,31.6 945.0,31.7 945.4,31.6 945.8,31.5 946.2,31.6 946.6,31.7 947.0,31.5 947.4,31.4 947.8,31.5 948.2,31.9 948.6,31.9 949.0,31.4 949.4,31.4 949.8,31.4 950.2,31.9 950.6,31.7 951.0,31.5 951.4,30.8 951.8,30.1 952.2,29.0 952.6,28.1 953.0,27.2 953.4,26.5 953.8,25.9 954.2,25.0 954.6,24.1 955.0,23.2 955.4,22.3 955.8,21.9 956.2,22.1 956.6,22.5 957.0,22.5 957.4,22.8 957.8,23.2 958.2,23.6 958.6,23.8 959.0,24.0 959.4,23.8 959.8,23.7 960.2,23.4 960.6,23.2 961.0,23.0 961.4,22.9 961.8,22.7 962.2,22.4 962.6,22.4 963.0,22.4 963.4,22.7 963.8,22.5 964.2,22.9 964.6,23.0 965.0,23.0 965.4,23.0 965.8,23.0 966.2,23.4 966.6,23.5 967.0,23.9 967.4,24.1 967.8,24.1 968.2,24.3 968.6,24.8 969.0,24.9 969.4,24.9 969.8,24.6 970.2,24.8 970.6,24.5 971.0,24.3 971.4,24.5 971.8,24.7 972.2,24.8 972.6,24.9 973.0,25.1 973.4,25.3 973.8,24.9 974.2,24.8 974.6,24.9 975.0,24.8 975.4,24.6 975.8,24.3 976.2,24.8 976.6,25.1 977.0,25.3 977.4,25.2 977.8,25.2 978.2,25.4 978.6,25.9 979.0,26.0 979.4,26.0 979.8,25.5 980.2,25.7 980.6,25.5 981.0,25.7 981.4,25.4 981.8,25.3 982.2,25.2 982.6,25.2 983.0,25.1 983.4,25.5 983.8,25.8 984.2,26.1 984.6,26.0 985.0,25.7 985.4,25.6 985.8,25.4 986.2,25.5 986.6,25.6 987.0,25.7 987.4,25.9 987.8,26.0 988.2,25.9 988.6,26.0 989.0,26.1 989.4,26.5 989.8,26.7 990.2,26.5 990.6,26.3 991.0,26.3 991.4,26.5 991.8,26.7 992.2,26.8 992.6,26.7 993.0,26.5 993.4,26.1 993.8,26.2 994.2,26.4 994.6,26.5 995.0,26.4 995.4,26.3 995.8,26.4 996.2,26.7 996.6,26.7 997.0,27.2 997.4,26.9 997.8,26.9 998.2,26.6 998.6,27.0 999.0,27.1 999.4,27.2 999.8,26.5 1000.2,26.6 1000.6,26.4 1001.0,26.7 1001.4,26.8 1001.8,27.0 1002.2,27.2 1002.6,26.9 1003.0,26.9 1003.4,26.9 1003.8,27.1 1004.2,27.2 1004.6,27.1 1005.0,26.8 1005.4,26.6 1005.8,26.6 1006.2,26.8 1006.6,27.1 1007.0,27.2 1007.4,27.4 1007.8,27.2 1008.2,27.1 1008.6,27.0 1009.0,27.2 1009.4,26.8 1009.8,26.6 1010.2,26.7 1010.6,27.1 1011.0,27.2 1011.4,27.1 1011.8,27.2 1012.2,27.2 1012.6,27.4 1013.0,27.3 1013.4,27.4 1013.8,27.4 1014.2,27.3 1014.6,27.1 1015.0,27.3 1015.4,27.3 1015.8,27.5 1016.2,27.1 1016.6,27.1 1017.0,27.0 1017.4,27.2 1017.8,27.0 1018.2,27.0 1018.6,27.3 1019.0,27.7" fill="none" stroke="#ff1a1a" stroke-width="1.70" stroke-linejoin="round" />
<line x1="792.60" y1="65.90" x2="792.60" y2="63.60" stroke="#3a3a3a" stroke-width="1.00"/>
<line x1="792.60" y1="9.00" x2="792.60" y2="11.30" stroke="#3a3a3a" stroke-width="1.00"/>
<line x1="819.24" y1="65.90" x2="819.24" y2="63.60" stroke="#3a3a3a" stroke-width="1.00"/>
<line x1="819.24" y1="9.00" x2="819.24" y2="11.30" stroke="#3a3a3a" stroke-width="1.00"/>
<line x1="845.87" y1="65.90" x2="845.87" y2="63.60" stroke="#3a3a3a" stroke-width="1.00"/>
<line x1="845.87" y1="9.00" x2="845.87" y2="11.30" stroke="#3a3a3a" stroke-width="1.00"/>
<line x1="872.51" y1="65.90" x2="872.51" y2="63.60" stroke="#3a3a3a" stroke-width="1.00"/>
<line x1="872.51" y1="9.00" x2="872.51" y2="11.30" stroke="#3a3a3a" stroke-width="1.00"/>
<line x1="899.14" y1="65.90" x2="899.14" y2="63.60" stroke="#3a3a3a" stroke-width="1.00"/>
<line x1="899.14" y1="9.00" x2="899.14" y2="11.30" stroke="#3a3a3a" stroke-width="1.00"/>
<line x1="925.78" y1="65.90" x2="925.78" y2="63.60" stroke="#3a3a3a" stroke-width="1.00"/>
<line x1="925.78" y1="9.00" x2="925.78" y2="11.30" stroke="#3a3a3a" stroke-width="1.00"/>
<line x1="952.41" y1="65.90" x2="952.41" y2="63.60" stroke="#3a3a3a" stroke-width="1.00"/>
<line x1="952.41" y1="9.00" x2="952.41" y2="11.30" stroke="#3a3a3a" stroke-width="1.00"/>
<line x1="979.05" y1="65.90" x2="979.05" y2="63.60" stroke="#3a3a3a" stroke-width="1.00"/>
<line x1="979.05" y1="9.00" x2="979.05" y2="11.30" stroke="#3a3a3a" stroke-width="1.00"/>
<line x1="1005.68" y1="65.90" x2="1005.68" y2="63.60" stroke="#3a3a3a" stroke-width="1.00"/>
<line x1="1005.68" y1="9.00" x2="1005.68" y2="11.30" stroke="#3a3a3a" stroke-width="1.00"/>
<line x1="792.60" y1="16.11" x2="794.90" y2="16.11" stroke="#3a3a3a" stroke-width="1.00"/>
<line x1="1019.00" y1="16.11" x2="1016.70" y2="16.11" stroke="#3a3a3a" stroke-width="1.00"/>
<g transform="translate(791.20,19.11) scale(0.930,1)">
<text x="0.00" y="0.00" font-size="9.80" text-anchor="end" fill="#111" stroke="#111" stroke-width="0.12">0.02</text>
</g>
<line x1="792.60" y1="30.34" x2="794.90" y2="30.34" stroke="#3a3a3a" stroke-width="1.00"/>
<line x1="1019.00" y1="30.34" x2="1016.70" y2="30.34" stroke="#3a3a3a" stroke-width="1.00"/>
<g transform="translate(791.20,33.34) scale(0.930,1)">
<text x="0.00" y="0.00" font-size="9.80" text-anchor="end" fill="#111" stroke="#111" stroke-width="0.12">0</text>
</g>
<line x1="792.60" y1="44.56" x2="794.90" y2="44.56" stroke="#3a3a3a" stroke-width="1.00"/>
<line x1="1019.00" y1="44.56" x2="1016.70" y2="44.56" stroke="#3a3a3a" stroke-width="1.00"/>
<g transform="translate(791.20,47.56) scale(0.930,1)">
<text x="0.00" y="0.00" font-size="9.80" text-anchor="end" fill="#111" stroke="#111" stroke-width="0.12">-0.02</text>
</g>
<line x1="792.60" y1="58.79" x2="794.90" y2="58.79" stroke="#3a3a3a" stroke-width="1.00"/>
<line x1="1019.00" y1="58.79" x2="1016.70" y2="58.79" stroke="#3a3a3a" stroke-width="1.00"/>
<g transform="translate(791.20,61.79) scale(0.930,1)">
<text x="0.00" y="0.00" font-size="9.80" text-anchor="end" fill="#111" stroke="#111" stroke-width="0.12">-0.04</text>
</g>
<rect x="792.60" y="9.00" width="226.40" height="56.90" fill="none" stroke="#3a3a3a" stroke-width="1"/>
<polyline points="792.6,104.7 793.0,104.7 793.4,104.7 793.8,104.7 794.2,104.7 794.6,104.7 795.0,104.7 795.4,104.7 795.8,104.7 796.2,104.7 796.6,104.7 797.0,104.7 797.4,104.7 797.8,104.7 798.2,104.7 798.6,104.7 799.0,104.7 799.4,104.7 799.8,104.7 800.2,104.7 800.6,104.7 801.0,104.7 801.4,104.7 801.8,104.7 802.2,104.7 802.6,104.7 803.0,104.7 803.4,104.7 803.8,104.7 804.2,104.7 804.6,104.7 805.0,104.7 805.4,104.7 805.8,104.7 806.2,104.7 806.6,104.7 807.0,104.7 807.4,104.7 807.8,104.7 808.2,104.7 808.6,104.7 809.0,104.7 809.4,104.7 809.8,104.7 810.2,104.7 810.6,104.7 811.0,104.7 811.4,104.7 811.8,104.7 812.2,104.7 812.6,104.7 813.0,104.7 813.4,104.7 813.8,104.7 814.2,104.7 814.6,104.7 815.0,104.7 815.4,104.7 815.8,104.7 816.2,104.7 816.6,104.7 817.0,104.7 817.4,104.7 817.8,104.7 818.2,104.7 818.6,104.7 819.0,105.8 819.4,108.6 819.8,111.4 820.2,114.1 820.6,116.9 821.0,119.7 821.4,122.5 821.8,125.2 822.2,128.0 822.6,130.8 823.0,131.7 823.4,131.7 823.8,131.7 824.2,131.7 824.6,131.7 825.0,131.7 825.4,131.7 825.8,131.7 826.2,131.7 826.6,131.7 827.0,131.7 827.4,131.7 827.8,131.7 828.2,131.7 828.6,131.7 829.0,131.7 829.4,131.7 829.8,131.7 830.2,131.7 830.6,131.7 831.0,131.7 831.4,131.7 831.8,131.7 832.2,131.7 832.6,131.7 833.0,131.7 833.4,131.7 833.8,131.7 834.2,131.7 834.6,131.7 835.0,131.7 835.4,131.7 835.8,131.7 836.2,131.7 836.6,131.7 837.0,131.7 837.4,131.7 837.8,131.7 838.2,131.7 838.6,131.7 839.0,131.7 839.4,131.7 839.8,131.7 840.2,131.7 840.6,131.7 841.0,131.7 841.4,131.7 841.8,131.7 842.2,131.7 842.6,131.7 843.0,131.7 843.4,131.7 843.8,131.7 844.2,131.7 844.6,131.7 845.0,131.7 845.4,131.7 845.8,131.7 846.2,131.7 846.6,131.7 847.0,131.7 847.4,131.7 847.8,131.7 848.2,131.7 848.6,131.7 849.0,131.7 849.4,131.7 849.8,131.7 850.2,131.7 850.6,131.7 851.0,131.7 851.4,131.7 851.8,131.7 852.2,131.7 852.6,131.7 853.0,131.7 853.4,131.7 853.8,131.7 854.2,131.7 854.6,131.7 855.0,131.7 855.4,131.7 855.8,131.7 856.2,131.7 856.6,131.7 857.0,131.7 857.4,131.7 857.8,131.7 858.2,131.7 858.6,131.7 859.0,131.7 859.4,131.7 859.8,131.7 860.2,131.7 860.6,131.7 861.0,131.7 861.4,131.7 861.8,131.7 862.2,131.7 862.6,131.7 863.0,131.7 863.4,131.7 863.8,131.7 864.2,131.7 864.6,131.7 865.0,131.7 865.4,131.7 865.8,131.7 866.2,131.7 866.6,131.7 867.0,131.7 867.4,131.7 867.8,131.7 868.2,131.7 868.6,131.7 869.0,131.7 869.4,131.7 869.8,131.7 870.2,131.7 870.6,131.7 871.0,131.7 871.4,131.7 871.8,131.7 872.2,131.7 872.6,131.7 873.0,131.7 873.4,131.7 873.8,131.7 874.2,131.7 874.6,131.7 875.0,131.7 875.4,131.7 875.8,131.7 876.2,131.7 876.6,131.7 877.0,131.7 877.4,131.7 877.8,131.7 878.2,131.7 878.6,131.7 879.0,131.7 879.4,131.7 879.8,131.7 880.2,131.7 880.6,131.7 881.0,131.7 881.4,131.7 881.8,131.7 882.2,131.7 882.6,131.7 883.0,131.7 883.4,131.7 883.8,131.7 884.2,131.7 884.6,131.7 885.0,131.7 885.4,131.7 885.8,131.7 886.2,131.7 886.6,131.7 887.0,131.7 887.4,131.7 887.8,131.7 888.2,131.7 888.6,131.7 889.0,131.7 889.4,131.7 889.8,131.7 890.2,131.7 890.6,131.7 891.0,131.7 891.4,131.7 891.8,131.7 892.2,131.7 892.6,131.7 893.0,131.7 893.4,131.7 893.8,131.7 894.2,131.7 894.6,131.7 895.0,131.7 895.4,131.7 895.8,131.7 896.2,131.7 896.6,131.7 897.0,131.7 897.4,131.7 897.8,131.7 898.2,131.7 898.6,131.7 899.0,131.7 899.4,131.7 899.8,131.7 900.2,131.7 900.6,131.7 901.0,131.7 901.4,131.7 901.8,131.7 902.2,131.7 902.6,131.7 903.0,131.7 903.4,131.7 903.8,131.7 904.2,131.7 904.6,131.7 905.0,131.7 905.4,131.7 905.8,131.7 906.2,131.7 906.6,131.7 907.0,131.7 907.4,131.7 907.8,131.7 908.2,131.7 908.6,131.7 909.0,131.7 909.4,131.7 909.8,131.7 910.2,131.7 910.6,131.7 911.0,131.7 911.4,131.7 911.8,131.7 912.2,131.7 912.6,131.7 913.0,131.7 913.4,131.7 913.8,131.7 914.2,131.7 914.6,131.7 915.0,131.7 915.4,131.7 915.8,131.7 916.2,131.7 916.6,131.7 917.0,131.7 917.4,131.7 917.8,131.7 918.2,131.7 918.6,131.7 919.0,131.7 919.4,131.7 919.8,131.7 920.2,131.7 920.6,131.7 921.0,131.7 921.4,131.7 921.8,131.7 922.2,131.7 922.6,131.7 923.0,131.7 923.4,131.7 923.8,131.7 924.2,131.7 924.6,131.7 925.0,131.7 925.4,131.7 925.8,131.7 926.2,131.7 926.6,131.7 927.0,131.7 927.4,131.7 927.8,131.7 928.2,131.7 928.6,131.7 929.0,131.7 929.4,131.7 929.8,131.7 930.2,131.7 930.6,131.7 931.0,131.7 931.4,131.7 931.8,131.7 932.2,131.7 932.6,131.7 933.0,131.7 933.4,131.7 933.8,131.7 934.2,131.7 934.6,131.7 935.0,131.7 935.4,131.7 935.8,131.7 936.2,131.7 936.6,131.7 937.0,131.7 937.4,131.7 937.8,131.7 938.2,131.7 938.6,131.7 939.0,131.7 939.4,131.7 939.8,131.7 940.2,131.7 940.6,131.7 941.0,131.7 941.4,131.7 941.8,131.7 942.2,131.7 942.6,131.7 943.0,131.7 943.4,131.7 943.8,131.7 944.2,131.7 944.6,131.7 945.0,131.7 945.4,131.7 945.8,131.7 946.2,131.7 946.6,131.7 947.0,131.7 947.4,131.7 947.8,131.7 948.2,131.7 948.6,131.7 949.0,131.7 949.4,131.7 949.8,131.7 950.2,131.7 950.6,131.7 951.0,131.7 951.4,131.7 951.8,130.4 952.2,127.6 952.6,124.8 953.0,122.1 953.4,119.3 953.8,116.5 954.2,113.7 954.6,110.9 955.0,108.2 955.4,105.4" fill="none" stroke="#222" stroke-width="1.00" stroke-linejoin="round" />
<polyline points="955.8,104.6 956.2,104.6 956.6,104.6 957.0,104.6 957.4,104.6 957.8,104.6 958.2,104.6 958.6,104.6 959.0,104.6 959.4,104.6 959.8,104.6 960.2,104.6 960.6,104.6 961.0,104.6 961.4,104.6 961.8,104.6 962.2,104.6 962.6,104.6 963.0,104.6 963.4,104.6 963.8,104.6 964.2,104.6 964.6,104.6 965.0,104.6 965.4,104.6 965.8,104.6 966.2,104.6 966.6,104.6 967.0,104.6 967.4,104.6 967.8,104.6 968.2,104.6 968.6,104.6 969.0,104.6 969.4,104.6 969.8,104.6 970.2,104.6 970.6,104.6 971.0,104.6 971.4,104.6 971.8,104.6 972.2,104.6 972.6,104.6 973.0,104.6 973.4,104.6 973.8,104.6 974.2,104.6 974.6,104.6 975.0,104.6 975.4,104.6 975.8,104.6 976.2,104.6 976.6,104.6 977.0,104.6 977.4,104.6 977.8,104.6 978.2,104.6 978.6,104.6 979.0,104.6 979.4,104.6 979.8,104.6 980.2,104.6 980.6,104.6 981.0,104.6 981.4,104.6 981.8,104.6 982.2,104.6 982.6,104.6 983.0,104.6 983.4,104.6 983.8,104.6 984.2,104.6 984.6,104.6 985.0,104.6 985.4,104.6 985.8,104.6 986.2,104.6 986.6,104.6 987.0,104.6 987.4,104.6 987.8,104.6 988.2,104.6 988.6,104.6 989.0,104.6 989.4,104.6 989.8,104.6 990.2,104.6 990.6,104.6 991.0,104.6 991.4,104.6 991.8,104.6 992.2,104.6 992.6,104.6 993.0,104.6 993.4,104.6 993.8,104.6 994.2,104.6 994.6,104.6 995.0,104.6 995.4,104.6 995.8,104.6 996.2,104.6 996.6,104.6 997.0,104.6 997.4,104.6 997.8,104.6 998.2,104.6 998.6,104.6 999.0,104.6 999.4,104.6 999.8,104.6 1000.2,104.6 1000.6,104.6 1001.0,104.6 1001.4,104.6 1001.8,104.6 1002.2,104.6 1002.6,104.6 1003.0,104.6 1003.4,104.6 1003.8,104.6 1004.2,104.6 1004.6,104.6 1005.0,104.6 1005.4,104.6 1005.8,104.6 1006.2,104.6 1006.6,104.6 1007.0,104.6 1007.4,104.6 1007.8,104.6 1008.2,104.6 1008.6,104.6 1009.0,104.6 1009.4,104.6 1009.8,104.6 1010.2,104.6 1010.6,104.6 1011.0,104.6 1011.4,104.6 1011.8,104.6 1012.2,104.6 1012.6,104.6 1013.0,104.6 1013.4,104.6 1013.8,104.6 1014.2,104.6 1014.6,104.6 1015.0,104.6 1015.4,104.6 1015.8,104.6 1016.2,104.6 1016.6,104.6 1017.0,104.6 1017.4,104.6 1017.8,104.6 1018.2,104.6 1018.6,104.6 1019.0,104.6" fill="none" stroke="#333" stroke-width="1.05" stroke-linejoin="round" stroke-dasharray="3,0.9"/>
<polyline points="792.6,104.3 793.0,104.4 793.4,104.4 793.8,104.5 794.2,104.6 794.6,104.9 795.0,105.1 795.4,104.7 795.8,104.4 796.2,104.5 796.6,104.6 797.0,104.9 797.4,104.7 797.8,105.0 798.2,104.8 798.6,104.6 799.0,104.3 799.4,104.6 799.8,104.7 800.2,104.7 800.6,104.6 801.0,104.4 801.4,104.5 801.8,104.5 802.2,104.8 802.6,104.8 803.0,104.8 803.4,104.4 803.8,104.3 804.2,104.3 804.6,104.7 805.0,104.7 805.4,104.8 805.8,104.9 806.2,105.1 806.6,105.3 807.0,105.3 807.4,105.0 807.8,104.5 808.2,104.5 808.6,104.3 809.0,104.8 809.4,104.8 809.8,105.0 810.2,104.9 810.6,104.6 811.0,104.5 811.4,104.5 811.8,104.5 812.2,104.7 812.6,104.5 813.0,104.9 813.4,104.9 813.8,105.2 814.2,105.1 814.6,104.9 815.0,104.5 815.4,104.1 815.8,104.2 816.2,103.9 816.6,104.1 817.0,103.8 817.4,104.1 817.8,104.3 818.2,104.6 818.6,104.6 819.0,105.0 819.4,106.6 819.8,107.9 820.2,109.4 820.6,110.8 821.0,112.3 821.4,113.6 821.8,113.4 822.2,113.0 822.6,112.6 823.0,111.6 823.4,110.8 823.8,109.9 824.2,109.2 824.6,108.5 825.0,108.0 825.4,107.6 825.8,108.0 826.2,108.7 826.6,109.4 827.0,109.8 827.4,110.6 827.8,110.4 828.2,110.7 828.6,110.2 829.0,110.5 829.4,110.4 829.8,110.7 830.2,110.5 830.6,110.3 831.0,110.3 831.4,110.3 831.8,110.3 832.2,110.0 832.6,109.9 833.0,109.9 833.4,110.2 833.8,110.4 834.2,110.4 834.6,110.2 835.0,110.1 835.4,109.9 835.8,110.0 836.2,109.9 836.6,109.7 837.0,109.5 837.4,109.3 837.8,109.6 838.2,109.6 838.6,109.7 839.0,109.6 839.4,109.7 839.8,109.5 840.2,109.2 840.6,108.9 841.0,109.1 841.4,109.6 841.8,109.8 842.2,109.8 842.6,109.5 843.0,109.0 843.4,108.7 843.8,108.7 844.2,108.9 844.6,109.1 845.0,109.1 845.4,109.1 845.8,109.1 846.2,109.0 846.6,108.7 847.0,108.9 847.4,108.7 847.8,108.9 848.2,108.8 848.6,108.8 849.0,108.6 849.4,108.6 849.8,108.7 850.2,108.7 850.6,108.5 851.0,108.8 851.4,108.9 851.8,108.8 852.2,108.4 852.6,108.0 853.0,108.1 853.4,108.0 853.8,108.1 854.2,108.1 854.6,108.2 855.0,108.2 855.4,108.1 855.8,108.4 856.2,108.2 856.6,108.2 857.0,108.0 857.4,108.2 857.8,107.9 858.2,108.0 858.6,107.8 859.0,108.0 859.4,107.8 859.8,108.2 860.2,108.2 860.6,108.6 861.0,108.2 861.4,108.1 861.8,108.0 862.2,108.0 862.6,108.0 863.0,107.9 863.4,107.9 863.8,107.7 864.2,107.4 864.6,107.6 865.0,107.7 865.4,107.9 865.8,107.7 866.2,107.5 866.6,107.1 867.0,107.0 867.4,107.0 867.8,107.1 868.2,106.9 868.6,106.9 869.0,106.8 869.4,107.0 869.8,107.0 870.2,107.0 870.6,106.9 871.0,107.1 871.4,107.1 871.8,106.9 872.2,106.4 872.6,106.1 873.0,106.1 873.4,106.5 873.8,107.0 874.2,107.1 874.6,106.7 875.0,106.5 875.4,106.1 875.8,106.1 876.2,105.8 876.6,105.9 877.0,106.1 877.4,106.6 877.8,106.5 878.2,106.3 878.6,105.7 879.0,105.5 879.4,105.6 879.8,106.0 880.2,106.2 880.6,106.0 881.0,106.1 881.4,106.0 881.8,105.9 882.2,106.1 882.6,106.0 883.0,106.1 883.4,105.6 883.8,106.0 884.2,105.9 884.6,105.9 885.0,105.7 885.4,105.8 885.8,105.8 886.2,105.6 886.6,105.5 887.0,105.6 887.4,105.9 887.8,105.9 888.2,105.8 888.6,105.8 889.0,105.9 889.4,106.2 889.8,106.2 890.2,105.9 890.6,105.7 891.0,105.7 891.4,106.0 891.8,106.1 892.2,106.0 892.6,106.2 893.0,106.1 893.4,106.4 893.8,106.1 894.2,105.8 894.6,105.4 895.0,106.0 895.4,106.4 895.8,106.5 896.2,106.1 896.6,106.1 897.0,106.2 897.4,106.2 897.8,106.6 898.2,106.7 898.6,106.8 899.0,106.6 899.4,106.5 899.8,106.3 900.2,106.4 900.6,106.2 901.0,106.5 901.4,106.3 901.8,106.6 902.2,106.7 902.6,106.7 903.0,106.5 903.4,106.3 903.8,106.3 904.2,106.3 904.6,106.3 905.0,106.2 905.4,106.2 905.8,106.3 906.2,106.3 906.6,106.4 907.0,106.2 907.4,106.0 907.8,106.1 908.2,106.4 908.6,106.6 909.0,106.6 909.4,106.5 909.8,106.4 910.2,106.4 910.6,106.1 911.0,106.3 911.4,106.2 911.8,106.4 912.2,106.6 912.6,106.4 913.0,106.8 913.4,106.5 913.8,106.7 914.2,106.5 914.6,106.9 915.0,106.9 915.4,107.0 915.8,106.8 916.2,106.8 916.6,106.6 917.0,106.5 917.4,106.7 917.8,106.9 918.2,106.9 918.6,106.7 919.0,106.7 919.4,106.5 919.8,106.5 920.2,106.1 920.6,106.1 921.0,106.1 921.4,106.2 921.8,106.2 922.2,106.3 922.6,106.6 923.0,107.0 923.4,107.0 923.8,107.0 924.2,107.0 924.6,106.9 925.0,107.0 925.4,106.6 925.8,106.6 926.2,106.5 926.6,106.9 927.0,106.9 927.4,106.7 927.8,106.7 928.2,106.7 928.6,106.6 929.0,106.7 929.4,106.6 929.8,106.8 930.2,106.4 930.6,106.1 931.0,106.1 931.4,106.6 931.8,106.7 932.2,106.5 932.6,106.4 933.0,106.8 933.4,106.8 933.8,106.8 934.2,106.6 934.6,106.8 935.0,106.9 935.4,107.1 935.8,106.6 936.2,106.7 936.6,106.7 937.0,107.1 937.4,107.1 937.8,107.3 938.2,107.3 938.6,107.1 939.0,107.0 939.4,107.0 939.8,106.8 940.2,106.5 940.6,106.3 941.0,106.3 941.4,106.8 941.8,106.9 942.2,107.1 942.6,106.9 943.0,107.3 943.4,107.1 943.8,107.5 944.2,107.3 944.6,107.3 945.0,106.9 945.4,106.5 945.8,106.6 946.2,106.5 946.6,106.9 947.0,106.8 947.4,106.4 947.8,106.0 948.2,105.9 948.6,106.1 949.0,106.7 949.4,106.6 949.8,106.8 950.2,106.7 950.6,107.1 951.0,107.0 951.4,107.1 951.8,106.0 952.2,104.6 952.6,103.1 953.0,101.8 953.4,100.4 953.8,98.6 954.2,97.1 954.6,95.6 955.0,95.9 955.4,96.9 955.8,97.8 956.2,98.6 956.6,99.1 957.0,99.8 957.4,100.6 957.8,101.2 958.2,100.7 958.6,100.5 959.0,100.2 959.4,100.0 959.8,99.6 960.2,98.8 960.6,98.4 961.0,97.8 961.4,98.2 961.8,98.6 962.2,99.0 962.6,99.4 963.0,99.3 963.4,99.4 963.8,99.7 964.2,100.5 964.6,100.8 965.0,101.1 965.4,101.1 965.8,100.9 966.2,100.5 966.6,100.3 967.0,100.4 967.4,100.6 967.8,100.5 968.2,100.5 968.6,100.0 969.0,99.6 969.4,99.3 969.8,99.7 970.2,100.2 970.6,100.2 971.0,100.0 971.4,99.4 971.8,99.8 972.2,99.7 972.6,100.2 973.0,100.3 973.4,100.3 973.8,100.1 974.2,100.0 974.6,100.5 975.0,100.6 975.4,100.4 975.8,100.3 976.2,100.6 976.6,100.6 977.0,100.5 977.4,100.5 977.8,100.8 978.2,100.8 978.6,100.7 979.0,100.8 979.4,101.1 979.8,101.2 980.2,101.1 980.6,100.8 981.0,100.9 981.4,101.0 981.8,101.3 982.2,101.3 982.6,101.3 983.0,101.4 983.4,101.4 983.8,101.3 984.2,101.3 984.6,101.4 985.0,101.5 985.4,101.5 985.8,101.6 986.2,101.7 986.6,101.5 987.0,101.8 987.4,101.7 987.8,102.1 988.2,101.8 988.6,101.9 989.0,101.7 989.4,102.1 989.8,102.3 990.2,102.4 990.6,102.1 991.0,102.3 991.4,102.4 991.8,102.7 992.2,102.6 992.6,102.6 993.0,102.7 993.4,102.8 993.8,103.1 994.2,103.1 994.6,102.9 995.0,102.9 995.4,102.9 995.8,103.1 996.2,102.5 996.6,102.3 997.0,102.4 997.4,102.8 997.8,102.9 998.2,103.0 998.6,103.1 999.0,102.9 999.4,102.9 999.8,102.9 1000.2,103.0 1000.6,102.7 1001.0,102.4 1001.4,102.6 1001.8,102.8 1002.2,102.7 1002.6,102.6 1003.0,102.6 1003.4,103.0 1003.8,103.1 1004.2,103.1 1004.6,102.9 1005.0,102.6 1005.4,102.4 1005.8,102.7 1006.2,102.7 1006.6,103.0 1007.0,102.5 1007.4,102.6 1007.8,102.4 1008.2,102.5 1008.6,102.7 1009.0,102.5 1009.4,102.6 1009.8,102.8 1010.2,102.7 1010.6,102.8 1011.0,102.7 1011.4,103.0 1011.8,102.6 1012.2,102.7 1012.6,102.4 1013.0,102.7 1013.4,102.5 1013.8,102.5 1014.2,102.4 1014.6,102.4 1015.0,102.5 1015.4,102.8 1015.8,102.8 1016.2,102.9 1016.6,102.8 1017.0,103.0 1017.4,102.7 1017.8,102.7 1018.2,102.5 1018.6,102.7 1019.0,102.8" fill="none" stroke="#ff1a1a" stroke-width="1.70" stroke-linejoin="round" />
<line x1="792.60" y1="142.70" x2="792.60" y2="140.40" stroke="#3a3a3a" stroke-width="1.00"/>
<line x1="792.60" y1="86.10" x2="792.60" y2="88.40" stroke="#3a3a3a" stroke-width="1.00"/>
<line x1="819.24" y1="142.70" x2="819.24" y2="140.40" stroke="#3a3a3a" stroke-width="1.00"/>
<line x1="819.24" y1="86.10" x2="819.24" y2="88.40" stroke="#3a3a3a" stroke-width="1.00"/>
<line x1="845.87" y1="142.70" x2="845.87" y2="140.40" stroke="#3a3a3a" stroke-width="1.00"/>
<line x1="845.87" y1="86.10" x2="845.87" y2="88.40" stroke="#3a3a3a" stroke-width="1.00"/>
<line x1="872.51" y1="142.70" x2="872.51" y2="140.40" stroke="#3a3a3a" stroke-width="1.00"/>
<line x1="872.51" y1="86.10" x2="872.51" y2="88.40" stroke="#3a3a3a" stroke-width="1.00"/>
<line x1="899.14" y1="142.70" x2="899.14" y2="140.40" stroke="#3a3a3a" stroke-width="1.00"/>
<line x1="899.14" y1="86.10" x2="899.14" y2="88.40" stroke="#3a3a3a" stroke-width="1.00"/>
<line x1="925.78" y1="142.70" x2="925.78" y2="140.40" stroke="#3a3a3a" stroke-width="1.00"/>
<line x1="925.78" y1="86.10" x2="925.78" y2="88.40" stroke="#3a3a3a" stroke-width="1.00"/>
<line x1="952.41" y1="142.70" x2="952.41" y2="140.40" stroke="#3a3a3a" stroke-width="1.00"/>
<line x1="952.41" y1="86.10" x2="952.41" y2="88.40" stroke="#3a3a3a" stroke-width="1.00"/>
<line x1="979.05" y1="142.70" x2="979.05" y2="140.40" stroke="#3a3a3a" stroke-width="1.00"/>
<line x1="979.05" y1="86.10" x2="979.05" y2="88.40" stroke="#3a3a3a" stroke-width="1.00"/>
<line x1="1005.68" y1="142.70" x2="1005.68" y2="140.40" stroke="#3a3a3a" stroke-width="1.00"/>
<line x1="1005.68" y1="86.10" x2="1005.68" y2="88.40" stroke="#3a3a3a" stroke-width="1.00"/>
<line x1="792.60" y1="86.10" x2="794.90" y2="86.10" stroke="#3a3a3a" stroke-width="1.00"/>
<line x1="1019.00" y1="86.10" x2="1016.70" y2="86.10" stroke="#3a3a3a" stroke-width="1.00"/>
<g transform="translate(791.20,89.10) scale(0.930,1)">
<text x="0.00" y="0.00" font-size="9.80" text-anchor="end" fill="#111" stroke="#111" stroke-width="0.12">0.02</text>
</g>
<line x1="792.60" y1="104.97" x2="794.90" y2="104.97" stroke="#3a3a3a" stroke-width="1.00"/>
<line x1="1019.00" y1="104.97" x2="1016.70" y2="104.97" stroke="#3a3a3a" stroke-width="1.00"/>
<g transform="translate(791.20,107.97) scale(0.930,1)">
<text x="0.00" y="0.00" font-size="9.80" text-anchor="end" fill="#111" stroke="#111" stroke-width="0.12">0</text>
</g>
<line x1="792.60" y1="123.83" x2="794.90" y2="123.83" stroke="#3a3a3a" stroke-width="1.00"/>
<line x1="1019.00" y1="123.83" x2="1016.70" y2="123.83" stroke="#3a3a3a" stroke-width="1.00"/>
<g transform="translate(791.20,126.83) scale(0.930,1)">
<text x="0.00" y="0.00" font-size="9.80" text-anchor="end" fill="#111" stroke="#111" stroke-width="0.12">-0.02</text>
</g>
<line x1="792.60" y1="142.70" x2="794.90" y2="142.70" stroke="#3a3a3a" stroke-width="1.00"/>
<line x1="1019.00" y1="142.70" x2="1016.70" y2="142.70" stroke="#3a3a3a" stroke-width="1.00"/>
<g transform="translate(791.20,145.70) scale(0.930,1)">
<text x="0.00" y="0.00" font-size="9.80" text-anchor="end" fill="#111" stroke="#111" stroke-width="0.12">-0.04</text>
</g>
<rect x="792.60" y="86.10" width="226.40" height="56.60" fill="none" stroke="#3a3a3a" stroke-width="1"/>
<polyline points="792.6,196.6 793.0,196.6 793.4,196.6 793.8,196.6 794.2,196.6 794.6,196.6 795.0,196.6 795.4,196.6 795.8,196.6 796.2,196.6 796.6,196.6 797.0,196.6 797.4,196.6 797.8,196.6 798.2,196.6 798.6,196.6 799.0,196.6 799.4,196.6 799.8,196.6 800.2,196.6 800.6,196.6 801.0,196.6 801.4,196.6 801.8,196.6 802.2,196.6 802.6,196.6 803.0,196.6 803.4,196.6 803.8,196.6 804.2,196.6 804.6,196.6 805.0,196.6 805.4,196.6 805.8,196.6 806.2,196.6 806.6,196.6 807.0,196.6 807.4,196.6 807.8,196.6 808.2,196.6 808.6,196.6 809.0,196.6 809.4,196.6 809.8,196.6 810.2,196.6 810.6,196.6 811.0,196.6 811.4,196.6 811.8,196.6 812.2,196.6 812.6,196.6 813.0,196.6 813.4,196.6 813.8,196.6 814.2,196.6 814.6,196.6 815.0,196.6 815.4,196.6 815.8,196.6 816.2,196.6 816.6,196.6 817.0,196.6 817.4,196.6 817.8,196.6 818.2,196.6 818.6,196.6 819.0,196.6 819.4,196.6 819.8,196.6 820.2,195.3 820.6,192.1 821.0,188.9 821.4,185.7 821.8,182.5 822.2,179.3 822.6,177.5 823.0,177.7 823.4,177.8 823.8,178.0 824.2,178.2 824.6,178.2 825.0,178.2 825.4,178.2 825.8,178.2 826.2,178.2 826.6,178.2 827.0,178.2 827.4,178.2 827.8,178.2 828.2,178.2 828.6,178.2 829.0,178.2 829.4,178.2 829.8,178.2 830.2,178.2 830.6,178.2 831.0,178.2 831.4,178.2 831.8,178.2 832.2,178.2 832.6,178.2 833.0,178.2 833.4,178.2 833.8,178.2 834.2,178.2 834.6,178.2 835.0,178.2 835.4,178.2 835.8,178.2 836.2,178.2 836.6,178.2 837.0,178.2 837.4,178.2 837.8,178.2 838.2,178.2 838.6,178.2 839.0,178.2 839.4,178.2 839.8,178.2 840.2,178.2 840.6,178.2 841.0,178.2 841.4,178.2 841.8,178.2 842.2,178.2 842.6,178.2 843.0,178.2 843.4,178.2 843.8,178.2 844.2,178.2 844.6,178.2 845.0,178.2 845.4,178.2 845.8,178.2 846.2,178.2 846.6,178.2 847.0,178.2 847.4,178.2 847.8,178.2 848.2,178.2 848.6,178.2 849.0,178.2 849.4,178.2 849.8,178.2 850.2,178.2 850.6,178.2 851.0,178.2 851.4,178.2 851.8,178.2 852.2,178.2 852.6,178.2 853.0,178.2 853.4,178.2 853.8,178.2 854.2,178.2 854.6,178.2 855.0,178.2 855.4,178.2 855.8,178.2 856.2,178.2 856.6,178.2 857.0,178.2 857.4,178.2 857.8,178.2 858.2,178.2 858.6,178.2 859.0,178.2 859.4,178.2 859.8,178.2 860.2,178.2 860.6,178.2 861.0,178.2 861.4,178.2 861.8,178.2 862.2,178.2 862.6,178.2 863.0,178.2 863.4,178.2 863.8,178.2 864.2,178.2 864.6,178.2 865.0,178.2 865.4,178.2 865.8,178.2 866.2,178.2 866.6,178.2 867.0,178.2 867.4,178.2 867.8,178.2 868.2,178.2 868.6,178.2 869.0,178.2 869.4,178.2 869.8,178.2 870.2,178.2 870.6,178.2 871.0,178.2 871.4,178.2 871.8,178.2 872.2,178.2 872.6,178.2 873.0,178.2 873.4,178.2 873.8,178.2 874.2,178.2 874.6,178.2 875.0,178.2 875.4,178.2 875.8,178.2 876.2,178.2 876.6,178.2 877.0,178.2 877.4,178.2 877.8,178.2 878.2,178.2 878.6,178.2 879.0,178.2 879.4,178.2 879.8,178.2 880.2,178.2 880.6,178.2 881.0,178.2 881.4,178.2 881.8,178.2 882.2,178.2 882.6,178.2 883.0,178.2 883.4,178.2 883.8,178.2 884.2,178.2 884.6,178.2 885.0,178.2 885.4,178.2 885.8,178.2 886.2,178.2 886.6,178.2 887.0,178.2 887.4,178.2 887.8,178.2 888.2,178.2 888.6,178.2 889.0,178.2 889.4,178.2 889.8,178.2 890.2,178.2 890.6,178.2 891.0,178.2 891.4,178.2 891.8,178.2 892.2,178.2 892.6,178.2 893.0,178.2 893.4,178.2 893.8,178.2 894.2,178.2 894.6,178.2 895.0,178.2 895.4,178.2 895.8,178.2 896.2,178.2 896.6,178.2 897.0,178.2 897.4,178.2 897.8,178.2 898.2,178.2 898.6,178.2 899.0,178.2 899.4,178.2 899.8,178.2 900.2,178.2 900.6,178.2 901.0,178.2 901.4,178.2 901.8,178.2 902.2,178.2 902.6,178.2 903.0,178.2 903.4,178.2 903.8,178.2 904.2,178.2 904.6,178.2 905.0,178.2 905.4,178.2 905.8,178.2 906.2,178.2 906.6,178.2 907.0,178.2 907.4,178.2 907.8,178.2 908.2,178.2 908.6,178.2 909.0,178.2 909.4,178.2 909.8,178.2 910.2,178.2 910.6,178.2 911.0,178.2 911.4,178.2 911.8,178.2 912.2,178.2 912.6,178.2 913.0,178.2 913.4,178.2 913.8,178.2 914.2,178.2 914.6,178.2 915.0,178.2 915.4,178.2 915.8,178.2 916.2,178.2 916.6,178.2 917.0,178.2 917.4,178.2 917.8,178.2 918.2,178.2 918.6,178.2 919.0,178.2 919.4,178.2 919.8,178.2 920.2,178.2 920.6,178.2 921.0,178.2 921.4,178.2 921.8,178.2 922.2,178.2 922.6,178.2 923.0,178.2 923.4,178.2 923.8,178.2 924.2,178.2 924.6,178.2 925.0,178.2 925.4,178.2 925.8,178.2 926.2,178.2 926.6,178.2 927.0,178.2 927.4,178.2 927.8,178.2 928.2,178.2 928.6,178.2 929.0,178.2 929.4,178.2 929.8,178.2 930.2,178.2 930.6,178.2 931.0,178.2 931.4,178.2 931.8,178.2 932.2,178.2 932.6,178.2 933.0,178.2 933.4,178.2 933.8,178.2 934.2,178.2 934.6,178.2 935.0,178.2 935.4,178.2 935.8,178.2 936.2,178.2 936.6,178.2 937.0,178.2 937.4,178.2 937.8,178.2 938.2,178.2 938.6,178.2 939.0,178.2 939.4,178.2 939.8,178.2 940.2,178.2 940.6,178.2 941.0,178.2 941.4,178.2 941.8,178.2 942.2,178.2 942.6,178.2 943.0,178.2 943.4,178.2 943.8,178.2 944.2,178.2 944.6,178.2 945.0,178.2 945.4,178.2 945.8,178.2 946.2,178.2 946.6,178.2 947.0,178.2 947.4,178.2 947.8,178.2 948.2,178.2 948.6,178.2 949.0,178.2 949.4,178.2 949.8,178.2 950.2,178.2 950.6,178.2 951.0,178.2 951.4,178.2 951.8,178.2 952.2,178.2 952.6,180.3 953.0,182.4 953.4,184.6 953.8,186.7 954.2,188.9 954.6,191.0 955.0,193.2 955.4,195.3" fill="none" stroke="#222" stroke-width="1.00" stroke-linejoin="round" />
<polyline points="792.6,196.6 793.0,196.6 793.4,196.6 793.8,196.6 794.2,196.6 794.6,196.6 795.0,196.6 795.4,196.6 795.8,196.6 796.2,196.6 796.6,196.6 797.0,196.6 797.4,196.6 797.8,196.6 798.2,196.6 798.6,196.6 799.0,196.6 799.4,196.6 799.8,196.6 800.2,196.6 800.6,196.6 801.0,196.6 801.4,196.6 801.8,196.6 802.2,196.6 802.6,196.6 803.0,196.6 803.4,196.6 803.8,196.6 804.2,196.6 804.6,196.6 805.0,196.6 805.4,196.6 805.8,196.6 806.2,196.6 806.6,196.6 807.0,196.6 807.4,196.6 807.8,196.6 808.2,196.6 808.6,196.6 809.0,196.6 809.4,196.6 809.8,196.6 810.2,196.6 810.6,196.6 811.0,196.6 811.4,196.6 811.8,196.6 812.2,196.6 812.6,196.6 813.0,196.6 813.4,196.6 813.8,196.6 814.2,196.6 814.6,196.6 815.0,196.6 815.4,196.6 815.8,196.6 816.2,196.6 816.6,196.6 817.0,196.6 817.4,196.6 817.8,196.6 818.2,196.6 818.6,196.6 819.0,196.6 819.4,196.6 819.8,196.6 820.2,196.6 820.6,196.6 821.0,195.2 821.4,193.0 821.8,190.9 822.2,188.7 822.6,186.5 823.0,185.9 823.4,186.1 823.8,186.3 824.2,186.6 824.6,186.8 825.0,187.0 825.4,187.2 825.8,187.4 826.2,187.6 826.6,187.6 827.0,187.6 827.4,187.6 827.8,187.6 828.2,187.6 828.6,187.6 829.0,187.6 829.4,187.6 829.8,187.6 830.2,187.6 830.6,187.6 831.0,187.6 831.4,187.6 831.8,187.6 832.2,187.6 832.6,187.6 833.0,187.6 833.4,187.6 833.8,187.6 834.2,187.6 834.6,187.6 835.0,187.6 835.4,187.6 835.8,187.6 836.2,187.6 836.6,187.6 837.0,187.6 837.4,187.6 837.8,187.6 838.2,187.6 838.6,187.6 839.0,187.6 839.4,187.6 839.8,187.6 840.2,187.6 840.6,187.6 841.0,187.6 841.4,187.6 841.8,187.6 842.2,187.6 842.6,187.6 843.0,187.6 843.4,187.6 843.8,187.6 844.2,187.6 844.6,187.6 845.0,187.6 845.4,187.6 845.8,187.6 846.2,187.6 846.6,187.6 847.0,187.6 847.4,187.6 847.8,187.6 848.2,187.6 848.6,187.6 849.0,187.6 849.4,187.6 849.8,187.6 850.2,187.6 850.6,187.6 851.0,187.6 851.4,187.6 851.8,187.6 852.2,187.6 852.6,187.6 853.0,187.6 853.4,187.6 853.8,187.6 854.2,187.6 854.6,187.6 855.0,187.6 855.4,187.6 855.8,187.6 856.2,187.6 856.6,187.6 857.0,187.6 857.4,187.6 857.8,187.6 858.2,187.6 858.6,187.6 859.0,187.6 859.4,187.6 859.8,187.6 860.2,187.6 860.6,187.6 861.0,187.6 861.4,187.6 861.8,187.6 862.2,187.6 862.6,187.6 863.0,187.6 863.4,187.6 863.8,187.6 864.2,187.6 864.6,187.6 865.0,187.6 865.4,187.6 865.8,187.6 866.2,187.6 866.6,187.6 867.0,187.6 867.4,187.6 867.8,187.6 868.2,187.6 868.6,187.6 869.0,187.6 869.4,187.6 869.8,187.6 870.2,187.6 870.6,187.6 871.0,187.6 871.4,187.6 871.8,187.6 872.2,187.6 872.6,187.6 873.0,187.6 873.4,187.6 873.8,187.6 874.2,187.6 874.6,187.6 875.0,187.6 875.4,187.6 875.8,187.6 876.2,187.6 876.6,187.6 877.0,187.6 877.4,187.6 877.8,187.6 878.2,187.6 878.6,187.6 879.0,187.6 879.4,187.6 879.8,187.6 880.2,187.6 880.6,187.6 881.0,187.6 881.4,187.6 881.8,187.6 882.2,187.6 882.6,187.6 883.0,187.6 883.4,187.6 883.8,187.6 884.2,187.6 884.6,187.6 885.0,187.6 885.4,187.6 885.8,187.6 886.2,187.6 886.6,187.6 887.0,187.6 887.4,187.6 887.8,187.6 888.2,187.6 888.6,187.6 889.0,187.6 889.4,187.6 889.8,187.6 890.2,187.6 890.6,187.6 891.0,187.6 891.4,187.6 891.8,187.6 892.2,187.6 892.6,187.6 893.0,187.6 893.4,187.6 893.8,187.6 894.2,187.6 894.6,187.6 895.0,187.6 895.4,187.6 895.8,187.6 896.2,187.6 896.6,187.6 897.0,187.6 897.4,187.6 897.8,187.6 898.2,187.6 898.6,187.6 899.0,187.6 899.4,187.6 899.8,187.6 900.2,187.6 900.6,187.6 901.0,187.6 901.4,187.6 901.8,187.6 902.2,187.6 902.6,187.6 903.0,187.6 903.4,187.6 903.8,187.6 904.2,187.6 904.6,187.6 905.0,187.6 905.4,187.6 905.8,187.6 906.2,187.6 906.6,187.6 907.0,187.6 907.4,187.6 907.8,187.6 908.2,187.6 908.6,187.6 909.0,187.6 909.4,187.6 909.8,187.6 910.2,187.6 910.6,187.6 911.0,187.6 911.4,187.6 911.8,187.6 912.2,187.6 912.6,187.6 913.0,187.6 913.4,187.6 913.8,187.6 914.2,187.6 914.6,187.6 915.0,187.6 915.4,187.6 915.8,187.6 916.2,187.6 916.6,187.6 917.0,187.6 917.4,187.6 917.8,187.6 918.2,187.6 918.6,187.6 919.0,187.6 919.4,187.6 919.8,187.6 920.2,187.6 920.6,187.6 921.0,187.6 921.4,187.6 921.8,187.6 922.2,187.6 922.6,187.6 923.0,187.6 923.4,187.6 923.8,187.6 924.2,187.6 924.6,187.6 925.0,187.6 925.4,187.6 925.8,187.6 926.2,187.6 926.6,187.6 927.0,187.6 927.4,187.6 927.8,187.6 928.2,187.6 928.6,187.6 929.0,187.6 929.4,187.6 929.8,187.6 930.2,187.6 930.6,187.6 931.0,187.6 931.4,187.6 931.8,187.6 932.2,187.6 932.6,187.6 933.0,187.6 933.4,187.6 933.8,187.6 934.2,187.6 934.6,187.6 935.0,187.6 935.4,187.6 935.8,187.6 936.2,187.6 936.6,187.6 937.0,187.6 937.4,187.6 937.8,187.6 938.2,187.6 938.6,187.6 939.0,187.6 939.4,187.6 939.8,187.6 940.2,187.6 940.6,187.6 941.0,187.6 941.4,187.6 941.8,187.6 942.2,187.6 942.6,187.6 943.0,187.6 943.4,187.6 943.8,187.6 944.2,187.6 944.6,187.6 945.0,187.6 945.4,187.6 945.8,187.6 946.2,187.6 946.6,187.6 947.0,187.6 947.4,187.6 947.8,187.6 948.2,187.6 948.6,187.6 949.0,187.6 949.4,187.6 949.8,187.6 950.2,187.6 950.6,187.6 951.0,187.6 951.4,187.6 951.8,187.6 952.2,187.6 952.6,188.8 953.0,190.1 953.4,191.3 953.8,192.6 954.2,193.8 954.6,195.1 955.0,196.3" fill="none" stroke="#222" stroke-width="1.00" stroke-linejoin="round" />
<polyline points="955.4,197.0 955.8,197.0 956.2,197.0 956.6,197.0 957.0,197.0 957.4,197.0 957.8,197.0 958.2,197.0 958.6,197.0 959.0,197.0 959.4,197.0 959.8,197.0 960.2,197.0 960.6,197.0 961.0,197.0 961.4,197.0 961.8,197.0 962.2,197.0 962.6,197.0 963.0,197.0 963.4,197.0 963.8,197.0 964.2,197.0 964.6,197.0 965.0,197.0 965.4,197.0 965.8,197.0 966.2,197.0 966.6,197.0 967.0,197.0 967.4,197.0 967.8,197.0 968.2,197.0 968.6,197.0 969.0,197.0 969.4,197.0 969.8,197.0 970.2,197.0 970.6,197.0 971.0,197.0 971.4,197.0 971.8,197.0 972.2,197.0 972.6,197.0 973.0,197.0 973.4,197.0 973.8,197.0 974.2,197.0 974.6,197.0 975.0,197.0 975.4,197.0 975.8,197.0 976.2,197.0 976.6,197.0 977.0,197.0 977.4,197.0 977.8,197.0 978.2,197.0 978.6,197.0 979.0,197.0 979.4,197.0 979.8,197.0 980.2,197.0 980.6,197.0 981.0,197.0 981.4,197.0 981.8,197.0 982.2,197.0 982.6,197.0 983.0,197.0 983.4,197.0 983.8,197.0 984.2,197.0 984.6,197.0 985.0,197.0 985.4,197.0 985.8,197.0 986.2,197.0 986.6,197.0 987.0,197.0 987.4,197.0 987.8,197.0 988.2,197.0 988.6,197.0 989.0,197.0 989.4,197.0 989.8,197.0 990.2,197.0 990.6,197.0 991.0,197.0 991.4,197.0 991.8,197.0 992.2,197.0 992.6,197.0 993.0,197.0 993.4,197.0 993.8,197.0 994.2,197.0 994.6,197.0 995.0,197.0 995.4,197.0 995.8,197.0 996.2,197.0 996.6,197.0 997.0,197.0 997.4,197.0 997.8,197.0 998.2,197.0 998.6,197.0 999.0,197.0 999.4,197.0 999.8,197.0 1000.2,197.0 1000.6,197.0 1001.0,197.0 1001.4,197.0 1001.8,197.0 1002.2,197.0 1002.6,197.0 1003.0,197.0 1003.4,197.0 1003.8,197.0 1004.2,197.0 1004.6,197.0 1005.0,197.0 1005.4,197.0 1005.8,197.0 1006.2,197.0 1006.6,197.0 1007.0,197.0 1007.4,197.0 1007.8,197.0 1008.2,197.0 1008.6,197.0 1009.0,197.0 1009.4,197.0 1009.8,197.0 1010.2,197.0 1010.6,197.0 1011.0,197.0 1011.4,197.0 1011.8,197.0 1012.2,197.0 1012.6,197.0 1013.0,197.0 1013.4,197.0 1013.8,197.0 1014.2,197.0 1014.6,197.0 1015.0,197.0 1015.4,197.0 1015.8,197.0 1016.2,197.0 1016.6,197.0 1017.0,197.0 1017.4,197.0 1017.8,197.0 1018.2,197.0 1018.6,197.0 1019.0,197.0" fill="none" stroke="#333" stroke-width="1.05" stroke-linejoin="round" stroke-dasharray="3,0.9"/>
<polyline points="792.6,196.5 793.0,196.3 793.4,196.3 793.8,196.1 794.2,196.3 794.6,196.5 795.0,196.7 795.4,196.5 795.8,196.4 796.2,196.6 796.6,196.8 797.0,196.6 797.4,196.3 797.8,196.2 798.2,196.4 798.6,196.2 799.0,196.1 799.4,196.0 799.8,196.0 800.2,195.9 800.6,195.9 801.0,195.9 801.4,196.2 801.8,196.4 802.2,196.5 802.6,196.4 803.0,196.3 803.4,196.3 803.8,196.7 804.2,196.2 804.6,195.8 805.0,195.4 805.4,195.8 805.8,196.3 806.2,196.4 806.6,196.3 807.0,196.2 807.4,196.3 807.8,196.6 808.2,196.3 808.6,196.6 809.0,196.4 809.4,196.7 809.8,196.5 810.2,196.3 810.6,196.4 811.0,196.4 811.4,196.5 811.8,196.3 812.2,196.3 812.6,196.1 813.0,196.2 813.4,196.3 813.8,196.3 814.2,196.4 814.6,196.3 815.0,196.4 815.4,196.2 815.8,196.2 816.2,196.2 816.6,196.7 817.0,196.5 817.4,196.6 817.8,196.2 818.2,196.3 818.6,196.4 819.0,196.3 819.4,195.7 819.8,194.6 820.2,193.7 820.6,192.7 821.0,191.7 821.4,191.0 821.8,190.5 822.2,189.8 822.6,189.8 823.0,190.2 823.4,190.5 823.8,191.3 824.2,191.6 824.6,191.8 825.0,192.1 825.4,192.2 825.8,192.6 826.2,192.5 826.6,192.6 827.0,192.8 827.4,193.0 827.8,193.0 828.2,193.0 828.6,192.6 829.0,192.6 829.4,192.5 829.8,192.9 830.2,193.1 830.6,193.1 831.0,193.3 831.4,193.0 831.8,193.1 832.2,193.0 832.6,193.0 833.0,193.0 833.4,193.0 833.8,193.0 834.2,193.0 834.6,192.9 835.0,193.1 835.4,192.6 835.8,192.6 836.2,192.3 836.6,192.9 837.0,192.8 837.4,193.0 837.8,192.9 838.2,192.8 838.6,192.9 839.0,192.8 839.4,193.0 839.8,193.1 840.2,193.5 840.6,193.8 841.0,193.6 841.4,193.3 841.8,193.2 842.2,193.4 842.6,193.5 843.0,193.6 843.4,193.4 843.8,193.1 844.2,193.0 844.6,193.3 845.0,193.8 845.4,194.0 845.8,193.8 846.2,193.4 846.6,192.9 847.0,192.7 847.4,192.9 847.8,193.1 848.2,193.2 848.6,193.4 849.0,193.8 849.4,193.7 849.8,193.4 850.2,193.2 850.6,193.4 851.0,193.3 851.4,193.7 851.8,193.9 852.2,194.3 852.6,193.6 853.0,193.6 853.4,193.4 853.8,193.8 854.2,193.8 854.6,194.0 855.0,194.0 855.4,193.9 855.8,194.0 856.2,193.6 856.6,193.8 857.0,193.7 857.4,194.5 857.8,194.4 858.2,194.1 858.6,194.0 859.0,193.9 859.4,194.1 859.8,193.9 860.2,194.2 860.6,194.7 861.0,194.7 861.4,194.6 861.8,194.3 862.2,194.3 862.6,194.2 863.0,194.2 863.4,194.3 863.8,194.6 864.2,194.3 864.6,194.4 865.0,194.3 865.4,194.9 865.8,194.8 866.2,194.7 866.6,194.5 867.0,194.5 867.4,194.5 867.8,194.4 868.2,194.4 868.6,194.4 869.0,194.4 869.4,194.4 869.8,194.5 870.2,194.4 870.6,194.6 871.0,194.8 871.4,195.0 871.8,194.7 872.2,194.8 872.6,194.8 873.0,194.9 873.4,194.8 873.8,194.9 874.2,195.0 874.6,194.9 875.0,194.8 875.4,194.7 875.8,194.8 876.2,195.0 876.6,195.1 877.0,195.4 877.4,195.5 877.8,195.3 878.2,195.1 878.6,194.9 879.0,195.1 879.4,195.1 879.8,195.0 880.2,194.7 880.6,194.9 881.0,194.9 881.4,194.6 881.8,194.7 882.2,194.8 882.6,195.4 883.0,195.4 883.4,195.5 883.8,195.4 884.2,195.3 884.6,195.1 885.0,194.7 885.4,194.4 885.8,194.6 886.2,195.1 886.6,195.4 887.0,195.2 887.4,195.2 887.8,195.2 888.2,195.3 888.6,195.2 889.0,195.0 889.4,194.9 889.8,195.0 890.2,195.4 890.6,195.8 891.0,195.8 891.4,195.6 891.8,195.3 892.2,195.4 892.6,195.4 893.0,195.6 893.4,195.4 893.8,195.6 894.2,195.4 894.6,195.5 895.0,195.6 895.4,195.5 895.8,195.6 896.2,195.2 896.6,195.5 897.0,195.1 897.4,195.3 897.8,194.9 898.2,195.5 898.6,195.8 899.0,196.2 899.4,195.8 899.8,195.7 900.2,195.9 900.6,196.0 901.0,195.8 901.4,195.7 901.8,195.5 902.2,195.5 902.6,195.3 903.0,195.5 903.4,195.7 903.8,195.7 904.2,195.5 904.6,195.1 905.0,195.1 905.4,195.4 905.8,195.7 906.2,195.8 906.6,195.5 907.0,195.5 907.4,195.3 907.8,195.7 908.2,195.6 908.6,195.6 909.0,195.4 909.4,195.5 909.8,195.6 910.2,196.1 910.6,196.1 911.0,195.9 911.4,195.5 911.8,195.5 912.2,195.8 912.6,195.9 913.0,195.8 913.4,195.4 913.8,195.1 914.2,195.2 914.6,195.3 915.0,195.6 915.4,195.5 915.8,195.4 916.2,195.1 916.6,195.1 917.0,195.3 917.4,195.5 917.8,195.6 918.2,195.6 918.6,195.7 919.0,195.5 919.4,195.3 919.8,195.6 920.2,195.6 920.6,195.8 921.0,195.7 921.4,195.5 921.8,195.5 922.2,195.1 922.6,195.2 923.0,195.2 923.4,195.4 923.8,195.4 924.2,195.5 924.6,195.6 925.0,195.7 925.4,195.7 925.8,195.7 926.2,195.5 926.6,195.1 927.0,195.2 927.4,195.1 927.8,195.4 928.2,195.4 928.6,195.6 929.0,195.5 929.4,195.6 929.8,195.5 930.2,195.5 930.6,195.6 931.0,195.9 931.4,196.0 931.8,195.8 932.2,195.7 932.6,195.8 933.0,195.9 933.4,196.0 933.8,195.8 934.2,195.6 934.6,195.6 935.0,195.5 935.4,195.6 935.8,195.9 936.2,195.9 936.6,196.0 937.0,195.6 937.4,195.6 937.8,195.4 938.2,195.6 938.6,195.7 939.0,195.7 939.4,195.7 939.8,196.0 940.2,196.0 940.6,195.8 941.0,195.7 941.4,195.9 941.8,196.0 942.2,196.0 942.6,195.5 943.0,195.5 943.4,195.3 943.8,196.0 944.2,195.9 944.6,196.2 945.0,195.9 945.4,195.8 945.8,195.4 946.2,195.3 946.6,195.3 947.0,195.5 947.4,195.4 947.8,195.5 948.2,195.6 948.6,195.8 949.0,195.9 949.4,195.8 949.8,195.8 950.2,195.4 950.6,195.6 951.0,195.6 951.4,195.8 951.8,195.5 952.2,195.7 952.6,197.1 953.0,198.2 953.4,199.3 953.8,200.2 954.2,201.7 954.6,203.0 955.0,204.4 955.4,203.8 955.8,203.5 956.2,203.1 956.6,202.8 957.0,202.6 957.4,202.3 957.8,201.9 958.2,201.7 958.6,201.2 959.0,200.8 959.4,199.9 959.8,200.2 960.2,200.4 960.6,200.7 961.0,200.6 961.4,200.6 961.8,200.6 962.2,200.7 962.6,200.7 963.0,200.7 963.4,200.5 963.8,200.4 964.2,200.5 964.6,200.6 965.0,200.6 965.4,200.1 965.8,199.8 966.2,199.7 966.6,199.9 967.0,200.1 967.4,200.2 967.8,200.2 968.2,200.2 968.6,200.2 969.0,200.3 969.4,200.0 969.8,200.1 970.2,200.2 970.6,200.7 971.0,200.4 971.4,200.0 971.8,199.8 972.2,200.0 972.6,200.2 973.0,199.9 973.4,199.2 973.8,199.2 974.2,199.8 974.6,200.1 975.0,199.9 975.4,199.5 975.8,199.8 976.2,200.0 976.6,199.8 977.0,199.7 977.4,199.5 977.8,199.8 978.2,199.9 978.6,200.1 979.0,199.8 979.4,199.5 979.8,199.3 980.2,199.4 980.6,199.4 981.0,199.3 981.4,199.3 981.8,199.1 982.2,199.5 982.6,199.5 983.0,199.5 983.4,199.4 983.8,199.2 984.2,199.5 984.6,199.4 985.0,199.9 985.4,199.9 985.8,199.8 986.2,199.7 986.6,199.6 987.0,199.8 987.4,199.2 987.8,199.1 988.2,199.0 988.6,199.6 989.0,199.5 989.4,199.6 989.8,199.4 990.2,199.3 990.6,199.2 991.0,199.3 991.4,199.5 991.8,199.5 992.2,199.4 992.6,199.4 993.0,199.5 993.4,199.5 993.8,199.3 994.2,199.2 994.6,199.2 995.0,199.6 995.4,199.5 995.8,199.7 996.2,199.4 996.6,199.8 997.0,199.2 997.4,199.3 997.8,198.7 998.2,198.8 998.6,198.7 999.0,199.1 999.4,199.2 999.8,199.3 1000.2,199.1 1000.6,199.5 1001.0,199.3 1001.4,199.7 1001.8,199.8 1002.2,199.7 1002.6,199.5 1003.0,199.1 1003.4,199.5 1003.8,199.5 1004.2,199.8 1004.6,199.5 1005.0,199.4 1005.4,199.0 1005.8,199.1 1006.2,199.2 1006.6,199.3 1007.0,199.3 1007.4,199.4 1007.8,199.3 1008.2,199.2 1008.6,198.9 1009.0,198.8 1009.4,198.9 1009.8,199.2 1010.2,199.4 1010.6,199.3 1011.0,199.3 1011.4,199.0 1011.8,199.2 1012.2,198.9 1012.6,199.1 1013.0,199.0 1013.4,199.3 1013.8,199.1 1014.2,198.9 1014.6,198.9 1015.0,198.9 1015.4,199.2 1015.8,199.3 1016.2,199.4 1016.6,199.4 1017.0,199.1 1017.4,199.1 1017.8,198.8 1018.2,198.8 1018.6,198.7 1019.0,198.8" fill="none" stroke="#ff1a1a" stroke-width="1.50" stroke-linejoin="round" />
<polyline points="792.6,196.3 793.0,196.2 793.4,195.9 793.8,196.4 794.2,196.5 794.6,196.7 795.0,196.2 795.4,196.5 795.8,196.4 796.2,196.2 796.6,196.0 797.0,196.0 797.4,195.9 797.8,195.7 798.2,195.8 798.6,196.0 799.0,196.4 799.4,196.4 799.8,196.4 800.2,196.3 800.6,196.2 801.0,196.3 801.4,196.0 801.8,196.1 802.2,196.1 802.6,196.2 803.0,196.2 803.4,196.2 803.8,196.4 804.2,196.7 804.6,196.7 805.0,196.3 805.4,196.2 805.8,196.3 806.2,196.3 806.6,196.4 807.0,196.5 807.4,196.3 807.8,196.2 808.2,196.2 808.6,196.4 809.0,196.2 809.4,196.4 809.8,196.4 810.2,196.5 810.6,196.2 811.0,196.2 811.4,196.1 811.8,196.2 812.2,196.0 812.6,195.8 813.0,195.7 813.4,195.9 813.8,196.1 814.2,196.3 814.6,196.3 815.0,196.5 815.4,196.4 815.8,196.1 816.2,196.1 816.6,196.2 817.0,196.6 817.4,196.5 817.8,196.1 818.2,196.1 818.6,196.0 819.0,195.8 819.4,194.9 819.8,194.4 820.2,193.8 820.6,192.9 821.0,191.8 821.4,191.2 821.8,190.5 822.2,189.7 822.6,189.7 823.0,190.0 823.4,190.6 823.8,190.9 824.2,191.1 824.6,191.4 825.0,191.8 825.4,192.1 825.8,192.3 826.2,192.3 826.6,192.5 827.0,192.6 827.4,192.7 827.8,193.0 828.2,193.1 828.6,193.2 829.0,192.9 829.4,192.8 829.8,192.6 830.2,192.6 830.6,192.7 831.0,193.2 831.4,193.4 831.8,193.4 832.2,193.2 832.6,193.2 833.0,193.2 833.4,193.2 833.8,193.2 834.2,193.4 834.6,193.5 835.0,193.2 835.4,193.1 835.8,193.2 836.2,193.3 836.6,193.1 837.0,192.6 837.4,192.7 837.8,192.8 838.2,193.4 838.6,193.5 839.0,193.4 839.4,193.3 839.8,193.4 840.2,193.7 840.6,193.8 841.0,193.9 841.4,193.6 841.8,193.6 842.2,193.6 842.6,193.8 843.0,193.8 843.4,193.7 843.8,193.7 844.2,193.5 844.6,193.7 845.0,194.0 845.4,194.4 845.8,194.4 846.2,194.4 846.6,194.2 847.0,194.0 847.4,194.0 847.8,194.4 848.2,194.4 848.6,194.3 849.0,193.8 849.4,194.1 849.8,194.3 850.2,194.6 850.6,194.4 851.0,194.7 851.4,194.3 851.8,194.4 852.2,194.4 852.6,194.6 853.0,194.6 853.4,194.7 853.8,194.6 854.2,194.6 854.6,194.6 855.0,195.1 855.4,195.3 855.8,194.9 856.2,194.5 856.6,194.4 857.0,194.6 857.4,195.0 857.8,195.3 858.2,195.5 858.6,195.3 859.0,195.3 859.4,195.3 859.8,195.5 860.2,195.4 860.6,195.3 861.0,195.3 861.4,195.6 861.8,195.7 862.2,195.6 862.6,195.5 863.0,195.8 863.4,196.1 863.8,195.9 864.2,195.9 864.6,195.5 865.0,195.2 865.4,195.0 865.8,195.2 866.2,195.3 866.6,195.4 867.0,195.4 867.4,195.6 867.8,195.7 868.2,195.9 868.6,195.9 869.0,195.8 869.4,195.7 869.8,195.9 870.2,196.0 870.6,196.1 871.0,196.0 871.4,196.0 871.8,195.8 872.2,195.6 872.6,195.8 873.0,195.8 873.4,196.2 873.8,195.7 874.2,195.5 874.6,195.2 875.0,195.6 875.4,195.8 875.8,195.7 876.2,195.7 876.6,195.7 877.0,195.9 877.4,195.9 877.8,196.1 878.2,195.9 878.6,195.6 879.0,195.5 879.4,195.7 879.8,195.7 880.2,195.8 880.6,195.8 881.0,196.0 881.4,196.0 881.8,196.0 882.2,196.0 882.6,195.9 883.0,196.0 883.4,196.0 883.8,195.7 884.2,195.5 884.6,195.1 885.0,195.5 885.4,195.7 885.8,195.8 886.2,195.5 886.6,195.3 887.0,195.4 887.4,195.5 887.8,195.8 888.2,195.9 888.6,196.0 889.0,196.1 889.4,195.9 889.8,196.1 890.2,195.9 890.6,195.9 891.0,195.7 891.4,195.9 891.8,195.8 892.2,195.7 892.6,195.3 893.0,195.5 893.4,195.6 893.8,195.9 894.2,195.9 894.6,196.0 895.0,195.6 895.4,195.5 895.8,195.3 896.2,195.4 896.6,195.6 897.0,195.8 897.4,195.8 897.8,195.8 898.2,195.5 898.6,195.8 899.0,195.4 899.4,195.5 899.8,195.2 900.2,195.4 900.6,195.3 901.0,195.4 901.4,195.3 901.8,195.6 902.2,195.3 902.6,195.6 903.0,195.6 903.4,195.8 903.8,195.9 904.2,195.7 904.6,195.6 905.0,195.6 905.4,195.5 905.8,195.5 906.2,195.3 906.6,195.4 907.0,195.4 907.4,195.1 907.8,195.1 908.2,195.2 908.6,195.7 909.0,195.8 909.4,195.7 909.8,195.5 910.2,195.2 910.6,195.3 911.0,195.2 911.4,195.5 911.8,195.6 912.2,195.8 912.6,195.6 913.0,195.5 913.4,195.5 913.8,195.4 914.2,195.5 914.6,195.6 915.0,195.6 915.4,195.6 915.8,195.3 916.2,195.6 916.6,195.7 917.0,196.0 917.4,195.7 917.8,195.5 918.2,195.4 918.6,195.6 919.0,196.0 919.4,196.1 919.8,195.9 920.2,195.7 920.6,195.8 921.0,195.6 921.4,195.7 921.8,195.4 922.2,195.6 922.6,195.6 923.0,195.7 923.4,195.7 923.8,195.8 924.2,195.7 924.6,195.6 925.0,195.3 925.4,195.4 925.8,195.6 926.2,195.7 926.6,195.4 927.0,195.3 927.4,195.4 927.8,195.6 928.2,195.5 928.6,195.4 929.0,195.4 929.4,195.5 929.8,195.5 930.2,195.4 930.6,195.0 931.0,194.9 931.4,195.2 931.8,195.8 932.2,195.9 932.6,195.5 933.0,195.6 933.4,195.7 933.8,196.1 934.2,196.1 934.6,196.1 935.0,195.9 935.4,195.5 935.8,195.5 936.2,195.3 936.6,195.6 937.0,195.6 937.4,195.9 937.8,195.7 938.2,195.8 938.6,195.5 939.0,195.7 939.4,195.5 939.8,195.8 940.2,195.7 940.6,195.6 941.0,195.2 941.4,195.1 941.8,195.4 942.2,195.9 942.6,195.7 943.0,195.7 943.4,195.4 943.8,195.6 944.2,195.9 944.6,195.9 945.0,195.6 945.4,195.6 945.8,195.7 946.2,195.7 946.6,195.3 947.0,195.2 947.4,195.5 947.8,195.7 948.2,195.7 948.6,195.6 949.0,195.3 949.4,195.4 949.8,195.4 950.2,195.7 950.6,195.4 951.0,195.2 951.4,195.2 951.8,195.8 952.2,196.3 952.6,197.1 953.0,197.8 953.4,199.0 953.8,200.5 954.2,202.0 954.6,203.5 955.0,204.5 955.4,204.4 955.8,203.7 956.2,203.4 956.6,202.6 957.0,202.0 957.4,202.0 957.8,201.9 958.2,201.9 958.6,201.4 959.0,201.0 959.4,200.6 959.8,200.5 960.2,200.5 960.6,200.3 961.0,200.2 961.4,200.2 961.8,200.2 962.2,200.5 962.6,200.4 963.0,200.3 963.4,199.8 963.8,200.0 964.2,200.4 964.6,200.7 965.0,200.2 965.4,200.0 965.8,199.9 966.2,200.3 966.6,200.2 967.0,200.4 967.4,200.3 967.8,200.2 968.2,200.2 968.6,200.2 969.0,200.4 969.4,200.1 969.8,200.2 970.2,199.9 970.6,200.1 971.0,199.9 971.4,199.9 971.8,199.9 972.2,200.0 972.6,200.1 973.0,199.8 973.4,199.8 973.8,199.8 974.2,200.0 974.6,199.9 975.0,199.9 975.4,199.5 975.8,199.6 976.2,199.4 976.6,199.8 977.0,199.7 977.4,200.2 977.8,200.1 978.2,200.2 978.6,199.5 979.0,199.2 979.4,199.3 979.8,199.5 980.2,199.9 980.6,199.6 981.0,199.8 981.4,199.5 981.8,199.7 982.2,199.7 982.6,199.9 983.0,199.8 983.4,199.5 983.8,199.4 984.2,199.5 984.6,199.8 985.0,199.6 985.4,199.6 985.8,199.5 986.2,199.5 986.6,199.3 987.0,199.5 987.4,199.7 987.8,199.7 988.2,199.6 988.6,199.5 989.0,199.7 989.4,199.7 989.8,199.5 990.2,199.1 990.6,199.0 991.0,199.2 991.4,199.5 991.8,199.2 992.2,199.3 992.6,199.4 993.0,199.7 993.4,199.8 993.8,199.5 994.2,199.5 994.6,199.2 995.0,199.6 995.4,199.8 995.8,200.0 996.2,199.6 996.6,199.4 997.0,199.1 997.4,199.3 997.8,199.3 998.2,199.7 998.6,199.6 999.0,199.6 999.4,199.4 999.8,199.2 1000.2,199.4 1000.6,199.5 1001.0,199.9 1001.4,199.7 1001.8,199.5 1002.2,199.2 1002.6,199.1 1003.0,199.4 1003.4,199.6 1003.8,199.5 1004.2,199.5 1004.6,199.3 1005.0,199.2 1005.4,198.9 1005.8,199.2 1006.2,199.3 1006.6,199.5 1007.0,199.4 1007.4,198.9 1007.8,198.7 1008.2,198.7 1008.6,199.1 1009.0,199.4 1009.4,199.5 1009.8,199.4 1010.2,199.4 1010.6,198.9 1011.0,199.1 1011.4,198.7 1011.8,199.0 1012.2,198.6 1012.6,198.9 1013.0,199.1 1013.4,199.4 1013.8,199.4 1014.2,199.3 1014.6,199.0 1015.0,198.6 1015.4,198.4 1015.8,198.6 1016.2,198.8 1016.6,199.2 1017.0,199.7 1017.4,199.8 1017.8,199.3 1018.2,199.1 1018.6,199.1 1019.0,199.1" fill="none" stroke="#ff1a1a" stroke-width="1.50" stroke-linejoin="round" />
<line x1="792.60" y1="218.90" x2="792.60" y2="216.60" stroke="#3a3a3a" stroke-width="1.00"/>
<line x1="792.60" y1="162.10" x2="792.60" y2="164.40" stroke="#3a3a3a" stroke-width="1.00"/>
<g transform="translate(792.60,228.35) scale(0.880,1)">
<text x="0.00" y="0.00" font-size="10.20" text-anchor="middle" fill="#111" stroke="#111" stroke-width="0.12">1.58</text>
</g>
<line x1="819.24" y1="218.90" x2="819.24" y2="216.60" stroke="#3a3a3a" stroke-width="1.00"/>
<line x1="819.24" y1="162.10" x2="819.24" y2="164.40" stroke="#3a3a3a" stroke-width="1.00"/>
<g transform="translate(819.24,228.35) scale(0.880,1)">
<text x="0.00" y="0.00" font-size="10.20" text-anchor="middle" fill="#111" stroke="#111" stroke-width="0.12">1.6</text>
</g>
<line x1="845.87" y1="218.90" x2="845.87" y2="216.60" stroke="#3a3a3a" stroke-width="1.00"/>
<line x1="845.87" y1="162.10" x2="845.87" y2="164.40" stroke="#3a3a3a" stroke-width="1.00"/>
<g transform="translate(845.87,228.35) scale(0.880,1)">
<text x="0.00" y="0.00" font-size="10.20" text-anchor="middle" fill="#111" stroke="#111" stroke-width="0.12">1.62</text>
</g>
<line x1="872.51" y1="218.90" x2="872.51" y2="216.60" stroke="#3a3a3a" stroke-width="1.00"/>
<line x1="872.51" y1="162.10" x2="872.51" y2="164.40" stroke="#3a3a3a" stroke-width="1.00"/>
<g transform="translate(872.51,228.35) scale(0.880,1)">
<text x="0.00" y="0.00" font-size="10.20" text-anchor="middle" fill="#111" stroke="#111" stroke-width="0.12">1.64</text>
</g>
<line x1="899.14" y1="218.90" x2="899.14" y2="216.60" stroke="#3a3a3a" stroke-width="1.00"/>
<line x1="899.14" y1="162.10" x2="899.14" y2="164.40" stroke="#3a3a3a" stroke-width="1.00"/>
<g transform="translate(899.14,228.35) scale(0.880,1)">
<text x="0.00" y="0.00" font-size="10.20" text-anchor="middle" fill="#111" stroke="#111" stroke-width="0.12">1.66</text>
</g>
<line x1="925.78" y1="218.90" x2="925.78" y2="216.60" stroke="#3a3a3a" stroke-width="1.00"/>
<line x1="925.78" y1="162.10" x2="925.78" y2="164.40" stroke="#3a3a3a" stroke-width="1.00"/>
<g transform="translate(925.78,228.35) scale(0.880,1)">
<text x="0.00" y="0.00" font-size="10.20" text-anchor="middle" fill="#111" stroke="#111" stroke-width="0.12">1.68</text>
</g>
<line x1="952.41" y1="218.90" x2="952.41" y2="216.60" stroke="#3a3a3a" stroke-width="1.00"/>
<line x1="952.41" y1="162.10" x2="952.41" y2="164.40" stroke="#3a3a3a" stroke-width="1.00"/>
<g transform="translate(952.41,228.35) scale(0.880,1)">
<text x="0.00" y="0.00" font-size="10.20" text-anchor="middle" fill="#111" stroke="#111" stroke-width="0.12">1.7</text>
</g>
<line x1="979.05" y1="218.90" x2="979.05" y2="216.60" stroke="#3a3a3a" stroke-width="1.00"/>
<line x1="979.05" y1="162.10" x2="979.05" y2="164.40" stroke="#3a3a3a" stroke-width="1.00"/>
<g transform="translate(979.05,228.35) scale(0.880,1)">
<text x="0.00" y="0.00" font-size="10.20" text-anchor="middle" fill="#111" stroke="#111" stroke-width="0.12">1.72</text>
</g>
<line x1="1005.68" y1="218.90" x2="1005.68" y2="216.60" stroke="#3a3a3a" stroke-width="1.00"/>
<line x1="1005.68" y1="162.10" x2="1005.68" y2="164.40" stroke="#3a3a3a" stroke-width="1.00"/>
<g transform="translate(1005.68,228.35) scale(0.880,1)">
<text x="0.00" y="0.00" font-size="10.20" text-anchor="middle" fill="#111" stroke="#111" stroke-width="0.12">1.74</text>
</g>
<line x1="792.60" y1="168.90" x2="794.90" y2="168.90" stroke="#3a3a3a" stroke-width="1.00"/>
<line x1="1019.00" y1="168.90" x2="1016.70" y2="168.90" stroke="#3a3a3a" stroke-width="1.00"/>
<g transform="translate(791.20,171.90) scale(0.930,1)">
<text x="0.00" y="0.00" font-size="9.80" text-anchor="end" fill="#111" stroke="#111" stroke-width="0.12">0.04</text>
</g>
<line x1="792.60" y1="183.10" x2="794.90" y2="183.10" stroke="#3a3a3a" stroke-width="1.00"/>
<line x1="1019.00" y1="183.10" x2="1016.70" y2="183.10" stroke="#3a3a3a" stroke-width="1.00"/>
<g transform="translate(791.20,186.10) scale(0.930,1)">
<text x="0.00" y="0.00" font-size="9.80" text-anchor="end" fill="#111" stroke="#111" stroke-width="0.12">0.02</text>
</g>
<line x1="792.60" y1="197.30" x2="794.90" y2="197.30" stroke="#3a3a3a" stroke-width="1.00"/>
<line x1="1019.00" y1="197.30" x2="1016.70" y2="197.30" stroke="#3a3a3a" stroke-width="1.00"/>
<g transform="translate(791.20,200.30) scale(0.930,1)">
<text x="0.00" y="0.00" font-size="9.80" text-anchor="end" fill="#111" stroke="#111" stroke-width="0.12">0</text>
</g>
<line x1="792.60" y1="211.50" x2="794.90" y2="211.50" stroke="#3a3a3a" stroke-width="1.00"/>
<line x1="1019.00" y1="211.50" x2="1016.70" y2="211.50" stroke="#3a3a3a" stroke-width="1.00"/>
<g transform="translate(791.20,214.50) scale(0.930,1)">
<text x="0.00" y="0.00" font-size="9.80" text-anchor="end" fill="#111" stroke="#111" stroke-width="0.12">-0.02</text>
</g>
<rect x="792.60" y="162.10" width="226.40" height="56.80" fill="none" stroke="#3a3a3a" stroke-width="1"/>
<line x1="625.30" y1="98.80" x2="616.40" y2="106.80" stroke="#111" stroke-width="1.15"/>
<polygon points="616.40,106.80 617.70,103.75 619.57,105.84" fill="#111"/>
<line x1="654.10" y1="97.40" x2="643.70" y2="106.80" stroke="#111" stroke-width="1.15"/>
<polygon points="643.70,106.80 644.99,103.75 646.86,105.83" fill="#111"/>
<line x1="599.40" y1="126.40" x2="590.50" y2="134.20" stroke="#111" stroke-width="1.15"/>
<polygon points="590.50,134.20 591.83,131.17 593.68,133.28" fill="#111"/>
<line x1="623.00" y1="125.60" x2="614.90" y2="134.60" stroke="#111" stroke-width="1.15"/>
<polygon points="614.90,134.60 615.87,131.43 617.95,133.31" fill="#111"/>
<line x1="557.00" y1="178.30" x2="568.80" y2="183.30" stroke="#111" stroke-width="1.15"/>
<polygon points="568.80,183.30 565.49,183.42 566.58,180.84" fill="#111"/>
<line x1="575.20" y1="202.60" x2="561.20" y2="194.00" stroke="#111" stroke-width="1.15"/>
<polygon points="561.20,194.00 564.49,194.38 563.02,196.76" fill="#111"/>
<line x1="604.00" y1="175.50" x2="594.30" y2="182.60" stroke="#111" stroke-width="1.15"/>
<polygon points="594.30,182.60 595.89,179.70 597.55,181.96" fill="#111"/>
<line x1="625.50" y1="200.50" x2="634.20" y2="194.00" stroke="#111" stroke-width="1.15"/>
<polygon points="634.20,194.00 632.63,196.92 630.96,194.67" fill="#111"/>
<line x1="872.00" y1="21.70" x2="857.50" y2="32.30" stroke="#111" stroke-width="1.15"/>
<polygon points="857.50,32.30 859.10,29.40 860.75,31.66" fill="#111"/>
<line x1="901.40" y1="41.90" x2="891.20" y2="49.30" stroke="#111" stroke-width="1.15"/>
<polygon points="891.20,49.30 892.81,46.41 894.45,48.67" fill="#111"/>
<line x1="871.10" y1="95.40" x2="861.90" y2="107.80" stroke="#111" stroke-width="1.15"/>
<polygon points="861.90,107.80 862.56,104.56 864.81,106.22" fill="#111"/>
<line x1="899.20" y1="117.60" x2="888.40" y2="130.70" stroke="#111" stroke-width="1.15"/>
<polygon points="888.40,130.70 889.23,127.49 891.39,129.28" fill="#111"/>
<line x1="853.40" y1="170.30" x2="841.00" y2="178.30" stroke="#111" stroke-width="1.15"/>
<polygon points="841.00,178.30 842.76,175.50 844.28,177.85" fill="#111"/>
<line x1="882.00" y1="173.40" x2="868.00" y2="193.40" stroke="#111" stroke-width="1.15"/>
<polygon points="868.00,193.40 868.57,190.14 870.87,191.75" fill="#111"/>
<line x1="868.00" y1="205.30" x2="859.00" y2="196.20" stroke="#111" stroke-width="1.15"/>
<polygon points="859.00,196.20 862.10,197.35 860.11,199.32" fill="#111"/>
<line x1="927.30" y1="177.20" x2="920.80" y2="187.00" stroke="#111" stroke-width="1.15"/>
<polygon points="920.80,187.00 921.29,183.73 923.62,185.27" fill="#111"/>
<text x="221.12" y="22.25" font-size="12.30" font-style="italic" font-weight="bold" fill="#111" stroke="#111" stroke-width="0.55">i</text>
<text x="224.65" y="24.30" font-size="8.00" font-style="italic" font-weight="bold" fill="#111" stroke="#111" stroke-width="0.55">s</text>
<text x="221.68" y="99.05" font-size="12.30" font-style="italic" font-weight="bold" fill="#111" stroke="#111" stroke-width="0.55">i</text>
<text x="225.02" y="101.33" font-size="8.00" font-style="italic" font-weight="bold" fill="#111" stroke="#111" stroke-width="0.55">r</text>
<text x="216.12" y="172.25" font-size="12.30" font-style="italic" font-weight="bold" fill="#111" stroke="#111" stroke-width="0.55">i</text>
<text x="219.57" y="174.43" font-size="7.80" font-style="italic" font-weight="bold" fill="#111" stroke="#111" stroke-width="0.55">total</text>
<text x="474.12" y="23.02" font-size="11.60" font-style="italic" font-weight="bold" fill="#111" stroke="#111" stroke-width="0.55">P</text>
<text x="481.12" y="25.32" font-size="7.80" font-style="italic" font-weight="bold" fill="#111" stroke="#111" stroke-width="0.55">total</text>
<text x="479.02" y="99.25" font-size="12.00" font-style="italic" font-weight="bold" fill="#111" stroke="#111" stroke-width="0.55">Q</text>
<text x="487.30" y="101.10" font-size="8.00" font-style="italic" font-weight="bold" fill="#111" stroke="#111" stroke-width="0.55">g</text>
<text x="479.23" y="177.75" font-size="12.00" font-style="italic" font-weight="bold" fill="#111" stroke="#111" stroke-width="0.55">Q</text>
<text x="487.90" y="179.70" font-size="8.00" font-style="italic" font-weight="bold" fill="#111" stroke="#111" stroke-width="0.55">s</text>
<text x="737.30" y="24.32" font-size="12.00" font-style="italic" font-weight="bold" fill="#111" stroke="#111" stroke-width="0.55">u</text>
<text x="744.97" y="27.25" font-size="8.00" font-style="italic" font-weight="normal" fill="#111" stroke="#111" stroke-width="0.40">dc</text>
<text x="626.88" y="97.50" font-size="12.00" font-style="italic" font-weight="bold" fill="#111" stroke="#111" stroke-width="0.55">i</text>
<text x="629.88" y="100.10" font-size="8.30" font-style="italic" font-weight="normal" fill="#111" stroke="#111" stroke-width="0.40">gq+</text>
<text x="630.65" y="91.90" font-size="7.30" font-style="italic" font-weight="normal" fill="#111" stroke="#111" stroke-width="0.40">+*</text>
<text x="655.08" y="96.60" font-size="12.00" font-style="italic" font-weight="bold" fill="#111" stroke="#111" stroke-width="0.55">i</text>
<text x="658.02" y="99.60" font-size="8.30" font-style="italic" font-weight="normal" fill="#111" stroke="#111" stroke-width="0.40">gq+</text>
<text x="659.50" y="92.15" font-size="7.30" font-style="italic" font-weight="normal" fill="#111" stroke="#111" stroke-width="0.40">+</text>
<text x="599.08" y="124.00" font-size="12.00" font-style="italic" font-weight="bold" fill="#111" stroke="#111" stroke-width="0.55">i</text>
<text x="602.62" y="126.60" font-size="8.30" font-style="italic" font-weight="normal" fill="#111" stroke="#111" stroke-width="0.40">gd+</text>
<text x="602.20" y="119.05" font-size="7.30" font-style="italic" font-weight="normal" fill="#111" stroke="#111" stroke-width="0.40">+*</text>
<text x="624.17" y="123.45" font-size="12.00" font-style="italic" font-weight="bold" fill="#111" stroke="#111" stroke-width="0.55">i</text>
<text x="627.67" y="125.90" font-size="8.30" font-style="italic" font-weight="normal" fill="#111" stroke="#111" stroke-width="0.40">gd+</text>
<text x="629.30" y="118.10" font-size="7.30" font-style="italic" font-weight="normal" fill="#111" stroke="#111" stroke-width="0.40">+</text>
<text x="539.52" y="179.25" font-size="12.00" font-style="italic" font-weight="bold" fill="#111" stroke="#111" stroke-width="0.55">i</text>
<text x="542.45" y="180.90" font-size="8.30" font-style="italic" font-weight="normal" fill="#111" stroke="#111" stroke-width="0.40">gd5-</text>
<text x="544.55" y="174.65" font-size="7.30" font-style="italic" font-weight="normal" fill="#111" stroke="#111" stroke-width="0.40">s-*</text>
<text x="575.67" y="207.80" font-size="12.00" font-style="italic" font-weight="bold" fill="#111" stroke="#111" stroke-width="0.55">i</text>
<text x="578.80" y="211.18" font-size="8.30" font-style="italic" font-weight="normal" fill="#111" stroke="#111" stroke-width="0.40">gq5-</text>
<text x="580.55" y="203.95" font-size="7.30" font-style="italic" font-weight="normal" fill="#111" stroke="#111" stroke-width="0.40">s-*</text>
<text x="605.58" y="173.05" font-size="12.00" font-style="italic" font-weight="bold" fill="#111" stroke="#111" stroke-width="0.55">i</text>
<text x="608.40" y="175.65" font-size="8.30" font-style="italic" font-weight="normal" fill="#111" stroke="#111" stroke-width="0.40">gd5-</text>
<text x="610.40" y="169.28" font-size="7.30" font-style="italic" font-weight="normal" fill="#111" stroke="#111" stroke-width="0.40">s-</text>
<text x="612.98" y="205.35" font-size="12.00" font-style="italic" font-weight="bold" fill="#111" stroke="#111" stroke-width="0.55">i</text>
<text x="616.70" y="208.47" font-size="8.30" font-style="italic" font-weight="normal" fill="#111" stroke="#111" stroke-width="0.40">gq5-</text>
<text x="618.85" y="199.93" font-size="7.30" font-style="italic" font-weight="normal" fill="#111" stroke="#111" stroke-width="0.40">s-</text>
<text x="871.20" y="19.30" font-size="11.50" font-style="italic" font-weight="bold" fill="#111" stroke="#111" stroke-width="0.55">u</text>
<text x="878.65" y="21.77" font-size="8.60" font-style="italic" font-weight="normal" fill="#111" stroke="#111" stroke-width="0.40">sd5-</text>
<text x="879.55" y="14.93" font-size="7.30" font-style="italic" font-weight="normal" fill="#111" stroke="#111" stroke-width="0.40">s-</text>
<text x="902.15" y="42.40" font-size="11.50" font-style="italic" font-weight="bold" fill="#111" stroke="#111" stroke-width="0.55">u</text>
<text x="909.15" y="45.05" font-size="8.60" font-style="italic" font-weight="normal" fill="#111" stroke="#111" stroke-width="0.40">gd5-</text>
<text x="911.00" y="38.47" font-size="7.30" font-style="italic" font-weight="normal" fill="#111" stroke="#111" stroke-width="0.40">s-</text>
<text x="871.20" y="94.90" font-size="11.50" font-style="italic" font-weight="bold" fill="#111" stroke="#111" stroke-width="0.55">u</text>
<text x="878.05" y="97.97" font-size="8.60" font-style="italic" font-weight="normal" fill="#111" stroke="#111" stroke-width="0.40">sq5-</text>
<text x="879.50" y="90.88" font-size="7.30" font-style="italic" font-weight="normal" fill="#111" stroke="#111" stroke-width="0.40">s-</text>
<text x="899.45" y="116.95" font-size="11.50" font-style="italic" font-weight="bold" fill="#111" stroke="#111" stroke-width="0.55">u</text>
<text x="906.45" y="120.17" font-size="8.60" font-style="italic" font-weight="normal" fill="#111" stroke="#111" stroke-width="0.40">gq5-</text>
<text x="908.50" y="112.67" font-size="7.30" font-style="italic" font-weight="normal" fill="#111" stroke="#111" stroke-width="0.40">s-</text>
<text x="854.00" y="171.50" font-size="11.50" font-style="italic" font-weight="bold" fill="#111" stroke="#111" stroke-width="0.55">u</text>
<text x="861.10" y="173.65" font-size="8.60" font-style="italic" font-weight="normal" fill="#111" stroke="#111" stroke-width="0.40">gd7+</text>
<text x="861.28" y="168.25" font-size="6.80" font-style="italic" font-weight="normal" fill="#111" stroke="#111" stroke-width="0.40">7+</text>
<text x="882.85" y="172.95" font-size="11.50" font-style="italic" font-weight="bold" fill="#111" stroke="#111" stroke-width="0.55">u</text>
<text x="889.45" y="175.82" font-size="8.60" font-style="italic" font-weight="normal" fill="#111" stroke="#111" stroke-width="0.40">sq7+</text>
<text x="890.38" y="169.15" font-size="6.80" font-style="italic" font-weight="normal" fill="#111" stroke="#111" stroke-width="0.40">7+</text>
<text x="867.80" y="212.10" font-size="11.50" font-style="italic" font-weight="bold" fill="#111" stroke="#111" stroke-width="0.55">u</text>
<text x="874.90" y="214.23" font-size="8.60" font-style="italic" font-weight="normal" fill="#111" stroke="#111" stroke-width="0.40">sd7+</text>
<text x="875.48" y="208.30" font-size="6.80" font-style="italic" font-weight="normal" fill="#111" stroke="#111" stroke-width="0.40">7+</text>
<text x="930.30" y="171.85" font-size="11.50" font-style="italic" font-weight="bold" fill="#111" stroke="#111" stroke-width="0.55">u</text>
<text x="936.90" y="174.43" font-size="8.60" font-style="italic" font-weight="normal" fill="#111" stroke="#111" stroke-width="0.40">gq7+</text>
<text x="938.62" y="168.60" font-size="6.80" font-style="italic" font-weight="normal" fill="#111" stroke="#111" stroke-width="0.40">7+</text>
<text x="123.50" y="77.00" font-size="11.00" text-anchor="middle" fill="#111" stroke="#111" stroke-width="0.12">(c)</text>
<text x="124.00" y="153.30" font-size="11.00" text-anchor="middle" fill="#111" stroke="#111" stroke-width="0.12">(d)</text>
<text x="124.70" y="237.40" font-size="11.00" text-anchor="middle" fill="#111" stroke="#111" stroke-width="0.12">(e)</text>
<g transform="translate(124.90,249.40) scale(0.940,1)">
<text x="0.00" y="0.00" font-size="11.80" text-anchor="middle" fill="#111" stroke="#111" stroke-width="0.12">Time(sec)</text>
</g>
<text x="384.30" y="77.00" font-size="11.00" text-anchor="middle" fill="#111" stroke="#111" stroke-width="0.12">(h)</text>
<text x="384.10" y="153.30" font-size="11.00" text-anchor="middle" fill="#111" stroke="#111" stroke-width="0.12">(i)</text>
<text x="384.60" y="237.40" font-size="11.00" text-anchor="middle" fill="#111" stroke="#111" stroke-width="0.12">(j)</text>
<g transform="translate(384.80,249.40) scale(0.940,1)">
<text x="0.00" y="0.00" font-size="11.80" text-anchor="middle" fill="#111" stroke="#111" stroke-width="0.12">Time(sec)</text>
</g>
<text x="644.95" y="77.00" font-size="11.00" text-anchor="middle" fill="#111" stroke="#111" stroke-width="0.12">(m)</text>
<text x="645.05" y="153.30" font-size="11.00" text-anchor="middle" fill="#111" stroke="#111" stroke-width="0.12">(n)</text>
<text x="645.05" y="237.40" font-size="11.00" text-anchor="middle" fill="#111" stroke="#111" stroke-width="0.12">(o)</text>
<g transform="translate(645.25,249.40) scale(0.940,1)">
<text x="0.00" y="0.00" font-size="11.80" text-anchor="middle" fill="#111" stroke="#111" stroke-width="0.12">Time(sec)</text>
</g>
<text x="904.50" y="78.50" font-size="11.00" text-anchor="middle" fill="#111" stroke="#111" stroke-width="0.12">(r)</text>
<text x="904.60" y="153.30" font-size="11.00" text-anchor="middle" fill="#111" stroke="#111" stroke-width="0.12">(s)</text>
<text x="904.40" y="237.40" font-size="11.00" text-anchor="middle" fill="#111" stroke="#111" stroke-width="0.12">(t)</text>
<g transform="translate(904.60,249.40) scale(0.940,1)">
<text x="0.00" y="0.00" font-size="11.80" text-anchor="middle" fill="#111" stroke="#111" stroke-width="0.12">Time(sec)</text>
</g>
</g>
</svg>
</body></html>
